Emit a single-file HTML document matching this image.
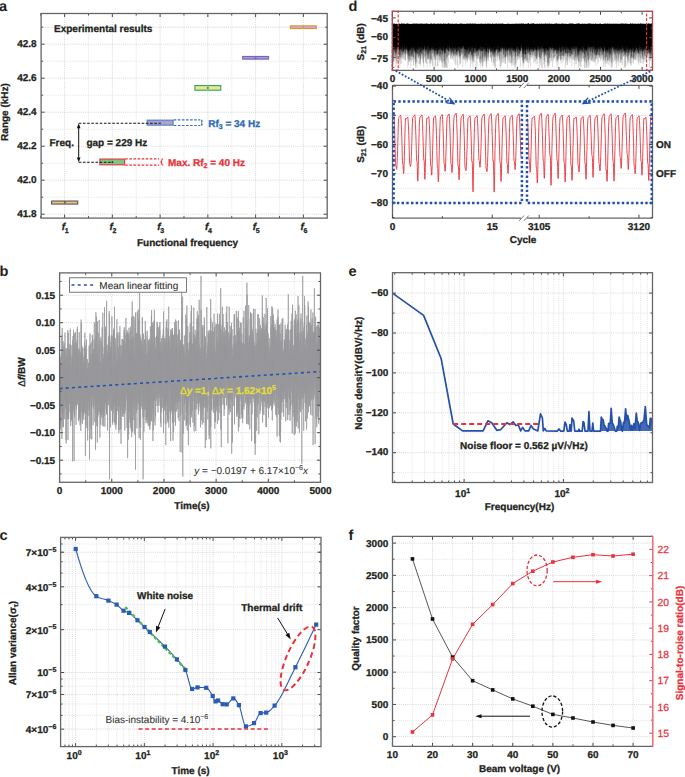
<!DOCTYPE html><html><head><meta charset="utf-8"><style>html,body{margin:0;padding:0;background:#fff}svg{display:block}</style></head><body>
<svg width="685" height="777" viewBox="0 0 685 777" font-family="Liberation Sans, sans-serif" text-rendering="geometricPrecision">
<rect width="685" height="777" fill="#fff"/>
<line x1="41.1" y1="214.2" x2="327.2" y2="214.2" stroke="#cdcdcd" stroke-width="0.8" stroke-dasharray="1 1.1"/>
<line x1="41.1" y1="197.2" x2="327.2" y2="197.2" stroke="#dddddd" stroke-width="0.8" stroke-dasharray="1 1.1"/>
<line x1="41.1" y1="180.2" x2="327.2" y2="180.2" stroke="#cdcdcd" stroke-width="0.8" stroke-dasharray="1 1.1"/>
<line x1="41.1" y1="163.2" x2="327.2" y2="163.2" stroke="#dddddd" stroke-width="0.8" stroke-dasharray="1 1.1"/>
<line x1="41.1" y1="146.2" x2="327.2" y2="146.2" stroke="#cdcdcd" stroke-width="0.8" stroke-dasharray="1 1.1"/>
<line x1="41.1" y1="129.2" x2="327.2" y2="129.2" stroke="#dddddd" stroke-width="0.8" stroke-dasharray="1 1.1"/>
<line x1="41.1" y1="112.2" x2="327.2" y2="112.2" stroke="#cdcdcd" stroke-width="0.8" stroke-dasharray="1 1.1"/>
<line x1="41.1" y1="95.2" x2="327.2" y2="95.2" stroke="#dddddd" stroke-width="0.8" stroke-dasharray="1 1.1"/>
<line x1="41.1" y1="78.2" x2="327.2" y2="78.2" stroke="#cdcdcd" stroke-width="0.8" stroke-dasharray="1 1.1"/>
<line x1="41.1" y1="61.2" x2="327.2" y2="61.2" stroke="#dddddd" stroke-width="0.8" stroke-dasharray="1 1.1"/>
<line x1="41.1" y1="44.2" x2="327.2" y2="44.2" stroke="#cdcdcd" stroke-width="0.8" stroke-dasharray="1 1.1"/>
<line x1="41.1" y1="27.2" x2="327.2" y2="27.2" stroke="#dddddd" stroke-width="0.8" stroke-dasharray="1 1.1"/>
<line x1="41.1" y1="27.2" x2="327.2" y2="27.2" stroke="#dddddd" stroke-width="0.8" stroke-dasharray="1 1.1"/>
<line x1="64.6" y1="13.5" x2="64.6" y2="218.1" stroke="#cdcdcd" stroke-width="0.8" stroke-dasharray="1 1.1"/>
<line x1="88.47" y1="13.5" x2="88.47" y2="218.1" stroke="#dddddd" stroke-width="0.8" stroke-dasharray="1 1.1"/>
<line x1="112.35" y1="13.5" x2="112.35" y2="218.1" stroke="#cdcdcd" stroke-width="0.8" stroke-dasharray="1 1.1"/>
<line x1="136.22" y1="13.5" x2="136.22" y2="218.1" stroke="#dddddd" stroke-width="0.8" stroke-dasharray="1 1.1"/>
<line x1="160.1" y1="13.5" x2="160.1" y2="218.1" stroke="#cdcdcd" stroke-width="0.8" stroke-dasharray="1 1.1"/>
<line x1="183.97" y1="13.5" x2="183.97" y2="218.1" stroke="#dddddd" stroke-width="0.8" stroke-dasharray="1 1.1"/>
<line x1="207.85" y1="13.5" x2="207.85" y2="218.1" stroke="#cdcdcd" stroke-width="0.8" stroke-dasharray="1 1.1"/>
<line x1="231.72" y1="13.5" x2="231.72" y2="218.1" stroke="#dddddd" stroke-width="0.8" stroke-dasharray="1 1.1"/>
<line x1="255.6" y1="13.5" x2="255.6" y2="218.1" stroke="#cdcdcd" stroke-width="0.8" stroke-dasharray="1 1.1"/>
<line x1="279.48" y1="13.5" x2="279.48" y2="218.1" stroke="#dddddd" stroke-width="0.8" stroke-dasharray="1 1.1"/>
<line x1="303.35" y1="13.5" x2="303.35" y2="218.1" stroke="#cdcdcd" stroke-width="0.8" stroke-dasharray="1 1.1"/>
<line x1="327.23" y1="13.5" x2="327.23" y2="218.1" stroke="#dddddd" stroke-width="0.8" stroke-dasharray="1 1.1"/>
<line x1="41.1" y1="214.2" x2="44.6" y2="214.2" stroke="#4a4a4a" stroke-width="1"/>
<line x1="327.2" y1="214.2" x2="323.7" y2="214.2" stroke="#4a4a4a" stroke-width="1"/>
<line x1="41.1" y1="180.2" x2="44.6" y2="180.2" stroke="#4a4a4a" stroke-width="1"/>
<line x1="327.2" y1="180.2" x2="323.7" y2="180.2" stroke="#4a4a4a" stroke-width="1"/>
<line x1="41.1" y1="146.2" x2="44.6" y2="146.2" stroke="#4a4a4a" stroke-width="1"/>
<line x1="327.2" y1="146.2" x2="323.7" y2="146.2" stroke="#4a4a4a" stroke-width="1"/>
<line x1="41.1" y1="112.2" x2="44.6" y2="112.2" stroke="#4a4a4a" stroke-width="1"/>
<line x1="327.2" y1="112.2" x2="323.7" y2="112.2" stroke="#4a4a4a" stroke-width="1"/>
<line x1="41.1" y1="78.2" x2="44.6" y2="78.2" stroke="#4a4a4a" stroke-width="1"/>
<line x1="327.2" y1="78.2" x2="323.7" y2="78.2" stroke="#4a4a4a" stroke-width="1"/>
<line x1="41.1" y1="44.2" x2="44.6" y2="44.2" stroke="#4a4a4a" stroke-width="1"/>
<line x1="327.2" y1="44.2" x2="323.7" y2="44.2" stroke="#4a4a4a" stroke-width="1"/>
<line x1="41.1" y1="197.2" x2="43.1" y2="197.2" stroke="#4a4a4a" stroke-width="1"/>
<line x1="327.2" y1="197.2" x2="325.2" y2="197.2" stroke="#4a4a4a" stroke-width="1"/>
<line x1="41.1" y1="163.2" x2="43.1" y2="163.2" stroke="#4a4a4a" stroke-width="1"/>
<line x1="327.2" y1="163.2" x2="325.2" y2="163.2" stroke="#4a4a4a" stroke-width="1"/>
<line x1="41.1" y1="129.2" x2="43.1" y2="129.2" stroke="#4a4a4a" stroke-width="1"/>
<line x1="327.2" y1="129.2" x2="325.2" y2="129.2" stroke="#4a4a4a" stroke-width="1"/>
<line x1="41.1" y1="95.2" x2="43.1" y2="95.2" stroke="#4a4a4a" stroke-width="1"/>
<line x1="327.2" y1="95.2" x2="325.2" y2="95.2" stroke="#4a4a4a" stroke-width="1"/>
<line x1="41.1" y1="61.2" x2="43.1" y2="61.2" stroke="#4a4a4a" stroke-width="1"/>
<line x1="327.2" y1="61.2" x2="325.2" y2="61.2" stroke="#4a4a4a" stroke-width="1"/>
<line x1="41.1" y1="27.2" x2="43.1" y2="27.2" stroke="#4a4a4a" stroke-width="1"/>
<line x1="327.2" y1="27.2" x2="325.2" y2="27.2" stroke="#4a4a4a" stroke-width="1"/>
<line x1="64.6" y1="218.1" x2="64.6" y2="214.6" stroke="#4a4a4a" stroke-width="1"/>
<line x1="64.6" y1="13.5" x2="64.6" y2="17" stroke="#4a4a4a" stroke-width="1"/>
<line x1="112.35" y1="218.1" x2="112.35" y2="214.6" stroke="#4a4a4a" stroke-width="1"/>
<line x1="112.35" y1="13.5" x2="112.35" y2="17" stroke="#4a4a4a" stroke-width="1"/>
<line x1="160.1" y1="218.1" x2="160.1" y2="214.6" stroke="#4a4a4a" stroke-width="1"/>
<line x1="160.1" y1="13.5" x2="160.1" y2="17" stroke="#4a4a4a" stroke-width="1"/>
<line x1="207.85" y1="218.1" x2="207.85" y2="214.6" stroke="#4a4a4a" stroke-width="1"/>
<line x1="207.85" y1="13.5" x2="207.85" y2="17" stroke="#4a4a4a" stroke-width="1"/>
<line x1="255.6" y1="218.1" x2="255.6" y2="214.6" stroke="#4a4a4a" stroke-width="1"/>
<line x1="255.6" y1="13.5" x2="255.6" y2="17" stroke="#4a4a4a" stroke-width="1"/>
<line x1="303.35" y1="218.1" x2="303.35" y2="214.6" stroke="#4a4a4a" stroke-width="1"/>
<line x1="303.35" y1="13.5" x2="303.35" y2="17" stroke="#4a4a4a" stroke-width="1"/>
<line x1="40.72" y1="218.1" x2="40.72" y2="216.1" stroke="#4a4a4a" stroke-width="1"/>
<line x1="40.72" y1="13.5" x2="40.72" y2="15.5" stroke="#4a4a4a" stroke-width="1"/>
<line x1="88.47" y1="218.1" x2="88.47" y2="216.1" stroke="#4a4a4a" stroke-width="1"/>
<line x1="88.47" y1="13.5" x2="88.47" y2="15.5" stroke="#4a4a4a" stroke-width="1"/>
<line x1="136.22" y1="218.1" x2="136.22" y2="216.1" stroke="#4a4a4a" stroke-width="1"/>
<line x1="136.22" y1="13.5" x2="136.22" y2="15.5" stroke="#4a4a4a" stroke-width="1"/>
<line x1="183.97" y1="218.1" x2="183.97" y2="216.1" stroke="#4a4a4a" stroke-width="1"/>
<line x1="183.97" y1="13.5" x2="183.97" y2="15.5" stroke="#4a4a4a" stroke-width="1"/>
<line x1="231.72" y1="218.1" x2="231.72" y2="216.1" stroke="#4a4a4a" stroke-width="1"/>
<line x1="231.72" y1="13.5" x2="231.72" y2="15.5" stroke="#4a4a4a" stroke-width="1"/>
<line x1="279.48" y1="218.1" x2="279.48" y2="216.1" stroke="#4a4a4a" stroke-width="1"/>
<line x1="279.48" y1="13.5" x2="279.48" y2="15.5" stroke="#4a4a4a" stroke-width="1"/>
<rect x="41.1" y="13.5" width="286.1" height="204.6" fill="none" stroke="#666" stroke-width="1.3"/>
<text x="36.6" y="217.3" font-size="10" text-anchor="end" font-weight="bold" fill="#231f20" stroke="#231f20" stroke-width="0.28">41.8</text>
<text x="36.6" y="183.3" font-size="10" text-anchor="end" font-weight="bold" fill="#231f20" stroke="#231f20" stroke-width="0.28">42.0</text>
<text x="36.6" y="149.3" font-size="10" text-anchor="end" font-weight="bold" fill="#231f20" stroke="#231f20" stroke-width="0.28">42.2</text>
<text x="36.6" y="115.3" font-size="10" text-anchor="end" font-weight="bold" fill="#231f20" stroke="#231f20" stroke-width="0.28">42.4</text>
<text x="36.6" y="81.3" font-size="10" text-anchor="end" font-weight="bold" fill="#231f20" stroke="#231f20" stroke-width="0.28">42.6</text>
<text x="36.6" y="47.3" font-size="10" text-anchor="end" font-weight="bold" fill="#231f20" stroke="#231f20" stroke-width="0.28">42.8</text>
<text x="61.8" y="230" font-size="10" font-weight="bold" fill="#231f20" stroke="#231f20" stroke-width="0.28"><tspan font-style="italic">f</tspan><tspan font-size="7" dx="-0.5" dy="2.7">1</tspan></text>
<text x="109.55" y="230" font-size="10" font-weight="bold" fill="#231f20" stroke="#231f20" stroke-width="0.28"><tspan font-style="italic">f</tspan><tspan font-size="7" dx="-0.5" dy="2.7">2</tspan></text>
<text x="157.3" y="230" font-size="10" font-weight="bold" fill="#231f20" stroke="#231f20" stroke-width="0.28"><tspan font-style="italic">f</tspan><tspan font-size="7" dx="-0.5" dy="2.7">3</tspan></text>
<text x="205.05" y="230" font-size="10" font-weight="bold" fill="#231f20" stroke="#231f20" stroke-width="0.28"><tspan font-style="italic">f</tspan><tspan font-size="7" dx="-0.5" dy="2.7">4</tspan></text>
<text x="252.8" y="230" font-size="10" font-weight="bold" fill="#231f20" stroke="#231f20" stroke-width="0.28"><tspan font-style="italic">f</tspan><tspan font-size="7" dx="-0.5" dy="2.7">5</tspan></text>
<text x="300.55" y="230" font-size="10" font-weight="bold" fill="#231f20" stroke="#231f20" stroke-width="0.28"><tspan font-style="italic">f</tspan><tspan font-size="7" dx="-0.5" dy="2.7">6</tspan></text>
<text x="187.5" y="246.2" font-size="10" text-anchor="middle" font-weight="bold" fill="#231f20" stroke="#231f20" stroke-width="0.28">Functional frequency</text>
<text x="0" y="0" font-size="10" text-anchor="middle" font-weight="bold" fill="#231f20" transform="translate(8.4,112) rotate(-90)" stroke="#231f20" stroke-width="0.28">Range (kHz)</text>
<text x="54" y="31.6" font-size="10" text-anchor="start" font-weight="bold" fill="#231f20" stroke="#231f20" stroke-width="0.28">Experimental results</text>
<rect x="290.4" y="25.85" width="25.9" height="2.7" fill="#dca3cf" stroke="#d29a2e" stroke-width="1.1"/>
<line x1="303.35" y1="25.85" x2="303.35" y2="28.55" stroke="#d29a2e" stroke-width="1"/>
<rect x="242.65" y="56.45" width="25.9" height="2.7" fill="#84a9d9" stroke="#8a5cb6" stroke-width="1.1"/>
<path d="M254.1,59 L255.6,56.5 L257.1,59Z" fill="#8a5cb6"/>
<rect x="194.9" y="85.59" width="25.9" height="4.6" fill="#ebe794" stroke="#2aa65c" stroke-width="1.1"/>
<circle cx="207.85" cy="87.89" r="1.1" fill="#2aa65c"/>
<rect x="147.15" y="120.15" width="26" height="5" fill="#b1a2c9" stroke="#4c7cc9" stroke-width="1.1"/>
<rect x="99.85" y="159.05" width="24.8" height="5.8" fill="#84c185" stroke="#e0353d" stroke-width="1.1"/>
<rect x="51.65" y="201.05" width="26.1" height="3" fill="#f8c185" stroke="#555" stroke-width="1.1"/>
<path d="M64.3,201 L66,202.5 L64.3,204Z" fill="#444"/>
<line x1="78.7" y1="123.3" x2="160" y2="123.3" stroke="#111" stroke-width="1.1" stroke-dasharray="2.6 1.6"/>
<line x1="78.7" y1="162.3" x2="112.4" y2="162.3" stroke="#111" stroke-width="1.1" stroke-dasharray="2.6 1.6"/>
<circle cx="160.2" cy="123.2" r="1" fill="#2a5cbb"/>
<circle cx="112.4" cy="162.2" r="0.9" fill="#222"/>
<line x1="78.7" y1="126" x2="78.7" y2="159.6" stroke="#111" stroke-width="1"/>
<path d="M78.7,123.3 L76.9,128.2 L80.5,128.2Z" fill="#111"/>
<path d="M78.7,162.3 L76.9,157.4 L80.5,157.4Z" fill="#111"/>
<line x1="173.7" y1="119.9" x2="200.3" y2="119.9" stroke="#3a6fc4" stroke-width="1.1" stroke-dasharray="2.6 1.5"/>
<line x1="173.7" y1="125.5" x2="200.3" y2="125.5" stroke="#3a6fc4" stroke-width="1.1" stroke-dasharray="2.6 1.5"/>
<line x1="201.8" y1="120" x2="201.8" y2="125.5" stroke="#3a6fc4" stroke-width="0.9"/>
<path d="M201.8,119.6 L200.8,121.6 L202.8,121.6Z M201.8,125.9 L200.8,123.9 L202.8,123.9Z" fill="#3a6fc4"/>
<line x1="125.2" y1="158.9" x2="159" y2="158.9" stroke="#e8323c" stroke-width="1.1" stroke-dasharray="2.6 1.5"/>
<line x1="125.2" y1="165.1" x2="159" y2="165.1" stroke="#e8323c" stroke-width="1.1" stroke-dasharray="2.6 1.5"/>
<path d="M163.2,158.7 C161.8,158.7 161.7,159.3 161.7,160.5 L161.7,161.1 C161.7,161.7 161.2,162 160.4,162 C161.2,162 161.7,162.3 161.7,162.9 L161.7,163.5 C161.7,164.7 161.8,165.3 163.2,165.3" fill="none" stroke="#e8323c" stroke-width="1.1"/>
<text x="49.5" y="145.9" font-size="10" text-anchor="start" font-weight="bold" fill="#231f20" stroke="#231f20" stroke-width="0.28">Freq.</text>
<text x="86.4" y="145.9" font-size="10" text-anchor="start" font-weight="bold" fill="#231f20" stroke="#231f20" stroke-width="0.28">gap = 229 Hz</text>
<text x="208.2" y="127" font-size="10" font-weight="bold" fill="#2f6ab6" stroke="#2f6ab6" stroke-width="0.28">Rf<tspan font-size="7" dy="2.3">3</tspan><tspan dy="-2.3"> = 34 Hz</tspan></text>
<text x="168" y="165.6" font-size="10" font-weight="bold" fill="#e8323c" stroke="#e8323c" stroke-width="0.28">Max. Rf<tspan font-size="7" dy="2.3">2</tspan><tspan dy="-2.3"> = 40 Hz</tspan></text>
<line x1="59.6" y1="473.95" x2="320.5" y2="473.95" stroke="#dddddd" stroke-width="0.8" stroke-dasharray="1 1.1"/>
<line x1="59.6" y1="460.2" x2="320.5" y2="460.2" stroke="#cdcdcd" stroke-width="0.8" stroke-dasharray="1 1.1"/>
<line x1="59.6" y1="446.45" x2="320.5" y2="446.45" stroke="#dddddd" stroke-width="0.8" stroke-dasharray="1 1.1"/>
<line x1="59.6" y1="432.7" x2="320.5" y2="432.7" stroke="#cdcdcd" stroke-width="0.8" stroke-dasharray="1 1.1"/>
<line x1="59.6" y1="418.95" x2="320.5" y2="418.95" stroke="#dddddd" stroke-width="0.8" stroke-dasharray="1 1.1"/>
<line x1="59.6" y1="405.2" x2="320.5" y2="405.2" stroke="#cdcdcd" stroke-width="0.8" stroke-dasharray="1 1.1"/>
<line x1="59.6" y1="391.45" x2="320.5" y2="391.45" stroke="#dddddd" stroke-width="0.8" stroke-dasharray="1 1.1"/>
<line x1="59.6" y1="377.7" x2="320.5" y2="377.7" stroke="#cdcdcd" stroke-width="0.8" stroke-dasharray="1 1.1"/>
<line x1="59.6" y1="363.95" x2="320.5" y2="363.95" stroke="#dddddd" stroke-width="0.8" stroke-dasharray="1 1.1"/>
<line x1="59.6" y1="350.2" x2="320.5" y2="350.2" stroke="#cdcdcd" stroke-width="0.8" stroke-dasharray="1 1.1"/>
<line x1="59.6" y1="336.45" x2="320.5" y2="336.45" stroke="#dddddd" stroke-width="0.8" stroke-dasharray="1 1.1"/>
<line x1="59.6" y1="322.7" x2="320.5" y2="322.7" stroke="#cdcdcd" stroke-width="0.8" stroke-dasharray="1 1.1"/>
<line x1="59.6" y1="308.95" x2="320.5" y2="308.95" stroke="#dddddd" stroke-width="0.8" stroke-dasharray="1 1.1"/>
<line x1="59.6" y1="295.2" x2="320.5" y2="295.2" stroke="#cdcdcd" stroke-width="0.8" stroke-dasharray="1 1.1"/>
<line x1="59.6" y1="281.45" x2="320.5" y2="281.45" stroke="#dddddd" stroke-width="0.8" stroke-dasharray="1 1.1"/>
<line x1="85.69" y1="272.9" x2="85.69" y2="482.3" stroke="#dddddd" stroke-width="0.8" stroke-dasharray="1 1.1"/>
<line x1="111.78" y1="272.9" x2="111.78" y2="482.3" stroke="#cdcdcd" stroke-width="0.8" stroke-dasharray="1 1.1"/>
<line x1="137.87" y1="272.9" x2="137.87" y2="482.3" stroke="#dddddd" stroke-width="0.8" stroke-dasharray="1 1.1"/>
<line x1="163.96" y1="272.9" x2="163.96" y2="482.3" stroke="#cdcdcd" stroke-width="0.8" stroke-dasharray="1 1.1"/>
<line x1="190.05" y1="272.9" x2="190.05" y2="482.3" stroke="#dddddd" stroke-width="0.8" stroke-dasharray="1 1.1"/>
<line x1="216.14" y1="272.9" x2="216.14" y2="482.3" stroke="#cdcdcd" stroke-width="0.8" stroke-dasharray="1 1.1"/>
<line x1="242.23" y1="272.9" x2="242.23" y2="482.3" stroke="#dddddd" stroke-width="0.8" stroke-dasharray="1 1.1"/>
<line x1="268.32" y1="272.9" x2="268.32" y2="482.3" stroke="#cdcdcd" stroke-width="0.8" stroke-dasharray="1 1.1"/>
<line x1="294.41" y1="272.9" x2="294.41" y2="482.3" stroke="#dddddd" stroke-width="0.8" stroke-dasharray="1 1.1"/>
<polygon points="60.1,363.8 61.1,375.4 62.1,355.6 63.1,358.3 64.1,353.8 65.1,362.4 66.1,357.2 67.1,363.1 68.1,369.1 69.1,358.8 70.1,349.1 71.1,377.2 72.1,368.0 73.1,353.9 74.1,357.9 75.1,346.5 76.1,374.9 77.1,342.5 78.1,362.0 79.1,355.3 80.1,356.9 81.1,351.9 82.1,377.2 83.1,362.2 84.1,369.0 85.1,352.4 86.1,352.6 87.1,369.5 88.1,374.9 89.1,363.2 90.1,358.1 91.1,366.2 92.1,351.0 93.1,354.0 94.1,349.1 95.1,360.7 96.1,334.3 97.1,357.7 98.1,341.7 99.1,361.6 100.1,362.2 101.1,365.7 102.1,357.8 103.1,363.7 104.1,354.6 105.1,348.4 106.1,374.9 107.1,351.3 108.1,357.1 109.1,353.8 110.1,347.5 111.1,356.9 112.1,363.6 113.1,365.0 114.1,349.4 115.1,357.5 116.1,366.8 117.1,358.4 118.1,362.0 119.1,352.7 120.1,365.9 121.1,364.2 122.1,349.0 123.1,357.5 124.1,343.7 125.1,360.2 126.1,352.8 127.1,337.8 128.1,346.1 129.1,339.6 130.1,352.1 131.1,357.7 132.1,338.6 133.1,353.2 134.1,357.2 135.1,333.7 136.1,352.3 137.1,361.6 138.1,335.6 139.1,341.8 140.1,340.0 141.1,353.0 142.1,354.9 143.1,358.4 144.1,360.2 145.1,361.3 146.1,353.3 147.1,357.6 148.1,366.0 149.1,349.5 150.1,352.4 151.1,339.7 152.1,343.2 153.1,364.4 154.1,339.2 155.1,365.3 156.1,352.1 157.1,348.5 158.1,341.7 159.1,342.3 160.1,347.1 161.1,356.8 162.1,360.0 163.1,343.9 164.1,360.8 165.1,342.6 166.1,344.0 167.1,360.9 168.1,342.0 169.1,341.9 170.1,351.2 171.1,343.7 172.1,344.5 173.1,350.7 174.1,355.2 175.1,356.6 176.1,347.2 177.1,347.5 178.1,355.6 179.1,351.0 180.1,349.2 181.1,345.0 182.1,341.0 183.1,347.9 184.1,358.0 185.1,364.5 186.1,352.6 187.1,349.8 188.1,348.9 189.1,357.2 190.1,349.2 191.1,341.7 192.1,364.0 193.1,339.7 194.1,342.3 195.1,346.7 196.1,352.2 197.1,331.5 198.1,337.2 199.1,344.7 200.1,359.8 201.1,355.6 202.1,356.4 203.1,363.2 204.1,340.0 205.1,344.1 206.1,359.7 207.1,358.5 208.1,348.9 209.1,336.8 210.1,350.3 211.1,336.1 212.1,347.2 213.1,350.7 214.1,347.8 215.1,351.8 216.1,356.5 217.1,349.1 218.1,356.5 219.1,344.3 220.1,339.8 221.1,339.5 222.1,341.7 223.1,349.1 224.1,339.6 225.1,348.8 226.1,347.3 227.1,325.3 228.1,351.3 229.1,349.2 230.1,340.9 231.1,332.4 232.1,361.3 233.1,357.0 234.1,348.6 235.1,349.4 236.1,348.1 237.1,348.9 238.1,331.6 239.1,333.2 240.1,349.1 241.1,341.9 242.1,351.4 243.1,353.7 244.1,352.4 245.1,346.6 246.1,355.1 247.1,326.8 248.1,361.5 249.1,336.0 250.1,342.5 251.1,330.3 252.1,341.9 253.1,337.3 254.1,350.0 255.1,349.5 256.1,343.2 257.1,350.0 258.1,338.3 259.1,342.2 260.1,341.3 261.1,343.0 262.1,341.1 263.1,337.3 264.1,338.3 265.1,339.5 266.1,338.6 267.1,346.4 268.1,343.3 269.1,358.8 270.1,348.6 271.1,340.5 272.1,342.1 273.1,338.7 274.1,336.8 275.1,331.4 276.1,349.1 277.1,344.5 278.1,332.1 279.1,346.5 280.1,352.5 281.1,350.8 282.1,354.8 283.1,354.0 284.1,354.8 285.1,341.3 286.1,340.1 287.1,353.5 288.1,338.9 289.1,356.2 290.1,348.4 291.1,340.1 292.1,337.9 293.1,355.5 294.1,352.9 295.1,330.0 296.1,343.5 297.1,343.3 298.1,332.0 299.1,346.1 300.1,342.8 301.1,353.4 302.1,350.9 303.1,339.8 304.1,328.5 305.1,353.9 306.1,350.1 307.1,341.9 308.1,334.2 309.1,330.3 310.1,329.2 311.1,340.3 312.1,346.6 313.1,332.8 314.1,334.4 315.1,341.9 316.1,353.7 317.1,343.8 318.1,345.8 319.1,338.7 320.1,349.0 320.1,381.6 319.1,380.9 318.1,403.6 317.1,402.0 316.1,379.3 315.1,381.6 314.1,380.2 313.1,390.6 312.1,385.3 311.1,391.8 310.1,380.5 309.1,384.9 308.1,385.0 307.1,390.3 306.1,396.9 305.1,396.5 304.1,382.3 303.1,387.2 302.1,393.3 301.1,397.0 300.1,376.8 299.1,399.7 298.1,386.4 297.1,390.2 296.1,382.7 295.1,380.5 294.1,403.2 293.1,392.2 292.1,393.3 291.1,376.2 290.1,399.5 289.1,390.1 288.1,383.0 287.1,392.4 286.1,402.0 285.1,387.2 284.1,386.7 283.1,388.5 282.1,392.0 281.1,412.7 280.1,390.8 279.1,395.3 278.1,396.6 277.1,388.9 276.1,390.0 275.1,379.9 274.1,387.9 273.1,390.1 272.1,398.7 271.1,378.8 270.1,382.0 269.1,397.7 268.1,401.4 267.1,387.4 266.1,395.4 265.1,393.0 264.1,393.5 263.1,400.0 262.1,388.4 261.1,391.1 260.1,388.2 259.1,381.2 258.1,391.1 257.1,383.7 256.1,398.8 255.1,387.8 254.1,397.9 253.1,383.6 252.1,392.5 251.1,396.4 250.1,387.1 249.1,385.2 248.1,405.0 247.1,391.8 246.1,386.0 245.1,381.2 244.1,393.0 243.1,392.2 242.1,392.2 241.1,403.0 240.1,379.7 239.1,401.6 238.1,393.1 237.1,413.1 236.1,376.1 235.1,378.8 234.1,391.8 233.1,380.9 232.1,401.9 231.1,389.6 230.1,387.9 229.1,393.5 228.1,400.7 227.1,366.4 226.1,382.5 225.1,392.7 224.1,384.6 223.1,388.9 222.1,393.4 221.1,394.2 220.1,384.7 219.1,386.4 218.1,391.5 217.1,406.7 216.1,404.1 215.1,414.6 214.1,381.7 213.1,383.7 212.1,394.1 211.1,389.8 210.1,388.7 209.1,393.0 208.1,384.5 207.1,401.4 206.1,389.7 205.1,400.0 204.1,388.9 203.1,400.6 202.1,410.2 201.1,393.5 200.1,398.7 199.1,399.6 198.1,385.6 197.1,395.4 196.1,393.6 195.1,399.1 194.1,379.9 193.1,382.4 192.1,389.8 191.1,388.9 190.1,402.6 189.1,380.8 188.1,388.9 187.1,392.2 186.1,399.8 185.1,399.5 184.1,384.9 183.1,386.6 182.1,407.4 181.1,386.3 180.1,396.3 179.1,396.7 178.1,402.6 177.1,388.9 176.1,399.6 175.1,399.9 174.1,407.5 173.1,399.6 172.1,390.1 171.1,398.3 170.1,386.7 169.1,384.2 168.1,400.9 167.1,396.0 166.1,405.7 165.1,395.0 164.1,403.9 163.1,393.1 162.1,397.5 161.1,398.1 160.1,401.7 159.1,384.3 158.1,392.3 157.1,396.7 156.1,377.7 155.1,399.6 154.1,383.4 153.1,408.6 152.1,388.8 151.1,405.6 150.1,404.4 149.1,402.8 148.1,416.6 147.1,399.7 146.1,396.0 145.1,398.5 144.1,396.2 143.1,403.2 142.1,387.4 141.1,393.7 140.1,418.8 139.1,393.5 138.1,380.0 137.1,399.6 136.1,406.3 135.1,394.3 134.1,399.9 133.1,408.2 132.1,404.3 131.1,408.9 130.1,406.9 129.1,405.8 128.1,393.8 127.1,413.7 126.1,387.1 125.1,406.7 124.1,389.3 123.1,400.6 122.1,392.1 121.1,412.7 120.1,403.8 119.1,407.0 118.1,398.9 117.1,399.3 116.1,415.0 115.1,402.6 114.1,402.2 113.1,407.2 112.1,394.4 111.1,402.4 110.1,394.3 109.1,393.9 108.1,401.0 107.1,392.3 106.1,401.1 105.1,403.7 104.1,406.6 103.1,408.8 102.1,413.8 101.1,402.7 100.1,414.4 99.1,398.3 98.1,402.8 97.1,421.6 96.1,390.0 95.1,405.9 94.1,394.4 93.1,406.5 92.1,393.3 91.1,408.9 90.1,395.4 89.1,399.5 88.1,401.3 87.1,405.5 86.1,402.7 85.1,406.8 84.1,412.8 83.1,396.0 82.1,409.3 81.1,411.2 80.1,404.7 79.1,412.3 78.1,398.1 77.1,399.4 76.1,407.6 75.1,389.1 74.1,395.6 73.1,404.7 72.1,416.0 71.1,418.3 70.1,399.4 69.1,403.3 68.1,414.2 67.1,409.4 66.1,408.5 65.1,401.7 64.1,387.3 63.1,413.6 62.1,407.9 61.1,406.1 60.1,409.2" fill="#9c9c9e"/>
<polyline points="59.6,372.9 59.7,376.8 59.7,386.9 59.8,404.6 59.8,412.0 59.9,406.4 59.9,385.6 60.0,363.8 60.0,374.0 60.1,394.7 60.1,356.5 60.2,356.7 60.2,373.9 60.3,396.5 60.3,364.8 60.4,363.1 60.4,409.2 60.5,405.1 60.5,425.3 60.6,421.8 60.6,429.3 60.7,398.8 60.7,402.8 60.8,379.2 60.9,375.4 60.9,367.7 61.0,422.3 61.0,392.3 61.1,384.6 61.1,380.2 61.2,406.1 61.2,388.5 61.3,400.6 61.3,399.1 61.4,353.0 61.4,409.6 61.5,389.9 61.5,354.8 61.6,391.4 61.6,395.5 61.7,407.9 61.7,371.8 61.8,414.4 61.8,369.7 61.9,334.9 61.9,438.9 62.0,377.5 62.1,368.7 62.1,395.8 62.2,328.0 62.2,363.8 62.3,412.9 62.3,385.2 62.4,374.0 62.4,399.4 62.5,355.6 62.5,376.5 62.6,352.6 62.6,355.0 62.7,394.1 62.7,366.2 62.8,396.0 62.8,383.5 62.9,426.5 62.9,392.4 63.0,379.2 63.0,361.6 63.1,341.1 63.1,419.2 63.2,396.5 63.3,358.3 63.3,427.3 63.4,381.7 63.4,374.7 63.5,354.6 63.5,364.3 63.6,413.6 63.6,387.2 63.7,357.1 63.7,346.6 63.8,390.5 63.8,353.8 63.9,382.1 63.9,384.7 64.0,393.7 64.0,409.6 64.1,384.0 64.1,367.3 64.2,343.1 64.2,363.5 64.3,374.9 64.3,364.0 64.4,387.3 64.5,350.2 64.5,368.1 64.6,367.5 64.6,419.1 64.7,362.4 64.7,401.9 64.8,401.7 64.8,385.2 64.9,397.3 64.9,355.4 65.0,332.5 65.0,399.4 65.1,399.4 65.1,380.8 65.2,396.9 65.2,396.7 65.3,376.5 65.3,367.4 65.4,361.3 65.4,402.4 65.5,377.6 65.5,387.3 65.6,407.1 65.7,357.2 65.7,408.5 65.8,349.4 65.8,386.3 65.9,348.0 65.9,396.9 66.0,379.8 66.0,440.0 66.1,398.8 66.1,371.8 66.2,443.4 66.2,374.8 66.3,403.8 66.3,369.8 66.4,404.8 66.4,375.1 66.5,381.7 66.5,409.1 66.6,355.3 66.6,363.1 66.7,374.0 66.8,391.4 66.8,388.6 66.9,408.7 66.9,348.6 67.0,384.0 67.0,419.3 67.1,395.6 67.1,378.9 67.2,419.0 67.2,355.4 67.3,410.6 67.3,362.4 67.4,375.2 67.4,409.4 67.5,382.9 67.5,396.2 67.6,388.0 67.6,377.6 67.7,397.5 67.7,414.2 67.8,399.4 67.8,330.1 67.9,386.0 68.0,439.9 68.0,392.7 68.1,344.1 68.1,414.5 68.2,385.6 68.2,369.1 68.3,418.1 68.3,332.7 68.4,378.5 68.4,379.3 68.5,409.7 68.5,372.5 68.6,401.1 68.6,369.4 68.7,418.9 68.7,407.3 68.8,345.2 68.8,384.7 68.9,396.0 68.9,366.7 69.0,400.8 69.0,403.3 69.1,358.8 69.2,395.8 69.2,390.7 69.3,382.8 69.3,350.6 69.4,355.0 69.4,379.9 69.5,404.2 69.5,386.3 69.6,360.8 69.6,349.1 69.7,383.4 69.7,382.1 69.8,354.1 69.8,368.1 69.9,361.2 69.9,393.4 70.0,343.9 70.0,411.8 70.1,354.6 70.1,371.7 70.2,373.7 70.2,328.7 70.3,340.0 70.4,399.4 70.4,413.4 70.5,360.4 70.5,406.8 70.6,376.9 70.6,354.5 70.7,418.3 70.7,426.0 70.8,381.2 70.8,378.5 70.9,389.0 70.9,389.9 71.0,387.5 71.0,421.6 71.1,377.2 71.1,394.0 71.2,415.0 71.2,363.3 71.3,394.2 71.3,375.1 71.4,418.2 71.4,407.5 71.5,419.7 71.6,402.6 71.6,377.7 71.7,392.3 71.7,370.7 71.8,378.8 71.8,345.0 71.9,416.4 71.9,356.7 72.0,376.0 72.0,378.0 72.1,416.0 72.1,387.1 72.2,368.0 72.2,378.6 72.3,371.5 72.3,378.1 72.4,357.3 72.4,375.6 72.5,425.9 72.5,399.2 72.6,428.1 72.6,461.4 72.7,392.9 72.8,340.2 72.8,387.8 72.9,405.2 72.9,394.2 73.0,336.2 73.0,370.7 73.1,384.7 73.1,381.6 73.2,381.7 73.2,378.4 73.3,353.9 73.3,370.4 73.4,404.7 73.4,356.0 73.5,401.1 73.5,329.7 73.6,411.4 73.6,382.4 73.7,391.3 73.7,398.2 73.8,344.2 73.8,359.6 73.9,391.6 74.0,352.7 74.0,372.9 74.1,461.1 74.1,381.0 74.2,389.4 74.2,395.6 74.3,414.7 74.3,385.6 74.4,376.9 74.4,357.9 74.5,376.4 74.5,383.2 74.6,333.2 74.6,417.5 74.7,371.5 74.7,415.8 74.8,346.5 74.8,346.4 74.9,368.7 74.9,353.9 75.0,376.2 75.0,386.6 75.1,389.1 75.2,372.6 75.2,387.3 75.3,343.1 75.3,360.9 75.4,375.6 75.4,382.7 75.5,403.2 75.5,331.9 75.6,358.7 75.6,377.5 75.7,382.9 75.7,405.4 75.8,381.8 75.8,359.1 75.9,381.6 75.9,394.2 76.0,393.5 76.0,424.9 76.1,423.9 76.1,381.7 76.2,403.0 76.2,352.3 76.3,407.6 76.4,374.9 76.4,348.5 76.5,392.5 76.5,409.7 76.6,381.3 76.6,368.1 76.7,402.2 76.7,378.5 76.8,342.5 76.8,386.5 76.9,376.8 76.9,378.5 77.0,370.8 77.0,399.4 77.1,404.1 77.1,340.2 77.2,405.0 77.2,363.2 77.3,329.0 77.3,372.6 77.4,369.5 77.4,326.7 77.5,387.0 77.6,384.4 77.6,400.3 77.7,370.8 77.7,347.3 77.8,362.0 77.8,401.2 77.9,398.1 77.9,390.7 78.0,373.7 78.0,392.5 78.1,383.4 78.1,380.6 78.2,371.4 78.2,386.8 78.3,359.9 78.3,388.6 78.4,375.6 78.4,366.7 78.5,354.9 78.5,371.9 78.6,421.1 78.6,353.0 78.7,420.4 78.8,408.2 78.8,348.6 78.9,364.5 78.9,399.1 79.0,418.4 79.0,386.5 79.1,396.3 79.1,355.3 79.2,332.2 79.2,377.7 79.3,403.5 79.3,408.5 79.4,385.4 79.4,386.8 79.5,418.1 79.5,374.3 79.6,412.3 79.6,351.0 79.7,354.6 79.7,349.5 79.8,398.7 79.8,365.6 79.9,381.8 80.0,389.1 80.0,396.0 80.1,407.0 80.1,425.5 80.2,356.9 80.2,381.3 80.3,378.9 80.3,371.0 80.4,418.3 80.4,404.7 80.5,380.0 80.5,378.4 80.6,384.8 80.6,367.6 80.7,373.5 80.7,412.7 80.8,431.0 80.8,396.1 80.9,386.0 80.9,422.9 81.0,351.9 81.1,378.2 81.1,319.6 81.2,387.1 81.2,385.1 81.3,405.2 81.3,323.2 81.4,397.1 81.4,340.2 81.5,397.8 81.5,374.7 81.6,411.2 81.6,396.1 81.7,361.7 81.7,412.6 81.8,345.1 81.8,380.7 81.9,409.3 81.9,399.0 82.0,388.9 82.0,397.0 82.1,397.8 82.1,377.2 82.2,388.4 82.3,401.7 82.3,417.3 82.4,385.2 82.4,353.8 82.5,424.1 82.5,378.1 82.6,394.2 82.6,380.6 82.7,348.0 82.7,375.1 82.8,347.4 82.8,393.8 82.9,383.3 82.9,389.1 83.0,392.5 83.0,394.1 83.1,370.8 83.1,357.7 83.2,376.4 83.2,396.0 83.3,393.5 83.3,372.4 83.4,362.2 83.5,409.1 83.5,399.7 83.6,415.0 83.6,381.3 83.7,389.5 83.7,419.7 83.8,387.3 83.8,366.7 83.9,413.4 83.9,412.8 84.0,408.6 84.0,388.8 84.1,374.0 84.1,401.4 84.2,399.4 84.2,355.2 84.3,396.0 84.3,369.0 84.4,413.0 84.4,395.2 84.5,405.1 84.5,342.5 84.6,397.6 84.7,363.8 84.7,370.4 84.8,368.4 84.8,376.2 84.9,332.8 84.9,409.4 85.0,398.8 85.0,396.6 85.1,406.8 85.1,356.2 85.2,352.4 85.2,404.7 85.3,404.5 85.3,386.2 85.4,348.4 85.4,455.8 85.5,365.0 85.5,406.9 85.6,351.2 85.6,413.5 85.7,364.4 85.7,401.5 85.8,425.2 85.9,345.2 85.9,352.6 86.0,398.7 86.0,374.3 86.1,428.0 86.1,394.4 86.2,368.3 86.2,393.4 86.3,378.1 86.3,402.7 86.4,383.5 86.4,376.0 86.5,339.6 86.5,340.1 86.6,390.2 86.6,395.7 86.7,383.7 86.7,414.5 86.8,389.3 86.8,371.9 86.9,405.5 86.9,369.5 87.0,381.9 87.1,392.6 87.1,392.7 87.2,397.0 87.2,399.4 87.3,384.0 87.3,384.1 87.4,359.1 87.4,365.6 87.5,413.1 87.5,368.8 87.6,440.5 87.6,384.3 87.7,374.9 87.7,430.2 87.8,397.5 87.8,369.6 87.9,375.9 87.9,379.6 88.0,392.2 88.0,411.5 88.1,390.4 88.1,395.0 88.2,376.4 88.3,402.4 88.3,375.3 88.4,363.2 88.4,393.5 88.5,387.2 88.5,367.9 88.6,401.3 88.6,367.6 88.7,399.5 88.7,375.6 88.8,385.3 88.8,384.1 88.9,382.8 88.9,362.5 89.0,375.5 89.0,383.7 89.1,416.0 89.1,363.6 89.2,345.3 89.2,363.8 89.3,382.6 89.3,415.5 89.4,347.0 89.5,363.2 89.5,459.6 89.6,364.5 89.6,409.3 89.7,408.8 89.7,395.4 89.8,353.2 89.8,381.7 89.9,383.2 89.9,348.6 90.0,333.6 90.0,358.1 90.1,386.2 90.1,393.3 90.2,388.4 90.2,364.6 90.3,368.1 90.3,383.8 90.4,368.0 90.4,396.9 90.5,376.3 90.5,370.0 90.6,366.2 90.7,343.5 90.7,380.2 90.8,389.6 90.8,380.3 90.9,408.9 90.9,438.8 91.0,363.1 91.0,383.4 91.1,382.0 91.1,425.8 91.2,395.7 91.2,388.8 91.3,408.2 91.3,429.2 91.4,394.6 91.4,353.7 91.5,366.2 91.5,393.0 91.6,375.1 91.6,367.7 91.7,439.5 91.7,379.0 91.8,365.3 91.9,374.7 91.9,341.7 92.0,351.0 92.0,381.0 92.1,377.0 92.1,357.2 92.2,393.3 92.2,373.9 92.3,360.0 92.3,334.8 92.4,394.2 92.4,388.0 92.5,378.5 92.5,337.8 92.6,394.2 92.6,348.0 92.7,387.3 92.7,385.0 92.8,379.9 92.8,361.8 92.9,365.3 92.9,406.5 93.0,385.9 93.1,380.8 93.1,407.5 93.2,425.2 93.2,353.2 93.3,383.7 93.3,365.1 93.4,398.1 93.4,349.7 93.5,379.0 93.5,354.0 93.6,407.2 93.6,409.1 93.7,377.4 93.7,395.6 93.8,361.7 93.8,365.8 93.9,391.2 93.9,394.4 94.0,379.4 94.0,339.4 94.1,379.1 94.2,397.1 94.2,362.4 94.3,322.3 94.3,337.2 94.4,373.8 94.4,374.5 94.5,349.1 94.5,381.5 94.6,389.1 94.6,371.3 94.7,357.4 94.7,402.8 94.8,422.1 94.8,411.4 94.9,376.3 94.9,405.4 95.0,392.8 95.0,377.7 95.1,360.7 95.1,395.2 95.2,360.2 95.2,379.7 95.3,384.9 95.4,405.9 95.4,342.6 95.5,380.0 95.5,449.8 95.6,388.7 95.6,375.8 95.7,351.9 95.7,412.4 95.8,408.5 95.8,382.3 95.9,312.2 95.9,342.7 96.0,378.3 96.0,379.8 96.1,323.7 96.1,390.0 96.2,395.5 96.2,335.9 96.3,354.1 96.3,363.6 96.4,388.0 96.4,334.3 96.5,316.8 96.6,366.5 96.6,357.8 96.7,426.1 96.7,379.5 96.8,391.2 96.8,357.8 96.9,376.4 96.9,400.8 97.0,421.6 97.0,356.7 97.1,380.0 97.1,403.0 97.2,399.9 97.2,388.6 97.3,442.5 97.3,352.3 97.4,378.9 97.4,357.7 97.5,321.1 97.5,362.7 97.6,426.7 97.6,393.4 97.7,413.2 97.8,379.7 97.8,381.7 97.9,416.7 97.9,358.8 98.0,414.8 98.0,382.8 98.1,379.1 98.1,392.1 98.2,399.2 98.2,380.7 98.3,389.2 98.3,402.8 98.4,335.9 98.4,332.9 98.5,338.8 98.5,341.7 98.6,367.0 98.6,396.2 98.7,365.1 98.7,398.3 98.8,373.8 98.8,386.5 98.9,379.5 99.0,379.2 99.0,389.6 99.1,411.9 99.1,385.7 99.2,319.9 99.2,378.8 99.3,400.1 99.3,360.7 99.4,361.6 99.4,412.0 99.5,382.1 99.5,355.1 99.6,375.3 99.6,363.4 99.7,341.5 99.7,384.5 99.8,385.5 99.8,390.8 99.9,338.5 99.9,437.7 100.0,416.3 100.0,400.6 100.1,362.2 100.2,365.5 100.2,363.4 100.3,414.4 100.3,361.8 100.4,381.8 100.4,402.5 100.5,373.5 100.5,402.4 100.6,424.6 100.6,395.6 100.7,413.2 100.7,394.6 100.8,365.7 100.8,380.8 100.9,337.2 100.9,384.1 101.0,411.5 101.0,391.3 101.1,399.2 101.1,402.7 101.2,380.1 101.2,401.0 101.3,417.9 101.4,362.9 101.4,372.7 101.5,364.4 101.5,374.6 101.6,370.6 101.6,382.2 101.7,340.8 101.7,357.8 101.8,365.1 101.8,373.6 101.9,414.5 101.9,374.8 102.0,381.6 102.0,344.7 102.1,415.0 102.1,327.4 102.2,378.6 102.2,413.8 102.3,425.5 102.3,377.7 102.4,379.0 102.4,396.7 102.5,377.2 102.6,397.8 102.6,363.7 102.7,401.5 102.7,395.5 102.8,354.9 102.8,312.7 102.9,400.2 102.9,379.3 103.0,409.8 103.0,361.9 103.1,410.8 103.1,397.6 103.2,379.0 103.2,391.6 103.3,398.8 103.3,408.8 103.4,417.8 103.4,406.1 103.5,384.9 103.5,376.9 103.6,381.0 103.6,426.5 103.7,385.2 103.8,358.1 103.8,373.1 103.9,384.1 103.9,412.0 104.0,353.8 104.0,390.8 104.1,407.7 104.1,406.6 104.2,347.1 104.2,377.3 104.3,354.6 104.3,401.0 104.4,358.1 104.4,388.7 104.5,386.7 104.5,307.3 104.6,357.8 104.6,415.9 104.7,371.8 104.7,370.3 104.8,340.2 104.8,389.3 104.9,426.7 105.0,405.2 105.0,356.6 105.1,373.9 105.1,348.4 105.2,379.0 105.2,369.3 105.3,403.7 105.3,364.5 105.4,328.9 105.4,353.2 105.5,361.0 105.5,376.3 105.6,326.5 105.6,393.2 105.7,379.8 105.7,375.6 105.8,367.2 105.8,387.7 105.9,375.6 105.9,388.4 106.0,375.2 106.0,377.9 106.1,408.9 106.2,376.0 106.2,349.2 106.3,401.1 106.3,389.0 106.4,374.9 106.4,413.5 106.5,377.8 106.5,413.2 106.6,360.2 106.6,300.8 106.7,342.1 106.7,362.9 106.8,365.0 106.8,369.2 106.9,381.0 106.9,344.5 107.0,415.0 107.0,354.3 107.1,392.3 107.1,351.3 107.2,379.3 107.2,402.1 107.3,366.9 107.4,360.7 107.4,370.5 107.5,359.6 107.5,362.2 107.6,430.5 107.6,357.1 107.7,355.9 107.7,401.0 107.8,375.5 107.8,364.4 107.9,405.0 107.9,394.6 108.0,382.6 108.0,345.2 108.1,401.1 108.1,377.1 108.2,382.8 108.2,405.0 108.3,360.5 108.3,394.4 108.4,395.0 108.5,385.1 108.5,365.0 108.6,336.6 108.6,392.5 108.7,357.3 108.7,372.6 108.8,383.7 108.8,363.3 108.9,394.3 108.9,379.8 109.0,382.6 109.0,378.1 109.1,381.2 109.1,393.9 109.2,394.0 109.2,311.0 109.3,365.9 109.3,363.2 109.4,333.2 109.4,357.7 109.5,314.4 109.5,479.4 109.6,353.8 109.7,383.2 109.7,343.3 109.8,337.8 109.8,409.3 109.9,394.3 109.9,367.2 110.0,350.0 110.0,370.7 110.1,380.4 110.1,373.2 110.2,368.5 110.2,366.1 110.3,347.1 110.3,427.4 110.4,355.7 110.4,395.8 110.5,347.5 110.5,381.4 110.6,383.2 110.6,367.9 110.7,408.1 110.7,402.4 110.8,403.5 110.9,377.2 110.9,356.9 111.0,341.9 111.0,379.1 111.1,348.1 111.1,371.0 111.2,377.7 111.2,378.4 111.3,335.3 111.3,390.5 111.4,391.2 111.4,361.4 111.5,393.4 111.5,410.6 111.6,370.5 111.6,387.0 111.7,351.1 111.7,391.2 111.8,365.4 111.8,372.5 111.9,410.7 111.9,316.3 112.0,364.1 112.1,335.6 112.1,363.6 112.2,394.4 112.2,373.2 112.3,366.8 112.3,379.7 112.4,371.7 112.4,384.5 112.5,422.1 112.5,384.2 112.6,424.6 112.6,369.6 112.7,394.7 112.7,393.4 112.8,384.8 112.8,375.2 112.9,413.6 112.9,411.1 113.0,399.3 113.0,409.0 113.1,402.9 113.1,337.1 113.2,398.9 113.3,356.2 113.3,407.2 113.4,374.4 113.4,384.5 113.5,380.0 113.5,365.0 113.6,330.2 113.6,364.5 113.7,373.7 113.7,403.6 113.8,364.8 113.8,367.1 113.9,328.3 113.9,377.3 114.0,333.6 114.0,422.2 114.1,399.5 114.1,358.5 114.2,379.8 114.2,395.6 114.3,387.5 114.3,402.2 114.4,371.0 114.5,306.6 114.5,349.4 114.6,404.4 114.6,395.7 114.7,381.0 114.7,358.2 114.8,389.7 114.8,392.9 114.9,358.3 114.9,346.1 115.0,392.8 115.0,423.3 115.1,413.1 115.1,394.0 115.2,425.4 115.2,357.5 115.3,372.0 115.3,357.7 115.4,338.1 115.4,339.0 115.5,402.6 115.5,372.7 115.6,344.5 115.7,388.2 115.7,397.7 115.8,379.1 115.8,420.7 115.9,350.4 115.9,429.7 116.0,409.8 116.0,366.8 116.1,389.9 116.1,392.7 116.2,371.9 116.2,380.4 116.3,366.9 116.3,424.8 116.4,388.7 116.4,415.0 116.5,364.0 116.5,382.9 116.6,397.3 116.6,405.4 116.7,360.2 116.7,381.4 116.8,380.5 116.9,330.0 116.9,319.2 117.0,406.4 117.0,367.0 117.1,334.1 117.1,360.4 117.2,369.1 117.2,378.4 117.3,399.3 117.3,373.1 117.4,385.7 117.4,358.4 117.5,384.2 117.5,395.9 117.6,411.0 117.6,371.5 117.7,394.6 117.7,360.9 117.8,332.3 117.8,373.5 117.9,371.5 117.9,374.0 118.0,362.0 118.1,383.5 118.1,384.1 118.2,376.9 118.2,392.2 118.3,346.9 118.3,366.3 118.4,414.9 118.4,400.7 118.5,398.9 118.5,376.6 118.6,400.2 118.6,365.7 118.7,420.4 118.7,429.9 118.8,390.2 118.8,433.3 118.9,378.4 118.9,363.5 119.0,357.6 119.0,405.4 119.1,407.0 119.1,332.4 119.2,353.2 119.3,384.1 119.3,347.1 119.4,336.3 119.4,352.7 119.5,377.8 119.5,356.3 119.6,355.6 119.6,390.5 119.7,403.4 119.7,373.3 119.8,403.7 119.8,377.1 119.9,374.0 119.9,326.1 120.0,398.3 120.0,430.2 120.1,365.9 120.1,369.9 120.2,354.6 120.2,386.8 120.3,390.9 120.3,412.3 120.4,403.8 120.5,344.9 120.5,373.8 120.6,406.0 120.6,419.5 120.7,374.9 120.7,378.5 120.8,391.4 120.8,384.2 120.9,428.5 120.9,412.7 121.0,359.1 121.0,443.8 121.1,388.6 121.1,376.6 121.2,383.5 121.2,386.4 121.3,364.2 121.3,372.6 121.4,358.9 121.4,361.6 121.5,401.1 121.6,400.4 121.6,392.0 121.7,381.7 121.7,354.8 121.8,345.8 121.8,356.0 121.9,362.7 121.9,350.8 122.0,339.1 122.0,349.0 122.1,379.1 122.1,386.6 122.2,359.1 122.2,410.0 122.3,361.3 122.3,392.1 122.4,391.8 122.4,407.4 122.5,416.4 122.5,373.1 122.6,338.9 122.6,357.0 122.7,381.6 122.8,378.9 122.8,387.4 122.9,357.5 122.9,383.9 123.0,360.0 123.0,346.6 123.1,384.5 123.1,411.2 123.2,400.6 123.2,417.0 123.3,396.0 123.3,340.3 123.4,365.4 123.4,414.0 123.5,363.6 123.5,362.0 123.6,373.6 123.6,407.8 123.7,387.0 123.7,358.0 123.8,360.2 123.8,340.2 123.9,344.9 124.0,356.2 124.0,346.0 124.1,330.4 124.1,407.3 124.2,369.7 124.2,364.5 124.3,394.4 124.3,327.3 124.4,386.3 124.4,386.0 124.5,343.7 124.5,356.9 124.6,389.3 124.6,353.8 124.7,348.3 124.7,377.9 124.8,430.6 124.8,378.8 124.9,388.9 124.9,413.5 125.0,369.3 125.0,368.1 125.1,383.9 125.2,410.4 125.2,342.6 125.3,368.3 125.3,406.7 125.4,375.2 125.4,360.2 125.5,390.7 125.5,365.0 125.6,376.0 125.6,394.0 125.7,370.8 125.7,359.2 125.8,400.1 125.8,369.8 125.9,366.2 125.9,318.0 126.0,392.0 126.0,334.9 126.1,375.2 126.1,386.5 126.2,360.0 126.2,346.5 126.3,386.3 126.4,371.2 126.4,376.1 126.5,387.1 126.5,358.6 126.6,352.8 126.6,337.8 126.7,368.0 126.7,345.8 126.8,332.4 126.8,371.8 126.9,413.7 126.9,422.9 127.0,427.8 127.0,330.1 127.1,396.7 127.1,345.7 127.2,375.2 127.2,332.6 127.3,355.2 127.3,390.5 127.4,380.9 127.4,396.4 127.5,383.9 127.6,458.1 127.6,375.7 127.7,333.7 127.7,416.8 127.8,373.0 127.8,380.7 127.9,373.4 127.9,349.7 128.0,362.9 128.0,344.1 128.1,426.2 128.1,335.9 128.2,373.2 128.2,360.1 128.3,369.2 128.3,439.6 128.4,393.8 128.4,372.6 128.5,346.1 128.5,371.9 128.6,369.3 128.6,434.5 128.7,337.8 128.8,333.0 128.8,378.7 128.9,385.8 128.9,418.7 129.0,373.3 129.0,327.7 129.1,361.5 129.1,353.0 129.2,363.4 129.2,411.5 129.3,339.6 129.3,405.8 129.4,389.7 129.4,368.4 129.5,357.6 129.5,353.5 129.6,380.4 129.6,352.1 129.7,401.3 129.7,373.5 129.8,385.8 129.8,411.5 129.9,382.1 130.0,380.3 130.0,422.6 130.1,406.9 130.1,395.1 130.2,374.9 130.2,351.2 130.3,331.0 130.3,428.2 130.4,406.2 130.4,357.9 130.5,393.0 130.5,375.5 130.6,326.7 130.6,379.0 130.7,374.0 130.7,421.7 130.8,383.1 130.8,370.0 130.9,397.0 130.9,408.9 131.0,347.5 131.0,343.3 131.1,398.2 131.2,360.4 131.2,360.0 131.3,431.1 131.3,400.8 131.4,353.7 131.4,385.7 131.5,421.2 131.5,393.6 131.6,357.7 131.6,341.3 131.7,437.2 131.7,316.9 131.8,404.3 131.8,352.3 131.9,344.8 131.9,337.5 132.0,379.4 132.0,394.2 132.1,344.2 132.1,379.9 132.2,432.3 132.2,301.5 132.3,348.0 132.4,340.7 132.4,407.0 132.5,347.1 132.5,345.0 132.6,338.6 132.6,383.1 132.7,408.2 132.7,377.6 132.8,431.3 132.8,408.6 132.9,367.1 132.9,415.7 133.0,382.8 133.0,373.1 133.1,315.9 133.1,335.1 133.2,370.6 133.2,353.2 133.3,399.1 133.3,383.7 133.4,349.4 133.4,392.3 133.5,381.5 133.6,404.8 133.6,357.2 133.7,337.2 133.7,359.0 133.8,363.2 133.8,420.0 133.9,396.3 133.9,399.9 134.0,316.8 134.0,319.7 134.1,360.4 134.1,388.8 134.2,361.8 134.2,381.1 134.3,357.9 134.3,366.3 134.4,371.7 134.4,358.3 134.5,387.9 134.5,403.9 134.6,434.5 134.6,391.2 134.7,393.6 134.8,387.4 134.8,394.2 134.9,378.9 134.9,370.7 135.0,381.2 135.0,373.7 135.1,394.3 135.1,373.9 135.2,319.2 135.2,350.6 135.3,368.3 135.3,333.7 135.4,404.2 135.4,328.0 135.5,396.1 135.5,469.7 135.6,312.4 135.6,338.9 135.7,395.8 135.7,368.8 135.8,383.5 135.9,369.7 135.9,409.2 136.0,401.7 136.0,361.5 136.1,388.8 136.1,355.3 136.2,380.9 136.2,333.0 136.3,366.3 136.3,373.8 136.4,413.0 136.4,406.3 136.5,333.7 136.5,407.0 136.6,352.3 136.6,375.5 136.7,397.9 136.7,388.1 136.8,386.2 136.8,387.2 136.9,369.4 136.9,428.4 137.0,401.7 137.1,391.8 137.1,361.6 137.2,366.8 137.2,358.8 137.3,311.6 137.3,355.2 137.4,366.5 137.4,376.9 137.5,388.4 137.5,399.6 137.6,402.0 137.6,400.6 137.7,380.0 137.7,364.6 137.8,370.9 137.8,375.5 137.9,410.0 137.9,331.3 138.0,359.5 138.0,335.6 138.1,364.6 138.1,335.8 138.2,375.0 138.3,362.7 138.3,309.6 138.4,403.8 138.4,346.7 138.5,318.6 138.5,351.2 138.6,349.5 138.6,333.2 138.7,387.8 138.7,365.3 138.8,391.2 138.8,393.5 138.9,404.4 138.9,385.9 139.0,353.6 139.0,375.4 139.1,438.0 139.1,320.5 139.2,341.8 139.2,340.8 139.3,391.3 139.3,359.5 139.4,345.9 139.5,373.4 139.5,427.7 139.6,354.5 139.6,293.1 139.7,423.4 139.7,340.0 139.8,368.6 139.8,379.0 139.9,348.9 139.9,406.9 140.0,364.9 140.0,334.5 140.1,373.0 140.1,393.7 140.2,372.6 140.2,370.4 140.3,337.7 140.3,418.8 140.4,362.5 140.4,439.8 140.5,349.1 140.5,374.0 140.6,427.7 140.7,372.1 140.7,406.7 140.8,390.7 140.8,337.6 140.9,393.7 140.9,395.5 141.0,345.6 141.0,376.0 141.1,353.0 141.1,368.5 141.2,398.4 141.2,379.4 141.3,354.5 141.3,356.4 141.4,374.3 141.4,372.2 141.5,376.3 141.5,385.3 141.6,340.5 141.6,372.5 141.7,406.2 141.7,386.1 141.8,348.2 141.9,360.9 141.9,355.8 142.0,385.0 142.0,382.5 142.1,409.1 142.1,394.4 142.2,366.4 142.2,387.4 142.3,363.1 142.3,317.2 142.4,354.9 142.4,381.1 142.5,318.4 142.5,356.1 142.6,377.8 142.6,345.2 142.7,373.2 142.7,398.1 142.8,367.8 142.8,384.8 142.9,417.5 142.9,358.4 143.0,385.6 143.1,376.3 143.1,479.4 143.2,380.9 143.2,369.7 143.3,367.9 143.3,396.8 143.4,344.0 143.4,403.2 143.5,381.3 143.5,333.7 143.6,403.8 143.6,390.8 143.7,353.8 143.7,379.8 143.8,372.8 143.8,371.4 143.9,362.9 143.9,432.1 144.0,383.4 144.0,417.1 144.1,383.2 144.1,391.6 144.2,396.2 144.3,366.6 144.3,403.9 144.4,360.2 144.4,364.6 144.5,388.6 144.5,340.9 144.6,339.3 144.6,384.1 144.7,376.2 144.7,377.1 144.8,410.2 144.8,361.3 144.9,340.4 144.9,392.8 145.0,395.7 145.0,354.2 145.1,391.7 145.1,370.9 145.2,407.3 145.2,364.0 145.3,392.2 145.3,320.9 145.4,385.9 145.5,409.3 145.5,389.6 145.6,398.5 145.6,351.5 145.7,372.8 145.7,331.7 145.8,392.3 145.8,344.4 145.9,365.5 145.9,353.3 146.0,423.3 146.0,370.6 146.1,383.4 146.1,374.7 146.2,420.1 146.2,358.5 146.3,382.3 146.3,396.0 146.4,372.6 146.4,357.0 146.5,361.0 146.5,409.8 146.6,419.3 146.7,354.1 146.7,357.6 146.8,380.7 146.8,396.0 146.9,397.5 146.9,388.6 147.0,367.3 147.0,393.6 147.1,337.6 147.1,359.1 147.2,381.1 147.2,330.7 147.3,413.7 147.3,423.1 147.4,399.7 147.4,368.7 147.5,381.2 147.5,393.4 147.6,385.9 147.6,416.6 147.7,362.4 147.7,416.8 147.8,394.0 147.9,375.9 147.9,405.1 148.0,410.6 148.0,378.2 148.1,371.5 148.1,353.1 148.2,370.0 148.2,405.3 148.3,410.0 148.3,426.1 148.4,366.0 148.4,423.6 148.5,339.9 148.5,376.7 148.6,398.5 148.6,345.2 148.7,358.4 148.7,376.2 148.8,350.8 148.8,380.3 148.9,344.2 149.0,341.5 149.0,376.6 149.1,349.5 149.1,376.3 149.2,350.9 149.2,405.9 149.3,378.0 149.3,412.9 149.4,402.8 149.4,359.2 149.5,368.0 149.5,365.3 149.6,427.4 149.6,374.3 149.7,338.4 149.7,404.4 149.8,374.6 149.8,429.8 149.9,355.0 149.9,399.5 150.0,346.1 150.0,425.0 150.1,353.4 150.2,380.7 150.2,352.4 150.3,385.3 150.3,384.9 150.4,326.5 150.4,409.3 150.5,384.2 150.5,395.3 150.6,391.7 150.6,348.9 150.7,343.0 150.7,405.6 150.8,420.9 150.8,339.6 150.9,339.7 150.9,355.8 151.0,349.6 151.0,400.5 151.1,380.6 151.1,406.9 151.2,420.2 151.2,358.7 151.3,387.5 151.4,316.3 151.4,364.6 151.5,382.1 151.5,361.6 151.6,310.1 151.6,367.4 151.7,421.3 151.7,354.4 151.8,343.2 151.8,400.2 151.9,397.3 151.9,337.0 152.0,384.8 152.0,386.0 152.1,372.7 152.1,388.8 152.2,368.8 152.2,384.5 152.3,327.5 152.3,322.7 152.4,388.6 152.4,363.9 152.5,352.6 152.6,362.4 152.6,325.9 152.7,377.5 152.7,408.6 152.8,349.8 152.8,405.8 152.9,441.1 152.9,352.6 153.0,396.2 153.0,399.6 153.1,376.1 153.1,369.4 153.2,414.5 153.2,383.5 153.3,364.4 153.3,430.4 153.4,371.9 153.4,399.7 153.5,381.3 153.5,367.8 153.6,379.9 153.6,414.5 153.7,321.4 153.8,398.5 153.8,355.6 153.9,421.7 153.9,346.5 154.0,383.3 154.0,342.3 154.1,383.4 154.1,339.2 154.2,366.9 154.2,371.6 154.3,320.1 154.3,379.4 154.4,380.0 154.4,309.7 154.5,369.1 154.5,381.5 154.6,355.8 154.6,401.0 154.7,350.3 154.7,342.7 154.8,399.6 154.8,391.2 154.9,385.1 155.0,374.9 155.0,393.9 155.1,349.6 155.1,425.5 155.2,388.6 155.2,372.8 155.3,382.1 155.3,365.3 155.4,385.2 155.4,384.2 155.5,369.9 155.5,382.7 155.6,416.5 155.6,411.5 155.7,364.8 155.7,400.7 155.8,374.7 155.8,347.3 155.9,355.7 155.9,337.4 156.0,366.2 156.0,400.4 156.1,356.8 156.2,368.5 156.2,336.8 156.3,363.5 156.3,352.5 156.4,368.8 156.4,367.5 156.5,356.5 156.5,352.1 156.6,377.7 156.6,377.3 156.7,350.3 156.7,396.7 156.8,335.5 156.8,385.5 156.9,351.7 156.9,383.4 157.0,370.1 157.0,321.7 157.1,387.9 157.1,405.9 157.2,397.0 157.2,380.4 157.3,327.5 157.4,379.9 157.4,365.4 157.5,398.1 157.5,376.3 157.6,348.5 157.6,323.6 157.7,385.1 157.7,354.3 157.8,394.5 157.8,392.3 157.9,364.9 157.9,383.6 158.0,412.4 158.0,365.3 158.1,359.2 158.1,386.2 158.2,405.0 158.2,341.7 158.3,365.6 158.3,367.4 158.4,327.4 158.4,380.3 158.5,336.6 158.6,385.6 158.6,373.2 158.7,375.7 158.7,365.8 158.8,347.3 158.8,378.4 158.9,370.4 158.9,380.4 159.0,342.2 159.0,389.3 159.1,397.9 159.1,357.9 159.2,384.3 159.2,374.1 159.3,387.0 159.3,342.3 159.4,332.6 159.4,365.8 159.5,371.5 159.5,326.0 159.6,352.1 159.6,390.6 159.7,362.3 159.8,366.4 159.8,329.9 159.9,387.5 159.9,322.0 160.0,393.7 160.0,362.3 160.1,406.1 160.1,342.1 160.2,401.7 160.2,393.4 160.3,357.2 160.3,347.1 160.4,403.2 160.4,381.9 160.5,423.2 160.5,367.6 160.6,386.9 160.6,388.0 160.7,398.1 160.7,385.1 160.8,388.7 160.8,343.9 160.9,341.5 161.0,427.0 161.0,386.3 161.1,383.8 161.1,356.8 161.2,407.7 161.2,381.5 161.3,393.6 161.3,357.0 161.4,386.0 161.4,351.3 161.5,373.2 161.5,380.4 161.6,412.4 161.6,360.0 161.7,374.5 161.7,371.5 161.8,366.9 161.8,338.0 161.9,407.6 161.9,381.9 162.0,338.7 162.0,383.2 162.1,387.4 162.2,385.6 162.2,384.6 162.3,406.8 162.3,407.7 162.4,376.2 162.4,392.8 162.5,397.5 162.5,348.6 162.6,394.0 162.6,370.0 162.7,358.0 162.7,343.9 162.8,369.9 162.8,348.8 162.9,396.8 162.9,334.6 163.0,360.7 163.0,395.8 163.1,377.5 163.1,367.0 163.2,353.0 163.3,328.6 163.3,340.9 163.4,393.1 163.4,379.6 163.5,433.1 163.5,374.6 163.6,376.7 163.6,311.4 163.7,388.2 163.7,423.7 163.8,376.1 163.8,375.6 163.9,403.9 163.9,394.8 164.0,378.8 164.0,402.5 164.1,367.7 164.1,390.8 164.2,360.8 164.2,384.5 164.3,393.2 164.3,405.2 164.4,380.4 164.5,348.0 164.5,409.9 164.6,360.1 164.6,338.4 164.7,388.3 164.7,362.1 164.8,388.3 164.8,346.2 164.9,354.4 164.9,373.8 165.0,410.9 165.0,395.0 165.1,358.7 165.1,337.7 165.2,379.5 165.2,348.7 165.3,387.7 165.3,401.5 165.4,363.8 165.4,365.5 165.5,404.1 165.5,342.6 165.6,341.6 165.7,400.6 165.7,418.6 165.8,445.1 165.8,390.1 165.9,424.1 165.9,355.9 166.0,359.6 166.0,398.6 166.1,327.4 166.1,364.3 166.2,391.2 166.2,364.9 166.3,405.7 166.3,387.8 166.4,321.6 166.4,387.9 166.5,392.0 166.5,321.9 166.6,344.0 166.6,374.9 166.7,365.0 166.7,361.0 166.8,344.4 166.9,370.5 166.9,319.3 167.0,396.0 167.0,372.8 167.1,414.7 167.1,360.9 167.2,368.3 167.2,346.3 167.3,386.5 167.3,369.8 167.4,374.3 167.4,389.9 167.5,404.9 167.5,366.2 167.6,420.3 167.6,383.3 167.7,362.7 167.7,392.7 167.8,389.5 167.8,404.5 167.9,328.2 167.9,422.4 168.0,342.0 168.1,352.8 168.1,384.5 168.2,395.5 168.2,346.8 168.3,333.2 168.3,422.5 168.4,391.6 168.4,353.6 168.5,365.8 168.5,330.1 168.6,400.9 168.6,367.7 168.7,391.4 168.7,306.6 168.8,357.3 168.8,427.6 168.9,368.5 168.9,375.2 169.0,339.5 169.0,378.1 169.1,377.8 169.1,376.0 169.2,335.8 169.3,377.0 169.3,346.6 169.4,341.9 169.4,386.4 169.5,381.5 169.5,384.2 169.6,376.0 169.6,351.1 169.7,411.4 169.7,354.0 169.8,349.6 169.8,376.0 169.9,383.4 169.9,372.0 170.0,354.7 170.0,366.8 170.1,359.8 170.1,354.9 170.2,386.7 170.2,351.2 170.3,418.4 170.3,367.3 170.4,390.1 170.5,379.1 170.5,348.6 170.6,359.2 170.6,441.2 170.7,378.0 170.7,413.2 170.8,343.7 170.8,329.5 170.9,372.7 170.9,366.3 171.0,386.2 171.0,368.1 171.1,353.2 171.1,331.4 171.2,411.0 171.2,335.8 171.3,398.0 171.3,362.3 171.4,350.1 171.4,354.9 171.5,398.3 171.5,396.2 171.6,390.1 171.7,366.6 171.7,344.5 171.8,410.0 171.8,363.6 171.9,360.1 171.9,388.0 172.0,382.2 172.0,328.8 172.1,363.0 172.1,348.2 172.2,367.4 172.2,330.7 172.3,414.2 172.3,328.1 172.4,376.9 172.4,378.8 172.5,388.5 172.5,422.8 172.6,363.5 172.6,392.9 172.7,350.7 172.7,422.8 172.8,334.7 172.9,373.4 172.9,386.8 173.0,440.7 173.0,390.8 173.1,384.5 173.1,389.2 173.2,370.3 173.2,378.2 173.3,409.0 173.3,372.8 173.4,399.6 173.4,337.6 173.5,334.9 173.5,364.5 173.6,395.6 173.6,431.9 173.7,376.5 173.7,412.6 173.8,381.8 173.8,392.1 173.9,372.4 173.9,385.3 174.0,366.9 174.1,335.6 174.1,394.9 174.2,393.2 174.2,400.8 174.3,342.7 174.3,385.2 174.4,407.5 174.4,411.4 174.5,405.6 174.5,355.2 174.6,322.1 174.6,392.8 174.7,332.5 174.7,398.7 174.8,399.9 174.8,382.6 174.9,380.5 174.9,405.3 175.0,335.1 175.0,422.1 175.1,368.6 175.1,370.0 175.2,384.8 175.3,356.6 175.3,381.0 175.4,381.8 175.4,377.5 175.5,366.5 175.5,425.7 175.6,319.5 175.6,323.7 175.7,347.2 175.7,352.5 175.8,399.6 175.8,363.9 175.9,395.3 175.9,361.9 176.0,346.1 176.0,393.8 176.1,381.3 176.1,402.0 176.2,384.4 176.2,369.2 176.3,385.1 176.4,387.3 176.4,327.6 176.5,411.6 176.5,410.3 176.6,396.5 176.6,364.1 176.7,321.1 176.7,357.0 176.8,385.8 176.8,388.9 176.9,360.9 176.9,396.8 177.0,346.4 177.0,356.0 177.1,376.3 177.1,356.9 177.2,359.3 177.2,343.0 177.3,403.5 177.3,347.5 177.4,384.0 177.4,396.0 177.5,354.7 177.6,364.4 177.6,396.1 177.7,409.3 177.7,380.8 177.8,355.6 177.8,334.5 177.9,356.3 177.9,336.8 178.0,402.6 178.0,389.9 178.1,367.7 178.1,403.0 178.2,418.0 178.2,370.8 178.3,379.3 178.3,399.5 178.4,374.0 178.4,380.2 178.5,320.3 178.5,398.1 178.6,379.4 178.6,369.6 178.7,390.3 178.8,400.1 178.8,387.3 178.9,355.1 178.9,351.0 179.0,393.6 179.0,420.9 179.1,396.7 179.1,388.3 179.2,330.8 179.2,394.2 179.3,385.5 179.3,369.2 179.4,382.0 179.4,398.3 179.5,337.5 179.5,329.5 179.6,390.4 179.6,344.8 179.7,369.1 179.7,349.4 179.8,373.3 179.8,374.5 179.9,402.3 180.0,390.6 180.0,370.8 180.1,348.0 180.1,396.3 180.2,386.9 180.2,452.0 180.3,376.2 180.3,416.1 180.4,361.5 180.4,349.2 180.5,339.9 180.5,368.8 180.6,395.1 180.6,373.6 180.7,381.4 180.7,394.0 180.8,386.3 180.8,345.0 180.9,367.0 180.9,347.8 181.0,367.3 181.0,370.9 181.1,378.3 181.2,363.2 181.2,342.1 181.3,354.3 181.3,389.5 181.4,386.3 181.4,333.0 181.5,385.7 181.5,361.8 181.6,281.0 181.6,341.0 181.7,355.7 181.7,391.5 181.8,316.9 181.8,350.7 181.9,348.2 181.9,377.3 182.0,392.1 182.0,452.7 182.1,364.9 182.1,364.1 182.2,376.0 182.2,407.4 182.3,414.5 182.4,369.7 182.4,413.2 182.5,359.2 182.5,314.0 182.6,296.7 182.6,368.0 182.7,384.4 182.7,384.5 182.8,476.6 182.8,385.7 182.9,377.1 182.9,347.9 183.0,354.2 183.0,360.9 183.1,368.9 183.1,344.1 183.2,355.5 183.2,386.6 183.3,385.9 183.3,433.7 183.4,346.0 183.4,347.4 183.5,353.5 183.6,393.3 183.6,377.6 183.7,379.0 183.7,359.5 183.8,370.6 183.8,377.1 183.9,384.9 183.9,359.9 184.0,348.6 184.0,378.3 184.1,365.5 184.1,374.3 184.2,358.0 184.2,371.6 184.3,363.5 184.3,380.7 184.4,404.2 184.4,335.5 184.5,394.0 184.5,354.2 184.6,420.4 184.6,410.2 184.7,399.5 184.8,356.2 184.8,401.6 184.9,403.5 184.9,352.4 185.0,388.0 185.0,367.9 185.1,374.5 185.1,364.5 185.2,395.2 185.2,365.3 185.3,370.6 185.3,373.2 185.4,386.6 185.4,398.0 185.5,359.2 185.5,373.2 185.6,373.4 185.6,396.0 185.7,352.6 185.7,314.5 185.8,379.6 185.8,377.8 185.9,382.8 186.0,426.1 186.0,363.0 186.1,399.8 186.1,332.9 186.2,363.3 186.2,412.4 186.3,377.8 186.3,352.6 186.4,380.1 186.4,386.0 186.5,425.0 186.5,385.9 186.6,346.4 186.6,318.9 186.7,361.5 186.7,357.4 186.8,356.8 186.8,349.8 186.9,305.5 186.9,363.3 187.0,374.8 187.0,366.6 187.1,371.9 187.2,346.9 187.2,374.2 187.3,392.2 187.3,430.5 187.4,379.0 187.4,423.4 187.5,363.0 187.5,383.1 187.6,419.6 187.6,342.6 187.7,371.4 187.7,355.0 187.8,334.9 187.8,326.2 187.9,407.1 187.9,348.9 188.0,365.0 188.0,351.2 188.1,370.9 188.1,380.2 188.2,380.7 188.2,393.3 188.3,388.9 188.4,387.2 188.4,445.1 188.5,386.0 188.5,352.6 188.6,379.7 188.6,357.2 188.7,401.0 188.7,397.5 188.8,391.3 188.8,361.3 188.9,375.1 188.9,357.6 189.0,361.1 189.0,379.2 189.1,374.4 189.1,370.8 189.2,380.8 189.2,342.9 189.3,365.5 189.3,366.6 189.4,380.5 189.4,361.4 189.5,348.3 189.6,341.5 189.6,362.1 189.7,365.6 189.7,399.0 189.8,349.2 189.8,368.0 189.9,424.6 189.9,332.2 190.0,372.0 190.0,402.6 190.1,377.6 190.1,393.8 190.2,323.4 190.2,357.2 190.3,414.7 190.3,363.2 190.4,381.0 190.4,334.8 190.5,377.8 190.5,427.0 190.6,397.1 190.7,385.1 190.7,375.5 190.8,415.7 190.8,366.7 190.9,337.0 190.9,409.4 191.0,345.0 191.0,387.6 191.1,310.9 191.1,351.4 191.2,382.6 191.2,347.7 191.3,341.7 191.3,388.9 191.4,360.0 191.4,385.8 191.5,414.9 191.5,305.5 191.6,360.9 191.6,385.7 191.7,366.0 191.7,407.3 191.8,417.6 191.9,385.6 191.9,373.0 192.0,378.8 192.0,345.1 192.1,386.8 192.1,378.7 192.2,351.7 192.2,389.8 192.3,364.9 192.3,384.7 192.4,343.6 192.4,364.0 192.5,379.6 192.5,411.0 192.6,377.6 192.6,394.5 192.7,358.0 192.7,366.0 192.8,396.1 192.8,343.9 192.9,376.4 192.9,422.8 193.0,326.3 193.1,379.6 193.1,373.7 193.2,355.2 193.2,380.2 193.3,376.8 193.3,382.4 193.4,332.3 193.4,336.5 193.5,374.7 193.5,339.7 193.6,373.4 193.6,348.4 193.7,341.2 193.7,370.1 193.8,307.6 193.8,368.6 193.9,401.3 193.9,342.3 194.0,377.0 194.0,378.4 194.1,431.5 194.1,357.6 194.2,365.2 194.3,351.6 194.3,346.2 194.4,339.3 194.4,368.8 194.5,426.3 194.5,379.9 194.6,369.9 194.6,335.0 194.7,357.4 194.7,406.7 194.8,346.7 194.8,378.2 194.9,395.7 194.9,365.4 195.0,380.4 195.0,410.2 195.1,399.1 195.1,329.9 195.2,408.4 195.2,354.1 195.3,339.8 195.3,372.0 195.4,397.3 195.5,350.5 195.5,361.4 195.6,346.9 195.6,368.7 195.7,397.2 195.7,351.2 195.8,336.9 195.8,431.0 195.9,384.4 195.9,392.1 196.0,352.5 196.0,358.4 196.1,396.9 196.1,379.2 196.2,369.5 196.2,393.6 196.3,381.9 196.3,380.3 196.4,389.5 196.4,349.4 196.5,392.3 196.5,382.1 196.6,352.2 196.7,359.3 196.7,331.5 196.8,409.2 196.8,406.8 196.9,360.0 196.9,356.5 197.0,318.6 197.0,372.2 197.1,395.4 197.1,360.6 197.2,386.4 197.2,404.1 197.3,311.2 197.3,372.0 197.4,361.1 197.4,365.7 197.5,318.0 197.5,367.3 197.6,340.5 197.6,387.9 197.7,402.9 197.7,337.2 197.8,330.7 197.9,358.6 197.9,366.6 198.0,375.2 198.0,385.6 198.1,331.9 198.1,366.2 198.2,361.2 198.2,379.4 198.3,358.3 198.3,361.3 198.4,353.2 198.4,414.4 198.5,359.7 198.5,315.0 198.6,380.9 198.6,383.0 198.7,337.6 198.7,341.3 198.8,354.3 198.8,411.2 198.9,350.9 198.9,398.2 199.0,401.1 199.1,344.7 199.1,377.5 199.2,353.3 199.2,299.7 199.3,358.6 199.3,357.4 199.4,390.4 199.4,392.3 199.5,403.3 199.5,399.6 199.6,395.8 199.6,381.7 199.7,377.1 199.7,374.6 199.8,398.7 199.8,398.2 199.9,354.4 199.9,376.7 200.0,367.4 200.0,351.6 200.1,376.1 200.1,376.7 200.2,406.9 200.3,376.6 200.3,347.8 200.4,378.1 200.4,400.1 200.5,359.8 200.5,427.4 200.6,385.9 200.6,365.5 200.7,355.6 200.7,375.8 200.8,356.4 200.8,393.5 200.9,387.7 200.9,372.5 201.0,399.9 201.0,275.9 201.1,410.7 201.1,309.9 201.2,384.7 201.2,360.0 201.3,391.1 201.3,354.1 201.4,384.9 201.5,420.3 201.5,370.3 201.6,365.8 201.6,412.5 201.7,339.9 201.7,393.5 201.8,384.3 201.8,360.1 201.9,365.6 201.9,414.1 202.0,327.8 202.0,359.7 202.1,394.8 202.1,387.9 202.2,410.2 202.2,424.7 202.3,356.4 202.3,369.3 202.4,393.3 202.4,382.3 202.5,333.9 202.5,381.6 202.6,387.2 202.7,325.0 202.7,363.2 202.8,374.7 202.8,390.6 202.9,403.5 202.9,404.4 203.0,378.6 203.0,375.1 203.1,346.6 203.1,363.2 203.2,362.8 203.2,370.8 203.3,392.6 203.3,422.9 203.4,374.5 203.4,398.4 203.5,400.6 203.5,389.7 203.6,399.5 203.6,408.2 203.7,377.5 203.7,373.8 203.8,369.0 203.9,351.4 203.9,383.7 204.0,398.8 204.0,361.3 204.1,327.3 204.1,351.5 204.2,343.3 204.2,340.0 204.3,317.5 204.3,407.3 204.4,324.6 204.4,377.6 204.5,387.3 204.5,388.9 204.6,369.8 204.6,374.6 204.7,380.4 204.7,345.3 204.8,391.3 204.8,400.0 204.9,359.0 205.0,353.4 205.0,337.0 205.1,400.1 205.1,347.0 205.2,353.4 205.2,336.5 205.3,448.2 205.3,372.4 205.4,344.1 205.4,425.5 205.5,389.3 205.5,337.0 205.6,372.7 205.6,385.2 205.7,382.0 205.7,343.1 205.8,361.7 205.8,389.8 205.9,359.7 205.9,362.1 206.0,396.3 206.0,386.1 206.1,353.0 206.2,354.1 206.2,389.7 206.3,440.2 206.3,385.1 206.4,378.6 206.4,385.2 206.5,361.4 206.5,379.7 206.6,372.2 206.6,372.2 206.7,408.0 206.7,372.5 206.8,380.7 206.8,307.1 206.9,351.8 206.9,401.4 207.0,385.0 207.0,374.4 207.1,407.1 207.1,392.9 207.2,395.1 207.2,358.5 207.3,367.7 207.4,382.9 207.4,400.6 207.5,412.2 207.5,356.0 207.6,373.8 207.6,354.5 207.7,384.1 207.7,346.5 207.8,358.1 207.8,402.5 207.9,419.4 207.9,391.0 208.0,360.5 208.0,331.1 208.1,357.3 208.1,342.2 208.2,384.5 208.2,370.2 208.3,359.1 208.3,348.9 208.4,362.9 208.4,360.4 208.5,359.2 208.6,357.3 208.6,368.7 208.7,379.2 208.7,332.0 208.8,363.8 208.8,370.6 208.9,336.8 208.9,352.8 209.0,364.4 209.0,358.7 209.1,404.7 209.1,393.0 209.2,439.2 209.2,330.0 209.3,435.4 209.3,358.5 209.4,391.3 209.4,388.4 209.5,360.7 209.5,371.8 209.6,334.1 209.6,339.1 209.7,364.3 209.8,351.9 209.8,377.7 209.9,350.1 209.9,350.3 210.0,387.7 210.0,361.6 210.1,388.7 210.1,368.6 210.2,366.2 210.2,367.6 210.3,392.9 210.3,365.5 210.4,412.9 210.4,382.4 210.5,321.9 210.5,428.1 210.6,385.1 210.6,357.0 210.7,426.2 210.7,299.1 210.8,448.4 210.8,336.1 210.9,318.4 211.0,358.1 211.0,353.4 211.1,370.1 211.1,389.8 211.2,350.3 211.2,407.1 211.3,371.2 211.3,351.8 211.4,386.2 211.4,384.9 211.5,384.5 211.5,389.5 211.6,330.8 211.6,363.8 211.7,410.4 211.7,363.0 211.8,399.1 211.8,410.2 211.9,371.3 211.9,383.9 212.0,347.2 212.0,389.8 212.1,339.2 212.2,378.0 212.2,358.0 212.3,394.1 212.3,363.0 212.4,390.2 212.4,355.8 212.5,343.9 212.5,322.6 212.6,350.9 212.6,373.0 212.7,380.7 212.7,355.4 212.8,365.3 212.8,341.9 212.9,355.4 212.9,398.5 213.0,383.7 213.0,331.4 213.1,353.1 213.1,371.3 213.2,331.7 213.2,376.0 213.3,374.1 213.4,379.4 213.4,412.6 213.5,350.7 213.5,408.5 213.6,375.3 213.6,387.3 213.7,349.9 213.7,374.9 213.8,376.3 213.8,406.5 213.9,371.2 213.9,380.3 214.0,355.7 214.0,347.8 214.1,365.6 214.1,313.6 214.2,353.5 214.2,358.8 214.3,361.4 214.3,381.7 214.4,360.1 214.4,327.3 214.5,392.9 214.6,346.2 214.6,375.0 214.7,350.6 214.7,355.4 214.8,401.8 214.8,428.8 214.9,326.8 214.9,340.4 215.0,405.8 215.0,351.8 215.1,384.2 215.1,420.6 215.2,410.0 215.2,414.6 215.3,358.1 215.3,365.7 215.4,369.1 215.4,359.2 215.5,360.8 215.5,422.3 215.6,385.5 215.6,384.1 215.7,404.1 215.8,378.6 215.8,382.4 215.9,386.5 215.9,400.3 216.0,372.9 216.0,323.6 216.1,411.8 216.1,406.8 216.2,356.5 216.2,353.8 216.3,367.8 216.3,362.0 216.4,324.3 216.4,381.8 216.5,405.4 216.5,395.4 216.6,372.9 216.6,362.0 216.7,361.5 216.7,370.4 216.8,337.9 216.8,379.1 216.9,342.3 217.0,409.6 217.0,406.7 217.1,349.1 217.1,407.1 217.2,376.6 217.2,380.8 217.3,391.7 217.3,388.7 217.4,354.8 217.4,423.9 217.5,356.4 217.5,313.5 217.6,361.6 217.6,360.4 217.7,358.3 217.7,338.2 217.8,402.1 217.8,365.1 217.9,375.8 217.9,356.5 218.0,354.7 218.1,368.5 218.1,368.6 218.2,369.6 218.2,378.5 218.3,391.5 218.3,365.6 218.4,390.4 218.4,401.1 218.5,324.3 218.5,375.9 218.6,420.3 218.6,344.3 218.7,386.4 218.7,345.8 218.8,374.3 218.8,358.7 218.9,373.3 218.9,374.1 219.0,378.8 219.0,341.5 219.1,413.1 219.1,382.8 219.2,365.1 219.3,399.0 219.3,388.6 219.4,313.9 219.4,362.3 219.5,325.9 219.5,357.7 219.6,371.0 219.6,322.9 219.7,359.8 219.7,333.4 219.8,359.8 219.8,360.9 219.9,345.0 219.9,362.3 220.0,351.4 220.0,405.6 220.1,384.7 220.1,369.4 220.2,393.6 220.2,377.7 220.3,395.2 220.3,365.0 220.4,348.8 220.5,339.8 220.5,367.2 220.6,328.7 220.6,368.5 220.7,288.2 220.7,352.7 220.8,346.1 220.8,386.6 220.9,429.8 220.9,374.5 221.0,359.8 221.0,325.4 221.1,416.8 221.1,330.2 221.2,368.2 221.2,345.9 221.3,447.2 221.3,356.7 221.4,376.2 221.4,359.6 221.5,379.0 221.5,394.2 221.6,339.5 221.7,375.1 221.7,357.8 221.8,340.2 221.8,341.7 221.9,367.8 221.9,404.9 222.0,402.7 222.0,335.5 222.1,368.9 222.1,374.7 222.2,382.1 222.2,353.8 222.3,369.2 222.3,397.6 222.4,377.8 222.4,306.7 222.5,360.8 222.5,385.8 222.6,393.4 222.6,395.4 222.7,341.1 222.7,323.6 222.8,380.9 222.9,375.3 222.9,377.5 223.0,381.9 223.0,353.1 223.1,354.6 223.1,313.9 223.2,388.9 223.2,380.1 223.3,362.2 223.3,375.4 223.4,398.9 223.4,404.3 223.5,365.2 223.5,359.9 223.6,349.1 223.6,341.5 223.7,332.3 223.7,377.3 223.8,364.2 223.8,370.7 223.9,355.1 223.9,348.8 224.0,384.6 224.1,349.0 224.1,415.9 224.2,402.1 224.2,393.3 224.3,339.6 224.3,363.6 224.4,336.5 224.4,374.8 224.5,348.4 224.5,327.4 224.6,343.3 224.6,409.3 224.7,391.7 224.7,364.5 224.8,392.7 224.8,349.4 224.9,337.6 224.9,389.2 225.0,332.4 225.0,364.7 225.1,363.4 225.1,372.1 225.2,394.0 225.3,371.3 225.3,348.8 225.4,344.1 225.4,356.5 225.5,355.4 225.5,371.9 225.6,397.8 225.6,356.9 225.7,385.3 225.7,347.3 225.8,376.9 225.8,330.2 225.9,356.8 225.9,357.7 226.0,359.1 226.0,355.7 226.1,368.1 226.1,355.2 226.2,382.5 226.2,365.3 226.3,312.7 226.3,360.4 226.4,379.8 226.5,405.2 226.5,386.0 226.6,347.2 226.6,359.8 226.7,340.6 226.7,313.0 226.8,306.2 226.8,385.0 226.9,352.7 226.9,356.7 227.0,358.8 227.0,352.2 227.1,379.5 227.1,325.3 227.2,352.6 227.2,339.7 227.3,359.8 227.3,322.1 227.4,374.2 227.4,351.8 227.5,330.3 227.5,366.4 227.6,358.4 227.7,398.1 227.7,380.6 227.8,392.5 227.8,368.0 227.9,359.4 227.9,443.4 228.0,364.3 228.0,351.3 228.1,370.5 228.1,400.7 228.2,341.7 228.2,397.6 228.3,404.8 228.3,399.3 228.4,368.9 228.4,332.4 228.5,347.8 228.5,375.8 228.6,409.9 228.6,389.2 228.7,393.5 228.7,375.8 228.8,386.9 228.9,371.5 228.9,355.7 229.0,376.6 229.0,364.1 229.1,357.7 229.1,414.7 229.2,379.6 229.2,306.7 229.3,345.8 229.3,394.7 229.4,349.2 229.4,367.4 229.5,338.7 229.5,358.3 229.6,400.4 229.6,371.3 229.7,376.5 229.7,381.8 229.8,408.1 229.8,369.2 229.9,373.2 229.9,361.6 230.0,372.9 230.1,335.0 230.1,394.3 230.2,387.9 230.2,335.6 230.3,337.2 230.3,365.1 230.4,412.1 230.4,382.2 230.5,374.8 230.5,360.7 230.6,340.9 230.6,398.1 230.7,332.4 230.7,385.2 230.8,332.5 230.8,367.5 230.9,326.5 230.9,376.3 231.0,399.4 231.0,383.4 231.1,383.5 231.1,381.1 231.2,325.7 231.3,333.1 231.3,362.0 231.4,393.1 231.4,389.6 231.5,380.5 231.5,322.9 231.6,353.2 231.6,356.7 231.7,374.3 231.7,453.7 231.8,383.7 231.8,387.6 231.9,361.3 231.9,364.8 232.0,386.3 232.0,401.9 232.1,329.1 232.1,376.7 232.2,396.1 232.2,379.9 232.3,390.7 232.4,381.2 232.4,361.9 232.5,442.4 232.5,421.8 232.6,356.4 232.6,360.9 232.7,368.0 232.7,369.3 232.8,363.4 232.8,348.5 232.9,367.6 232.9,380.9 233.0,357.0 233.0,359.4 233.1,380.3 233.1,354.3 233.2,374.7 233.2,344.4 233.3,378.2 233.3,386.8 233.4,389.4 233.4,389.7 233.5,366.8 233.6,375.2 233.6,391.8 233.7,369.0 233.7,384.0 233.8,405.9 233.8,335.9 233.9,364.3 233.9,365.0 234.0,349.6 234.0,362.3 234.1,387.0 234.1,314.7 234.2,391.7 234.2,348.6 234.3,351.2 234.3,398.8 234.4,374.2 234.4,359.0 234.5,314.0 234.5,424.4 234.6,363.5 234.6,358.3 234.7,378.8 234.8,395.6 234.8,354.5 234.9,364.2 234.9,349.4 235.0,343.4 235.0,348.1 235.1,364.8 235.1,375.3 235.2,390.7 235.2,373.0 235.3,364.6 235.3,360.6 235.4,364.0 235.4,388.8 235.5,335.2 235.5,354.5 235.6,376.5 235.6,393.3 235.7,357.1 235.7,352.5 235.8,368.4 235.8,367.4 235.9,372.2 236.0,348.1 236.0,397.6 236.1,342.4 236.1,361.8 236.2,348.9 236.2,376.1 236.3,310.9 236.3,361.8 236.4,344.3 236.4,399.4 236.5,355.7 236.5,369.8 236.6,367.3 236.6,357.6 236.7,348.9 236.7,415.4 236.8,367.7 236.8,406.5 236.9,340.8 236.9,417.0 237.0,407.6 237.0,413.3 237.1,317.3 237.2,405.6 237.2,382.3 237.3,383.5 237.3,413.1 237.4,372.5 237.4,367.8 237.5,373.4 237.5,345.6 237.6,369.3 237.6,331.6 237.7,376.0 237.7,364.0 237.8,330.2 237.8,371.1 237.9,344.9 237.9,381.2 238.0,385.5 238.0,318.9 238.1,406.6 238.1,393.1 238.2,376.6 238.2,375.6 238.3,311.0 238.4,431.4 238.4,365.9 238.5,344.2 238.5,410.6 238.6,371.3 238.6,349.7 238.7,333.2 238.7,381.6 238.8,401.6 238.8,320.7 238.9,342.6 238.9,364.6 239.0,427.1 239.0,342.1 239.1,376.6 239.1,346.4 239.2,369.9 239.2,381.8 239.3,349.5 239.3,332.4 239.4,342.2 239.4,405.0 239.5,418.6 239.6,327.7 239.6,370.3 239.7,399.2 239.7,371.7 239.8,371.8 239.8,371.6 239.9,379.7 239.9,401.1 240.0,370.7 240.0,345.0 240.1,379.0 240.1,365.5 240.2,384.7 240.2,349.1 240.3,372.8 240.3,372.6 240.4,351.5 240.4,364.3 240.5,340.8 240.5,360.0 240.6,322.6 240.6,336.2 240.7,334.2 240.8,381.8 240.8,341.9 240.9,357.4 240.9,363.1 241.0,413.5 241.0,418.6 241.1,403.0 241.1,363.0 241.2,322.8 241.2,398.4 241.3,353.8 241.3,378.6 241.4,345.1 241.4,362.3 241.5,392.2 241.5,395.7 241.6,414.7 241.6,393.4 241.7,413.3 241.7,351.4 241.8,353.9 241.8,333.5 241.9,374.6 242.0,377.8 242.0,344.3 242.1,373.4 242.1,352.1 242.2,362.5 242.2,392.2 242.3,370.4 242.3,370.8 242.4,393.8 242.4,360.5 242.5,358.2 242.5,343.1 242.6,380.0 242.6,423.1 242.7,368.4 242.7,384.3 242.8,418.0 242.8,374.4 242.9,351.1 242.9,373.2 243.0,371.5 243.0,391.4 243.1,353.7 243.2,392.2 243.2,371.9 243.3,317.4 243.3,369.8 243.4,364.0 243.4,369.6 243.5,397.0 243.5,370.1 243.6,342.9 243.6,390.5 243.7,363.9 243.7,345.1 243.8,352.4 243.8,406.4 243.9,394.8 243.9,409.5 244.0,310.8 244.0,361.6 244.1,355.9 244.1,393.0 244.2,380.7 244.2,369.9 244.3,354.1 244.4,371.8 244.4,359.8 244.5,344.0 244.5,360.8 244.6,392.5 244.6,394.6 244.7,348.9 244.7,346.6 244.8,376.2 244.8,379.8 244.9,377.3 244.9,359.1 245.0,387.5 245.0,368.8 245.1,361.3 245.1,381.2 245.2,358.4 245.2,403.6 245.3,327.8 245.3,347.4 245.4,336.6 245.5,372.1 245.5,305.7 245.6,362.4 245.6,378.7 245.7,402.3 245.7,386.0 245.8,344.1 245.8,359.2 245.9,356.0 245.9,354.7 246.0,384.3 246.0,370.7 246.1,384.1 246.1,365.7 246.2,360.5 246.2,356.3 246.3,355.3 246.3,377.5 246.4,390.0 246.4,385.7 246.5,338.5 246.5,423.6 246.6,355.1 246.7,320.1 246.7,394.8 246.8,399.4 246.8,376.0 246.9,282.7 246.9,357.4 247.0,357.5 247.0,371.8 247.1,376.6 247.1,294.4 247.2,382.8 247.2,391.0 247.3,391.8 247.3,326.8 247.4,340.5 247.4,342.9 247.5,369.7 247.5,397.7 247.6,343.6 247.6,386.6 247.7,371.0 247.7,405.0 247.8,336.9 247.9,424.0 247.9,362.8 248.0,390.7 248.0,388.2 248.1,369.6 248.1,399.4 248.2,385.1 248.2,391.4 248.3,361.5 248.3,424.7 248.4,370.3 248.4,414.5 248.5,346.8 248.5,348.7 248.6,377.8 248.6,385.2 248.7,392.0 248.7,305.1 248.8,335.4 248.8,336.0 248.9,398.8 248.9,370.9 249.0,342.3 249.1,375.7 249.1,379.1 249.2,373.1 249.2,405.5 249.3,335.5 249.3,376.7 249.4,358.7 249.4,373.4 249.5,358.7 249.5,378.5 249.6,374.8 249.6,352.9 249.7,341.3 249.7,362.7 249.8,346.9 249.8,429.4 249.9,346.8 249.9,384.8 250.0,342.5 250.0,372.5 250.1,373.2 250.1,387.1 250.2,345.0 250.3,318.6 250.3,389.5 250.4,393.4 250.4,363.8 250.5,355.5 250.5,311.9 250.6,362.6 250.6,403.4 250.7,357.8 250.7,317.8 250.8,399.6 250.8,313.1 250.9,384.7 250.9,344.2 251.0,391.5 251.0,397.1 251.1,354.9 251.1,339.0 251.2,326.3 251.2,330.3 251.3,359.3 251.3,381.5 251.4,396.4 251.5,359.4 251.5,390.0 251.6,383.4 251.6,441.1 251.7,356.9 251.7,370.6 251.8,313.5 251.8,358.2 251.9,367.1 251.9,341.9 252.0,392.5 252.0,364.8 252.1,414.4 252.1,331.0 252.2,340.4 252.2,378.2 252.3,362.1 252.3,348.0 252.4,356.7 252.4,367.9 252.5,394.3 252.5,382.1 252.6,382.8 252.7,351.1 252.7,388.2 252.8,398.4 252.8,329.2 252.9,396.3 252.9,351.2 253.0,353.7 253.0,339.3 253.1,334.7 253.1,362.1 253.2,347.6 253.2,382.3 253.3,383.6 253.3,337.3 253.4,343.5 253.4,352.7 253.5,308.7 253.5,367.2 253.6,339.7 253.6,340.7 253.7,382.1 253.7,371.4 253.8,391.0 253.9,359.5 253.9,394.7 254.0,350.0 254.0,402.7 254.1,342.1 254.1,397.8 254.2,355.6 254.2,399.0 254.3,378.3 254.3,345.4 254.4,397.9 254.4,371.5 254.5,393.3 254.5,443.3 254.6,382.1 254.6,360.8 254.7,383.8 254.7,356.9 254.8,378.2 254.8,387.8 254.9,377.4 254.9,383.1 255.0,309.0 255.1,416.3 255.1,345.3 255.2,350.2 255.2,454.7 255.3,413.1 255.3,352.7 255.4,382.0 255.4,349.5 255.5,347.0 255.5,367.2 255.6,387.7 255.6,443.2 255.7,359.0 255.7,406.5 255.8,353.7 255.8,380.5 255.9,384.1 255.9,328.7 256.0,338.7 256.0,342.3 256.1,379.6 256.1,362.8 256.2,378.7 256.3,370.3 256.3,399.3 256.4,352.7 256.4,351.4 256.5,354.6 256.5,398.8 256.6,343.2 256.6,350.0 256.7,430.8 256.7,377.5 256.8,370.4 256.8,333.2 256.9,381.9 256.9,369.6 257.0,374.0 257.0,352.7 257.1,383.7 257.1,371.2 257.2,371.0 257.2,349.6 257.3,380.6 257.3,417.4 257.4,345.9 257.5,391.7 257.5,350.7 257.6,353.3 257.6,338.3 257.7,346.6 257.7,379.2 257.8,379.4 257.8,404.2 257.9,332.6 257.9,355.8 258.0,314.3 258.0,373.6 258.1,403.4 258.1,314.0 258.2,366.5 258.2,369.4 258.3,360.4 258.3,341.9 258.4,362.6 258.4,403.3 258.5,342.7 258.5,391.1 258.6,381.2 258.7,329.4 258.7,353.8 258.8,364.4 258.8,434.3 258.9,346.8 258.9,350.8 259.0,371.6 259.0,388.6 259.1,397.7 259.1,370.1 259.2,368.7 259.2,340.9 259.3,342.2 259.3,380.6 259.4,352.4 259.4,343.4 259.5,374.7 259.5,370.3 259.6,318.3 259.6,357.5 259.7,341.3 259.8,389.7 259.8,367.3 259.9,413.9 259.9,369.6 260.0,369.5 260.0,332.1 260.1,329.8 260.1,357.4 260.2,361.9 260.2,385.6 260.3,366.3 260.3,365.2 260.4,375.2 260.4,324.9 260.5,397.3 260.5,388.2 260.6,383.2 260.6,410.5 260.7,394.4 260.7,353.7 260.8,372.5 260.8,363.6 260.9,339.4 261.0,341.1 261.0,380.9 261.1,333.2 261.1,368.9 261.2,391.1 261.2,343.0 261.3,401.9 261.3,388.2 261.4,346.5 261.4,344.3 261.5,359.5 261.5,374.8 261.6,343.2 261.6,328.1 261.7,346.9 261.7,341.1 261.8,380.6 261.8,371.8 261.9,349.1 261.9,380.4 262.0,388.4 262.0,357.1 262.1,379.2 262.2,404.7 262.2,350.4 262.3,295.5 262.3,345.6 262.4,331.5 262.4,364.4 262.5,392.1 262.5,368.2 262.6,422.5 262.6,313.5 262.7,396.8 262.7,332.2 262.8,400.5 262.8,359.0 262.9,337.6 262.9,347.9 263.0,352.3 263.0,414.4 263.1,354.1 263.1,400.4 263.2,317.4 263.2,372.0 263.3,363.3 263.4,400.0 263.4,363.2 263.5,395.8 263.5,337.3 263.6,347.4 263.6,357.1 263.7,356.8 263.7,380.1 263.8,323.2 263.8,399.9 263.9,414.8 263.9,359.4 264.0,393.5 264.0,372.4 264.1,338.3 264.1,387.4 264.2,347.8 264.2,370.9 264.3,329.2 264.3,338.3 264.4,378.0 264.4,376.2 264.5,401.3 264.6,360.9 264.6,335.5 264.7,393.0 264.7,339.8 264.8,402.4 264.8,382.2 264.9,394.2 264.9,313.9 265.0,363.6 265.0,358.6 265.1,349.6 265.1,339.5 265.2,407.0 265.2,372.3 265.3,326.0 265.3,376.7 265.4,363.2 265.4,343.7 265.5,365.3 265.5,382.2 265.6,346.1 265.6,352.3 265.7,344.3 265.8,374.6 265.8,368.9 265.9,362.1 265.9,338.6 266.0,364.9 266.0,367.4 266.1,427.2 266.1,341.6 266.2,297.9 266.2,391.9 266.3,426.7 266.3,395.4 266.4,325.0 266.4,397.6 266.5,394.3 266.5,355.7 266.6,323.1 266.6,352.1 266.7,385.2 266.7,378.3 266.8,326.8 266.8,353.0 266.9,383.1 267.0,388.6 267.0,393.4 267.1,346.4 267.1,375.3 267.2,378.3 267.2,378.7 267.3,373.3 267.3,348.6 267.4,342.9 267.4,404.1 267.5,379.3 267.5,308.4 267.6,387.4 267.6,381.9 267.7,338.7 267.7,402.7 267.8,388.4 267.8,408.4 267.9,332.8 267.9,345.6 268.0,334.2 268.0,368.0 268.1,344.7 268.2,382.3 268.2,401.4 268.3,389.6 268.3,362.2 268.4,351.0 268.4,343.3 268.5,417.8 268.5,347.9 268.6,377.4 268.6,391.5 268.7,357.9 268.7,397.4 268.8,366.1 268.8,354.7 268.9,379.6 268.9,354.0 269.0,364.2 269.0,373.7 269.1,406.4 269.1,367.5 269.2,397.7 269.2,374.6 269.3,358.8 269.4,360.2 269.4,408.2 269.5,407.4 269.5,370.3 269.6,362.0 269.6,353.1 269.7,348.1 269.7,338.1 269.8,355.5 269.8,365.7 269.9,390.6 269.9,391.1 270.0,382.0 270.0,348.6 270.1,363.2 270.1,354.1 270.2,373.2 270.2,346.1 270.3,369.3 270.3,369.5 270.4,357.5 270.4,381.7 270.5,405.7 270.6,364.0 270.6,356.0 270.7,378.8 270.7,378.2 270.8,316.0 270.8,395.3 270.9,398.6 270.9,366.6 271.0,404.6 271.0,361.3 271.1,327.7 271.1,340.5 271.2,362.5 271.2,356.1 271.3,351.1 271.3,345.3 271.4,367.1 271.4,360.2 271.5,354.0 271.5,324.6 271.6,363.5 271.6,360.7 271.7,410.5 271.8,336.7 271.8,306.3 271.9,345.5 271.9,380.9 272.0,408.9 272.0,376.9 272.1,392.3 272.1,344.0 272.2,390.4 272.2,342.1 272.3,343.0 272.3,420.5 272.4,356.5 272.4,385.2 272.5,398.7 272.5,382.2 272.6,307.7 272.6,349.8 272.7,407.4 272.7,341.9 272.8,316.8 272.9,357.8 272.9,358.2 273.0,338.7 273.0,390.1 273.1,350.7 273.1,353.6 273.2,347.3 273.2,314.4 273.3,342.7 273.3,364.3 273.4,330.8 273.4,403.7 273.5,399.5 273.5,369.6 273.6,378.5 273.6,348.3 273.7,380.3 273.7,320.1 273.8,328.2 273.8,339.7 273.9,387.9 273.9,328.5 274.0,370.8 274.1,396.8 274.1,366.1 274.2,353.7 274.2,360.4 274.3,336.8 274.3,348.8 274.4,391.3 274.4,358.1 274.5,401.1 274.5,354.5 274.6,374.2 274.6,329.7 274.7,359.9 274.7,331.4 274.8,376.4 274.8,405.3 274.9,327.2 274.9,381.5 275.0,334.4 275.0,340.7 275.1,355.7 275.1,324.0 275.2,379.9 275.3,346.4 275.3,393.7 275.4,347.3 275.4,377.0 275.5,377.2 275.5,347.7 275.6,358.2 275.6,337.4 275.7,414.8 275.7,381.8 275.8,377.6 275.8,331.5 275.9,369.4 275.9,373.6 276.0,362.1 276.0,358.4 276.1,330.1 276.1,354.9 276.2,370.4 276.2,390.0 276.3,371.7 276.3,383.2 276.4,378.8 276.5,349.1 276.5,414.2 276.6,397.9 276.6,417.0 276.7,373.5 276.7,365.9 276.8,380.9 276.8,369.3 276.9,338.9 276.9,381.0 277.0,388.9 277.0,399.4 277.1,319.2 277.1,436.6 277.2,371.7 277.2,337.4 277.3,383.9 277.3,379.4 277.4,357.6 277.4,344.8 277.5,346.5 277.5,386.2 277.6,344.5 277.7,368.4 277.7,347.8 277.8,356.1 277.8,372.1 277.9,407.8 277.9,396.7 278.0,309.5 278.0,354.2 278.1,358.3 278.1,316.9 278.2,395.4 278.2,323.9 278.3,369.8 278.3,385.3 278.4,364.6 278.4,332.1 278.5,396.6 278.5,383.6 278.6,414.4 278.6,354.5 278.7,371.8 278.7,373.3 278.8,384.3 278.9,380.6 278.9,324.9 279.0,369.0 279.0,368.9 279.1,355.7 279.1,364.8 279.2,396.8 279.2,346.5 279.3,336.3 279.3,355.2 279.4,435.8 279.4,395.3 279.5,416.2 279.5,391.5 279.6,324.7 279.6,352.5 279.7,363.8 279.7,357.4 279.8,344.0 279.8,364.9 279.9,363.7 279.9,369.4 280.0,441.6 280.1,363.0 280.1,333.6 280.2,390.8 280.2,377.2 280.3,378.9 280.3,375.2 280.4,350.0 280.4,355.9 280.5,391.2 280.5,442.4 280.6,387.0 280.6,432.2 280.7,413.3 280.7,340.6 280.8,350.8 280.8,419.2 280.9,323.6 280.9,353.8 281.0,399.5 281.0,358.4 281.1,403.7 281.1,407.8 281.2,412.7 281.3,397.6 281.3,342.2 281.4,398.2 281.4,396.8 281.5,370.4 281.5,367.0 281.6,363.5 281.6,352.7 281.7,382.8 281.7,402.7 281.8,381.8 281.8,371.4 281.9,392.0 281.9,356.2 282.0,330.2 282.0,376.6 282.1,374.0 282.1,319.0 282.2,385.8 282.2,398.6 282.3,402.0 282.3,367.5 282.4,354.8 282.5,379.7 282.5,359.5 282.6,360.0 282.6,354.0 282.7,395.3 282.7,372.0 282.8,317.9 282.8,360.0 282.9,367.6 282.9,374.5 283.0,372.5 283.0,412.6 283.1,362.6 283.1,387.0 283.2,360.2 283.2,388.5 283.3,367.7 283.3,399.0 283.4,386.4 283.4,349.6 283.5,383.8 283.5,353.7 283.6,392.3 283.7,386.7 283.7,416.8 283.8,373.2 283.8,379.0 283.9,355.8 283.9,352.7 284.0,362.9 284.0,367.6 284.1,371.6 284.1,354.8 284.2,340.1 284.2,356.6 284.3,371.5 284.3,360.2 284.4,390.7 284.4,371.9 284.5,341.8 284.5,361.3 284.6,374.4 284.6,399.2 284.7,359.6 284.7,365.3 284.8,339.0 284.9,387.2 284.9,367.7 285.0,341.3 285.0,387.0 285.1,371.4 285.1,324.7 285.2,328.6 285.2,342.4 285.3,365.4 285.3,396.4 285.4,350.1 285.4,368.5 285.5,368.3 285.5,390.9 285.6,375.6 285.6,373.5 285.7,371.2 285.7,333.1 285.8,360.6 285.8,421.1 285.9,384.1 285.9,402.0 286.0,397.2 286.1,348.5 286.1,329.8 286.2,379.4 286.2,346.1 286.3,407.9 286.3,391.9 286.4,392.9 286.4,397.8 286.5,340.1 286.5,402.7 286.6,328.9 286.6,342.1 286.7,382.1 286.7,364.9 286.8,401.8 286.8,368.2 286.9,355.2 286.9,370.5 287.0,356.4 287.0,334.4 287.1,353.5 287.2,360.9 287.2,378.4 287.3,361.4 287.3,400.3 287.4,360.1 287.4,371.2 287.5,392.4 287.5,324.3 287.6,397.5 287.6,375.5 287.7,350.2 287.7,419.9 287.8,372.3 287.8,414.6 287.9,382.2 287.9,349.6 288.0,338.9 288.0,355.3 288.1,349.2 288.1,333.9 288.2,344.6 288.2,384.0 288.3,294.2 288.4,383.0 288.4,374.7 288.5,329.4 288.5,347.0 288.6,350.1 288.6,342.2 288.7,352.4 288.7,386.5 288.8,356.2 288.8,381.2 288.9,357.4 288.9,397.8 289.0,330.0 289.0,367.4 289.1,390.1 289.1,373.8 289.2,415.0 289.2,359.2 289.3,360.8 289.3,356.7 289.4,395.8 289.4,375.2 289.5,362.5 289.6,363.6 289.6,349.0 289.7,399.5 289.7,365.4 289.8,380.1 289.8,374.1 289.9,383.4 289.9,339.9 290.0,380.1 290.0,370.5 290.1,371.4 290.1,420.8 290.2,348.4 290.2,370.6 290.3,410.3 290.3,367.7 290.4,370.3 290.4,341.4 290.5,352.8 290.5,343.7 290.6,405.0 290.6,379.5 290.7,349.8 290.8,363.6 290.8,329.2 290.9,376.2 290.9,330.1 291.0,344.2 291.0,368.5 291.1,392.5 291.1,320.8 291.2,370.9 291.2,340.1 291.3,347.4 291.3,377.4 291.4,355.3 291.4,372.7 291.5,368.5 291.5,358.5 291.6,348.1 291.6,344.0 291.7,365.9 291.7,337.9 291.8,379.8 291.8,378.1 291.9,313.6 292.0,404.5 292.0,376.7 292.1,376.5 292.1,393.3 292.2,433.5 292.2,326.8 292.3,380.0 292.3,377.8 292.4,377.8 292.4,376.9 292.5,403.2 292.5,357.8 292.6,304.8 292.6,356.7 292.7,344.1 292.7,389.9 292.8,373.5 292.8,389.1 292.9,345.3 292.9,375.1 293.0,369.7 293.0,364.7 293.1,407.9 293.2,416.9 293.2,355.5 293.3,391.6 293.3,412.5 293.4,373.8 293.4,392.2 293.5,356.4 293.5,347.5 293.6,365.0 293.6,362.5 293.7,356.4 293.7,373.0 293.8,403.2 293.8,358.8 293.9,381.7 293.9,393.3 294.0,368.5 294.0,353.2 294.1,352.9 294.1,345.0 294.2,435.2 294.2,371.9 294.3,324.8 294.4,360.5 294.4,319.8 294.5,365.7 294.5,403.9 294.6,426.0 294.6,353.5 294.7,330.0 294.7,378.6 294.8,373.5 294.8,350.5 294.9,411.9 294.9,371.2 295.0,334.0 295.0,318.6 295.1,359.5 295.1,329.5 295.2,360.7 295.2,390.0 295.3,433.7 295.3,334.9 295.4,380.5 295.4,310.7 295.5,361.9 295.6,354.4 295.6,378.8 295.7,323.3 295.7,368.6 295.8,366.4 295.8,421.3 295.9,345.0 295.9,336.4 296.0,383.5 296.0,367.1 296.1,355.5 296.1,359.7 296.2,362.9 296.2,314.3 296.3,367.4 296.3,368.4 296.4,368.6 296.4,426.5 296.5,382.7 296.5,343.5 296.6,357.5 296.6,390.2 296.7,380.7 296.8,406.5 296.8,365.4 296.9,351.8 296.9,336.5 297.0,376.6 297.0,343.4 297.1,323.6 297.1,375.6 297.2,351.3 297.2,416.4 297.3,421.7 297.3,342.8 297.4,379.9 297.4,365.3 297.5,373.8 297.5,359.8 297.6,343.3 297.6,319.7 297.7,368.0 297.7,413.5 297.8,332.0 297.8,355.5 297.9,355.6 298.0,371.0 298.0,296.1 298.1,372.0 298.1,352.4 298.2,428.5 298.2,386.4 298.3,372.1 298.3,341.5 298.4,360.9 298.4,381.8 298.5,317.4 298.5,389.5 298.6,381.1 298.6,387.8 298.7,387.8 298.7,350.0 298.8,323.8 298.8,371.8 298.9,305.2 298.9,357.6 299.0,357.0 299.0,390.0 299.1,399.7 299.2,360.5 299.2,375.0 299.3,376.7 299.3,346.1 299.4,433.1 299.4,401.6 299.5,409.1 299.5,345.8 299.6,363.7 299.6,376.8 299.7,395.7 299.7,342.8 299.8,373.4 299.8,341.8 299.9,409.9 299.9,332.9 300.0,348.6 300.0,363.7 300.1,340.0 300.1,372.7 300.2,370.1 300.3,357.8 300.3,359.4 300.4,367.3 300.4,358.6 300.5,378.1 300.5,364.3 300.6,360.5 300.6,366.3 300.7,333.5 300.7,412.1 300.8,371.5 300.8,318.6 300.9,380.2 300.9,405.4 301.0,313.4 301.0,360.4 301.1,400.4 301.1,353.4 301.2,389.3 301.2,397.0 301.3,380.6 301.3,382.5 301.4,381.4 301.5,386.4 301.5,382.8 301.6,367.5 301.6,365.5 301.7,350.9 301.7,391.1 301.8,408.2 301.8,463.7 301.9,366.6 301.9,331.2 302.0,357.7 302.0,383.4 302.1,346.0 302.1,393.3 302.2,344.7 302.2,382.4 302.3,370.6 302.3,353.2 302.4,368.8 302.4,359.7 302.5,394.1 302.5,370.4 302.6,391.5 302.7,275.9 302.7,350.0 302.8,368.2 302.8,398.1 302.9,331.1 302.9,409.2 303.0,387.2 303.0,358.2 303.1,377.2 303.1,339.8 303.2,335.8 303.2,383.2 303.3,379.0 303.3,377.9 303.4,398.7 303.4,356.6 303.5,349.9 303.5,345.1 303.6,360.7 303.6,381.1 303.7,353.6 303.7,430.8 303.8,356.0 303.9,328.5 303.9,327.4 304.0,385.4 304.0,354.3 304.1,336.2 304.1,323.4 304.2,393.6 304.2,382.3 304.3,362.3 304.3,361.3 304.4,366.4 304.4,348.8 304.5,380.7 304.5,296.3 304.6,343.0 304.6,383.4 304.7,365.1 304.7,305.0 304.8,341.1 304.8,390.1 304.9,357.9 304.9,395.5 305.0,403.0 305.1,392.2 305.1,386.5 305.2,382.6 305.2,396.5 305.3,360.4 305.3,346.0 305.4,375.5 305.4,394.1 305.5,353.9 305.5,421.2 305.6,402.8 305.6,360.8 305.7,359.0 305.7,338.4 305.8,384.1 305.8,403.2 305.9,373.8 305.9,350.1 306.0,380.1 306.0,382.1 306.1,396.9 306.1,404.8 306.2,346.5 306.3,350.7 306.3,400.0 306.4,387.2 306.4,382.1 306.5,324.7 306.5,386.9 306.6,383.4 306.6,429.5 306.7,387.9 306.7,353.0 306.8,341.9 306.8,405.2 306.9,370.8 306.9,315.6 307.0,377.5 307.0,373.3 307.1,343.7 307.1,377.0 307.2,334.7 307.2,358.4 307.3,373.1 307.3,358.7 307.4,362.8 307.5,418.3 307.5,390.3 307.6,338.1 307.6,392.8 307.7,380.2 307.7,378.8 307.8,370.6 307.8,351.9 307.9,349.1 307.9,332.0 308.0,375.1 308.0,374.4 308.1,385.0 308.1,301.4 308.2,334.2 308.2,391.3 308.3,364.4 308.3,373.5 308.4,367.7 308.4,351.8 308.5,306.5 308.5,412.3 308.6,319.5 308.7,356.1 308.7,398.4 308.8,364.6 308.8,371.9 308.9,360.1 308.9,346.3 309.0,406.8 309.0,322.9 309.1,384.0 309.1,336.0 309.2,359.1 309.2,334.3 309.3,327.5 309.3,342.4 309.4,376.4 309.4,384.9 309.5,361.7 309.5,386.4 309.6,330.3 309.6,405.4 309.7,363.8 309.7,323.5 309.8,402.1 309.9,367.8 309.9,322.3 310.0,332.5 310.0,380.5 310.1,333.0 310.1,329.2 310.2,330.9 310.2,358.0 310.3,347.8 310.3,384.3 310.4,373.6 310.4,343.9 310.5,366.2 310.5,323.9 310.6,363.8 310.6,414.7 310.7,377.4 310.7,328.0 310.8,340.3 310.8,359.4 310.9,379.3 310.9,309.5 311.0,381.3 311.1,345.9 311.1,391.8 311.2,383.1 311.2,335.1 311.3,400.4 311.3,395.0 311.4,363.1 311.4,377.5 311.5,345.9 311.5,383.7 311.6,370.3 311.6,325.3 311.7,370.6 311.7,358.5 311.8,398.5 311.8,367.2 311.9,351.5 311.9,353.4 312.0,356.1 312.0,382.3 312.1,318.5 312.1,415.6 312.2,366.2 312.3,362.4 312.3,346.6 312.4,354.9 312.4,388.9 312.5,385.3 312.5,359.9 312.6,342.4 312.6,331.3 312.7,369.7 312.7,339.7 312.8,365.3 312.8,332.8 312.9,312.5 312.9,390.6 313.0,357.3 313.0,368.5 313.1,445.2 313.1,395.4 313.2,362.1 313.2,355.7 313.3,399.8 313.3,332.4 313.4,347.4 313.5,371.7 313.5,333.3 313.6,336.7 313.6,350.4 313.7,397.1 313.7,334.4 313.8,398.6 313.8,380.2 313.9,358.1 313.9,387.3 314.0,356.8 314.0,346.6 314.1,337.7 314.1,331.8 314.2,360.0 314.2,365.5 314.3,331.8 314.3,369.1 314.4,288.2 314.4,374.4 314.5,370.0 314.6,345.2 314.6,355.4 314.7,371.8 314.7,371.8 314.8,368.5 314.8,341.9 314.9,357.3 314.9,395.0 315.0,350.4 315.0,342.0 315.1,336.5 315.1,444.1 315.2,392.0 315.2,370.3 315.3,381.6 315.3,351.7 315.4,327.8 315.4,351.9 315.5,358.5 315.5,352.5 315.6,316.7 315.6,388.3 315.7,360.8 315.8,329.7 315.8,368.0 315.9,418.2 315.9,354.0 316.0,379.3 316.0,377.3 316.1,345.0 316.1,358.9 316.2,364.9 316.2,345.3 316.3,353.7 316.3,377.1 316.4,357.0 316.4,364.5 316.5,400.6 316.5,359.6 316.6,363.7 316.6,386.5 316.7,427.2 316.7,326.3 316.8,371.4 316.8,354.8 316.9,372.2 317.0,372.5 317.0,368.1 317.1,365.2 317.1,385.9 317.2,343.8 317.2,384.7 317.3,341.0 317.3,405.8 317.4,402.2 317.4,324.6 317.5,348.8 317.5,402.0 317.6,358.2 317.6,381.8 317.7,372.8 317.7,416.5 317.8,366.4 317.8,382.4 317.9,345.8 317.9,353.3 318.0,368.4 318.0,326.7 318.1,370.8 318.2,406.8 318.2,419.1 318.3,332.6 318.3,367.0 318.4,390.9 318.4,385.1 318.5,403.6 318.5,333.8 318.6,345.9 318.6,325.4 318.7,364.5 318.7,423.7 318.8,338.7 318.8,381.4 318.9,366.8 318.9,321.7 319.0,375.3 319.0,341.5 319.1,352.9 319.1,380.9 319.2,348.2 319.2,389.5 319.3,355.0 319.4,350.2 319.4,347.2 319.5,355.0 319.5,327.6 319.6,373.5 319.6,348.7 319.7,368.1 319.7,387.9 319.8,406.7 319.8,365.6 319.9,349.0 319.9,381.6 320.0,371.1 320.0,371.6 320.1,353.1 320.1,374.2 320.2,358.2 320.2,348.8 320.3,359.1 320.3,411.8 320.4,361.4 320.4,329.9 320.5,373.6" fill="none" stroke="#9a9a9c" stroke-width="0.7"/>
<line x1="59.6" y1="388.53" x2="320.5" y2="371.57" stroke="#2352b0" stroke-width="1.6" stroke-dasharray="3 3.2"/>
<line x1="59.6" y1="460.2" x2="63.1" y2="460.2" stroke="#4a4a4a" stroke-width="1"/>
<line x1="320.5" y1="460.2" x2="317" y2="460.2" stroke="#4a4a4a" stroke-width="1"/>
<line x1="59.6" y1="432.7" x2="63.1" y2="432.7" stroke="#4a4a4a" stroke-width="1"/>
<line x1="320.5" y1="432.7" x2="317" y2="432.7" stroke="#4a4a4a" stroke-width="1"/>
<line x1="59.6" y1="405.2" x2="63.1" y2="405.2" stroke="#4a4a4a" stroke-width="1"/>
<line x1="320.5" y1="405.2" x2="317" y2="405.2" stroke="#4a4a4a" stroke-width="1"/>
<line x1="59.6" y1="377.7" x2="63.1" y2="377.7" stroke="#4a4a4a" stroke-width="1"/>
<line x1="320.5" y1="377.7" x2="317" y2="377.7" stroke="#4a4a4a" stroke-width="1"/>
<line x1="59.6" y1="350.2" x2="63.1" y2="350.2" stroke="#4a4a4a" stroke-width="1"/>
<line x1="320.5" y1="350.2" x2="317" y2="350.2" stroke="#4a4a4a" stroke-width="1"/>
<line x1="59.6" y1="322.7" x2="63.1" y2="322.7" stroke="#4a4a4a" stroke-width="1"/>
<line x1="320.5" y1="322.7" x2="317" y2="322.7" stroke="#4a4a4a" stroke-width="1"/>
<line x1="59.6" y1="295.2" x2="63.1" y2="295.2" stroke="#4a4a4a" stroke-width="1"/>
<line x1="320.5" y1="295.2" x2="317" y2="295.2" stroke="#4a4a4a" stroke-width="1"/>
<line x1="59.6" y1="473.95" x2="61.6" y2="473.95" stroke="#4a4a4a" stroke-width="1"/>
<line x1="320.5" y1="473.95" x2="318.5" y2="473.95" stroke="#4a4a4a" stroke-width="1"/>
<line x1="59.6" y1="446.45" x2="61.6" y2="446.45" stroke="#4a4a4a" stroke-width="1"/>
<line x1="320.5" y1="446.45" x2="318.5" y2="446.45" stroke="#4a4a4a" stroke-width="1"/>
<line x1="59.6" y1="418.95" x2="61.6" y2="418.95" stroke="#4a4a4a" stroke-width="1"/>
<line x1="320.5" y1="418.95" x2="318.5" y2="418.95" stroke="#4a4a4a" stroke-width="1"/>
<line x1="59.6" y1="391.45" x2="61.6" y2="391.45" stroke="#4a4a4a" stroke-width="1"/>
<line x1="320.5" y1="391.45" x2="318.5" y2="391.45" stroke="#4a4a4a" stroke-width="1"/>
<line x1="59.6" y1="363.95" x2="61.6" y2="363.95" stroke="#4a4a4a" stroke-width="1"/>
<line x1="320.5" y1="363.95" x2="318.5" y2="363.95" stroke="#4a4a4a" stroke-width="1"/>
<line x1="59.6" y1="336.45" x2="61.6" y2="336.45" stroke="#4a4a4a" stroke-width="1"/>
<line x1="320.5" y1="336.45" x2="318.5" y2="336.45" stroke="#4a4a4a" stroke-width="1"/>
<line x1="59.6" y1="308.95" x2="61.6" y2="308.95" stroke="#4a4a4a" stroke-width="1"/>
<line x1="320.5" y1="308.95" x2="318.5" y2="308.95" stroke="#4a4a4a" stroke-width="1"/>
<line x1="59.6" y1="281.45" x2="61.6" y2="281.45" stroke="#4a4a4a" stroke-width="1"/>
<line x1="320.5" y1="281.45" x2="318.5" y2="281.45" stroke="#4a4a4a" stroke-width="1"/>
<line x1="59.6" y1="482.3" x2="59.6" y2="478.8" stroke="#4a4a4a" stroke-width="1"/>
<line x1="59.6" y1="272.9" x2="59.6" y2="276.4" stroke="#4a4a4a" stroke-width="1"/>
<line x1="111.78" y1="482.3" x2="111.78" y2="478.8" stroke="#4a4a4a" stroke-width="1"/>
<line x1="111.78" y1="272.9" x2="111.78" y2="276.4" stroke="#4a4a4a" stroke-width="1"/>
<line x1="163.96" y1="482.3" x2="163.96" y2="478.8" stroke="#4a4a4a" stroke-width="1"/>
<line x1="163.96" y1="272.9" x2="163.96" y2="276.4" stroke="#4a4a4a" stroke-width="1"/>
<line x1="216.14" y1="482.3" x2="216.14" y2="478.8" stroke="#4a4a4a" stroke-width="1"/>
<line x1="216.14" y1="272.9" x2="216.14" y2="276.4" stroke="#4a4a4a" stroke-width="1"/>
<line x1="268.32" y1="482.3" x2="268.32" y2="478.8" stroke="#4a4a4a" stroke-width="1"/>
<line x1="268.32" y1="272.9" x2="268.32" y2="276.4" stroke="#4a4a4a" stroke-width="1"/>
<line x1="320.5" y1="482.3" x2="320.5" y2="478.8" stroke="#4a4a4a" stroke-width="1"/>
<line x1="320.5" y1="272.9" x2="320.5" y2="276.4" stroke="#4a4a4a" stroke-width="1"/>
<line x1="85.69" y1="482.3" x2="85.69" y2="480.3" stroke="#4a4a4a" stroke-width="1"/>
<line x1="85.69" y1="272.9" x2="85.69" y2="274.9" stroke="#4a4a4a" stroke-width="1"/>
<line x1="137.87" y1="482.3" x2="137.87" y2="480.3" stroke="#4a4a4a" stroke-width="1"/>
<line x1="137.87" y1="272.9" x2="137.87" y2="274.9" stroke="#4a4a4a" stroke-width="1"/>
<line x1="190.05" y1="482.3" x2="190.05" y2="480.3" stroke="#4a4a4a" stroke-width="1"/>
<line x1="190.05" y1="272.9" x2="190.05" y2="274.9" stroke="#4a4a4a" stroke-width="1"/>
<line x1="242.23" y1="482.3" x2="242.23" y2="480.3" stroke="#4a4a4a" stroke-width="1"/>
<line x1="242.23" y1="272.9" x2="242.23" y2="274.9" stroke="#4a4a4a" stroke-width="1"/>
<line x1="294.41" y1="482.3" x2="294.41" y2="480.3" stroke="#4a4a4a" stroke-width="1"/>
<line x1="294.41" y1="272.9" x2="294.41" y2="274.9" stroke="#4a4a4a" stroke-width="1"/>
<rect x="59.6" y="272.9" width="260.9" height="209.4" fill="none" stroke="#666" stroke-width="1.3"/>
<rect x="69.5" y="277.8" width="116.9" height="14.4" fill="#fff" stroke="#555" stroke-width="0.8"/>
<line x1="71.5" y1="285" x2="96" y2="285" stroke="#2352b0" stroke-width="1.6" stroke-dasharray="3 3.2"/>
<text x="99.3" y="288.6" font-size="10" text-anchor="start" font-weight="normal" fill="#2a2a2a" stroke="#2a2a2a" stroke-width="0.08">Mean linear fitting</text>
<text x="55.2" y="463.5" font-size="10" text-anchor="end" font-weight="bold" fill="#231f20" stroke="#231f20" stroke-width="0.28">−0.15</text>
<text x="55.2" y="436" font-size="10" text-anchor="end" font-weight="bold" fill="#231f20" stroke="#231f20" stroke-width="0.28">−0.10</text>
<text x="55.2" y="408.5" font-size="10" text-anchor="end" font-weight="bold" fill="#231f20" stroke="#231f20" stroke-width="0.28">−0.05</text>
<text x="55.2" y="381" font-size="10" text-anchor="end" font-weight="bold" fill="#231f20" stroke="#231f20" stroke-width="0.28">0.00</text>
<text x="55.2" y="353.5" font-size="10" text-anchor="end" font-weight="bold" fill="#231f20" stroke="#231f20" stroke-width="0.28">0.05</text>
<text x="55.2" y="326" font-size="10" text-anchor="end" font-weight="bold" fill="#231f20" stroke="#231f20" stroke-width="0.28">0.10</text>
<text x="55.2" y="298.5" font-size="10" text-anchor="end" font-weight="bold" fill="#231f20" stroke="#231f20" stroke-width="0.28">0.15</text>
<text x="59.6" y="494.3" font-size="10" text-anchor="middle" font-weight="bold" fill="#231f20" stroke="#231f20" stroke-width="0.28">0</text>
<text x="111.78" y="494.3" font-size="10" text-anchor="middle" font-weight="bold" fill="#231f20" stroke="#231f20" stroke-width="0.28">1000</text>
<text x="163.96" y="494.3" font-size="10" text-anchor="middle" font-weight="bold" fill="#231f20" stroke="#231f20" stroke-width="0.28">2000</text>
<text x="216.14" y="494.3" font-size="10" text-anchor="middle" font-weight="bold" fill="#231f20" stroke="#231f20" stroke-width="0.28">3000</text>
<text x="268.32" y="494.3" font-size="10" text-anchor="middle" font-weight="bold" fill="#231f20" stroke="#231f20" stroke-width="0.28">4000</text>
<text x="320.5" y="494.3" font-size="10" text-anchor="middle" font-weight="bold" fill="#231f20" stroke="#231f20" stroke-width="0.28">5000</text>
<text x="192" y="508.7" font-size="10" text-anchor="middle" font-weight="bold" fill="#231f20" stroke="#231f20" stroke-width="0.28">Time(s)</text>
<text transform="translate(25.2,372) rotate(-90)" font-size="10" font-weight="bold" fill="#231f20" text-anchor="middle" stroke="#231f20" stroke-width="0.28"><tspan font-weight="normal">Δ</tspan><tspan font-style="italic">f</tspan>/BW</text>
<text x="180" y="393.6" font-size="10" font-weight="bold" fill="#e4de38" stroke="#e4de38" stroke-width="0.28"><tspan font-weight="normal">Δ</tspan><tspan font-style="italic">y</tspan> =1, <tspan font-weight="normal">Δ</tspan><tspan font-style="italic">x</tspan> = 1.62×10<tspan font-size="7" dy="-4">5</tspan></text>
<text x="194.3" y="473.5" font-size="10" fill="#333" stroke="#333" stroke-width="0.08"><tspan font-style="italic">y</tspan> = −0.0197 + 6.17×10<tspan font-size="7" dy="-4">−6</tspan><tspan dy="4" font-style="italic">x</tspan></text>
<line x1="60.6" y1="729.13" x2="321" y2="729.13" stroke="#cdcdcd" stroke-width="0.8" stroke-dasharray="1 1.1"/>
<line x1="60.6" y1="715.34" x2="321" y2="715.34" stroke="#dddddd" stroke-width="0.8" stroke-dasharray="1 1.1"/>
<line x1="60.6" y1="704.07" x2="321" y2="704.07" stroke="#dddddd" stroke-width="0.8" stroke-dasharray="1 1.1"/>
<line x1="60.6" y1="694.54" x2="321" y2="694.54" stroke="#cdcdcd" stroke-width="0.8" stroke-dasharray="1 1.1"/>
<line x1="60.6" y1="686.29" x2="321" y2="686.29" stroke="#dddddd" stroke-width="0.8" stroke-dasharray="1 1.1"/>
<line x1="60.6" y1="679.01" x2="321" y2="679.01" stroke="#dddddd" stroke-width="0.8" stroke-dasharray="1 1.1"/>
<line x1="60.6" y1="672.5" x2="321" y2="672.5" stroke="#cdcdcd" stroke-width="0.8" stroke-dasharray="1 1.1"/>
<line x1="60.6" y1="629.66" x2="321" y2="629.66" stroke="#cdcdcd" stroke-width="0.8" stroke-dasharray="1 1.1"/>
<line x1="60.6" y1="604.61" x2="321" y2="604.61" stroke="#dddddd" stroke-width="0.8" stroke-dasharray="1 1.1"/>
<line x1="60.6" y1="586.83" x2="321" y2="586.83" stroke="#cdcdcd" stroke-width="0.8" stroke-dasharray="1 1.1"/>
<line x1="60.6" y1="573.04" x2="321" y2="573.04" stroke="#dddddd" stroke-width="0.8" stroke-dasharray="1 1.1"/>
<line x1="60.6" y1="561.77" x2="321" y2="561.77" stroke="#dddddd" stroke-width="0.8" stroke-dasharray="1 1.1"/>
<line x1="60.6" y1="552.24" x2="321" y2="552.24" stroke="#cdcdcd" stroke-width="0.8" stroke-dasharray="1 1.1"/>
<line x1="60.6" y1="543.99" x2="321" y2="543.99" stroke="#dddddd" stroke-width="0.8" stroke-dasharray="1 1.1"/>
<line x1="64.95" y1="537.4" x2="64.95" y2="746.6" stroke="#dddddd" stroke-width="0.8" stroke-dasharray="1 1.1"/>
<line x1="68.94" y1="537.4" x2="68.94" y2="746.6" stroke="#dddddd" stroke-width="0.8" stroke-dasharray="1 1.1"/>
<line x1="72.45" y1="537.4" x2="72.45" y2="746.6" stroke="#dddddd" stroke-width="0.8" stroke-dasharray="1 1.1"/>
<line x1="75.6" y1="537.4" x2="75.6" y2="746.6" stroke="#cdcdcd" stroke-width="0.8" stroke-dasharray="1 1.1"/>
<line x1="96.3" y1="537.4" x2="96.3" y2="746.6" stroke="#dddddd" stroke-width="0.8" stroke-dasharray="1 1.1"/>
<line x1="108.4" y1="537.4" x2="108.4" y2="746.6" stroke="#dddddd" stroke-width="0.8" stroke-dasharray="1 1.1"/>
<line x1="116.99" y1="537.4" x2="116.99" y2="746.6" stroke="#dddddd" stroke-width="0.8" stroke-dasharray="1 1.1"/>
<line x1="123.65" y1="537.4" x2="123.65" y2="746.6" stroke="#dddddd" stroke-width="0.8" stroke-dasharray="1 1.1"/>
<line x1="129.1" y1="537.4" x2="129.1" y2="746.6" stroke="#dddddd" stroke-width="0.8" stroke-dasharray="1 1.1"/>
<line x1="133.7" y1="537.4" x2="133.7" y2="746.6" stroke="#dddddd" stroke-width="0.8" stroke-dasharray="1 1.1"/>
<line x1="137.69" y1="537.4" x2="137.69" y2="746.6" stroke="#dddddd" stroke-width="0.8" stroke-dasharray="1 1.1"/>
<line x1="141.2" y1="537.4" x2="141.2" y2="746.6" stroke="#dddddd" stroke-width="0.8" stroke-dasharray="1 1.1"/>
<line x1="144.35" y1="537.4" x2="144.35" y2="746.6" stroke="#cdcdcd" stroke-width="0.8" stroke-dasharray="1 1.1"/>
<line x1="165.05" y1="537.4" x2="165.05" y2="746.6" stroke="#dddddd" stroke-width="0.8" stroke-dasharray="1 1.1"/>
<line x1="177.15" y1="537.4" x2="177.15" y2="746.6" stroke="#dddddd" stroke-width="0.8" stroke-dasharray="1 1.1"/>
<line x1="185.74" y1="537.4" x2="185.74" y2="746.6" stroke="#dddddd" stroke-width="0.8" stroke-dasharray="1 1.1"/>
<line x1="192.4" y1="537.4" x2="192.4" y2="746.6" stroke="#dddddd" stroke-width="0.8" stroke-dasharray="1 1.1"/>
<line x1="197.85" y1="537.4" x2="197.85" y2="746.6" stroke="#dddddd" stroke-width="0.8" stroke-dasharray="1 1.1"/>
<line x1="202.45" y1="537.4" x2="202.45" y2="746.6" stroke="#dddddd" stroke-width="0.8" stroke-dasharray="1 1.1"/>
<line x1="206.44" y1="537.4" x2="206.44" y2="746.6" stroke="#dddddd" stroke-width="0.8" stroke-dasharray="1 1.1"/>
<line x1="209.95" y1="537.4" x2="209.95" y2="746.6" stroke="#dddddd" stroke-width="0.8" stroke-dasharray="1 1.1"/>
<line x1="213.1" y1="537.4" x2="213.1" y2="746.6" stroke="#cdcdcd" stroke-width="0.8" stroke-dasharray="1 1.1"/>
<line x1="233.8" y1="537.4" x2="233.8" y2="746.6" stroke="#dddddd" stroke-width="0.8" stroke-dasharray="1 1.1"/>
<line x1="245.9" y1="537.4" x2="245.9" y2="746.6" stroke="#dddddd" stroke-width="0.8" stroke-dasharray="1 1.1"/>
<line x1="254.49" y1="537.4" x2="254.49" y2="746.6" stroke="#dddddd" stroke-width="0.8" stroke-dasharray="1 1.1"/>
<line x1="261.15" y1="537.4" x2="261.15" y2="746.6" stroke="#dddddd" stroke-width="0.8" stroke-dasharray="1 1.1"/>
<line x1="266.6" y1="537.4" x2="266.6" y2="746.6" stroke="#dddddd" stroke-width="0.8" stroke-dasharray="1 1.1"/>
<line x1="271.2" y1="537.4" x2="271.2" y2="746.6" stroke="#dddddd" stroke-width="0.8" stroke-dasharray="1 1.1"/>
<line x1="275.19" y1="537.4" x2="275.19" y2="746.6" stroke="#dddddd" stroke-width="0.8" stroke-dasharray="1 1.1"/>
<line x1="278.7" y1="537.4" x2="278.7" y2="746.6" stroke="#dddddd" stroke-width="0.8" stroke-dasharray="1 1.1"/>
<line x1="281.85" y1="537.4" x2="281.85" y2="746.6" stroke="#cdcdcd" stroke-width="0.8" stroke-dasharray="1 1.1"/>
<line x1="302.55" y1="537.4" x2="302.55" y2="746.6" stroke="#dddddd" stroke-width="0.8" stroke-dasharray="1 1.1"/>
<line x1="314.65" y1="537.4" x2="314.65" y2="746.6" stroke="#dddddd" stroke-width="0.8" stroke-dasharray="1 1.1"/>
<line x1="60.6" y1="729.13" x2="64.1" y2="729.13" stroke="#4a4a4a" stroke-width="1"/>
<line x1="321" y1="729.13" x2="317.5" y2="729.13" stroke="#4a4a4a" stroke-width="1"/>
<line x1="60.6" y1="694.54" x2="64.1" y2="694.54" stroke="#4a4a4a" stroke-width="1"/>
<line x1="321" y1="694.54" x2="317.5" y2="694.54" stroke="#4a4a4a" stroke-width="1"/>
<line x1="60.6" y1="672.5" x2="64.1" y2="672.5" stroke="#4a4a4a" stroke-width="1"/>
<line x1="321" y1="672.5" x2="317.5" y2="672.5" stroke="#4a4a4a" stroke-width="1"/>
<line x1="60.6" y1="629.66" x2="64.1" y2="629.66" stroke="#4a4a4a" stroke-width="1"/>
<line x1="321" y1="629.66" x2="317.5" y2="629.66" stroke="#4a4a4a" stroke-width="1"/>
<line x1="60.6" y1="586.83" x2="64.1" y2="586.83" stroke="#4a4a4a" stroke-width="1"/>
<line x1="321" y1="586.83" x2="317.5" y2="586.83" stroke="#4a4a4a" stroke-width="1"/>
<line x1="60.6" y1="552.24" x2="64.1" y2="552.24" stroke="#4a4a4a" stroke-width="1"/>
<line x1="321" y1="552.24" x2="317.5" y2="552.24" stroke="#4a4a4a" stroke-width="1"/>
<line x1="60.6" y1="715.34" x2="62.6" y2="715.34" stroke="#4a4a4a" stroke-width="1"/>
<line x1="321" y1="715.34" x2="319" y2="715.34" stroke="#4a4a4a" stroke-width="1"/>
<line x1="60.6" y1="704.07" x2="62.6" y2="704.07" stroke="#4a4a4a" stroke-width="1"/>
<line x1="321" y1="704.07" x2="319" y2="704.07" stroke="#4a4a4a" stroke-width="1"/>
<line x1="60.6" y1="686.29" x2="62.6" y2="686.29" stroke="#4a4a4a" stroke-width="1"/>
<line x1="321" y1="686.29" x2="319" y2="686.29" stroke="#4a4a4a" stroke-width="1"/>
<line x1="60.6" y1="679.01" x2="62.6" y2="679.01" stroke="#4a4a4a" stroke-width="1"/>
<line x1="321" y1="679.01" x2="319" y2="679.01" stroke="#4a4a4a" stroke-width="1"/>
<line x1="60.6" y1="604.61" x2="62.6" y2="604.61" stroke="#4a4a4a" stroke-width="1"/>
<line x1="321" y1="604.61" x2="319" y2="604.61" stroke="#4a4a4a" stroke-width="1"/>
<line x1="60.6" y1="573.04" x2="62.6" y2="573.04" stroke="#4a4a4a" stroke-width="1"/>
<line x1="321" y1="573.04" x2="319" y2="573.04" stroke="#4a4a4a" stroke-width="1"/>
<line x1="60.6" y1="561.77" x2="62.6" y2="561.77" stroke="#4a4a4a" stroke-width="1"/>
<line x1="321" y1="561.77" x2="319" y2="561.77" stroke="#4a4a4a" stroke-width="1"/>
<line x1="60.6" y1="552.24" x2="62.6" y2="552.24" stroke="#4a4a4a" stroke-width="1"/>
<line x1="321" y1="552.24" x2="319" y2="552.24" stroke="#4a4a4a" stroke-width="1"/>
<line x1="60.6" y1="543.99" x2="62.6" y2="543.99" stroke="#4a4a4a" stroke-width="1"/>
<line x1="321" y1="543.99" x2="319" y2="543.99" stroke="#4a4a4a" stroke-width="1"/>
<line x1="75.6" y1="746.6" x2="75.6" y2="743.1" stroke="#4a4a4a" stroke-width="1"/>
<line x1="75.6" y1="537.4" x2="75.6" y2="540.9" stroke="#4a4a4a" stroke-width="1"/>
<line x1="144.35" y1="746.6" x2="144.35" y2="743.1" stroke="#4a4a4a" stroke-width="1"/>
<line x1="144.35" y1="537.4" x2="144.35" y2="540.9" stroke="#4a4a4a" stroke-width="1"/>
<line x1="213.1" y1="746.6" x2="213.1" y2="743.1" stroke="#4a4a4a" stroke-width="1"/>
<line x1="213.1" y1="537.4" x2="213.1" y2="540.9" stroke="#4a4a4a" stroke-width="1"/>
<line x1="281.85" y1="746.6" x2="281.85" y2="743.1" stroke="#4a4a4a" stroke-width="1"/>
<line x1="281.85" y1="537.4" x2="281.85" y2="540.9" stroke="#4a4a4a" stroke-width="1"/>
<line x1="64.95" y1="746.6" x2="64.95" y2="744.6" stroke="#4a4a4a" stroke-width="1"/>
<line x1="64.95" y1="537.4" x2="64.95" y2="539.4" stroke="#4a4a4a" stroke-width="1"/>
<line x1="68.94" y1="746.6" x2="68.94" y2="744.6" stroke="#4a4a4a" stroke-width="1"/>
<line x1="68.94" y1="537.4" x2="68.94" y2="539.4" stroke="#4a4a4a" stroke-width="1"/>
<line x1="72.45" y1="746.6" x2="72.45" y2="744.6" stroke="#4a4a4a" stroke-width="1"/>
<line x1="72.45" y1="537.4" x2="72.45" y2="539.4" stroke="#4a4a4a" stroke-width="1"/>
<line x1="96.3" y1="746.6" x2="96.3" y2="744.6" stroke="#4a4a4a" stroke-width="1"/>
<line x1="96.3" y1="537.4" x2="96.3" y2="539.4" stroke="#4a4a4a" stroke-width="1"/>
<line x1="108.4" y1="746.6" x2="108.4" y2="744.6" stroke="#4a4a4a" stroke-width="1"/>
<line x1="108.4" y1="537.4" x2="108.4" y2="539.4" stroke="#4a4a4a" stroke-width="1"/>
<line x1="116.99" y1="746.6" x2="116.99" y2="744.6" stroke="#4a4a4a" stroke-width="1"/>
<line x1="116.99" y1="537.4" x2="116.99" y2="539.4" stroke="#4a4a4a" stroke-width="1"/>
<line x1="123.65" y1="746.6" x2="123.65" y2="744.6" stroke="#4a4a4a" stroke-width="1"/>
<line x1="123.65" y1="537.4" x2="123.65" y2="539.4" stroke="#4a4a4a" stroke-width="1"/>
<line x1="129.1" y1="746.6" x2="129.1" y2="744.6" stroke="#4a4a4a" stroke-width="1"/>
<line x1="129.1" y1="537.4" x2="129.1" y2="539.4" stroke="#4a4a4a" stroke-width="1"/>
<line x1="133.7" y1="746.6" x2="133.7" y2="744.6" stroke="#4a4a4a" stroke-width="1"/>
<line x1="133.7" y1="537.4" x2="133.7" y2="539.4" stroke="#4a4a4a" stroke-width="1"/>
<line x1="137.69" y1="746.6" x2="137.69" y2="744.6" stroke="#4a4a4a" stroke-width="1"/>
<line x1="137.69" y1="537.4" x2="137.69" y2="539.4" stroke="#4a4a4a" stroke-width="1"/>
<line x1="141.2" y1="746.6" x2="141.2" y2="744.6" stroke="#4a4a4a" stroke-width="1"/>
<line x1="141.2" y1="537.4" x2="141.2" y2="539.4" stroke="#4a4a4a" stroke-width="1"/>
<line x1="165.05" y1="746.6" x2="165.05" y2="744.6" stroke="#4a4a4a" stroke-width="1"/>
<line x1="165.05" y1="537.4" x2="165.05" y2="539.4" stroke="#4a4a4a" stroke-width="1"/>
<line x1="177.15" y1="746.6" x2="177.15" y2="744.6" stroke="#4a4a4a" stroke-width="1"/>
<line x1="177.15" y1="537.4" x2="177.15" y2="539.4" stroke="#4a4a4a" stroke-width="1"/>
<line x1="185.74" y1="746.6" x2="185.74" y2="744.6" stroke="#4a4a4a" stroke-width="1"/>
<line x1="185.74" y1="537.4" x2="185.74" y2="539.4" stroke="#4a4a4a" stroke-width="1"/>
<line x1="192.4" y1="746.6" x2="192.4" y2="744.6" stroke="#4a4a4a" stroke-width="1"/>
<line x1="192.4" y1="537.4" x2="192.4" y2="539.4" stroke="#4a4a4a" stroke-width="1"/>
<line x1="197.85" y1="746.6" x2="197.85" y2="744.6" stroke="#4a4a4a" stroke-width="1"/>
<line x1="197.85" y1="537.4" x2="197.85" y2="539.4" stroke="#4a4a4a" stroke-width="1"/>
<line x1="202.45" y1="746.6" x2="202.45" y2="744.6" stroke="#4a4a4a" stroke-width="1"/>
<line x1="202.45" y1="537.4" x2="202.45" y2="539.4" stroke="#4a4a4a" stroke-width="1"/>
<line x1="206.44" y1="746.6" x2="206.44" y2="744.6" stroke="#4a4a4a" stroke-width="1"/>
<line x1="206.44" y1="537.4" x2="206.44" y2="539.4" stroke="#4a4a4a" stroke-width="1"/>
<line x1="209.95" y1="746.6" x2="209.95" y2="744.6" stroke="#4a4a4a" stroke-width="1"/>
<line x1="209.95" y1="537.4" x2="209.95" y2="539.4" stroke="#4a4a4a" stroke-width="1"/>
<line x1="233.8" y1="746.6" x2="233.8" y2="744.6" stroke="#4a4a4a" stroke-width="1"/>
<line x1="233.8" y1="537.4" x2="233.8" y2="539.4" stroke="#4a4a4a" stroke-width="1"/>
<line x1="245.9" y1="746.6" x2="245.9" y2="744.6" stroke="#4a4a4a" stroke-width="1"/>
<line x1="245.9" y1="537.4" x2="245.9" y2="539.4" stroke="#4a4a4a" stroke-width="1"/>
<line x1="254.49" y1="746.6" x2="254.49" y2="744.6" stroke="#4a4a4a" stroke-width="1"/>
<line x1="254.49" y1="537.4" x2="254.49" y2="539.4" stroke="#4a4a4a" stroke-width="1"/>
<line x1="261.15" y1="746.6" x2="261.15" y2="744.6" stroke="#4a4a4a" stroke-width="1"/>
<line x1="261.15" y1="537.4" x2="261.15" y2="539.4" stroke="#4a4a4a" stroke-width="1"/>
<line x1="266.6" y1="746.6" x2="266.6" y2="744.6" stroke="#4a4a4a" stroke-width="1"/>
<line x1="266.6" y1="537.4" x2="266.6" y2="539.4" stroke="#4a4a4a" stroke-width="1"/>
<line x1="271.2" y1="746.6" x2="271.2" y2="744.6" stroke="#4a4a4a" stroke-width="1"/>
<line x1="271.2" y1="537.4" x2="271.2" y2="539.4" stroke="#4a4a4a" stroke-width="1"/>
<line x1="275.19" y1="746.6" x2="275.19" y2="744.6" stroke="#4a4a4a" stroke-width="1"/>
<line x1="275.19" y1="537.4" x2="275.19" y2="539.4" stroke="#4a4a4a" stroke-width="1"/>
<line x1="278.7" y1="746.6" x2="278.7" y2="744.6" stroke="#4a4a4a" stroke-width="1"/>
<line x1="278.7" y1="537.4" x2="278.7" y2="539.4" stroke="#4a4a4a" stroke-width="1"/>
<line x1="302.55" y1="746.6" x2="302.55" y2="744.6" stroke="#4a4a4a" stroke-width="1"/>
<line x1="302.55" y1="537.4" x2="302.55" y2="539.4" stroke="#4a4a4a" stroke-width="1"/>
<line x1="314.65" y1="746.6" x2="314.65" y2="744.6" stroke="#4a4a4a" stroke-width="1"/>
<line x1="314.65" y1="537.4" x2="314.65" y2="539.4" stroke="#4a4a4a" stroke-width="1"/>
<rect x="60.6" y="537.4" width="260.4" height="209.2" fill="none" stroke="#666" stroke-width="1.3"/>
<text x="56.3" y="556.14" font-size="10" font-weight="bold" fill="#231f20" text-anchor="end" stroke="#231f20" stroke-width="0.28">7×10<tspan font-size="7" dy="-4.2">−5</tspan></text>
<text x="56.3" y="590.73" font-size="10" font-weight="bold" fill="#231f20" text-anchor="end" stroke="#231f20" stroke-width="0.28">4×10<tspan font-size="7" dy="-4.2">−5</tspan></text>
<text x="56.3" y="633.56" font-size="10" font-weight="bold" fill="#231f20" text-anchor="end" stroke="#231f20" stroke-width="0.28">2×10<tspan font-size="7" dy="-4.2">−5</tspan></text>
<text x="56.3" y="676.4" font-size="10" font-weight="bold" fill="#231f20" text-anchor="end" stroke="#231f20" stroke-width="0.28">10<tspan font-size="7" dy="-4.2">−5</tspan></text>
<text x="56.3" y="698.44" font-size="10" font-weight="bold" fill="#231f20" text-anchor="end" stroke="#231f20" stroke-width="0.28">7×10<tspan font-size="7" dy="-4.2">−6</tspan></text>
<text x="56.3" y="733.03" font-size="10" font-weight="bold" fill="#231f20" text-anchor="end" stroke="#231f20" stroke-width="0.28">4×10<tspan font-size="7" dy="-4.2">−6</tspan></text>
<text x="74.1" y="759.4" font-size="10" font-weight="bold" fill="#231f20" text-anchor="middle" stroke="#231f20" stroke-width="0.28">10<tspan font-size="7" dy="-4.2">0</tspan></text>
<text x="142.85" y="759.4" font-size="10" font-weight="bold" fill="#231f20" text-anchor="middle" stroke="#231f20" stroke-width="0.28">10<tspan font-size="7" dy="-4.2">1</tspan></text>
<text x="211.6" y="759.4" font-size="10" font-weight="bold" fill="#231f20" text-anchor="middle" stroke="#231f20" stroke-width="0.28">10<tspan font-size="7" dy="-4.2">2</tspan></text>
<text x="280.35" y="759.4" font-size="10" font-weight="bold" fill="#231f20" text-anchor="middle" stroke="#231f20" stroke-width="0.28">10<tspan font-size="7" dy="-4.2">3</tspan></text>
<text x="190.6" y="774.2" font-size="10" text-anchor="middle" font-weight="bold" fill="#231f20" stroke="#231f20" stroke-width="0.28">Time (s)</text>
<text transform="translate(16.2,643) rotate(-90)" font-size="10" font-weight="bold" fill="#231f20" text-anchor="middle" stroke="#231f20" stroke-width="0.28">Allan variance(σ<tspan font-size="7" dy="1.8">τ</tspan><tspan dy="-1.8">)</tspan></text>
<polyline points="75.7,549 78.28,557.77 80.85,565.96 83.42,573.44 86,580.11 88.58,585.83 91.15,590.5 93.72,594 96.3,596.2 97.81,597 99.33,597.65 100.84,598.19 102.35,598.66 103.86,599.09 105.38,599.53 106.89,600.02 108.4,600.6 109.43,601.03 110.45,601.47 111.47,601.91 112.5,602.38 113.53,602.88 114.55,603.41 115.57,603.98 116.6,604.6 117.46,605.23 118.32,605.99 119.19,606.85 120.05,607.73 120.91,608.61 121.78,609.43 122.64,610.14 123.5,610.7 124.2,611.04 124.9,611.33 125.6,611.58 126.3,611.8 127,612.03 127.7,612.28 128.4,612.56 129.1,612.9 130.15,613.54 131.2,614.32 132.25,615.22 133.3,616.19 134.35,617.22 135.4,618.27 136.45,619.3 137.5,620.3 138.38,621.11 139.25,621.94 140.12,622.78 141,623.62 141.88,624.47 142.75,625.32 143.62,626.16 144.5,627 145.16,627.63 145.82,628.25 146.49,628.88 147.15,629.5 147.81,630.12 148.48,630.75 149.14,631.37 149.8,632 151.7,633.8 153.6,635.59 155.5,637.38 157.4,639.17 159.3,640.99 161.2,642.82 163.1,644.69 165,646.6 166.49,648.12 167.97,649.66 169.46,651.21 170.95,652.79 172.44,654.39 173.93,656.03 175.41,657.69 176.9,659.4 177.96,660.59 179.03,661.74 180.09,662.88 181.15,664.06 182.21,665.32 183.28,666.7 184.34,668.25 185.4,670 186.24,671.94 187.07,674.63 187.91,677.74 188.75,680.97 189.59,684.02 190.43,686.58 191.26,688.34 192.1,689 192.78,688.93 193.45,688.75 194.12,688.49 194.8,688.2 195.47,687.91 196.15,687.65 196.82,687.47 197.5,687.4 198.59,687.41 199.68,687.42 200.76,687.46 201.85,687.5 202.94,687.56 204.02,687.62 205.11,687.71 206.2,687.8 207.01,688.07 207.82,688.69 208.64,689.59 209.45,690.7 210.26,691.96 211.07,693.31 211.89,694.68 212.7,696 213.05,696.65 213.4,697.46 213.75,698.35 214.1,699.25 214.45,700.08 214.8,700.76 215.15,701.23 215.5,701.4 215.82,701.36 216.15,701.26 216.47,701.12 216.8,700.95 217.12,700.78 217.45,700.64 217.78,700.54 218.1,700.5 218.67,700.65 219.25,701.06 219.82,701.63 220.4,702.3 220.97,702.97 221.55,703.56 222.12,704 222.7,704.2 223.2,704.24 223.7,704.28 224.2,704.32 224.7,704.35 225.2,704.37 225.7,704.39 226.2,704.4 226.7,704.4 227.52,704.14 228.35,703.46 229.18,702.5 230,701.4 230.82,700.3 231.65,699.34 232.48,698.66 233.3,698.4 234,698.56 234.7,699 235.4,699.69 236.1,700.57 236.8,701.59 237.5,702.72 238.2,703.91 238.9,705.1 239.78,707.15 240.65,710.09 241.53,713.57 242.4,717.23 243.28,720.7 244.15,723.63 245.03,725.65 245.9,726.4 246.91,726.33 247.93,726.13 248.94,725.82 249.95,725.41 250.96,724.92 251.97,724.36 252.99,723.75 254,723.1 254.82,722.27 255.65,720.98 256.48,719.4 257.3,717.7 258.12,716.04 258.95,714.61 259.78,713.57 260.6,713.1 261.3,713 262,712.93 262.7,712.88 263.4,712.84 264.1,712.8 264.8,712.76 265.5,712.69 266.2,712.6 267.25,712.3 268.3,711.75 269.35,711 270.4,710.08 271.45,709.04 272.5,707.92 273.55,706.76 274.6,705.6 277.2,702.33 279.8,698.31 282.4,693.68 285,688.61 287.6,683.27 290.2,677.82 292.8,672.41 295.4,667.2 298,662.09 300.6,656.86 303.2,651.55 305.8,646.18 308.4,640.77 311,635.35 313.6,629.96 316.2,624.6" fill="none" stroke="#2a5cb4" stroke-width="1.1" stroke-linejoin="round"/>
<line x1="125.3" y1="607" x2="186.6" y2="670.3" stroke="#52bb4f" stroke-width="2.3" stroke-dasharray="3.2 2"/>
<rect x="73.6" y="546.9" width="4.2" height="4.2" fill="#2a5cb4"/>
<rect x="94.2" y="594.1" width="4.2" height="4.2" fill="#2a5cb4"/>
<rect x="106.3" y="598.5" width="4.2" height="4.2" fill="#2a5cb4"/>
<rect x="114.5" y="602.5" width="4.2" height="4.2" fill="#2a5cb4"/>
<rect x="121.4" y="608.6" width="4.2" height="4.2" fill="#2a5cb4"/>
<rect x="127" y="610.8" width="4.2" height="4.2" fill="#2a5cb4"/>
<rect x="135.4" y="618.2" width="4.2" height="4.2" fill="#2a5cb4"/>
<rect x="142.4" y="624.9" width="4.2" height="4.2" fill="#2a5cb4"/>
<rect x="147.7" y="629.9" width="4.2" height="4.2" fill="#2a5cb4"/>
<rect x="162.9" y="644.5" width="4.2" height="4.2" fill="#2a5cb4"/>
<rect x="174.8" y="657.3" width="4.2" height="4.2" fill="#2a5cb4"/>
<rect x="183.3" y="667.9" width="4.2" height="4.2" fill="#2a5cb4"/>
<rect x="190" y="686.9" width="4.2" height="4.2" fill="#2a5cb4"/>
<rect x="195.4" y="685.3" width="4.2" height="4.2" fill="#2a5cb4"/>
<rect x="204.1" y="685.7" width="4.2" height="4.2" fill="#2a5cb4"/>
<rect x="210.6" y="693.9" width="4.2" height="4.2" fill="#2a5cb4"/>
<rect x="213.4" y="699.3" width="4.2" height="4.2" fill="#2a5cb4"/>
<rect x="216" y="698.4" width="4.2" height="4.2" fill="#2a5cb4"/>
<rect x="220.6" y="702.1" width="4.2" height="4.2" fill="#2a5cb4"/>
<rect x="224.6" y="702.3" width="4.2" height="4.2" fill="#2a5cb4"/>
<rect x="231.2" y="696.3" width="4.2" height="4.2" fill="#2a5cb4"/>
<rect x="236.8" y="703" width="4.2" height="4.2" fill="#2a5cb4"/>
<rect x="243.8" y="724.3" width="4.2" height="4.2" fill="#2a5cb4"/>
<rect x="251.9" y="721" width="4.2" height="4.2" fill="#2a5cb4"/>
<rect x="258.5" y="711" width="4.2" height="4.2" fill="#2a5cb4"/>
<rect x="264.1" y="710.5" width="4.2" height="4.2" fill="#2a5cb4"/>
<rect x="272.5" y="703.5" width="4.2" height="4.2" fill="#2a5cb4"/>
<rect x="293.3" y="665.1" width="4.2" height="4.2" fill="#2a5cb4"/>
<rect x="314.1" y="622.5" width="4.2" height="4.2" fill="#2a5cb4"/>
<line x1="138.5" y1="729" x2="269.9" y2="729" stroke="#e8323c" stroke-width="1.6" stroke-dasharray="4 2.6"/>
<text x="105.5" y="722.6" font-size="10" fill="#333" stroke="#333" stroke-width="0.08">Bias-instability = 4.10<tspan font-size="7" dy="-4">−6</tspan></text>
<text x="137" y="599.4" font-size="10" text-anchor="start" font-weight="bold" fill="#231f20" stroke="#231f20" stroke-width="0.28">White noise</text>
<text x="241.2" y="611.2" font-size="10" text-anchor="start" font-weight="bold" fill="#231f20" stroke="#231f20" stroke-width="0.28">Thermal drift</text>
<line x1="165.2" y1="608.9" x2="158.09" y2="627.01" stroke="#111" stroke-width="1"/>
<path d="M155.9,632.6 L156.13,625.71 L160.42,627.39Z" fill="#111"/>
<line x1="277.7" y1="618" x2="287.58" y2="634.27" stroke="#111" stroke-width="1"/>
<path d="M290.7,639.4 L285.36,635.04 L289.29,632.65Z" fill="#111"/>
<ellipse cx="298" cy="658.4" rx="34.6" ry="11.3" transform="rotate(-66 298 658.4)" fill="none" stroke="#e8323c" stroke-width="2" stroke-dasharray="5.5 3.5"/>
<polyline points="392.56,23.5 392.60,43.7 392.61,25.1 392.65,48.8 392.67,24.1 392.71,43.3 392.78,24.4 392.82,42.8 392.90,24.4 392.94,48.1 393.00,24.3 393.04,44.4 393.06,24.9 393.10,47.8 393.10,24.3 393.14,47.4 393.22,24.5 393.26,48.6 393.25,23.1 393.29,47.2 393.36,24.1 393.40,47.9 393.49,24.3 393.53,42.4 393.52,24.3 393.56,46.6 393.63,24.4 393.67,49.3 393.69,24.6 393.73,41.8 393.78,24.3 393.82,44.3 393.83,24.1 393.87,42.9 393.99,24.3 394.03,46.1 394.01,23.9 394.05,43.8 394.09,24.3 394.13,46.2 394.17,24.2 394.21,48.7 394.27,23.7 394.31,45.6 394.39,24.0 394.43,45.4 394.48,24.4 394.52,45.5 394.53,24.3 394.57,43.4 394.65,24.0 394.69,51.0 394.72,23.6 394.76,45.0 394.80,24.3 394.84,48.2 394.83,24.3 394.87,46.7 394.95,23.9 394.99,44.5 395.01,24.5 395.05,45.7 395.13,24.3 395.17,47.8 395.20,23.9 395.24,43.6 395.32,24.0 395.36,46.0 395.34,24.2 395.38,43.1 395.44,24.0 395.48,42.2 395.53,25.2 395.57,46.9 395.61,23.9 395.65,49.1 395.71,24.5 395.75,45.6 395.79,24.8 395.83,43.4 395.89,24.1 395.93,44.9 395.96,24.0 396.00,49.3 396.03,24.4 396.07,50.8 396.13,24.6 396.17,48.6 396.23,24.2 396.27,48.6 396.29,24.2 396.33,43.9 396.40,23.8 396.44,45.6 396.43,24.0 396.47,43.2 396.51,24.2 396.55,46.0 396.60,23.9 396.64,40.8 396.66,24.3 396.70,45.7 396.77,24.5 396.81,44.1 396.89,24.0 396.93,47.0 396.91,24.0 396.95,44.4 397.04,24.3 397.08,42.5 397.08,24.5 397.12,43.5 397.19,24.1 397.23,42.0 397.25,25.0 397.29,47.5 397.35,24.0 397.39,44.4 397.46,24.1 397.50,40.7 397.56,24.8 397.60,45.0 397.63,24.2 397.67,46.2 397.68,24.5 397.72,46.4 397.82,24.0 397.86,47.3 397.88,24.9 397.92,45.3 397.92,24.5 397.96,41.6 398.01,24.0 398.05,44.4 398.10,23.8 398.14,45.8 398.18,24.9 398.22,48.1 398.31,24.4 398.35,49.1 398.39,24.1 398.43,38.7 398.48,24.4 398.52,47.1 398.57,23.7 398.61,45.5 398.61,24.6 398.65,47.2 398.69,24.1 398.73,45.3 398.75,24.6 398.79,47.0 398.87,23.8 398.91,45.4 398.97,24.2 399.01,41.5 399.03,24.3 399.07,47.9 399.08,24.8 399.12,44.2 399.17,23.7 399.21,46.0 399.29,24.0 399.33,43.7 399.37,24.0 399.41,47.8 399.46,23.8 399.50,44.6 399.53,24.1 399.57,48.7 399.59,24.4 399.63,51.2 399.67,24.5 399.71,49.7 399.79,24.5 399.83,48.6 399.85,23.8 399.89,49.2 399.96,24.7 400.00,46.8 400.00,24.4 400.04,42.6 400.08,24.3 400.12,49.2 400.16,24.1 400.20,44.6 400.26,24.0 400.30,45.5 400.38,24.6 400.42,48.0 400.41,24.8 400.45,48.7 400.50,24.2 400.54,44.7 400.60,23.8 400.64,44.5 400.73,24.0 400.77,46.9 400.77,24.1 400.81,46.4 400.87,24.3 400.91,46.0 400.94,24.1 400.98,49.8 401.01,24.3 401.05,45.6 401.12,24.0 401.16,45.0 401.20,24.5 401.24,40.8 401.25,24.2 401.29,49.7 401.33,24.3 401.37,48.5 401.48,24.0 401.52,45.7 401.51,24.1 401.55,47.7 401.62,23.4 401.66,47.1 401.67,23.7 401.71,45.9 401.80,23.7 401.84,46.8 401.89,24.9 401.93,46.0 401.93,24.3 401.97,44.7 402.05,24.4 402.09,50.7 402.10,24.0 402.14,44.3 402.21,25.0 402.25,52.5 402.29,23.8 402.33,41.0 402.34,23.9 402.38,43.2 402.40,24.6 402.44,47.7 402.56,24.5 402.60,43.0 402.57,24.5 402.61,46.4 402.69,24.2 402.73,44.7 402.75,24.0 402.79,43.7 402.86,23.5 402.90,44.9 402.93,24.3 402.97,45.9 403.01,24.0 403.05,44.1 403.12,24.2 403.16,46.5 403.16,23.6 403.20,47.0 403.27,24.0 403.31,48.7 403.40,23.8 403.44,51.2 403.42,24.6 403.46,41.3 403.51,24.3 403.55,43.6 403.59,24.5 403.63,50.0 403.73,23.7 403.77,44.7 403.74,24.0 403.78,45.3 403.82,24.3 403.86,52.3 403.98,24.4 404.02,48.3 404.00,24.1 404.04,46.2 404.13,24.5 404.17,40.9 404.22,24.5 404.26,42.7 404.29,24.1 404.33,42.2 404.39,23.4 404.43,45.0 404.46,24.3 404.50,43.0 404.52,24.4 404.56,49.3 404.64,24.6 404.68,44.1 404.70,24.7 404.74,43.8 404.76,24.0 404.80,49.6 404.86,23.9 404.90,45.1 404.90,24.2 404.94,41.4 405.01,24.1 405.05,40.3 405.10,24.2 405.14,41.7 405.19,24.2 405.23,47.9 405.27,24.7 405.31,46.1 405.38,24.4 405.42,47.3 405.41,24.2 405.45,42.3 405.48,24.5 405.52,48.3 405.60,24.4 405.64,48.9 405.70,24.5 405.74,50.5 405.80,24.3 405.84,45.3 405.87,23.9 405.91,44.6 405.95,24.4 405.99,47.6 406.01,24.3 406.05,48.0 406.08,24.0 406.12,46.4 406.19,24.0 406.23,41.9 406.28,23.7 406.32,49.7 406.33,24.9 406.37,45.9 406.41,23.9 406.45,45.2 406.49,24.4 406.53,44.7 406.64,24.2 406.68,42.2 406.66,23.9 406.70,43.4 406.77,23.9 406.81,45.0 406.88,23.9 406.92,41.6 406.91,24.2 406.95,42.5 407.06,23.7 407.10,45.0 407.12,24.3 407.16,45.1 407.16,24.3 407.20,49.2 407.25,24.0 407.29,45.4 407.34,24.4 407.38,48.1 407.45,23.5 407.49,49.1 407.55,23.9 407.59,46.6 407.62,23.5 407.66,50.8 407.68,24.2 407.72,48.4 407.77,24.3 407.81,47.3 407.84,24.2 407.88,44.9 407.93,24.0 407.97,46.8 408.04,24.4 408.08,44.7 408.13,24.1 408.17,41.2 408.20,24.2 408.24,43.5 408.27,23.7 408.31,49.2 408.32,24.4 408.36,51.0 408.40,23.9 408.44,48.5 408.52,24.4 408.56,48.5 408.57,24.5 408.61,51.6 408.67,24.5 408.71,50.9 408.78,24.6 408.82,50.9 408.85,24.2 408.89,47.7 408.96,23.9 409.00,41.8 409.05,24.2 409.09,41.0 409.13,24.0 409.17,49.0 409.18,23.7 409.22,47.3 409.27,24.1 409.31,50.0 409.38,24.2 409.42,50.8 409.46,24.3 409.50,46.3 409.49,24.7 409.53,46.0 409.59,24.0 409.63,47.9 409.67,24.8 409.71,44.3 409.77,24.0 409.81,47.1 409.86,24.2 409.90,43.0 409.95,23.8 409.99,47.6 410.02,24.2 410.06,43.7 410.07,24.5 410.11,46.8 410.15,24.1 410.19,45.8 410.24,24.4 410.28,44.4 410.34,24.3 410.38,50.1 410.41,24.2 410.45,48.3 410.50,24.3 410.54,46.4 410.60,24.3 410.64,47.0 410.67,24.5 410.71,45.5 410.75,24.3 410.79,48.6 410.81,24.9 410.85,50.1 410.92,24.3 410.96,46.5 410.99,24.6 411.03,45.4 411.12,23.9 411.16,48.6 411.14,23.8 411.18,42.7 411.29,24.9 411.33,44.2 411.31,24.2 411.35,43.7 411.44,24.3 411.48,43.9 411.53,24.6 411.57,48.7 411.56,24.0 411.60,40.0 411.70,24.4 411.74,48.2 411.74,24.8 411.78,45.0 411.85,24.3 411.89,44.0 411.93,24.3 411.97,45.1 411.97,24.2 412.01,45.5 412.08,24.6 412.12,48.4 412.20,24.0 412.24,47.1 412.24,24.0 412.28,45.9 412.37,24.6 412.41,42.2 412.45,24.4 412.49,47.9 412.53,24.2 412.57,43.9 412.61,24.4 412.65,44.6 412.65,23.6 412.69,45.6 412.76,24.2 412.80,47.5 412.88,24.6 412.92,46.3 412.89,24.5 412.93,50.8 412.99,24.2 413.03,45.5 413.11,23.5 413.15,44.8 413.20,24.3 413.24,47.3 413.24,24.2 413.28,44.2 413.32,24.1 413.36,44.8 413.43,24.2 413.47,47.8 413.52,23.5 413.56,43.3 413.60,24.4 413.64,47.2 413.65,24.0 413.69,38.7 413.79,24.2 413.83,48.7 413.88,24.0 413.92,48.0 413.95,24.6 413.99,47.5 414.02,23.6 414.06,45.0 414.07,24.3 414.11,42.3 414.18,24.2 414.22,45.4 414.23,24.5 414.27,46.8 414.31,24.5 414.35,40.2 414.43,24.0 414.47,42.7 414.54,23.9 414.58,46.5 414.61,24.0 414.65,46.0 414.68,23.8 414.72,50.1 414.74,24.0 414.78,45.6 414.86,24.2 414.90,40.7 414.94,23.9 414.98,49.1 415.04,24.0 415.08,49.8 415.09,24.3 415.13,45.3 415.21,24.0 415.25,52.7 415.22,23.8 415.26,41.7 415.31,24.1 415.35,50.1 415.43,24.3 415.47,47.9 415.52,24.0 415.56,46.2 415.57,23.6 415.61,42.3 415.67,24.3 415.71,44.7 415.77,24.3 415.81,51.3 415.87,24.3 415.91,50.7 415.89,23.8 415.93,45.3 415.98,24.8 416.02,51.9 416.12,24.1 416.16,46.7 416.17,23.8 416.21,48.3 416.24,24.5 416.28,43.6 416.33,23.7 416.37,42.4 416.45,24.0 416.49,53.2 416.47,24.4 416.51,44.7 416.58,24.2 416.62,44.1 416.68,24.7 416.72,48.2 416.72,24.4 416.76,47.7 416.81,23.6 416.85,49.5 416.95,24.5 416.99,47.0 417.00,23.6 417.04,44.8 417.12,24.2 417.16,42.1 417.14,23.9 417.18,41.9 417.24,24.2 417.28,46.9 417.33,25.0 417.37,48.4 417.45,24.4 417.49,43.1 417.53,24.2 417.57,54.0 417.56,24.6 417.60,50.1 417.67,24.7 417.71,44.2 417.75,24.1 417.79,39.6 417.81,24.4 417.85,48.3 417.89,24.8 417.93,45.8 418.01,24.4 418.05,49.3 418.10,23.9 418.14,46.3 418.20,24.4 418.24,46.3 418.27,23.9 418.31,48.2 418.37,23.7 418.41,44.9 418.38,24.2 418.42,46.5 418.47,24.6 418.51,44.6 418.60,24.6 418.64,46.6 418.68,24.2 418.72,49.5 418.74,23.9 418.78,45.6 418.82,24.1 418.86,43.5 418.92,24.0 418.96,48.3 418.98,24.4 419.02,42.1 419.08,24.1 419.12,44.7 419.19,24.4 419.23,47.0 419.25,24.3 419.29,45.9 419.34,24.6 419.38,47.2 419.40,24.7 419.44,48.6 419.48,24.4 419.52,43.3 419.62,24.6 419.66,43.4 419.68,24.5 419.72,47.3 419.72,24.0 419.76,46.5 419.82,24.3 419.86,46.6 419.88,23.3 419.92,44.0 419.97,23.9 420.01,41.7 420.04,24.4 420.08,47.9 420.18,24.0 420.22,45.1 420.22,24.1 420.26,46.0 420.31,24.4 420.35,44.3 420.38,23.9 420.42,41.8 420.48,24.5 420.52,48.5 420.55,25.2 420.59,51.9 420.69,24.0 420.73,46.4 420.73,24.4 420.77,50.6 420.80,23.7 420.84,41.1 420.91,24.4 420.95,48.0 421.01,24.6 421.05,46.7 421.06,23.7 421.10,45.2 421.20,24.6 421.24,45.3 421.26,24.2 421.30,47.1 421.32,23.7 421.36,45.9 421.38,24.2 421.42,43.2 421.47,24.2 421.51,46.8 421.55,24.2 421.59,40.5 421.65,23.9 421.69,44.9 421.77,24.5 421.81,52.7 421.84,24.0 421.88,43.3 421.88,24.0 421.92,51.0 421.97,23.5 422.01,44.9 422.07,24.3 422.11,39.3 422.18,24.5 422.22,42.8 422.26,24.0 422.30,49.2 422.33,24.4 422.37,48.2 422.39,24.1 422.43,45.8 422.52,24.2 422.56,41.7 422.55,23.8 422.59,48.0 422.66,24.4 422.70,42.7 422.71,24.3 422.75,45.0 422.80,25.1 422.84,46.2 422.90,24.5 422.94,46.3 423.03,23.7 423.07,41.0 423.10,24.4 423.14,50.2 423.13,24.5 423.17,49.2 423.28,24.6 423.32,43.3 423.30,24.0 423.34,43.0 423.43,24.2 423.47,49.6 423.46,24.6 423.50,48.5 423.61,24.0 423.65,49.2 423.62,24.1 423.66,44.3 423.76,24.0 423.80,47.8 423.84,24.4 423.88,41.7 423.91,23.6 423.95,43.6 424.02,24.1 424.06,45.1 424.09,24.3 424.13,45.3 424.19,24.4 424.23,44.3 424.22,24.3 424.26,43.4 424.32,23.9 424.36,45.8 424.44,24.3 424.48,45.1 424.49,23.9 424.53,43.6 424.61,24.0 424.65,46.1 424.68,23.8 424.72,43.0 424.71,24.0 424.75,46.3 424.83,24.2 424.87,48.1 424.93,24.8 424.97,45.3 424.95,24.1 424.99,41.1 425.09,24.0 425.13,41.5 425.18,24.2 425.22,50.5 425.25,24.0 425.29,45.0 425.34,24.4 425.38,47.3 425.38,24.3 425.42,46.8 425.47,24.5 425.51,46.9 425.59,23.8 425.63,46.6 425.69,24.2 425.73,47.4 425.76,24.4 425.80,46.7 425.83,24.7 425.87,45.3 425.90,24.3 425.94,49.4 426.01,23.7 426.05,49.5 426.08,24.1 426.12,49.2 426.12,24.5 426.16,49.2 426.27,23.7 426.31,44.2 426.29,23.7 426.33,49.2 426.43,23.9 426.47,46.2 426.52,24.0 426.56,45.8 426.55,23.8 426.59,43.9 426.67,24.0 426.71,45.9 426.71,24.0 426.75,42.9 426.82,24.5 426.86,46.1 426.87,23.7 426.91,45.2 426.96,24.1 427.00,43.7 427.11,23.6 427.15,50.2 427.12,24.9 427.16,44.8 427.21,24.0 427.25,41.6 427.36,23.9 427.40,45.6 427.38,24.3 427.42,46.7 427.52,24.1 427.56,40.4 427.54,24.0 427.58,45.6 427.65,24.0 427.69,42.4 427.77,24.4 427.81,52.8 427.78,24.3 427.82,45.6 427.92,23.9 427.96,47.4 427.95,23.8 427.99,44.8 428.08,24.2 428.12,42.5 428.14,24.2 428.18,46.4 428.25,24.2 428.29,46.6 428.31,23.9 428.35,54.1 428.43,24.6 428.47,43.7 428.52,24.7 428.56,42.1 428.53,24.2 428.57,45.5 428.61,24.6 428.65,47.3 428.71,24.4 428.75,44.9 428.81,24.2 428.85,42.9 428.86,24.1 428.90,44.1 428.99,24.6 429.03,39.9 429.05,24.0 429.09,47.6 429.12,24.8 429.16,49.9 429.24,24.0 429.28,44.5 429.30,24.7 429.34,42.3 429.43,24.6 429.47,47.3 429.46,24.0 429.50,45.9 429.53,24.4 429.57,47.8 429.64,24.5 429.68,49.6 429.73,24.4 429.77,48.1 429.82,24.1 429.86,51.9 429.88,24.2 429.92,45.2 429.96,24.2 430.00,44.6 430.10,23.9 430.14,43.4 430.12,24.5 430.16,48.3 430.23,24.4 430.27,47.8 430.33,24.4 430.37,50.8 430.37,23.8 430.41,50.2 430.51,23.9 430.55,43.4 430.59,23.8 430.63,37.8 430.63,24.2 430.67,49.0 430.74,24.3 430.78,47.1 430.82,23.9 430.86,43.3 430.89,24.3 430.93,48.0 431.00,23.9 431.04,44.3 431.09,24.0 431.13,46.8 431.12,24.5 431.16,46.8 431.22,24.2 431.26,43.3 431.31,24.3 431.35,46.7 431.36,23.6 431.40,49.6 431.46,23.4 431.50,43.6 431.55,24.3 431.59,45.9 431.68,24.2 431.72,47.6 431.70,25.0 431.74,48.3 431.78,24.2 431.82,44.3 431.91,24.2 431.95,48.0 431.95,24.6 431.99,45.6 432.08,24.0 432.12,43.1 432.13,24.7 432.17,46.3 432.25,24.3 432.29,42.8 432.34,24.2 432.38,50.0 432.41,24.6 432.45,44.2 432.49,23.9 432.53,44.4 432.60,23.9 432.64,40.5 432.62,24.7 432.66,45.9 432.74,24.7 432.78,43.4 432.82,24.0 432.86,46.4 432.85,24.2 432.89,49.0 432.97,24.6 433.01,48.5 433.07,24.3 433.11,48.0 433.18,24.3 433.22,43.7 433.22,24.3 433.26,48.2 433.31,23.9 433.35,45.8 433.42,24.1 433.46,43.3 433.44,23.6 433.48,42.4 433.52,23.8 433.56,43.2 433.63,24.0 433.67,41.6 433.69,23.9 433.73,49.2 433.77,23.8 433.81,47.4 433.91,24.0 433.95,45.0 433.99,24.6 434.03,42.7 434.04,23.9 434.08,44.5 434.16,24.2 434.20,48.2 434.26,23.7 434.30,46.5 434.30,24.2 434.34,50.7 434.42,24.0 434.46,43.6 434.46,24.1 434.50,51.1 434.54,23.7 434.58,45.3 434.62,24.2 434.66,42.8 434.70,24.3 434.74,43.3 434.78,24.1 434.82,50.6 434.92,24.4 434.96,45.3 434.99,24.2 435.03,47.0 435.06,24.2 435.10,46.8 435.15,24.1 435.19,41.2 435.21,23.6 435.25,45.1 435.34,24.4 435.38,50.1 435.36,24.2 435.40,49.1 435.43,24.3 435.47,43.9 435.55,24.0 435.59,45.3 435.62,24.6 435.66,49.2 435.73,24.4 435.77,50.8 435.77,24.2 435.81,47.6 435.89,24.0 435.93,47.2 435.99,24.2 436.03,43.6 436.06,24.4 436.10,47.7 436.14,24.5 436.18,44.0 436.22,24.1 436.26,42.5 436.27,23.7 436.31,50.6 436.37,24.1 436.41,47.7 436.48,24.2 436.52,41.5 436.59,24.1 436.63,47.3 436.66,24.5 436.70,46.0 436.72,24.3 436.76,43.2 436.84,24.3 436.88,48.2 436.90,24.1 436.94,47.2 436.96,24.2 437.00,50.8 437.09,24.6 437.13,44.4 437.13,23.8 437.17,47.4 437.22,23.7 437.26,47.1 437.30,24.3 437.34,53.5 437.36,24.1 437.40,43.2 437.48,24.1 437.52,44.0 437.55,24.0 437.59,48.4 437.62,24.7 437.66,42.5 437.71,23.7 437.75,53.2 437.83,24.4 437.87,46.3 437.91,23.8 437.95,51.0 437.99,24.2 438.03,38.2 438.04,24.3 438.08,53.7 438.15,24.3 438.19,49.6 438.24,23.9 438.28,48.3 438.28,24.5 438.32,43.8 438.40,24.3 438.44,43.7 438.50,24.4 438.54,45.0 438.52,24.8 438.56,46.9 438.60,23.8 438.64,39.9 438.68,24.0 438.72,48.2 438.84,24.2 438.88,45.2 438.92,23.8 438.96,41.1 438.99,24.5 439.03,49.7 439.03,24.2 439.07,48.5 439.10,23.7 439.14,42.9 439.19,23.9 439.23,44.8 439.31,25.0 439.35,50.0 439.35,25.3 439.39,46.1 439.46,24.6 439.50,40.6 439.56,23.9 439.60,46.9 439.64,24.4 439.68,43.8 439.70,24.3 439.74,45.8 439.80,24.0 439.84,48.2 439.91,24.5 439.95,41.5 439.96,24.2 440.00,43.3 440.01,24.0 440.05,42.7 440.09,24.1 440.13,46.6 440.24,24.1 440.28,45.9 440.31,24.4 440.35,45.5 440.36,24.1 440.40,44.9 440.49,24.4 440.53,47.2 440.59,23.8 440.63,47.6 440.65,23.4 440.69,42.4 440.70,24.5 440.74,49.4 440.80,24.9 440.84,47.5 440.89,24.4 440.93,47.3 440.93,24.1 440.97,47.7 441.06,23.9 441.10,49.7 441.15,23.9 441.19,48.4 441.21,24.5 441.25,43.9 441.32,24.5 441.36,47.2 441.41,23.8 441.45,48.4 441.48,24.6 441.52,41.3 441.57,23.9 441.61,50.1 441.61,24.3 441.65,43.2 441.70,24.0 441.74,45.2 441.76,24.0 441.80,50.1 441.90,24.0 441.94,47.4 441.93,24.0 441.97,47.3 442.06,24.5 442.10,42.4 442.17,24.1 442.21,43.5 442.22,24.2 442.26,47.0 442.30,24.1 442.34,49.6 442.34,23.8 442.38,51.1 442.49,24.3 442.53,46.7 442.54,24.5 442.58,50.3 442.63,24.5 442.67,46.7 442.73,24.3 442.77,46.8 442.83,24.0 442.87,45.1 442.87,24.5 442.91,43.3 442.95,23.8 442.99,45.9 443.06,24.1 443.10,44.8 443.10,24.3 443.14,46.7 443.23,24.7 443.27,43.2 443.29,24.1 443.33,43.8 443.37,24.0 443.41,41.6 443.44,24.8 443.48,42.2 443.56,23.8 443.60,48.3 443.66,23.7 443.70,50.5 443.69,24.1 443.73,44.3 443.76,24.1 443.80,42.9 443.85,23.4 443.89,48.2 443.92,23.8 443.96,41.8 444.03,24.5 444.07,45.9 444.16,24.2 444.20,46.5 444.17,24.3 444.21,45.2 444.29,24.3 444.33,50.3 444.40,25.0 444.44,51.0 444.47,24.0 444.51,47.2 444.55,24.4 444.59,49.7 444.64,24.2 444.68,46.3 444.67,24.3 444.71,46.3 444.81,23.9 444.85,53.7 444.91,24.3 444.95,48.6 444.93,24.5 444.97,44.8 445.00,24.0 445.04,53.0 445.12,23.8 445.16,47.3 445.22,24.3 445.26,50.2 445.25,23.8 445.29,52.0 445.39,24.1 445.43,43.1 445.43,24.4 445.47,43.2 445.53,23.7 445.57,47.5 445.64,24.5 445.68,47.8 445.69,23.9 445.73,42.3 445.78,24.4 445.82,42.8 445.87,24.1 445.91,46.4 445.93,24.6 445.97,43.8 446.05,24.5 446.09,46.0 446.11,23.9 446.15,47.2 446.17,24.2 446.21,44.5 446.28,24.2 446.32,47.6 446.34,24.4 446.38,44.6 446.49,24.1 446.53,47.1 446.54,24.7 446.58,47.7 446.60,24.6 446.64,48.0 446.70,24.3 446.74,45.0 446.79,24.5 446.83,43.6 446.87,24.5 446.91,45.1 446.92,24.2 446.96,48.9 447.01,24.3 447.05,44.6 447.09,24.3 447.13,49.0 447.24,23.7 447.28,49.6 447.25,23.9 447.29,46.9 447.34,23.8 447.38,44.0 447.45,24.2 447.49,44.3 447.57,24.4 447.61,44.7 447.59,24.7 447.63,42.3 447.71,24.3 447.75,43.8 447.76,24.9 447.80,47.4 447.86,24.4 447.90,44.0 447.96,24.0 448.00,47.1 448.02,23.7 448.06,45.1 448.12,23.9 448.16,44.6 448.24,24.5 448.28,46.5 448.26,24.1 448.30,50.6 448.33,24.5 448.37,46.7 448.47,23.9 448.51,47.1 448.51,24.3 448.55,46.6 448.60,23.9 448.64,47.4 448.69,23.4 448.73,49.5 448.80,23.9 448.84,50.9 448.86,23.5 448.90,44.3 448.94,24.2 448.98,43.9 449.00,24.3 449.04,45.1 449.10,23.8 449.14,46.3 449.20,23.7 449.24,40.5 449.32,24.4 449.36,44.3 449.38,24.2 449.42,46.1 449.46,24.7 449.50,43.8 449.57,24.3 449.61,46.4 449.59,23.9 449.63,44.1 449.68,24.2 449.72,45.3 449.79,24.4 449.83,44.6 449.89,24.7 449.93,46.0 449.91,24.1 449.95,47.4 450.03,24.0 450.07,44.7 450.12,24.0 450.16,42.9 450.20,24.1 450.24,48.7 450.28,24.6 450.32,47.6 450.35,23.6 450.39,49.2 450.49,24.2 450.53,43.6 450.53,24.3 450.57,46.7 450.63,24.0 450.67,43.5 450.71,24.9 450.75,48.4 450.75,24.2 450.79,43.7 450.87,24.3 450.91,47.7 450.97,24.1 451.01,47.4 450.99,23.8 451.03,44.5 451.11,24.1 451.15,47.2 451.21,24.8 451.25,47.8 451.25,24.3 451.29,43.5 451.36,24.2 451.40,46.3 451.47,24.2 451.51,42.5 451.56,24.6 451.60,38.8 451.63,24.8 451.67,47.7 451.68,24.0 451.72,47.0 451.77,24.1 451.81,50.4 451.89,24.2 451.93,49.5 451.94,24.8 451.98,44.3 452.03,23.6 452.07,45.2 452.09,25.2 452.13,45.3 452.17,24.3 452.21,44.7 452.28,23.5 452.32,48.5 452.37,24.3 452.41,50.9 452.43,24.1 452.47,42.9 452.56,24.6 452.60,45.3 452.59,23.8 452.63,42.8 452.66,24.6 452.70,46.1 452.80,24.1 452.84,43.9 452.89,24.2 452.93,47.6 452.97,24.6 453.01,46.1 453.05,23.9 453.09,46.5 453.11,24.7 453.15,45.0 453.23,24.4 453.27,42.0 453.30,24.2 453.34,44.2 453.35,24.4 453.39,54.3 453.42,24.1 453.46,46.3 453.52,23.9 453.56,46.0 453.60,24.3 453.64,43.7 453.72,24.4 453.76,45.6 453.76,24.4 453.80,48.0 453.86,24.3 453.90,48.3 453.96,24.0 454.00,47.0 454.03,24.3 454.07,48.1 454.12,24.1 454.16,42.0 454.22,24.3 454.26,44.3 454.27,24.5 454.31,45.9 454.34,23.9 454.38,43.2 454.42,24.6 454.46,39.9 454.51,24.2 454.55,46.6 454.63,23.7 454.67,46.1 454.72,24.6 454.76,46.9 454.77,24.2 454.81,49.5 454.84,24.7 454.88,47.8 454.90,24.4 454.94,48.7 455.06,24.7 455.10,44.6 455.11,24.3 455.15,44.7 455.20,24.4 455.24,43.5 455.26,24.2 455.30,48.2 455.35,23.7 455.39,43.2 455.41,24.1 455.45,48.8 455.49,24.0 455.53,46.5 455.58,24.2 455.62,42.3 455.65,24.3 455.69,42.5 455.77,24.5 455.81,42.9 455.86,24.8 455.90,40.0 455.94,24.2 455.98,43.0 456.03,23.7 456.07,46.7 456.07,24.1 456.11,46.6 456.20,24.4 456.24,48.2 456.30,23.7 456.34,45.3 456.38,24.4 456.42,48.1 456.47,24.4 456.51,47.7 456.49,24.6 456.53,48.8 456.57,24.5 456.61,50.8 456.72,24.3 456.76,38.9 456.75,23.6 456.79,43.4 456.86,24.3 456.90,51.9 456.93,24.6 456.97,44.7 457.02,24.4 457.06,47.6 457.08,24.3 457.12,52.1 457.15,24.8 457.19,46.6 457.23,24.2 457.27,45.3 457.35,24.0 457.39,44.3 457.46,24.1 457.50,42.8 457.55,24.0 457.59,48.4 457.56,24.6 457.60,46.1 457.68,24.8 457.72,44.0 457.74,23.8 457.78,44.4 457.86,23.9 457.90,44.8 457.95,24.7 457.99,45.7 457.98,24.2 458.02,42.4 458.13,24.2 458.17,49.6 458.21,24.0 458.25,50.2 458.26,24.2 458.30,41.0 458.31,24.4 458.35,44.7 458.45,24.2 458.49,42.7 458.49,24.2 458.53,45.3 458.57,24.2 458.61,47.0 458.72,24.8 458.76,47.2 458.78,25.2 458.82,45.5 458.88,24.5 458.92,47.3 458.97,24.8 459.01,46.1 459.03,24.1 459.07,46.1 459.07,24.0 459.11,43.5 459.18,24.1 459.22,43.6 459.28,24.3 459.32,41.3 459.32,24.2 459.36,47.9 459.42,23.8 459.46,46.0 459.48,24.5 459.52,43.1 459.59,23.9 459.63,44.8 459.71,24.0 459.75,52.8 459.74,24.1 459.78,44.8 459.87,23.7 459.91,45.8 459.95,24.5 459.99,47.2 460.04,23.9 460.08,47.0 460.09,24.5 460.13,47.9 460.16,24.5 460.20,42.5 460.25,24.6 460.29,43.8 460.33,24.1 460.37,45.2 460.40,24.5 460.44,42.6 460.50,24.2 460.54,43.1 460.62,24.6 460.66,48.1 460.71,23.9 460.75,48.7 460.80,23.6 460.84,48.6 460.88,24.1 460.92,43.6 460.92,23.7 460.96,45.8 461.03,24.0 461.07,42.2 461.12,23.5 461.16,44.2 461.20,24.2 461.24,46.3 461.26,24.7 461.30,49.3 461.38,23.7 461.42,46.4 461.43,24.3 461.47,39.3 461.52,24.6 461.56,47.6 461.56,24.4 461.60,48.0 461.65,24.8 461.69,46.3 461.79,24.3 461.83,41.8 461.84,24.6 461.88,45.8 461.90,23.7 461.94,48.8 462.01,24.0 462.05,47.4 462.07,24.8 462.11,46.0 462.15,24.7 462.19,45.4 462.26,24.4 462.30,42.8 462.37,24.9 462.41,38.5 462.40,24.3 462.44,41.8 462.51,24.2 462.55,43.8 462.63,24.5 462.67,45.7 462.72,24.4 462.76,47.9 462.77,24.1 462.81,44.0 462.88,23.8 462.92,42.0 462.96,23.7 463.00,43.3 462.98,24.2 463.02,46.0 463.10,23.9 463.14,43.7 463.21,24.5 463.25,46.3 463.23,24.1 463.27,46.1 463.32,24.5 463.36,46.3 463.40,24.0 463.44,45.4 463.47,24.6 463.51,45.9 463.60,24.5 463.64,42.8 463.66,24.2 463.70,45.7 463.76,24.0 463.80,46.0 463.84,24.7 463.88,42.7 463.96,24.4 464.00,43.7 463.99,24.2 464.03,42.5 464.12,24.1 464.16,47.9 464.17,24.5 464.21,42.0 464.30,24.2 464.34,45.7 464.30,24.3 464.34,48.7 464.39,23.8 464.43,46.2 464.47,24.0 464.51,49.2 464.56,24.7 464.60,48.6 464.67,24.9 464.71,46.9 464.75,24.2 464.79,43.1 464.87,23.8 464.91,49.6 464.92,24.2 464.96,45.0 464.99,23.9 465.03,46.5 465.11,24.4 465.15,41.4 465.19,24.7 465.23,45.2 465.22,24.0 465.26,44.1 465.31,24.2 465.35,41.8 465.46,24.0 465.50,48.9 465.49,24.7 465.53,46.8 465.63,24.2 465.67,50.0 465.66,24.4 465.70,48.2 465.75,24.0 465.79,44.9 465.80,24.4 465.84,46.3 465.92,24.4 465.96,44.7 466.00,24.4 466.04,47.0 466.05,23.8 466.09,47.8 466.15,24.2 466.19,46.2 466.26,24.5 466.30,48.3 466.37,24.6 466.41,49.0 466.39,24.6 466.43,50.4 466.50,23.7 466.54,46.3 466.57,24.8 466.61,44.7 466.66,24.5 466.70,49.4 466.72,24.0 466.76,47.3 466.80,23.8 466.84,52.5 466.93,24.3 466.97,49.4 466.98,24.0 467.02,45.9 467.12,24.0 467.16,49.7 467.16,23.9 467.20,44.8 467.29,24.2 467.33,47.2 467.31,23.7 467.35,45.1 467.45,24.1 467.49,47.6 467.54,23.7 467.58,50.1 467.56,24.6 467.60,46.2 467.65,23.9 467.69,44.1 467.74,24.6 467.78,47.6 467.83,24.7 467.87,45.0 467.90,24.0 467.94,48.1 467.96,24.5 468.00,47.1 468.09,24.1 468.13,42.6 468.13,24.6 468.17,46.2 468.28,23.7 468.32,48.8 468.31,24.2 468.35,44.6 468.41,24.6 468.45,46.0 468.51,24.1 468.55,47.6 468.57,23.9 468.61,44.2 468.70,24.5 468.74,54.3 468.79,24.0 468.83,44.5 468.82,23.5 468.86,40.8 468.91,23.9 468.95,45.3 468.99,24.2 469.03,51.4 469.09,24.4 469.13,42.3 469.21,24.0 469.25,39.0 469.29,24.7 469.33,44.5 469.31,25.2 469.35,49.1 469.43,24.4 469.47,48.0 469.52,24.6 469.56,46.4 469.61,23.6 469.65,45.5 469.67,24.2 469.71,42.8 469.73,24.5 469.77,44.5 469.86,24.6 469.90,52.4 469.93,24.0 469.97,46.9 470.00,24.5 470.04,46.5 470.11,24.4 470.15,40.8 470.14,24.2 470.18,47.7 470.24,24.2 470.28,50.0 470.30,24.2 470.34,46.9 470.40,24.2 470.44,45.3 470.47,23.8 470.51,51.2 470.57,23.6 470.61,43.0 470.69,24.7 470.73,46.4 470.77,23.3 470.81,43.7 470.82,24.2 470.86,44.1 470.89,23.8 470.93,44.6 470.97,24.4 471.01,42.1 471.11,24.1 471.15,41.4 471.16,24.1 471.20,47.2 471.26,24.2 471.30,46.2 471.36,23.9 471.40,43.1 471.39,24.0 471.43,45.6 471.50,24.5 471.54,47.7 471.60,24.2 471.64,45.8 471.65,24.0 471.69,48.4 471.75,24.0 471.79,47.4 471.84,24.3 471.88,54.8 471.90,24.3 471.94,45.6 472.00,24.2 472.04,40.8 472.10,24.6 472.14,44.0 472.16,24.6 472.20,44.1 472.22,23.7 472.26,45.5 472.35,24.3 472.39,48.1 472.41,24.2 472.45,44.6 472.52,24.4 472.56,45.8 472.61,23.8 472.65,46.4 472.63,23.6 472.67,45.3 472.77,24.3 472.81,47.6 472.86,24.0 472.90,45.6 472.88,24.4 472.92,44.1 473.00,23.6 473.04,43.2 473.07,23.9 473.11,45.6 473.14,24.5 473.18,43.7 473.26,23.8 473.30,45.5 473.35,24.1 473.39,52.4 473.44,24.1 473.48,51.4 473.45,24.1 473.49,46.5 473.55,24.4 473.59,49.1 473.63,24.4 473.67,44.4 473.75,24.0 473.79,49.7 473.81,24.2 473.85,47.1 473.94,24.5 473.98,47.5 474.00,23.5 474.04,48.1 474.11,24.3 474.15,47.6 474.15,24.4 474.19,46.0 474.23,24.4 474.27,45.7 474.33,24.0 474.37,47.5 474.43,23.9 474.47,45.5 474.52,24.1 474.56,44.5 474.57,23.9 474.61,46.5 474.69,24.7 474.73,47.9 474.73,24.3 474.77,47.9 474.82,24.4 474.86,47.3 474.89,24.2 474.93,47.5 474.95,24.0 474.99,45.7 475.09,24.9 475.13,38.4 475.14,23.2 475.18,42.8 475.21,24.5 475.25,45.8 475.35,24.1 475.39,44.3 475.39,23.9 475.43,44.3 475.52,23.9 475.56,42.4 475.55,24.1 475.59,41.9 475.67,25.2 475.71,48.6 475.73,24.6 475.77,39.6 475.85,24.0 475.89,48.3 475.94,24.5 475.98,45.6 475.98,24.6 476.02,48.2 476.04,25.0 476.08,50.7 476.15,23.8 476.19,50.9 476.28,24.0 476.32,40.3 476.28,24.5 476.32,41.7 476.41,24.3 476.45,48.6 476.46,24.2 476.50,49.0 476.54,24.6 476.58,41.6 476.67,24.3 476.71,48.6 476.71,24.1 476.75,44.6 476.79,24.0 476.83,40.1 476.93,23.8 476.97,43.7 477.02,24.2 477.06,41.6 477.08,24.4 477.12,45.2 477.14,24.1 477.18,50.6 477.26,24.4 477.30,48.2 477.29,24.6 477.33,50.9 477.40,23.8 477.44,44.9 477.47,24.3 477.51,49.6 477.59,24.2 477.63,45.5 477.66,24.0 477.70,47.3 477.73,24.6 477.77,47.8 477.86,24.0 477.90,44.4 477.89,24.1 477.93,47.2 477.96,24.2 478.00,48.2 478.07,24.1 478.11,43.1 478.12,24.5 478.16,46.0 478.27,24.9 478.31,50.1 478.33,24.3 478.37,42.5 478.38,24.5 478.42,49.9 478.45,23.9 478.49,45.3 478.60,24.1 478.64,44.4 478.64,24.4 478.68,46.7 478.71,24.2 478.75,48.3 478.85,23.8 478.89,46.9 478.91,23.8 478.95,46.9 478.95,24.1 478.99,49.1 479.05,24.1 479.09,43.5 479.17,24.3 479.21,47.7 479.25,24.3 479.29,48.0 479.33,24.0 479.37,42.0 479.44,24.3 479.48,48.0 479.47,24.1 479.51,50.3 479.58,24.6 479.62,46.1 479.66,24.8 479.70,45.9 479.75,24.8 479.79,45.9 479.80,24.4 479.84,40.0 479.92,23.8 479.96,47.5 480.01,23.8 480.05,42.1 480.07,24.5 480.11,43.4 480.16,24.7 480.20,41.8 480.25,24.0 480.29,46.2 480.36,24.1 480.40,46.8 480.41,24.7 480.45,46.5 480.48,23.9 480.52,45.0 480.57,24.2 480.61,43.2 480.64,23.8 480.68,41.2 480.77,24.1 480.81,50.9 480.84,23.9 480.88,42.8 480.87,24.1 480.91,44.8 481.00,24.5 481.04,45.7 481.10,24.3 481.14,48.8 481.15,24.4 481.19,44.9 481.21,23.9 481.25,51.0 481.29,24.5 481.33,42.3 481.40,24.7 481.44,48.5 481.45,24.0 481.49,46.2 481.54,23.8 481.58,46.3 481.67,23.7 481.71,44.2 481.70,23.9 481.74,49.7 481.78,24.7 481.82,43.5 481.92,24.4 481.96,44.7 482.02,24.4 482.06,41.4 482.03,24.2 482.07,45.0 482.12,24.9 482.16,46.2 482.19,24.2 482.23,51.3 482.31,24.1 482.35,46.9 482.36,24.5 482.40,41.1 482.51,24.2 482.55,47.2 482.54,23.8 482.58,47.3 482.65,24.2 482.69,46.3 482.70,23.9 482.74,43.4 482.81,23.9 482.85,50.9 482.91,24.1 482.95,40.7 482.98,24.1 483.02,44.2 483.07,24.3 483.11,43.8 483.12,23.8 483.16,45.9 483.20,24.4 483.24,40.2 483.32,24.4 483.36,47.1 483.41,24.0 483.45,43.5 483.50,24.5 483.54,45.6 483.59,24.1 483.63,49.5 483.67,23.9 483.71,46.2 483.72,24.2 483.76,43.8 483.82,24.2 483.86,46.7 483.85,23.9 483.89,47.0 483.99,24.0 484.03,45.9 484.08,24.7 484.12,48.3 484.17,24.6 484.21,49.0 484.23,23.8 484.27,45.7 484.31,24.1 484.35,48.5 484.40,24.9 484.44,44.2 484.48,24.7 484.52,43.8 484.57,24.2 484.61,42.2 484.67,24.5 484.71,43.1 484.71,24.1 484.75,46.6 484.83,24.2 484.87,44.7 484.87,24.1 484.91,49.1 484.94,24.6 484.98,44.6 485.07,24.0 485.11,47.3 485.15,23.6 485.19,42.0 485.19,24.5 485.23,47.8 485.34,23.8 485.38,45.4 485.37,23.9 485.41,48.0 485.45,24.0 485.49,44.1 485.55,24.2 485.59,44.0 485.63,24.6 485.67,48.7 485.71,24.5 485.75,40.3 485.83,24.0 485.87,44.4 485.86,23.9 485.90,49.9 486.01,23.8 486.05,48.4 486.08,23.9 486.12,51.1 486.12,23.9 486.16,51.6 486.20,24.4 486.24,46.3 486.30,24.6 486.34,51.8 486.40,24.1 486.44,44.8 486.45,24.0 486.49,50.5 486.56,24.2 486.60,47.0 486.63,24.7 486.67,41.0 486.74,24.4 486.78,46.9 486.82,24.7 486.86,46.0 486.85,24.2 486.89,42.3 486.94,24.6 486.98,46.8 487.02,24.3 487.06,44.4 487.14,24.1 487.18,48.2 487.20,24.2 487.24,47.0 487.30,23.8 487.34,45.5 487.37,24.6 487.41,45.9 487.45,24.9 487.49,48.1 487.58,23.9 487.62,45.3 487.62,23.7 487.66,44.2 487.71,23.7 487.75,44.1 487.83,24.1 487.87,45.8 487.89,24.0 487.93,48.6 487.97,24.2 488.01,43.9 488.06,24.6 488.10,43.5 488.11,24.4 488.15,48.7 488.25,24.0 488.29,52.5 488.33,24.4 488.37,46.5 488.41,23.6 488.45,43.0 488.48,24.7 488.52,43.4 488.56,24.4 488.60,49.3 488.63,23.8 488.67,42.1 488.75,24.4 488.79,48.5 488.80,24.6 488.84,43.3 488.89,24.7 488.93,47.2 488.94,24.4 488.98,43.2 489.08,23.7 489.12,44.5 489.10,24.1 489.14,46.6 489.24,24.0 489.28,43.9 489.30,24.4 489.34,47.9 489.36,23.9 489.40,47.1 489.51,24.2 489.55,46.9 489.51,24.5 489.55,48.4 489.61,24.4 489.65,43.3 489.71,24.1 489.75,43.3 489.82,23.8 489.86,46.0 489.84,24.2 489.88,48.8 489.99,24.0 490.03,44.7 490.05,23.5 490.09,45.2 490.12,24.5 490.16,44.2 490.21,24.6 490.25,46.0 490.27,23.9 490.31,46.7 490.36,24.1 490.40,42.0 490.49,24.2 490.53,47.8 490.53,24.1 490.57,46.6 490.61,24.3 490.65,51.1 490.71,24.0 490.75,47.1 490.76,24.3 490.80,47.4 490.88,23.9 490.92,47.0 490.93,24.6 490.97,44.4 491.08,24.5 491.12,47.8 491.11,24.2 491.15,44.9 491.18,24.4 491.22,47.1 491.30,24.0 491.34,47.3 491.37,24.2 491.41,51.4 491.50,24.4 491.54,44.9 491.56,24.1 491.60,44.3 491.60,24.4 491.64,48.9 491.72,24.7 491.76,47.8 491.79,24.6 491.83,51.3 491.90,24.5 491.94,47.2 491.96,24.4 492.00,49.3 492.03,24.2 492.07,45.1 492.12,23.9 492.16,46.5 492.25,24.0 492.29,44.5 492.30,23.6 492.34,48.6 492.42,23.8 492.46,51.1 492.45,24.3 492.49,46.5 492.58,23.7 492.62,47.9 492.62,23.8 492.66,41.0 492.69,24.4 492.73,45.6 492.82,24.1 492.86,42.2 492.89,23.8 492.93,44.8 492.95,24.1 492.99,47.2 493.06,23.9 493.10,50.6 493.13,24.1 493.17,46.9 493.20,24.0 493.24,44.5 493.31,24.3 493.35,46.0 493.41,24.1 493.45,45.3 493.46,24.3 493.50,45.4 493.53,24.0 493.57,50.0 493.60,24.8 493.64,45.4 493.73,24.1 493.77,48.5 493.80,23.8 493.84,46.4 493.86,24.0 493.90,42.4 493.95,24.2 493.99,51.9 494.06,24.0 494.10,47.0 494.16,24.5 494.20,45.3 494.21,24.5 494.25,43.2 494.26,24.3 494.30,46.0 494.35,24.3 494.39,48.6 494.45,23.9 494.49,44.0 494.58,24.5 494.62,44.6 494.62,23.9 494.66,51.3 494.68,24.7 494.72,46.0 494.82,24.5 494.86,51.1 494.85,24.2 494.89,53.7 494.97,23.8 495.01,49.1 495.00,24.4 495.04,48.9 495.11,24.9 495.15,52.3 495.21,24.1 495.25,40.8 495.28,24.2 495.32,49.9 495.35,24.6 495.39,45.1 495.46,24.5 495.50,44.1 495.56,24.4 495.60,39.9 495.59,24.2 495.63,47.1 495.69,24.0 495.73,41.5 495.81,24.7 495.85,49.3 495.85,23.5 495.89,46.2 495.98,24.2 496.02,47.2 496.08,24.3 496.12,48.9 496.16,24.0 496.20,45.1 496.23,24.2 496.27,40.5 496.28,23.4 496.32,39.9 496.34,23.8 496.38,44.1 496.45,24.3 496.49,49.3 496.57,24.3 496.61,48.3 496.63,24.4 496.67,44.3 496.72,24.3 496.76,44.3 496.75,24.0 496.79,44.4 496.89,24.4 496.93,46.8 496.94,23.7 496.98,48.6 497.07,24.2 497.11,44.7 497.15,24.3 497.19,46.1 497.17,23.9 497.21,41.9 497.26,24.9 497.30,48.0 497.37,24.5 497.41,43.5 497.48,24.0 497.52,42.1 497.57,24.2 497.61,40.3 497.65,24.2 497.69,40.3 497.72,24.1 497.76,48.9 497.76,24.4 497.80,49.4 497.88,24.3 497.92,45.5 497.93,24.7 497.97,48.5 498.07,24.8 498.11,52.8 498.09,23.8 498.13,41.7 498.21,24.5 498.25,44.5 498.31,24.4 498.35,43.0 498.34,23.7 498.38,45.4 498.48,23.9 498.52,42.6 498.51,24.4 498.55,45.2 498.60,24.4 498.64,45.5 498.71,24.2 498.75,40.4 498.76,24.5 498.80,49.3 498.83,24.0 498.87,44.4 498.98,24.2 499.02,50.5 499.01,24.2 499.05,41.6 499.11,24.0 499.15,46.6 499.20,24.0 499.24,49.4 499.32,23.6 499.36,51.2 499.34,23.7 499.38,46.6 499.46,24.8 499.50,40.2 499.55,23.9 499.59,44.5 499.61,24.6 499.65,50.5 499.72,24.7 499.76,51.9 499.78,24.0 499.82,37.8 499.90,24.4 499.94,47.6 499.94,24.3 499.98,50.2 500.06,23.9 500.10,45.6 500.15,24.4 500.19,44.3 500.20,24.5 500.24,41.4 500.25,24.1 500.29,46.6 500.36,23.8 500.40,48.1 500.47,24.0 500.51,44.0 500.53,24.7 500.57,48.3 500.59,24.4 500.63,44.9 500.74,24.3 500.78,45.5 500.77,23.6 500.81,43.1 500.83,23.9 500.87,48.0 500.98,23.9 501.02,48.0 501.00,23.8 501.04,45.2 501.09,24.3 501.13,44.6 501.17,24.0 501.21,50.3 501.31,24.0 501.35,48.4 501.34,24.5 501.38,45.5 501.42,24.2 501.46,47.1 501.54,24.0 501.58,39.4 501.64,24.6 501.68,43.9 501.74,23.9 501.78,42.4 501.76,24.0 501.80,46.2 501.86,23.9 501.90,45.8 501.93,24.5 501.97,45.7 502.00,24.2 502.04,42.9 502.13,23.7 502.17,47.0 502.17,23.9 502.21,41.4 502.30,24.5 502.34,48.2 502.36,24.1 502.40,43.1 502.44,23.7 502.48,45.2 502.56,24.2 502.60,47.1 502.64,24.1 502.68,41.4 502.73,23.4 502.77,43.1 502.75,24.2 502.79,46.5 502.83,24.2 502.87,48.2 502.93,24.5 502.97,43.6 503.06,24.4 503.10,48.3 503.11,23.7 503.15,44.4 503.22,24.3 503.26,48.6 503.25,24.6 503.29,45.7 503.38,24.5 503.42,48.5 503.43,24.2 503.47,46.6 503.54,24.0 503.58,41.2 503.61,24.5 503.65,40.9 503.73,24.0 503.77,47.4 503.75,24.4 503.79,46.8 503.85,24.1 503.89,50.9 503.91,24.0 503.95,45.1 504.00,24.0 504.04,42.7 504.10,24.4 504.14,48.5 504.19,24.3 504.23,48.7 504.27,24.0 504.31,45.0 504.36,24.6 504.40,47.7 504.42,24.2 504.46,45.4 504.55,24.0 504.59,41.5 504.63,23.9 504.67,44.6 504.67,24.2 504.71,44.0 504.74,24.3 504.78,40.5 504.87,24.2 504.91,45.3 504.93,24.5 504.97,44.0 504.99,24.3 505.03,45.8 505.10,24.1 505.14,48.2 505.17,24.1 505.21,41.3 505.24,24.6 505.28,50.0 505.36,24.3 505.40,45.7 505.43,24.9 505.47,49.3 505.53,24.0 505.57,48.4 505.65,24.4 505.69,49.7 505.69,24.1 505.73,46.7 505.78,24.6 505.82,44.6 505.85,24.2 505.89,42.2 505.97,24.1 506.01,51.4 506.01,23.9 506.05,45.3 506.09,24.7 506.13,47.1 506.18,23.9 506.22,47.8 506.24,24.3 506.28,46.3 506.33,24.5 506.37,45.4 506.46,24.1 506.50,46.3 506.55,24.3 506.59,46.0 506.63,24.3 506.67,39.6 506.68,24.5 506.72,45.6 506.77,24.2 506.81,45.0 506.89,24.2 506.93,49.3 506.97,24.3 507.01,42.8 507.05,24.5 507.09,47.5 507.08,24.4 507.12,46.2 507.17,24.1 507.21,48.2 507.27,23.8 507.31,46.2 507.37,24.2 507.41,48.6 507.43,23.8 507.47,49.7 507.53,24.2 507.57,50.0 507.60,24.6 507.64,47.1 507.70,24.0 507.74,45.9 507.80,24.5 507.84,43.9 507.84,24.1 507.88,41.1 507.92,23.9 507.96,40.6 508.03,24.3 508.07,47.8 508.12,24.3 508.16,48.0 508.19,23.4 508.23,43.7 508.29,24.1 508.33,48.5 508.37,24.1 508.41,42.7 508.46,24.0 508.50,42.9 508.48,24.3 508.52,48.7 508.63,24.3 508.67,43.7 508.73,24.1 508.77,41.7 508.77,25.0 508.81,44.6 508.84,23.8 508.88,46.7 508.95,24.6 508.99,46.3 509.03,24.6 509.07,44.5 509.13,24.0 509.17,48.0 509.23,24.2 509.27,44.9 509.27,24.6 509.31,46.5 509.32,24.2 509.36,48.0 509.45,24.6 509.49,48.6 509.53,24.5 509.57,44.2 509.60,24.7 509.64,48.4 509.71,24.5 509.75,45.2 509.75,24.1 509.79,51.2 509.86,24.2 509.90,46.4 509.94,24.1 509.98,45.5 510.02,23.9 510.06,44.8 510.11,24.2 510.15,43.1 510.19,24.4 510.23,44.3 510.25,24.3 510.29,44.2 510.38,23.7 510.42,46.6 510.44,24.2 510.48,48.8 510.51,24.1 510.55,49.2 510.58,24.3 510.62,48.0 510.66,24.1 510.70,45.1 510.74,24.1 510.78,42.9 510.87,24.2 510.91,44.8 510.95,24.3 510.99,45.2 511.06,24.5 511.10,43.6 511.10,24.5 511.14,46.8 511.19,24.1 511.23,45.3 511.23,24.0 511.27,46.1 511.35,23.9 511.39,45.2 511.45,24.2 511.49,46.4 511.50,24.5 511.54,49.5 511.64,24.0 511.68,46.9 511.71,24.0 511.75,48.1 511.74,24.7 511.78,40.8 511.84,24.0 511.88,41.7 511.89,24.0 511.93,47.6 511.99,23.7 512.03,48.3 512.07,24.6 512.11,45.8 512.18,24.6 512.22,50.1 512.26,24.0 512.30,42.3 512.31,24.8 512.35,46.0 512.44,24.5 512.48,47.2 512.53,24.6 512.57,42.8 512.57,24.6 512.61,42.2 512.65,24.9 512.69,45.4 512.80,24.3 512.84,43.0 512.87,23.9 512.91,50.7 512.90,24.1 512.94,48.1 512.98,24.1 513.02,48.3 513.13,24.3 513.17,50.5 513.17,23.7 513.21,43.4 513.30,24.1 513.34,39.0 513.37,23.9 513.41,49.7 513.45,24.7 513.49,47.5 513.50,24.1 513.54,42.9 513.62,24.6 513.66,46.8 513.68,24.1 513.72,45.9 513.73,24.2 513.77,48.2 513.86,24.6 513.90,45.0 513.90,24.2 513.94,48.7 514.04,23.8 514.08,43.8 514.11,24.1 514.15,44.4 514.18,24.0 514.22,44.9 514.30,24.5 514.34,48.1 514.35,24.4 514.39,46.6 514.40,24.6 514.44,44.6 514.52,24.2 514.56,48.5 514.60,23.8 514.64,48.8 514.71,24.1 514.75,52.5 514.76,24.2 514.80,47.5 514.88,24.6 514.92,46.4 514.96,24.1 515.00,43.2 515.00,24.3 515.04,49.4 515.10,24.8 515.14,50.1 515.21,24.8 515.25,42.5 515.29,24.3 515.33,42.8 515.31,24.5 515.35,49.2 515.46,23.7 515.50,47.4 515.52,24.2 515.56,51.2 515.60,24.6 515.64,46.2 515.64,24.4 515.68,42.3 515.78,23.7 515.82,43.7 515.86,24.5 515.90,49.0 515.90,24.0 515.94,45.2 516.04,24.1 516.08,48.0 516.10,23.7 516.14,45.1 516.17,24.0 516.21,47.5 516.24,24.4 516.28,44.2 516.34,24.0 516.38,42.3 516.43,24.2 516.47,45.0 516.54,23.9 516.58,44.9 516.59,24.2 516.63,44.8 516.70,23.6 516.74,43.4 516.74,24.3 516.78,47.1 516.84,24.1 516.88,46.4 516.92,24.4 516.96,46.4 517.03,24.2 517.07,42.2 517.06,24.2 517.10,45.5 517.16,24.2 517.20,44.3 517.27,23.9 517.31,47.0 517.35,24.4 517.39,49.8 517.39,24.5 517.43,46.8 517.52,23.9 517.56,44.6 517.59,24.3 517.63,46.8 517.68,24.4 517.72,47.6 517.75,23.8 517.79,47.0 517.80,24.0 517.84,44.4 517.91,25.1 517.95,44.7 518.00,24.3 518.04,45.9 518.07,24.0 518.11,48.6 518.15,23.9 518.19,47.9 518.29,24.4 518.33,36.3 518.32,23.7 518.36,46.4 518.44,24.5 518.48,44.2 518.49,24.3 518.53,45.0 518.58,24.2 518.62,49.9 518.68,24.2 518.72,42.1 518.78,23.9 518.82,45.7 518.85,23.9 518.89,48.5 518.92,24.2 518.96,43.8 518.99,23.8 519.03,47.5 519.05,24.4 519.09,45.0 519.17,24.3 519.21,49.7 519.29,23.6 519.33,46.4 519.34,24.2 519.38,44.0 519.43,23.9 519.47,47.3 519.52,24.4 519.56,50.0 519.58,24.3 519.62,48.3 519.70,24.2 519.74,44.0 519.79,24.2 519.83,50.5 519.86,24.3 519.90,49.9 519.91,24.2 519.95,43.8 519.97,24.0 520.01,45.6 520.10,23.8 520.14,46.1 520.20,24.2 520.24,47.2 520.28,24.0 520.32,44.8 520.32,23.9 520.36,43.6 520.40,24.6 520.44,44.7 520.49,24.7 520.53,51.0 520.57,23.7 520.61,44.2 520.70,23.8 520.74,50.7 520.77,24.2 520.81,41.1 520.81,24.1 520.85,47.2 520.88,24.5 520.92,44.2 521.03,24.7 521.07,45.0 521.07,24.1 521.11,47.8 521.16,24.7 521.20,42.5 521.24,23.9 521.28,45.3 521.33,24.4 521.37,39.9 521.42,24.1 521.46,44.0 521.52,23.6 521.56,45.0 521.56,23.6 521.60,38.7 521.63,24.3 521.67,41.9 521.73,23.9 521.77,45.8 521.83,24.5 521.87,48.1 521.95,24.4 521.99,40.3 522.01,24.1 522.05,42.3 522.07,23.8 522.11,42.3 522.16,24.4 522.20,46.7 522.28,24.0 522.32,47.6 522.30,24.2 522.34,48.4 522.41,24.6 522.45,42.5 522.52,24.3 522.56,46.3 522.55,23.7 522.59,43.9 522.69,24.2 522.73,52.0 522.73,24.0 522.77,42.9 522.84,23.9 522.88,47.9 522.88,24.5 522.92,53.6 523.00,23.8 523.04,49.5 523.10,23.7 523.14,44.7 523.18,23.7 523.22,41.5 523.28,23.8 523.32,53.8 523.35,24.4 523.39,49.8 523.44,24.4 523.48,45.5 523.50,24.5 523.54,50.4 523.60,24.5 523.64,47.2 523.70,24.5 523.74,48.9 523.75,23.9 523.79,45.7 523.84,23.7 523.88,50.3 523.94,24.4 523.98,47.0 524.01,23.9 524.05,48.5 524.05,24.6 524.09,45.6 524.13,24.3 524.17,46.2 524.22,24.5 524.26,43.1 524.31,24.7 524.35,45.4 524.42,24.2 524.46,40.9 524.48,24.2 524.52,50.6 524.57,24.3 524.61,46.8 524.67,24.4 524.71,43.8 524.78,24.5 524.82,45.7 524.85,24.3 524.89,53.6 524.89,24.4 524.93,45.1 524.99,24.1 525.03,47.4 525.06,24.6 525.10,38.9 525.20,24.1 525.24,46.3 525.23,24.0 525.27,44.0 525.32,23.8 525.36,48.7 525.42,23.9 525.46,44.0 525.52,24.2 525.56,54.0 525.57,24.4 525.61,48.9 525.67,24.8 525.71,47.1 525.76,24.2 525.80,50.6 525.83,23.8 525.87,43.1 525.91,23.7 525.95,45.9 526.02,25.1 526.06,41.2 526.09,24.5 526.13,50.1 526.17,24.3 526.21,48.4 526.23,24.6 526.27,44.1 526.29,24.2 526.33,47.4 526.42,24.2 526.46,43.5 526.45,24.4 526.49,44.1 526.57,24.2 526.61,48.1 526.64,24.7 526.68,45.6 526.73,24.5 526.77,44.4 526.82,24.5 526.86,45.2 526.94,23.9 526.98,46.5 526.99,24.8 527.03,47.3 527.09,24.3 527.13,46.6 527.18,24.0 527.22,43.1 527.25,24.2 527.29,39.9 527.32,24.0 527.36,50.0 527.40,24.4 527.44,48.9 527.48,24.1 527.52,46.4 527.55,23.9 527.59,41.7 527.62,23.5 527.66,48.4 527.74,24.0 527.78,39.1 527.85,23.7 527.89,39.3 527.92,24.2 527.96,52.8 527.96,24.2 528.00,43.9 528.07,23.7 528.11,44.1 528.16,24.0 528.20,47.1 528.22,23.7 528.26,51.3 528.32,24.0 528.36,45.1 528.44,23.5 528.48,47.0 528.52,23.4 528.56,42.4 528.60,24.5 528.64,44.2 528.62,23.6 528.66,48.6 528.78,24.1 528.82,40.1 528.84,24.1 528.88,40.5 528.87,24.3 528.91,41.4 529.03,24.0 529.07,45.6 529.05,24.6 529.09,43.1 529.12,24.5 529.16,45.5 529.27,24.5 529.31,47.4 529.28,24.1 529.32,51.2 529.40,23.9 529.44,44.9 529.46,24.0 529.50,51.5 529.60,24.1 529.64,43.7 529.64,24.4 529.68,49.7 529.77,24.8 529.81,45.1 529.78,24.1 529.82,46.6 529.90,24.2 529.94,49.1 530.02,24.1 530.06,48.8 530.07,23.7 530.11,47.4 530.15,24.3 530.19,41.4 530.21,24.3 530.25,44.6 530.28,25.0 530.32,46.6 530.38,24.0 530.42,43.4 530.50,24.2 530.54,49.2 530.58,24.5 530.62,50.2 530.62,24.1 530.66,48.4 530.74,24.6 530.78,42.8 530.81,24.4 530.85,46.7 530.93,23.6 530.97,45.5 531.02,24.0 531.06,45.5 531.03,23.9 531.07,47.1 531.13,24.0 531.17,42.2 531.25,24.0 531.29,43.8 531.34,24.1 531.38,48.4 531.41,23.5 531.45,48.9 531.46,24.2 531.50,46.0 531.58,24.0 531.62,48.6 531.69,24.3 531.73,45.9 531.70,24.3 531.74,43.8 531.82,25.0 531.86,45.8 531.89,24.8 531.93,45.4 531.97,23.7 532.01,47.4 532.09,23.7 532.13,48.3 532.12,24.4 532.16,49.0 532.22,24.2 532.26,42.1 532.35,24.0 532.39,48.2 532.40,24.5 532.44,45.7 532.45,23.6 532.49,45.6 532.53,24.6 532.57,44.6 532.64,24.5 532.68,46.9 532.72,25.1 532.76,50.7 532.79,23.7 532.83,39.8 532.91,24.2 532.95,49.1 532.99,23.7 533.03,44.2 533.08,24.5 533.12,49.1 533.15,24.1 533.19,44.0 533.27,24.2 533.31,49.1 533.35,24.1 533.39,41.0 533.37,23.5 533.41,44.6 533.46,23.5 533.50,50.6 533.55,23.8 533.59,41.0 533.62,24.3 533.66,51.5 533.76,23.9 533.80,47.0 533.80,23.8 533.84,42.7 533.93,24.0 533.97,47.1 534.00,24.0 534.04,42.2 534.03,24.1 534.07,45.8 534.13,24.5 534.17,47.7 534.22,24.1 534.26,42.3 534.28,23.7 534.32,45.8 534.41,24.5 534.45,47.4 534.49,24.2 534.53,43.2 534.59,23.9 534.63,46.7 534.63,24.7 534.67,50.1 534.73,24.3 534.77,48.1 534.82,24.8 534.86,38.7 534.89,24.4 534.93,39.2 534.97,24.7 535.01,50.6 535.06,24.5 535.10,43.6 535.18,24.4 535.22,42.3 535.19,24.3 535.23,46.8 535.30,24.3 535.34,44.0 535.40,25.0 535.44,49.0 535.45,23.7 535.49,47.0 535.58,24.3 535.62,42.9 535.61,24.6 535.65,46.2 535.76,24.4 535.80,46.5 535.78,24.1 535.82,46.8 535.86,24.5 535.90,50.0 535.99,24.4 536.03,49.1 536.03,24.4 536.07,47.6 536.16,24.0 536.20,46.4 536.19,24.5 536.23,48.6 536.30,24.1 536.34,40.4 536.42,24.1 536.46,51.3 536.46,24.3 536.50,49.3 536.52,23.8 536.56,48.0 536.65,24.2 536.69,44.5 536.72,24.6 536.76,50.4 536.77,24.1 536.81,45.3 536.91,24.2 536.95,48.6 536.97,24.2 537.01,48.4 537.02,24.1 537.06,44.8 537.11,23.4 537.15,43.6 537.25,24.1 537.29,43.0 537.30,24.1 537.34,49.6 537.38,24.3 537.42,43.0 537.51,23.8 537.55,42.9 537.55,24.2 537.59,45.1 537.67,24.5 537.71,44.7 537.71,24.6 537.75,45.9 537.82,24.0 537.86,46.5 537.91,24.0 537.95,43.4 537.99,24.7 538.03,41.0 538.02,24.5 538.06,46.7 538.18,24.0 538.22,44.9 538.21,23.9 538.25,43.2 538.32,24.7 538.36,50.1 538.38,24.4 538.42,41.1 538.44,23.9 538.48,44.8 538.57,24.4 538.61,41.6 538.62,24.4 538.66,46.8 538.71,24.4 538.75,48.5 538.77,24.7 538.81,46.3 538.89,24.2 538.93,45.0 538.95,24.1 538.99,48.7 539.06,24.7 539.10,43.2 539.13,24.2 539.17,45.1 539.22,23.9 539.26,49.1 539.28,24.2 539.32,44.5 539.36,23.9 539.40,46.3 539.45,24.4 539.49,45.8 539.59,23.8 539.63,47.0 539.67,24.5 539.71,48.0 539.71,23.6 539.75,49.5 539.83,24.4 539.87,45.5 539.88,24.5 539.92,45.7 539.95,24.5 539.99,44.4 540.03,24.4 540.07,47.9 540.15,24.4 540.19,44.5 540.22,24.4 540.26,43.3 540.26,24.3 540.30,49.3 540.41,24.0 540.45,45.2 540.46,23.9 540.50,39.2 540.54,24.3 540.58,47.3 540.63,23.8 540.67,46.8 540.73,24.5 540.77,46.0 540.79,24.6 540.83,47.4 540.90,24.6 540.94,43.3 540.98,24.0 541.02,46.1 541.06,24.7 541.10,46.2 541.10,24.7 541.14,48.2 541.23,23.8 541.27,44.3 541.28,23.7 541.32,46.2 541.39,23.8 541.43,47.1 541.51,24.7 541.55,46.9 541.59,24.2 541.63,41.2 541.65,23.9 541.69,45.9 541.68,24.2 541.72,45.1 541.79,24.8 541.83,41.9 541.89,24.3 541.93,46.2 541.95,24.8 541.99,43.1 542.01,24.6 542.05,48.9 542.13,23.5 542.17,44.0 542.19,24.0 542.23,52.2 542.26,24.7 542.30,45.5 542.36,24.7 542.40,47.2 542.43,24.1 542.47,48.1 542.57,24.4 542.61,42.7 542.62,24.0 542.66,43.7 542.72,24.4 542.76,43.4 542.80,24.3 542.84,41.5 542.91,24.1 542.95,44.4 543.00,24.6 543.04,44.2 543.02,24.9 543.06,46.1 543.11,24.6 543.15,40.4 543.20,24.5 543.24,43.3 543.30,24.3 543.34,48.2 543.39,24.2 543.43,48.5 543.49,24.2 543.53,48.1 543.55,24.1 543.59,48.1 543.64,24.5 543.68,42.1 543.70,23.8 543.74,45.1 543.81,23.6 543.85,42.8 543.89,24.1 543.93,48.2 543.98,24.2 544.02,48.2 544.06,23.8 544.10,42.4 544.09,24.0 544.13,51.9 544.22,24.2 544.26,49.5 544.26,24.3 544.30,52.2 544.38,24.5 544.42,48.0 544.49,24.6 544.53,38.4 544.55,24.0 544.59,48.3 544.65,23.8 544.69,42.9 544.71,24.6 544.75,41.1 544.79,24.2 544.83,47.9 544.86,24.2 544.90,48.1 544.92,24.4 544.96,45.0 545.05,24.5 545.09,44.0 545.13,24.4 545.17,50.6 545.18,24.9 545.22,48.4 545.33,24.2 545.37,41.1 545.36,24.3 545.40,48.4 545.49,23.5 545.53,44.9 545.52,23.9 545.56,42.9 545.60,24.3 545.64,47.0 545.70,24.2 545.74,46.5 545.76,23.7 545.80,47.6 545.89,23.7 545.93,47.9 545.99,24.2 546.03,47.8 546.08,24.3 546.12,50.8 546.13,24.7 546.17,47.5 546.23,24.3 546.27,46.6 546.31,24.3 546.35,43.9 546.37,24.5 546.41,47.2 546.49,23.7 546.53,47.9 546.53,24.8 546.57,40.4 546.59,24.3 546.63,46.0 546.71,24.1 546.75,46.7 546.77,24.1 546.81,47.5 546.85,23.7 546.89,46.0 546.99,24.7 547.03,48.5 547.02,24.5 547.06,47.5 547.12,24.2 547.16,48.5 547.20,24.2 547.24,49.6 547.28,24.4 547.32,47.3 547.39,24.5 547.43,50.0 547.47,23.9 547.51,40.9 547.54,24.6 547.58,49.4 547.58,24.4 547.62,40.8 547.72,23.8 547.76,45.0 547.75,23.7 547.79,43.4 547.90,23.9 547.94,41.7 547.97,24.5 548.01,50.8 548.03,24.5 548.07,41.2 548.16,24.5 548.20,44.5 548.21,24.6 548.25,47.4 548.32,24.4 548.36,48.2 548.38,23.8 548.42,44.9 548.49,24.2 548.53,50.6 548.55,24.5 548.59,40.7 548.61,24.5 548.65,46.4 548.67,24.6 548.71,43.6 548.82,23.8 548.86,45.5 548.89,24.9 548.93,47.1 548.96,24.1 549.00,47.0 549.01,24.7 549.05,48.4 549.16,24.6 549.20,42.1 549.24,24.7 549.28,45.8 549.25,23.9 549.29,44.3 549.35,24.3 549.39,44.4 549.42,23.3 549.46,43.8 549.57,24.6 549.61,44.5 549.59,24.6 549.63,42.1 549.70,24.0 549.74,47.6 549.75,24.0 549.79,48.7 549.91,24.3 549.95,46.1 549.99,24.9 550.03,46.7 550.05,23.8 550.09,45.6 550.12,24.0 550.16,42.3 550.20,24.1 550.24,42.9 550.25,24.4 550.29,44.1 550.40,24.0 550.44,48.0 550.43,24.4 550.47,44.2 550.56,24.2 550.60,45.2 550.59,24.3 550.63,43.5 550.71,23.8 550.75,45.7 550.78,24.4 550.82,46.9 550.84,24.3 550.88,45.3 550.95,23.9 550.99,47.8 551.08,24.2 551.12,48.3 551.16,24.2 551.20,45.0 551.23,24.3 551.27,45.7 551.27,23.9 551.31,42.8 551.36,24.5 551.40,45.3 551.44,24.1 551.48,49.1 551.53,23.6 551.57,41.7 551.60,24.1 551.64,41.0 551.70,24.5 551.74,48.9 551.75,24.6 551.79,47.5 551.87,24.2 551.91,42.9 551.96,24.6 552.00,45.2 552.06,24.8 552.10,50.0 552.15,24.5 552.19,42.5 552.18,24.6 552.22,45.5 552.32,24.0 552.36,44.8 552.41,24.7 552.45,42.4 552.48,23.7 552.52,47.7 552.56,24.5 552.60,47.9 552.63,24.2 552.67,43.9 552.74,24.0 552.78,43.1 552.78,24.2 552.82,45.5 552.84,24.0 552.88,42.4 552.93,24.6 552.97,44.6 553.04,25.0 553.08,42.6 553.09,24.3 553.13,48.2 553.22,24.8 553.26,46.4 553.30,24.4 553.34,42.7 553.35,23.9 553.39,48.3 553.46,24.3 553.50,48.1 553.51,24.4 553.55,45.4 553.64,24.6 553.68,46.6 553.68,24.3 553.72,48.6 553.80,24.3 553.84,50.6 553.88,24.8 553.92,41.9 553.96,24.1 554.00,45.7 554.01,24.6 554.05,41.8 554.15,24.2 554.19,48.4 554.17,24.4 554.21,45.7 554.29,23.9 554.33,46.3 554.38,24.0 554.42,45.6 554.42,24.2 554.46,50.4 554.57,24.3 554.61,42.4 554.63,24.1 554.67,46.7 554.67,23.8 554.71,45.3 554.79,23.9 554.83,48.7 554.87,24.2 554.91,41.5 554.95,24.1 554.99,50.3 555.06,23.7 555.10,40.5 555.12,24.8 555.16,47.1 555.21,24.1 555.25,46.9 555.28,24.5 555.32,47.9 555.34,23.8 555.38,41.9 555.42,24.4 555.46,48.4 555.56,24.3 555.60,48.5 555.64,24.6 555.68,48.7 555.71,24.2 555.75,44.6 555.78,24.0 555.82,44.4 555.86,23.7 555.90,48.0 555.92,24.6 555.96,44.5 556.03,24.4 556.07,41.5 556.10,22.9 556.14,44.0 556.21,23.9 556.25,44.9 556.25,24.2 556.29,48.9 556.40,24.1 556.44,41.5 556.44,25.1 556.48,44.0 556.55,23.7 556.59,50.1 556.59,24.2 556.63,48.1 556.73,24.7 556.77,53.9 556.75,23.8 556.79,44.5 556.89,24.4 556.93,49.6 556.94,24.6 556.98,46.8 556.99,24.0 557.03,42.0 557.09,24.1 557.13,50.1 557.18,24.4 557.22,43.6 557.31,24.2 557.35,46.9 557.35,24.7 557.39,49.2 557.43,24.7 557.47,42.4 557.53,23.9 557.57,44.9 557.64,23.8 557.68,48.1 557.69,24.1 557.73,44.6 557.74,24.1 557.78,47.8 557.84,24.4 557.88,48.6 557.96,24.3 558.00,47.2 558.06,24.5 558.10,43.2 558.08,23.6 558.12,50.7 558.16,24.4 558.20,49.9 558.31,24.1 558.35,43.6 558.38,24.2 558.42,50.1 558.46,24.7 558.50,46.7 558.54,23.6 558.58,47.0 558.57,24.3 558.61,49.8 558.71,24.5 558.75,48.3 558.74,24.2 558.78,46.5 558.89,24.5 558.93,46.4 558.91,24.2 558.95,44.3 559.05,24.5 559.09,45.5 559.13,24.0 559.17,43.5 559.22,24.2 559.26,45.5 559.24,24.7 559.28,47.4 559.37,23.9 559.41,44.3 559.43,24.2 559.47,44.9 559.54,24.6 559.58,43.6 559.64,24.1 559.68,46.6 559.72,24.1 559.76,46.5 559.78,23.6 559.82,46.5 559.88,24.5 559.92,50.4 559.98,23.9 560.02,44.8 560.02,24.2 560.06,48.0 560.08,24.0 560.12,48.3 560.17,24.3 560.21,47.2 560.23,24.2 560.27,40.1 560.39,24.1 560.43,48.4 560.46,24.6 560.50,41.8 560.54,24.9 560.58,52.1 560.58,24.2 560.62,46.9 560.65,24.4 560.69,40.6 560.73,24.2 560.77,45.6 560.87,24.0 560.91,45.0 560.92,24.3 560.96,47.7 560.98,23.8 561.02,51.7 561.12,24.2 561.16,44.6 561.18,24.2 561.22,43.4 561.25,23.9 561.29,43.0 561.35,24.0 561.39,40.5 561.40,24.2 561.44,46.2 561.51,24.2 561.55,44.5 561.59,24.5 561.63,52.2 561.67,24.4 561.71,47.0 561.80,24.2 561.84,45.6 561.82,23.9 561.86,42.3 561.95,24.4 561.99,40.7 562.02,23.9 562.06,41.3 562.12,23.6 562.16,44.7 562.16,23.5 562.20,46.4 562.29,24.2 562.33,46.2 562.36,23.9 562.40,46.1 562.46,24.0 562.50,45.6 562.55,23.9 562.59,42.6 562.61,23.9 562.65,46.5 562.69,24.0 562.73,50.8 562.75,23.9 562.79,49.4 562.85,24.1 562.89,37.5 562.91,24.3 562.95,42.1 563.01,24.1 563.05,47.4 563.07,24.0 563.11,46.7 563.17,23.8 563.21,43.9 563.26,24.1 563.30,45.1 563.37,24.0 563.41,45.0 563.45,23.7 563.49,51.6 563.50,24.5 563.54,49.9 563.59,24.3 563.63,45.5 563.72,24.0 563.76,43.9 563.76,24.2 563.80,45.0 563.87,24.5 563.91,41.4 563.95,23.9 563.99,45.8 564.02,24.2 564.06,45.2 564.12,24.5 564.16,45.8 564.19,23.6 564.23,43.1 564.28,24.6 564.32,47.7 564.31,24.2 564.35,40.0 564.45,24.4 564.49,49.0 564.50,24.2 564.54,43.7 564.62,24.0 564.66,43.8 564.67,24.5 564.71,41.3 564.79,24.2 564.83,49.2 564.87,24.2 564.91,48.5 564.95,24.5 564.99,46.7 565.02,23.8 565.06,43.8 565.07,24.1 565.11,43.5 565.18,24.3 565.22,53.4 565.30,24.4 565.34,46.8 565.33,24.3 565.37,45.2 565.43,24.2 565.47,44.9 565.49,24.4 565.53,44.9 565.63,23.8 565.67,46.4 565.69,25.0 565.73,45.6 565.76,24.9 565.80,51.4 565.81,24.3 565.85,43.4 565.92,24.8 565.96,53.0 566.00,24.2 566.04,46.5 566.06,24.4 566.10,48.7 566.20,24.0 566.24,45.1 566.24,24.1 566.28,48.9 566.31,23.8 566.35,43.5 566.46,23.9 566.50,45.0 566.54,23.8 566.58,44.3 566.60,24.0 566.64,42.9 566.65,23.9 566.69,42.7 566.78,24.0 566.82,46.6 566.81,24.4 566.85,43.7 566.93,24.6 566.97,44.7 566.99,24.6 567.03,43.9 567.11,24.0 567.15,45.6 567.18,25.0 567.22,53.4 567.26,24.1 567.30,46.8 567.33,24.5 567.37,46.1 567.42,24.0 567.46,47.5 567.50,24.1 567.54,48.1 567.63,24.5 567.67,45.7 567.65,24.2 567.69,48.1 567.79,25.0 567.83,44.2 567.81,24.1 567.85,42.5 567.95,24.1 567.99,46.1 567.99,24.8 568.03,43.7 568.12,23.9 568.16,49.5 568.14,24.2 568.18,49.0 568.23,24.1 568.27,47.0 568.35,24.7 568.39,48.9 568.46,24.0 568.50,46.0 568.50,24.0 568.54,45.9 568.57,24.2 568.61,41.5 568.67,24.5 568.71,47.6 568.77,24.0 568.81,42.5 568.83,23.8 568.87,49.0 568.93,24.1 568.97,46.7 569.04,23.9 569.08,43.7 569.09,24.4 569.13,45.1 569.19,24.2 569.23,53.0 569.23,24.1 569.27,46.2 569.31,24.2 569.35,44.7 569.40,23.3 569.44,50.4 569.48,24.1 569.52,47.4 569.59,24.4 569.63,46.9 569.64,23.9 569.68,44.9 569.75,24.6 569.79,42.4 569.86,24.1 569.90,49.9 569.92,23.9 569.96,48.6 570.03,24.4 570.07,41.6 570.12,24.3 570.16,42.6 570.15,24.5 570.19,41.1 570.26,24.1 570.30,46.1 570.34,24.4 570.38,43.1 570.42,23.6 570.46,52.9 570.47,24.0 570.51,44.7 570.58,24.3 570.62,48.8 570.69,24.7 570.73,50.0 570.72,23.5 570.76,49.1 570.82,23.8 570.86,43.2 570.94,24.0 570.98,41.8 571.04,24.1 571.08,47.4 571.07,24.1 571.11,47.0 571.19,24.3 571.23,42.6 571.27,23.6 571.31,47.9 571.34,24.1 571.38,45.3 571.39,24.7 571.43,44.2 571.52,24.4 571.56,42.6 571.57,25.0 571.61,46.8 571.68,24.0 571.72,54.0 571.78,23.9 571.82,46.6 571.86,23.6 571.90,44.0 571.89,23.5 571.93,47.3 571.98,24.4 572.02,47.6 572.06,24.0 572.10,48.7 572.20,23.9 572.24,44.8 572.26,23.9 572.30,45.5 572.32,24.4 572.36,45.2 572.45,23.9 572.49,46.0 572.49,24.0 572.53,42.3 572.55,23.7 572.59,45.0 572.70,24.2 572.74,46.2 572.77,24.3 572.81,49.2 572.82,24.4 572.86,47.2 572.88,24.3 572.92,46.0 572.96,24.4 573.00,41.8 573.12,24.3 573.16,44.6 573.17,24.0 573.21,46.9 573.26,24.0 573.30,43.8 573.32,23.8 573.36,44.2 573.41,23.8 573.45,47.3 573.53,24.0 573.57,44.6 573.57,24.6 573.61,49.1 573.67,24.0 573.71,45.7 573.75,23.8 573.79,40.2 573.83,24.6 573.87,43.2 573.89,24.6 573.93,44.2 574.01,24.5 574.05,43.5 574.07,24.5 574.11,43.9 574.17,24.3 574.21,49.3 574.25,24.5 574.29,47.2 574.32,24.1 574.36,47.9 574.43,24.6 574.47,44.6 574.53,24.2 574.57,43.3 574.62,24.4 574.66,40.1 574.69,24.5 574.73,46.3 574.76,23.9 574.80,49.1 574.83,24.2 574.87,45.1 574.93,24.0 574.97,46.0 575.04,24.3 575.08,45.2 575.06,24.0 575.10,45.9 575.13,24.0 575.17,44.5 575.26,24.3 575.30,47.6 575.33,24.8 575.37,45.1 575.41,23.9 575.45,43.1 575.48,24.0 575.52,45.4 575.62,24.1 575.66,44.3 575.68,24.1 575.72,47.7 575.74,24.2 575.78,43.4 575.85,24.1 575.89,46.2 575.95,24.5 575.99,47.8 575.99,24.2 576.03,46.5 576.07,24.1 576.11,47.0 576.17,24.4 576.21,46.4 576.25,24.5 576.29,47.5 576.36,23.6 576.40,41.1 576.42,24.0 576.46,43.3 576.49,24.3 576.53,44.6 576.58,24.4 576.62,44.6 576.68,25.1 576.72,46.2 576.76,24.7 576.80,43.6 576.81,24.3 576.85,46.6 576.94,23.8 576.98,46.1 577.03,24.9 577.07,48.1 577.11,24.4 577.15,42.5 577.16,23.6 577.20,42.6 577.27,24.0 577.31,42.8 577.30,24.1 577.34,42.8 577.43,23.8 577.47,52.6 577.53,24.2 577.57,45.7 577.58,24.3 577.62,43.1 577.68,24.0 577.72,44.5 577.73,23.9 577.77,50.4 577.82,24.6 577.86,45.1 577.91,23.7 577.95,44.0 577.98,24.8 578.02,47.5 578.05,24.4 578.09,49.2 578.18,23.2 578.22,47.7 578.23,24.4 578.27,54.4 578.29,24.0 578.33,45.3 578.38,24.5 578.42,48.4 578.47,24.3 578.51,47.0 578.55,24.4 578.59,46.5 578.69,24.3 578.73,46.3 578.77,24.0 578.81,41.6 578.78,23.6 578.82,48.5 578.92,23.9 578.96,46.8 578.98,23.7 579.02,52.1 579.11,24.4 579.15,48.0 579.12,23.7 579.16,51.6 579.20,24.0 579.24,44.0 579.33,23.7 579.37,46.2 579.42,24.3 579.46,47.9 579.50,24.3 579.54,43.7 579.59,23.7 579.63,49.1 579.66,24.0 579.70,46.7 579.76,24.2 579.80,48.5 579.86,24.4 579.90,48.8 579.93,24.2 579.97,46.8 579.97,24.0 580.01,47.9 580.07,24.0 580.11,46.6 580.18,24.4 580.22,49.3 580.24,24.3 580.28,50.6 580.35,24.1 580.39,42.3 580.44,24.6 580.48,45.1 580.50,23.9 580.54,47.2 580.56,24.2 580.60,45.5 580.68,24.3 580.72,49.0 580.75,25.0 580.79,45.1 580.86,24.7 580.90,50.3 580.92,24.6 580.96,44.8 580.96,24.4 581.00,45.1 581.11,24.6 581.15,46.3 581.14,24.1 581.18,44.1 581.24,24.2 581.28,46.3 581.28,24.3 581.32,41.3 581.37,24.9 581.41,44.3 581.46,23.8 581.50,50.4 581.55,24.3 581.59,48.9 581.61,24.0 581.65,41.4 581.73,24.4 581.77,47.6 581.79,24.2 581.83,45.0 581.92,24.0 581.96,47.6 581.97,24.1 582.01,41.7 582.11,23.9 582.15,42.9 582.15,24.3 582.19,43.7 582.23,23.6 582.27,47.2 582.32,24.8 582.36,46.9 582.36,24.4 582.40,42.1 582.47,23.9 582.51,47.5 582.60,24.3 582.64,52.1 582.62,24.4 582.66,41.5 582.72,24.8 582.76,43.2 582.79,23.8 582.83,49.7 582.88,24.8 582.92,45.1 582.97,24.1 583.01,44.2 583.08,24.2 583.12,45.3 583.19,23.9 583.23,41.2 583.22,23.7 583.26,42.4 583.33,24.5 583.37,48.1 583.43,24.5 583.47,46.3 583.47,24.3 583.51,43.3 583.53,24.8 583.57,43.2 583.61,24.0 583.65,46.9 583.71,24.4 583.75,42.7 583.80,24.2 583.84,48.2 583.89,24.6 583.93,43.5 583.98,24.2 584.02,50.9 584.04,24.4 584.08,44.5 584.15,24.3 584.19,40.0 584.21,24.6 584.25,41.6 584.32,23.9 584.36,48.2 584.39,24.4 584.43,54.3 584.44,25.1 584.48,45.1 584.55,24.0 584.59,42.8 584.68,24.3 584.72,45.6 584.74,24.5 584.78,45.2 584.85,23.4 584.89,49.9 584.87,24.3 584.91,47.5 584.95,24.7 584.99,49.6 585.06,24.4 585.10,49.7 585.14,24.1 585.18,47.6 585.21,24.3 585.25,41.9 585.33,23.8 585.37,44.9 585.37,23.9 585.41,48.2 585.47,24.5 585.51,46.5 585.59,24.2 585.63,48.7 585.61,24.0 585.65,47.7 585.72,24.4 585.76,45.5 585.83,24.4 585.87,50.4 585.87,23.9 585.91,45.2 585.97,24.1 586.01,47.9 586.04,24.7 586.08,43.0 586.17,24.4 586.21,48.8 586.19,24.4 586.23,45.5 586.28,24.3 586.32,48.6 586.38,24.5 586.42,44.6 586.45,23.8 586.49,51.1 586.53,24.6 586.57,47.6 586.64,24.6 586.68,48.6 586.76,24.2 586.80,50.7 586.78,25.0 586.82,47.2 586.92,24.6 586.96,46.7 586.96,24.0 587.00,47.8 587.09,24.7 587.13,49.0 587.11,24.5 587.15,48.1 587.24,23.9 587.28,48.2 587.34,24.1 587.38,43.1 587.40,24.2 587.44,44.6 587.46,24.2 587.50,42.3 587.56,24.5 587.60,43.4 587.66,24.1 587.70,40.9 587.76,24.3 587.80,45.9 587.77,23.4 587.81,45.1 587.91,24.1 587.95,45.7 588.01,24.3 588.05,47.0 588.08,24.2 588.12,44.0 588.14,24.2 588.18,44.7 588.20,24.7 588.24,44.4 588.29,24.5 588.33,45.1 588.38,23.7 588.42,42.8 588.50,24.7 588.54,49.8 588.57,24.4 588.61,44.1 588.62,23.9 588.66,45.9 588.72,23.7 588.76,47.5 588.78,24.6 588.82,46.7 588.92,23.7 588.96,44.3 588.99,24.3 589.03,43.4 589.09,23.7 589.13,46.4 589.14,24.1 589.18,43.7 589.20,24.3 589.24,44.7 589.32,24.0 589.36,42.8 589.42,24.0 589.46,42.8 589.51,24.5 589.55,43.5 589.53,23.5 589.57,46.7 589.66,24.3 589.70,48.9 589.71,23.8 589.75,41.8 589.82,24.4 589.86,48.0 589.90,24.8 589.94,43.4 590.01,24.6 590.05,45.5 590.06,24.3 590.10,41.0 590.16,24.0 590.20,46.0 590.20,23.6 590.24,46.6 590.27,24.2 590.31,51.5 590.41,24.3 590.45,43.9 590.43,24.6 590.47,45.7 590.56,24.2 590.60,47.4 590.62,24.1 590.66,46.8 590.71,25.0 590.75,42.1 590.78,23.8 590.82,44.6 590.87,23.9 590.91,43.3 591.00,23.5 591.04,46.3 591.02,24.5 591.06,44.8 591.15,24.2 591.19,43.0 591.19,24.2 591.23,46.4 591.34,24.7 591.38,42.0 591.42,24.5 591.46,46.3 591.50,24.6 591.54,40.2 591.59,24.1 591.63,47.2 591.62,24.1 591.66,46.8 591.72,23.8 591.76,45.2 591.83,24.4 591.87,46.5 591.88,24.7 591.92,45.8 591.95,24.1 591.99,45.6 592.03,24.1 592.07,42.1 592.11,24.0 592.15,46.9 592.20,23.8 592.24,42.2 592.27,24.4 592.31,43.1 592.39,24.0 592.43,45.1 592.44,24.6 592.48,46.1 592.57,24.2 592.61,40.2 592.60,24.0 592.64,52.7 592.73,24.3 592.77,46.8 592.77,24.2 592.81,45.9 592.91,24.7 592.95,44.0 593.00,24.4 593.04,45.4 593.08,24.2 593.12,42.9 593.15,24.6 593.19,44.0 593.19,24.5 593.23,42.4 593.27,23.4 593.31,47.2 593.38,24.1 593.42,44.2 593.49,24.5 593.53,40.8 593.53,24.6 593.57,47.3 593.65,23.8 593.69,44.9 593.76,25.2 593.80,49.5 593.81,24.4 593.85,44.4 593.87,24.0 593.91,47.7 593.99,24.4 594.03,43.8 594.09,24.1 594.13,48.8 594.15,24.6 594.19,45.4 594.22,24.3 594.26,48.5 594.30,24.2 594.34,45.7 594.42,24.3 594.46,44.4 594.49,24.2 594.53,39.1 594.54,24.2 594.58,44.4 594.67,23.9 594.71,44.2 594.74,24.3 594.78,40.4 594.81,24.5 594.85,42.6 594.88,24.4 594.92,48.6 594.99,24.4 595.03,44.1 595.02,24.8 595.06,45.3 595.14,24.9 595.18,43.3 595.19,24.7 595.23,44.1 595.28,24.2 595.32,50.7 595.39,24.5 595.43,47.3 595.50,24.4 595.54,40.6 595.56,23.3 595.60,43.3 595.62,23.9 595.66,48.2 595.72,24.3 595.76,47.1 595.76,24.5 595.80,46.6 595.87,23.8 595.91,49.7 596.00,24.5 596.04,54.8 596.04,23.9 596.08,44.4 596.15,24.1 596.19,49.0 596.20,23.8 596.24,48.0 596.28,24.5 596.32,48.2 596.38,24.0 596.42,47.2 596.43,24.9 596.47,47.3 596.56,24.3 596.60,41.6 596.61,23.9 596.65,47.0 596.73,24.0 596.77,44.4 596.83,24.9 596.87,46.2 596.89,24.0 596.93,42.4 597.00,24.1 597.04,45.7 597.01,24.3 597.05,51.9 597.16,24.5 597.20,40.8 597.18,24.4 597.22,41.3 597.33,24.5 597.37,44.1 597.34,24.0 597.38,50.7 597.45,24.1 597.49,42.3 597.54,23.9 597.58,45.1 597.61,24.0 597.65,48.5 597.73,24.7 597.77,47.7 597.79,24.2 597.83,42.7 597.90,23.6 597.94,48.0 597.97,24.6 598.01,46.6 598.01,24.2 598.05,48.3 598.10,24.5 598.14,44.6 598.23,24.6 598.27,48.7 598.31,24.2 598.35,44.4 598.38,24.0 598.42,47.0 598.46,24.0 598.50,40.2 598.53,24.1 598.57,47.4 598.62,24.0 598.66,45.8 598.72,24.8 598.76,43.3 598.79,24.0 598.83,43.5 598.89,24.1 598.93,50.5 598.96,24.3 599.00,45.5 599.08,24.3 599.12,44.9 599.12,24.5 599.16,44.0 599.21,23.9 599.25,46.5 599.28,24.5 599.32,41.7 599.37,24.8 599.41,42.0 599.43,24.3 599.47,47.0 599.57,24.5 599.61,49.1 599.60,24.3 599.64,46.1 599.69,23.8 599.73,44.2 599.77,24.3 599.81,42.7 599.91,24.2 599.95,49.2 599.94,23.5 599.98,47.7 600.03,24.7 600.07,51.5 600.15,24.1 600.19,48.6 600.22,23.9 600.26,42.5 600.27,23.8 600.31,39.6 600.37,23.5 600.41,43.5 600.46,24.5 600.50,46.1 600.55,24.1 600.59,46.4 600.61,24.3 600.65,39.9 600.67,24.4 600.71,42.1 600.78,24.5 600.82,45.0 600.89,24.7 600.93,47.1 600.99,24.2 601.03,47.8 601.07,24.0 601.11,45.6 601.10,24.6 601.14,40.3 601.22,24.0 601.26,46.2 601.28,24.4 601.32,46.6 601.33,24.6 601.37,44.8 601.47,25.1 601.51,46.3 601.55,23.9 601.59,42.8 601.64,24.0 601.68,48.5 601.73,24.4 601.77,45.3 601.80,24.4 601.84,47.6 601.88,24.7 601.92,43.2 601.94,24.1 601.98,45.2 602.07,24.3 602.11,47.9 602.12,24.1 602.16,47.3 602.18,24.2 602.22,45.9 602.26,24.7 602.30,41.6 602.37,24.8 602.41,44.2 602.47,24.1 602.51,45.0 602.58,24.8 602.62,48.8 602.65,24.2 602.69,50.3 602.69,24.0 602.73,50.4 602.80,24.7 602.84,47.7 602.87,24.0 602.91,44.8 602.95,24.2 602.99,45.9 603.01,24.1 603.05,42.7 603.09,24.5 603.13,49.2 603.20,24.3 603.24,46.6 603.25,24.1 603.29,46.8 603.40,23.6 603.44,48.9 603.45,24.0 603.49,52.3 603.51,24.1 603.55,48.4 603.60,24.7 603.64,43.4 603.67,24.1 603.71,51.1 603.77,24.5 603.81,43.6 603.90,24.3 603.94,43.5 603.98,24.2 604.02,46.5 604.00,23.9 604.04,45.2 604.15,24.0 604.19,46.4 604.18,24.2 604.22,46.0 604.31,24.3 604.35,41.9 604.40,23.8 604.44,42.7 604.48,24.5 604.52,43.1 604.54,24.2 604.58,45.3 604.64,23.8 604.68,46.4 604.74,24.3 604.78,45.3 604.81,24.0 604.85,49.7 604.84,23.9 604.88,48.6 604.98,23.6 605.02,45.8 605.05,23.9 605.09,51.2 605.13,24.8 605.17,46.0 605.21,24.2 605.25,46.4 605.28,24.1 605.32,46.6 605.34,24.0 605.38,46.5 605.46,24.1 605.50,48.0 605.52,23.6 605.56,40.1 605.63,23.9 605.67,51.7 605.67,24.6 605.71,48.3 605.75,24.5 605.79,51.3 605.90,24.9 605.94,45.2 605.95,23.7 605.99,43.6 606.07,24.3 606.11,41.0 606.09,24.3 606.13,48.3 606.20,24.8 606.24,44.3 606.27,24.4 606.31,48.8 606.35,24.1 606.39,46.4 606.49,24.4 606.53,44.3 606.52,24.4 606.56,50.5 606.63,24.5 606.67,46.7 606.68,23.6 606.72,48.1 606.78,24.4 606.82,45.2 606.87,24.8 606.91,43.9 606.95,24.4 606.99,50.5 607.03,24.4 607.07,46.6 607.13,24.3 607.17,50.3 607.17,24.4 607.21,52.9 607.27,24.7 607.31,49.5 607.33,24.3 607.37,48.2 607.42,24.2 607.46,49.8 607.50,24.7 607.54,49.5 607.63,23.6 607.67,42.5 607.67,23.7 607.71,45.9 607.75,24.9 607.79,43.1 607.90,24.4 607.94,42.1 607.95,23.9 607.99,45.7 608.02,23.8 608.06,38.7 608.12,23.7 608.16,44.8 608.21,24.9 608.25,45.7 608.31,24.7 608.35,48.5 608.38,24.5 608.42,47.1 608.45,24.1 608.49,45.0 608.56,24.6 608.60,45.8 608.63,24.1 608.67,45.4 608.73,24.1 608.77,45.1 608.75,24.0 608.79,50.0 608.84,24.7 608.88,48.4 608.96,24.2 609.00,47.3 608.99,24.3 609.03,47.7 609.13,24.4 609.17,50.0 609.18,23.8 609.22,46.4 609.27,24.4 609.31,48.7 609.33,23.8 609.37,43.3 609.43,24.5 609.47,48.5 609.49,23.7 609.53,45.5 609.62,23.7 609.66,52.0 609.66,24.5 609.70,46.7 609.78,24.2 609.82,43.3 609.90,24.2 609.94,46.1 609.95,24.6 609.99,44.3 609.99,24.0 610.03,45.6 610.08,24.1 610.12,47.1 610.19,24.5 610.23,44.8 610.27,24.2 610.31,45.0 610.38,24.0 610.42,45.1 610.40,24.3 610.44,47.9 610.50,24.5 610.54,47.6 610.61,23.7 610.65,54.2 610.70,24.6 610.74,45.9 610.80,24.1 610.84,49.3 610.85,23.9 610.89,48.4 610.96,24.0 611.00,43.9 611.04,24.9 611.08,45.7 611.10,24.4 611.14,45.1 611.21,24.3 611.25,48.3 611.28,24.3 611.32,44.9 611.39,24.0 611.43,46.2 611.45,24.1 611.49,45.7 611.53,24.2 611.57,46.6 611.59,24.1 611.63,41.5 611.66,23.9 611.70,49.5 611.78,23.8 611.82,45.5 611.84,24.9 611.88,45.4 611.97,23.5 612.01,43.5 612.03,24.4 612.07,44.7 612.08,24.0 612.12,47.6 612.22,24.8 612.26,45.7 612.29,24.4 612.33,41.7 612.36,24.6 612.40,43.0 612.48,23.9 612.52,47.3 612.49,23.9 612.53,45.6 612.61,24.2 612.65,46.5 612.65,24.3 612.69,42.3 612.75,24.1 612.79,47.3 612.85,24.5 612.89,42.3 612.96,24.4 613.00,41.3 613.03,24.5 613.07,46.4 613.13,24.0 613.17,39.5 613.16,24.2 613.20,46.7 613.25,24.7 613.29,46.6 613.33,24.1 613.37,43.9 613.45,24.0 613.49,47.5 613.52,23.8 613.56,45.7 613.60,24.4 613.64,49.4 613.67,24.1 613.71,47.2 613.75,23.5 613.79,45.8 613.84,24.3 613.88,49.9 613.94,24.3 613.98,43.9 614.02,24.1 614.06,43.8 614.07,24.4 614.11,46.3 614.20,24.2 614.24,44.1 614.23,24.4 614.27,44.1 614.33,24.5 614.37,48.3 614.45,23.9 614.49,44.4 614.53,24.4 614.57,45.4 614.58,24.6 614.62,47.9 614.68,24.3 614.72,44.9 614.78,24.3 614.82,49.1 614.88,24.1 614.92,54.2 614.94,23.9 614.98,44.7 615.04,23.6 615.08,45.3 615.11,24.6 615.15,40.8 615.19,24.3 615.23,46.9 615.24,24.8 615.28,43.4 615.38,24.2 615.42,48.5 615.45,24.1 615.49,49.2 615.53,24.4 615.57,46.8 615.60,24.5 615.64,45.3 615.66,24.6 615.70,46.0 615.78,24.7 615.82,42.7 615.82,24.0 615.86,42.4 615.94,23.6 615.98,49.5 616.02,24.6 616.06,47.3 616.06,23.7 616.10,40.5 616.22,24.3 616.26,41.8 616.27,24.7 616.31,49.0 616.33,24.1 616.37,47.8 616.45,24.0 616.49,39.9 616.49,24.1 616.53,48.4 616.56,24.3 616.60,42.0 616.65,23.7 616.69,51.3 616.78,24.3 616.82,46.1 616.82,24.0 616.86,48.5 616.90,24.0 616.94,44.5 617.00,24.5 617.04,41.8 617.12,24.9 617.16,44.1 617.18,24.8 617.22,42.5 617.28,24.4 617.32,42.1 617.33,24.1 617.37,40.6 617.46,24.8 617.50,44.5 617.50,24.5 617.54,51.1 617.58,23.7 617.62,50.1 617.64,24.8 617.68,42.9 617.77,24.1 617.81,43.7 617.84,24.1 617.88,42.4 617.94,24.0 617.98,46.5 617.98,24.7 618.02,47.0 618.06,24.1 618.10,51.1 618.20,24.7 618.24,49.0 618.29,23.8 618.33,46.2 618.31,24.5 618.35,47.8 618.40,24.1 618.44,50.6 618.47,24.5 618.51,41.7 618.60,24.2 618.64,45.9 618.68,24.8 618.72,45.2 618.79,24.2 618.83,45.6 618.83,24.1 618.87,46.0 618.94,24.3 618.98,49.0 619.04,23.7 619.08,43.5 619.11,24.1 619.15,47.6 619.15,24.0 619.19,48.9 619.30,24.1 619.34,42.4 619.30,23.6 619.34,45.7 619.41,24.5 619.45,44.2 619.48,24.3 619.52,51.5 619.60,24.3 619.64,40.9 619.71,24.0 619.75,48.4 619.78,24.2 619.82,49.3 619.87,24.0 619.91,47.2 619.92,24.2 619.96,48.8 619.99,24.4 620.03,48.6 620.07,24.3 620.11,44.6 620.18,24.1 620.22,41.7 620.27,25.0 620.31,46.7 620.30,23.8 620.34,45.9 620.43,24.4 620.47,45.8 620.48,24.4 620.52,45.4 620.61,24.2 620.65,49.6 620.68,24.3 620.72,41.0 620.77,24.7 620.81,50.1 620.83,24.3 620.87,47.8 620.91,23.8 620.95,40.0 621.04,23.9 621.08,46.3 621.11,23.8 621.15,48.9 621.20,24.4 621.24,45.6 621.28,24.3 621.32,39.1 621.35,23.9 621.39,45.7 621.40,23.7 621.44,49.2 621.54,24.2 621.58,45.2 621.55,24.6 621.59,45.0 621.69,24.9 621.73,48.3 621.76,23.8 621.80,45.2 621.87,24.7 621.91,52.4 621.91,24.1 621.95,44.5 622.04,23.9 622.08,45.2 622.05,23.1 622.09,45.6 622.20,24.2 622.24,47.7 622.29,24.3 622.33,41.8 622.32,24.1 622.36,43.8 622.41,24.1 622.45,41.9 622.52,23.8 622.56,47.6 622.58,24.0 622.62,43.6 622.65,24.5 622.69,40.7 622.72,24.9 622.76,41.6 622.86,24.1 622.90,48.5 622.92,24.5 622.96,45.9 622.98,23.7 623.02,47.7 623.13,24.7 623.17,46.7 623.13,24.2 623.17,45.8 623.29,24.5 623.33,40.7 623.30,24.5 623.34,41.4 623.40,23.7 623.44,46.2 623.52,24.2 623.56,43.2 623.57,24.3 623.61,47.6 623.63,24.0 623.67,49.5 623.78,24.5 623.82,51.4 623.84,24.3 623.88,48.4 623.89,24.4 623.93,40.0 623.98,23.5 624.02,45.3 624.07,24.1 624.11,44.3 624.17,24.0 624.21,42.8 624.26,23.8 624.30,51.6 624.33,24.3 624.37,46.6 624.41,24.3 624.45,45.8 624.53,24.8 624.57,42.2 624.58,24.1 624.62,44.7 624.70,24.1 624.74,50.8 624.73,24.4 624.77,50.9 624.81,23.8 624.85,45.0 624.95,24.8 624.99,45.3 624.97,24.1 625.01,50.0 625.12,24.7 625.16,50.0 625.14,24.6 625.18,45.7 625.22,24.3 625.26,49.8 625.33,23.8 625.37,44.9 625.44,24.6 625.48,46.7 625.50,24.6 625.54,46.8 625.61,24.6 625.65,40.2 625.65,23.5 625.69,48.4 625.77,24.0 625.81,49.3 625.84,24.1 625.88,47.5 625.88,23.5 625.92,53.0 626.00,24.1 626.04,43.7 626.11,24.9 626.15,44.1 626.15,24.4 626.19,45.7 626.24,24.6 626.28,46.1 626.34,23.5 626.38,46.2 626.38,24.7 626.42,50.6 626.46,24.1 626.50,46.5 626.59,24.4 626.63,46.2 626.70,24.4 626.74,43.6 626.72,24.2 626.76,45.2 626.84,24.3 626.88,43.1 626.88,24.5 626.92,44.1 627.01,24.6 627.05,51.9 627.08,24.4 627.12,48.3 627.17,24.6 627.21,44.2 627.25,24.5 627.29,47.3 627.32,24.2 627.36,46.1 627.42,24.3 627.46,43.6 627.53,24.1 627.57,48.9 627.56,24.3 627.60,45.5 627.67,23.6 627.71,41.3 627.76,24.5 627.80,45.9 627.80,24.6 627.84,48.1 627.94,23.9 627.98,46.0 627.97,24.5 628.01,47.1 628.08,24.2 628.12,49.6 628.16,23.9 628.20,44.1 628.25,24.3 628.29,45.9 628.29,24.3 628.33,51.5 628.45,23.9 628.49,42.5 628.50,24.1 628.54,48.7 628.61,24.4 628.65,45.8 628.67,24.6 628.71,44.7 628.75,24.4 628.79,46.4 628.83,24.8 628.87,49.7 628.95,24.5 628.99,52.8 628.97,24.6 629.01,47.6 629.11,24.1 629.15,45.3 629.19,24.0 629.23,49.6 629.23,24.4 629.27,47.2 629.30,24.4 629.34,42.2 629.40,24.6 629.44,48.9 629.46,24.7 629.50,36.3 629.56,24.4 629.60,44.9 629.66,24.0 629.70,49.5 629.74,24.1 629.78,44.7 629.84,24.0 629.88,46.7 629.94,24.3 629.98,42.1 630.00,25.2 630.04,49.7 630.05,23.9 630.09,44.0 630.16,23.8 630.20,49.2 630.22,23.9 630.26,45.0 630.31,23.9 630.35,41.5 630.44,23.9 630.48,45.5 630.53,23.3 630.57,42.0 630.57,24.1 630.61,46.8 630.65,23.7 630.69,43.2 630.73,23.9 630.77,47.9 630.85,24.0 630.89,46.7 630.92,24.3 630.96,45.9 630.98,24.3 631.02,50.3 631.10,24.6 631.14,48.7 631.14,24.0 631.18,47.7 631.21,24.3 631.25,40.9 631.32,24.6 631.36,45.5 631.43,24.5 631.47,49.4 631.50,24.6 631.54,49.6 631.58,23.7 631.62,46.3 631.65,24.3 631.69,49.4 631.70,24.2 631.74,45.4 631.83,24.6 631.87,49.2 631.93,24.6 631.97,49.1 632.01,23.9 632.05,43.6 632.08,24.3 632.12,51.5 632.13,24.1 632.17,39.3 632.20,23.6 632.24,48.2 632.29,23.5 632.33,50.4 632.40,24.0 632.44,44.2 632.48,24.1 632.52,42.8 632.59,24.1 632.63,42.1 632.66,24.3 632.70,44.4 632.75,23.5 632.79,48.0 632.86,24.6 632.90,46.5 632.94,24.3 632.98,45.6 632.96,24.9 633.00,43.4 633.05,24.7 633.09,43.1 633.19,24.1 633.23,43.9 633.24,24.1 633.28,43.4 633.30,24.1 633.34,52.5 633.39,24.3 633.43,47.6 633.46,24.5 633.50,42.5 633.54,24.4 633.58,47.3 633.64,24.4 633.68,46.2 633.75,23.8 633.79,48.1 633.82,23.7 633.86,46.3 633.87,24.1 633.91,47.9 634.02,24.4 634.06,52.0 634.07,24.5 634.11,44.8 634.17,24.1 634.21,44.7 634.20,24.3 634.24,48.6 634.34,24.8 634.38,52.1 634.38,23.8 634.42,47.0 634.47,24.2 634.51,49.7 634.60,24.3 634.64,43.1 634.63,24.5 634.67,46.8 634.73,24.5 634.77,50.8 634.83,23.9 634.87,48.2 634.92,24.5 634.96,40.7 634.98,24.2 635.02,46.7 635.10,24.0 635.14,48.6 635.18,23.6 635.22,47.0 635.26,24.0 635.30,49.7 635.28,24.2 635.32,43.7 635.38,24.4 635.42,50.4 635.46,23.9 635.50,44.5 635.61,23.9 635.65,43.1 635.68,24.4 635.72,43.4 635.75,24.0 635.79,46.5 635.80,24.3 635.84,47.4 635.88,24.8 635.92,46.0 635.98,24.6 636.02,45.4 636.04,23.9 636.08,44.4 636.15,23.7 636.19,46.1 636.26,24.0 636.30,45.3 636.34,24.3 636.38,47.4 636.43,24.5 636.47,48.4 636.49,24.0 636.53,42.7 636.54,24.1 636.58,44.8 636.65,24.8 636.69,43.9 636.74,24.0 636.78,41.1 636.81,24.5 636.85,48.1 636.88,24.0 636.92,47.8 636.96,24.0 637.00,47.1 637.09,24.0 637.13,43.4 637.18,23.9 637.22,50.2 637.25,24.0 637.29,48.0 637.31,24.6 637.35,43.6 637.43,24.6 637.47,50.6 637.50,23.9 637.54,43.9 637.58,24.1 637.62,41.3 637.67,24.8 637.71,44.7 637.76,24.9 637.80,48.5 637.83,23.9 637.87,47.3 637.90,23.5 637.94,48.9 637.95,23.9 637.99,46.2 638.09,24.3 638.13,43.2 638.14,24.1 638.18,43.0 638.23,25.2 638.27,52.6 638.35,24.6 638.39,48.2 638.38,23.9 638.42,45.0 638.46,23.9 638.50,47.0 638.58,24.9 638.62,53.2 638.67,23.8 638.71,45.3 638.73,24.0 638.77,44.4 638.81,23.9 638.85,46.0 638.93,24.3 638.97,46.2 638.99,24.2 639.03,43.2 639.07,24.6 639.11,50.2 639.14,24.1 639.18,46.8 639.27,23.9 639.31,44.8 639.31,24.5 639.35,36.3 639.39,24.1 639.43,48.1 639.49,24.4 639.53,43.6 639.57,23.9 639.61,40.8 639.66,23.9 639.70,43.7 639.72,25.0 639.76,43.4 639.79,24.1 639.83,42.2 639.92,23.9 639.96,51.2 640.00,24.4 640.04,44.4 640.04,24.3 640.08,47.3 640.13,24.3 640.17,41.4 640.24,24.6 640.28,44.6 640.32,24.3 640.36,45.1 640.38,23.7 640.42,45.4 640.47,24.1 640.51,49.6 640.56,23.7 640.60,43.2 640.67,23.9 640.71,50.7 640.75,23.8 640.79,46.5 640.77,24.2 640.81,47.0 640.88,24.0 640.92,43.0 640.98,23.5 641.02,45.9 641.04,23.7 641.08,48.4 641.17,24.1 641.21,43.9 641.23,24.5 641.27,40.8 641.31,24.5 641.35,48.9 641.42,24.1 641.46,41.8 641.47,24.1 641.51,47.9 641.56,24.8 641.60,46.6 641.61,24.1 641.65,46.5 641.69,24.1 641.73,49.0 641.79,24.1 641.83,41.1 641.93,24.4 641.97,43.5 641.96,23.4 642.00,44.1 642.09,23.9 642.13,49.9 642.12,24.7 642.16,43.9 642.21,24.5 642.25,48.5 642.28,23.9 642.32,41.8 642.38,24.0 642.42,51.2 642.51,24.2 642.55,43.7 642.53,24.2 642.57,50.5 642.66,24.3 642.70,50.3 642.72,24.4 642.76,45.2 642.79,24.6 642.83,43.3 642.93,24.0 642.97,42.5 642.95,25.2 642.99,47.1 643.02,24.5 643.06,47.5 643.16,23.8 643.20,43.1 643.23,24.5 643.27,49.3 643.28,24.6 643.32,49.2 643.40,23.6 643.44,44.3 643.50,23.9 643.54,44.5 643.52,24.3 643.56,45.6 643.67,24.4 643.71,42.2 643.72,24.3 643.76,50.8 643.78,24.4 643.82,44.5 643.86,24.3 643.90,39.3 644.00,24.5 644.04,47.1 644.02,24.0 644.06,49.6 644.15,24.4 644.19,42.1 644.21,24.9 644.25,44.2 644.33,24.7 644.37,42.2 644.41,24.2 644.45,43.7 644.45,24.6 644.49,47.2 644.57,25.1 644.61,46.5 644.67,23.7 644.71,49.3 644.71,24.1 644.75,38.0 644.79,24.4 644.83,48.6 644.86,24.4 644.90,46.8 644.98,24.1 645.02,47.8 645.06,23.8 645.10,44.5 645.13,24.5 645.17,41.5 645.20,24.1 645.24,47.3 645.27,24.5 645.31,44.5 645.36,24.1 645.40,43.6 645.50,24.6 645.54,39.2 645.57,24.9 645.61,46.5 645.63,24.2 645.67,45.0 645.72,24.3 645.76,40.9 645.79,24.0 645.83,50.1 645.91,24.5 645.95,45.8 645.95,23.8 645.99,45.5 646.07,24.2 646.11,49.1 646.16,23.7 646.20,46.4 646.26,24.4 646.30,45.2 646.32,23.7 646.36,42.4 646.35,24.3 646.39,43.1 646.50,24.2 646.54,47.4 646.54,23.9 646.58,48.6 646.66,24.8 646.70,43.0 646.74,24.6 646.78,50.3 646.78,23.6 646.82,47.4 646.86,24.8 646.90,49.2 647.00,24.4 647.04,50.5 647.05,24.1 647.09,45.1 647.15,23.7 647.19,50.1 647.24,24.4 647.28,47.7 647.26,24.2 647.30,42.1 647.42,24.6 647.46,41.2 647.47,24.4 647.51,49.9 647.57,23.9 647.61,48.6 647.64,24.1 647.68,48.5 647.73,24.3 647.77,49.9 647.83,24.1 647.87,42.0 647.85,24.2 647.89,43.3 647.96,24.2 648.00,44.4 648.09,24.4 648.13,48.8 648.12,24.6 648.16,43.7 648.24,24.0 648.28,45.3 648.29,24.6 648.33,46.0 648.37,23.9 648.41,44.2 648.46,23.5 648.50,41.9 648.52,23.7 648.56,46.1 648.65,23.4 648.69,47.1 648.68,24.6 648.72,48.9 648.81,24.2 648.85,41.7 648.91,24.5 648.95,44.5 648.93,24.5 648.97,53.0 649.05,24.8 649.09,45.5 649.10,24.6 649.14,43.5 649.22,23.9 649.26,50.6 649.26,24.0 649.30,50.3 649.40,23.8 649.44,42.8 649.49,23.8 649.53,46.8 649.54,24.0 649.58,50.3 649.64,24.5 649.68,45.8 649.74,24.3 649.78,44.9 649.81,24.0 649.85,48.8 649.87,23.8 649.91,48.3 649.96,24.4 650.00,45.8 650.07,24.4 650.11,46.1 650.17,24.4 650.21,40.7 650.24,23.7 650.28,42.0 650.28,24.0 650.32,44.4 650.41,24.3 650.45,47.9 650.45,24.5 650.49,47.8 650.51,24.1 650.55,52.6 650.62,24.8 650.66,46.2 650.70,24.3 650.74,47.2 650.81,24.4 650.85,47.9 650.85,24.4 650.89,43.8 650.95,24.2 650.99,42.3 651.08,24.1 651.12,51.4 651.15,23.2 651.19,44.8 651.20,24.2 651.24,44.7 651.30,24.0 651.34,47.8 651.38,24.5 651.42,48.1 651.48,24.8 651.52,40.9 651.53,23.8 651.57,43.8 651.62,23.6 651.66,39.7 651.70,24.6 651.74,48.2 651.78,24.2 651.82,49.1 651.85,23.8 651.89,46.8 651.92,24.2 651.96,43.4 652.04,25.0 652.08,42.1 652.16,23.9 652.20,40.2 652.20,24.3 652.24,47.9" fill="none" stroke="#000" stroke-width="0.3"/>
<path d="M392.60 43.7V56.3M392.65 48.8V57.4M392.71 43.3V51.1M392.82 42.8V47.8M392.94 48.1V60.7M393.04 44.4V51.5M393.10 47.8V62.0M393.14 47.4V65.3M393.26 48.6V51.3M393.29 47.2V49.8M393.40 47.9V54.9M393.53 42.4V61.8M393.56 46.6V48.2M393.67 49.3V64.5M393.73 41.8V42.7M393.82 44.3V61.1M393.87 42.9V44.7M394.03 46.1V56.7M394.05 43.8V43.9M394.13 46.2V51.5M394.21 48.7V50.8M394.31 45.6V49.1M394.43 45.4V46.5M394.52 45.5V51.7M394.57 43.4V44.3M394.69 51.0V55.6M394.76 45.0V48.7M394.84 48.2V61.0M394.87 46.7V47.4M394.99 44.5V53.2M395.05 45.7V53.3M395.17 47.8V48.1M395.24 43.6V58.0M395.36 46.0V55.0M395.38 43.1V53.1M395.48 42.2V43.8M395.57 46.9V52.8M395.65 49.1V53.7M395.75 45.6V55.7M395.83 43.4V47.5M395.93 44.9V56.8M396.00 49.3V67.0M396.07 50.8V58.4M396.17 48.6V59.9M396.27 48.6V64.0M396.33 43.9V48.6M396.44 45.6V53.4M396.47 43.2V48.8M396.55 46.0V53.0M396.64 40.8V52.6M396.70 45.7V51.5M396.81 44.1V49.3M396.93 47.0V62.3M396.95 44.4V52.0M397.08 42.5V43.2M397.12 43.5V44.7M397.23 42.0V44.5M397.29 47.5V61.4M397.39 44.4V50.2M397.50 40.7V47.5M397.60 45.0V46.4M397.67 46.2V50.0M397.72 46.4V50.8M397.86 47.3V48.5M397.92 45.3V59.9M397.96 41.6V46.9M398.05 44.4V44.5M398.14 45.8V50.3M398.22 48.1V48.8M398.35 49.1V65.5M398.43 38.7V43.9M398.52 47.1V47.4M398.61 45.5V55.2M398.65 47.2V47.9M398.73 45.3V47.6M398.79 47.0V52.4M398.91 45.4V45.5M399.01 41.5V46.3M399.07 47.9V53.9M399.12 44.2V49.3M399.21 46.0V51.4M399.33 43.7V49.7M399.41 47.8V61.2M399.50 44.6V57.7M399.57 48.7V56.2M399.63 51.2V56.7M399.71 49.7V54.4M399.83 48.6V67.9M399.89 49.2V59.8M400.00 46.8V47.7M400.04 42.6V55.0M400.12 49.2V55.2M400.20 44.6V48.6M400.30 45.5V48.7M400.42 48.0V63.9M400.45 48.7V57.4M400.54 44.7V51.3M400.64 44.5V57.3M400.77 46.9V47.4M400.81 46.4V53.7M400.91 46.0V47.8M400.98 49.8V57.4M401.05 45.6V49.0M401.16 45.0V51.3M401.24 40.8V41.0M401.29 49.7V51.3M401.37 48.5V55.5M401.52 45.7V46.2M401.55 47.7V48.2M401.66 47.1V51.2M401.71 45.9V63.5M401.84 46.8V59.2M401.93 46.0V46.7M401.97 44.7V48.0M402.09 50.7V54.9M402.14 44.3V56.6M402.25 52.5V58.5M402.33 41.0V43.2M402.38 43.2V47.8M402.44 47.7V54.5M402.60 43.0V45.5M402.61 46.4V55.4M402.73 44.7V52.0M402.79 43.7V50.2M402.90 44.9V47.5M402.97 45.9V47.3M403.05 44.1V57.7M403.16 46.5V51.6M403.20 47.0V48.8M403.31 48.7V50.3M403.44 51.2V52.9M403.46 41.3V45.3M403.55 43.6V52.1M403.63 50.0V54.3M403.77 44.7V47.1M403.78 45.3V48.2M403.86 52.3V58.6M404.02 48.3V60.2M404.04 46.2V46.9M404.17 40.9V55.5M404.26 42.7V48.1M404.33 42.2V50.2M404.43 45.0V50.8M404.50 43.0V45.3M404.56 49.3V53.6M404.68 44.1V47.1M404.74 43.8V44.2M404.80 49.6V60.1M404.90 45.1V53.9M404.94 41.4V44.3M405.05 40.3V43.7M405.14 41.7V42.5M405.23 47.9V48.0M405.31 46.1V53.1M405.42 47.3V48.7M405.45 42.3V60.2M405.52 48.3V61.0M405.64 48.9V56.8M405.74 50.5V52.7M405.84 45.3V52.4M405.91 44.6V47.8M405.99 47.6V54.0M406.05 48.0V49.0M406.12 46.4V54.8M406.23 41.9V49.9M406.32 49.7V50.0M406.37 45.9V53.6M406.45 45.2V45.5M406.53 44.7V49.6M406.68 42.2V43.4M406.70 43.4V49.4M406.81 45.0V48.8M406.92 41.6V45.7M406.95 42.5V43.7M407.10 45.0V50.9M407.16 45.1V55.2M407.20 49.2V52.3M407.29 45.4V45.6M407.38 48.1V51.6M407.49 49.1V53.7M407.59 46.6V54.1M407.66 50.8V56.9M407.72 48.4V67.9M407.81 47.3V50.9M407.88 44.9V58.7M407.97 46.8V53.5M408.08 44.7V60.0M408.17 41.2V51.8M408.24 43.5V46.0M408.31 49.2V53.9M408.36 51.0V56.5M408.44 48.5V65.1M408.56 48.5V53.7M408.61 51.6V56.0M408.71 50.9V62.0M408.82 50.9V55.6M408.89 47.7V59.3M409.00 41.8V46.3M409.09 41.0V43.7M409.17 49.0V52.4M409.22 47.3V56.4M409.31 50.0V60.2M409.42 50.8V61.9M409.50 46.3V55.5M409.53 46.0V56.6M409.63 47.9V60.8M409.71 44.3V46.4M409.81 47.1V48.0M409.90 43.0V54.7M409.99 47.6V50.0M410.06 43.7V45.9M410.11 46.8V48.4M410.19 45.8V49.8M410.28 44.4V52.8M410.38 50.1V59.2M410.45 48.3V60.9M410.54 46.4V49.5M410.64 47.0V55.4M410.71 45.5V51.0M410.79 48.6V67.9M410.85 50.1V54.7M410.96 46.5V57.1M411.03 45.4V52.8M411.16 48.6V56.1M411.18 42.7V55.7M411.33 44.2V46.5M411.35 43.7V53.5M411.48 43.9V61.3M411.57 48.7V57.0M411.60 40.0V41.4M411.74 48.2V53.8M411.78 45.0V55.6M411.89 44.0V48.1M411.97 45.1V56.6M412.01 45.5V56.1M412.12 48.4V55.1M412.24 47.1V59.9M412.28 45.9V51.6M412.41 42.2V42.4M412.49 47.9V52.0M412.57 43.9V55.2M412.65 44.6V52.8M412.69 45.6V53.7M412.80 47.5V50.5M412.92 46.3V57.1M412.93 50.8V58.6M413.03 45.5V46.7M413.15 44.8V59.4M413.24 47.3V63.3M413.28 44.2V52.5M413.36 44.8V57.1M413.47 47.8V65.6M413.56 43.3V43.3M413.64 47.2V50.9M413.69 38.7V52.6M413.83 48.7V56.6M413.92 48.0V57.2M413.99 47.5V50.8M414.06 45.0V49.4M414.11 42.3V47.7M414.22 45.4V50.3M414.27 46.8V52.6M414.35 40.2V42.6M414.47 42.7V51.8M414.58 46.5V54.4M414.65 46.0V47.6M414.72 50.1V61.6M414.78 45.6V49.5M414.90 40.7V46.6M414.98 49.1V52.0M415.08 49.8V59.5M415.13 45.3V52.3M415.25 52.7V66.2M415.26 41.7V58.3M415.35 50.1V58.5M415.47 47.9V53.5M415.56 46.2V67.7M415.61 42.3V44.9M415.71 44.7V48.0M415.81 51.3V64.0M415.91 50.7V63.1M415.93 45.3V61.0M416.02 51.9V52.3M416.16 46.7V46.8M416.21 48.3V55.2M416.28 43.6V52.0M416.37 42.4V46.4M416.49 53.2V56.8M416.51 44.7V62.4M416.62 44.1V46.2M416.72 48.2V49.6M416.76 47.7V55.2M416.85 49.5V67.9M416.99 47.0V48.3M417.04 44.8V45.3M417.16 42.1V42.8M417.18 41.9V43.6M417.28 46.9V53.9M417.37 48.4V50.9M417.49 43.1V44.8M417.57 54.0V55.7M417.60 50.1V53.1M417.71 44.2V45.1M417.79 39.6V45.6M417.85 48.3V58.2M417.93 45.8V48.1M418.05 49.3V49.3M418.14 46.3V63.9M418.24 46.3V53.3M418.31 48.2V58.2M418.41 44.9V52.3M418.42 46.5V47.2M418.51 44.6V48.8M418.64 46.6V58.0M418.72 49.5V56.1M418.78 45.6V53.4M418.86 43.5V52.9M418.96 48.3V56.3M419.02 42.1V57.6M419.12 44.7V56.6M419.23 47.0V55.7M419.29 45.9V50.4M419.38 47.2V49.2M419.44 48.6V64.6M419.52 43.3V54.5M419.66 43.4V55.1M419.72 47.3V52.9M419.76 46.5V47.0M419.86 46.6V55.2M419.92 44.0V53.4M420.01 41.7V47.5M420.08 47.9V63.6M420.22 45.1V63.6M420.26 46.0V61.2M420.35 44.3V44.8M420.42 41.8V52.2M420.52 48.5V65.8M420.59 51.9V59.3M420.73 46.4V51.0M420.77 50.6V56.0M420.84 41.1V43.2M420.95 48.0V59.1M421.05 46.7V54.2M421.10 45.2V47.7M421.24 45.3V58.1M421.30 47.1V53.4M421.36 45.9V53.1M421.42 43.2V54.1M421.51 46.8V46.9M421.59 40.5V41.9M421.69 44.9V47.3M421.81 52.7V54.5M421.88 43.3V43.9M421.92 51.0V56.8M422.01 44.9V45.8M422.11 39.3V45.4M422.22 42.8V54.1M422.30 49.2V49.8M422.37 48.2V55.6M422.43 45.8V53.2M422.56 41.7V46.2M422.59 48.0V50.6M422.70 42.7V58.6M422.75 45.0V59.4M422.84 46.2V49.7M422.94 46.3V49.1M423.07 41.0V47.1M423.14 50.2V62.5M423.17 49.2V62.3M423.32 43.3V48.8M423.34 43.0V48.2M423.47 49.6V64.8M423.50 48.5V54.2M423.65 49.2V55.6M423.66 44.3V48.5M423.80 47.8V67.9M423.88 41.7V47.1M423.95 43.6V50.4M424.06 45.1V58.3M424.13 45.3V49.8M424.23 44.3V49.1M424.26 43.4V51.9M424.36 45.8V46.5M424.48 45.1V49.1M424.53 43.6V43.6M424.65 46.1V51.4M424.72 43.0V55.7M424.75 46.3V49.1M424.87 48.1V58.0M424.97 45.3V46.3M424.99 41.1V44.0M425.13 41.5V52.4M425.22 50.5V56.3M425.29 45.0V47.9M425.38 47.3V51.7M425.42 46.8V56.6M425.51 46.9V47.6M425.63 46.6V60.3M425.73 47.4V62.5M425.80 46.7V62.5M425.87 45.3V55.6M425.94 49.4V50.9M426.05 49.5V52.6M426.12 49.2V53.9M426.16 49.2V50.6M426.31 44.2V51.1M426.33 49.2V50.1M426.47 46.2V46.6M426.56 45.8V64.0M426.59 43.9V46.6M426.71 45.9V48.4M426.75 42.9V45.9M426.86 46.1V53.7M426.91 45.2V51.9M427.00 43.7V55.5M427.15 50.2V67.5M427.16 44.8V59.1M427.25 41.6V42.5M427.40 45.6V54.0M427.42 46.7V51.0M427.56 40.4V46.7M427.58 45.6V59.2M427.69 42.4V49.8M427.81 52.8V57.6M427.82 45.6V59.2M427.96 47.4V47.7M427.99 44.8V45.5M428.12 42.5V56.7M428.18 46.4V51.1M428.29 46.6V56.0M428.35 54.1V57.4M428.47 43.7V59.2M428.56 42.1V50.0M428.57 45.5V47.6M428.65 47.3V52.0M428.75 44.9V50.1M428.85 42.9V59.7M428.90 44.1V47.8M429.03 39.9V42.7M429.09 47.6V58.7M429.16 49.9V63.5M429.28 44.5V45.9M429.34 42.3V50.3M429.47 47.3V48.2M429.50 45.9V53.9M429.57 47.8V52.0M429.68 49.6V57.1M429.77 48.1V54.0M429.86 51.9V67.0M429.92 45.2V49.7M430.00 44.6V47.5M430.14 43.4V48.7M430.16 48.3V49.7M430.27 47.8V58.9M430.37 50.8V62.8M430.41 50.2V51.0M430.55 43.4V43.4M430.63 37.8V38.7M430.67 49.0V59.4M430.78 47.1V59.2M430.86 43.3V64.1M430.93 48.0V59.5M431.04 44.3V46.1M431.13 46.8V51.6M431.16 46.8V61.5M431.26 43.3V44.5M431.35 46.7V47.0M431.40 49.6V54.4M431.50 43.6V48.1M431.59 45.9V50.6M431.72 47.6V60.5M431.74 48.3V58.4M431.82 44.3V44.3M431.95 48.0V53.6M431.99 45.6V49.3M432.12 43.1V49.7M432.17 46.3V50.2M432.29 42.8V47.9M432.38 50.0V52.7M432.45 44.2V45.3M432.53 44.4V50.9M432.64 40.5V42.8M432.66 45.9V65.4M432.78 43.4V44.4M432.86 46.4V66.8M432.89 49.0V52.7M433.01 48.5V53.7M433.11 48.0V49.4M433.22 43.7V53.8M433.26 48.2V50.4M433.35 45.8V47.6M433.46 43.3V49.0M433.48 42.4V43.0M433.56 43.2V49.6M433.67 41.6V49.6M433.73 49.2V58.4M433.81 47.4V50.6M433.95 45.0V53.8M434.03 42.7V56.5M434.08 44.5V50.8M434.20 48.2V55.4M434.30 46.5V59.9M434.34 50.7V55.4M434.46 43.6V49.9M434.50 51.1V57.0M434.58 45.3V53.6M434.66 42.8V47.5M434.74 43.3V48.3M434.82 50.6V58.3M434.96 45.3V52.2M435.03 47.0V66.6M435.10 46.8V53.1M435.19 41.2V52.0M435.25 45.1V48.9M435.38 50.1V66.6M435.40 49.1V56.8M435.47 43.9V48.5M435.59 45.3V45.9M435.66 49.2V60.0M435.77 50.8V54.1M435.81 47.6V50.5M435.93 47.2V47.2M436.03 43.6V54.3M436.10 47.7V60.0M436.18 44.0V45.5M436.26 42.5V46.2M436.31 50.6V55.6M436.41 47.7V55.2M436.52 41.5V50.4M436.63 47.3V55.1M436.70 46.0V51.4M436.76 43.2V50.0M436.88 48.2V54.7M436.94 47.2V51.9M437.00 50.8V57.7M437.13 44.4V47.3M437.17 47.4V54.5M437.26 47.1V67.2M437.34 53.5V55.6M437.40 43.2V47.4M437.52 44.0V55.5M437.59 48.4V51.3M437.66 42.5V45.5M437.75 53.2V53.4M437.87 46.3V48.1M437.95 51.0V66.1M438.03 38.2V41.6M438.08 53.7V56.2M438.19 49.6V54.4M438.28 48.3V50.7M438.32 43.8V47.0M438.44 43.7V45.4M438.54 45.0V46.2M438.56 46.9V60.2M438.64 39.9V49.4M438.72 48.2V52.7M438.88 45.2V50.0M438.96 41.1V45.2M439.03 49.7V51.3M439.07 48.5V56.9M439.14 42.9V48.2M439.23 44.8V50.0M439.35 50.0V55.5M439.39 46.1V62.5M439.50 40.6V45.9M439.60 46.9V55.7M439.68 43.8V47.0M439.74 45.8V54.7M439.84 48.2V59.6M439.95 41.5V53.7M440.00 43.3V53.3M440.05 42.7V58.1M440.13 46.6V60.2M440.28 45.9V56.1M440.35 45.5V46.8M440.40 44.9V57.6M440.53 47.2V54.9M440.63 47.6V49.7M440.69 42.4V49.5M440.74 49.4V50.1M440.84 47.5V53.2M440.93 47.3V54.8M440.97 47.7V48.0M441.10 49.7V61.7M441.19 48.4V60.9M441.25 43.9V46.6M441.36 47.2V60.1M441.45 48.4V48.5M441.52 41.3V45.7M441.61 50.1V54.8M441.65 43.2V51.4M441.74 45.2V48.3M441.80 50.1V52.2M441.94 47.4V66.5M441.97 47.3V56.8M442.10 42.4V62.8M442.21 43.5V51.3M442.26 47.0V54.0M442.34 49.6V52.7M442.38 51.1V62.7M442.53 46.7V52.6M442.58 50.3V55.3M442.67 46.7V54.0M442.77 46.8V67.9M442.87 45.1V46.7M442.91 43.3V43.5M442.99 45.9V51.1M443.10 44.8V57.2M443.14 46.7V48.2M443.27 43.2V49.7M443.33 43.8V45.9M443.41 41.6V44.0M443.48 42.2V45.5M443.60 48.3V53.2M443.70 50.5V61.3M443.73 44.3V53.5M443.80 42.9V49.2M443.89 48.2V61.1M443.96 41.8V50.1M444.07 45.9V51.5M444.20 46.5V67.9M444.21 45.2V67.9M444.33 50.3V53.4M444.44 51.0V53.4M444.51 47.2V51.7M444.59 49.7V60.9M444.68 46.3V46.6M444.71 46.3V48.4M444.85 53.7V64.0M444.95 48.6V64.8M444.97 44.8V50.5M445.04 53.0V58.3M445.16 47.3V55.9M445.26 50.2V67.0M445.29 52.0V66.8M445.43 43.1V49.2M445.47 43.2V45.1M445.57 47.5V49.1M445.68 47.8V48.1M445.73 42.3V48.5M445.82 42.8V44.4M445.91 46.4V47.2M445.97 43.8V48.7M446.09 46.0V47.5M446.15 47.2V67.9M446.21 44.5V58.9M446.32 47.6V52.7M446.38 44.6V49.6M446.53 47.1V48.6M446.58 47.7V55.6M446.64 48.0V48.4M446.74 45.0V67.9M446.83 43.6V46.9M446.91 45.1V57.8M446.96 48.9V49.3M447.05 44.6V50.7M447.13 49.0V67.9M447.28 49.6V56.6M447.29 46.9V59.7M447.38 44.0V50.0M447.49 44.3V46.2M447.61 44.7V57.0M447.63 42.3V44.5M447.75 43.8V45.8M447.80 47.4V49.9M447.90 44.0V51.1M448.00 47.1V53.9M448.06 45.1V48.0M448.16 44.6V49.2M448.28 46.5V50.5M448.30 50.6V55.2M448.37 46.7V55.8M448.51 47.1V63.1M448.55 46.6V50.6M448.64 47.4V54.8M448.73 49.5V51.2M448.84 50.9V51.9M448.90 44.3V45.3M448.98 43.9V51.7M449.04 45.1V47.2M449.14 46.3V54.6M449.24 40.5V41.9M449.36 44.3V44.3M449.42 46.1V52.4M449.50 43.8V50.5M449.61 46.4V47.6M449.63 44.1V55.5M449.72 45.3V51.6M449.83 44.6V48.2M449.93 46.0V48.7M449.95 47.4V47.5M450.07 44.7V45.1M450.16 42.9V53.9M450.24 48.7V51.2M450.32 47.6V49.0M450.39 49.2V58.9M450.53 43.6V46.7M450.57 46.7V50.5M450.67 43.5V52.6M450.75 48.4V57.4M450.79 43.7V46.4M450.91 47.7V54.7M451.01 47.4V50.4M451.03 44.5V59.2M451.15 47.2V56.1M451.25 47.8V52.7M451.29 43.5V51.8M451.40 46.3V55.6M451.51 42.5V52.3M451.60 38.8V45.5M451.67 47.7V50.1M451.72 47.0V53.3M451.81 50.4V54.8M451.93 49.5V53.0M451.98 44.3V45.8M452.07 45.2V45.7M452.13 45.3V59.0M452.21 44.7V50.5M452.32 48.5V58.6M452.41 50.9V53.3M452.47 42.9V47.9M452.60 45.3V53.0M452.63 42.8V44.0M452.70 46.1V52.1M452.84 43.9V47.5M452.93 47.6V50.7M453.01 46.1V50.5M453.09 46.5V52.8M453.15 45.0V56.5M453.27 42.0V43.3M453.34 44.2V51.9M453.39 54.3V60.8M453.46 46.3V48.8M453.56 46.0V56.2M453.64 43.7V48.3M453.76 45.6V53.2M453.80 48.0V57.4M453.90 48.3V51.2M454.00 47.0V48.8M454.07 48.1V50.0M454.16 42.0V42.7M454.26 44.3V47.3M454.31 45.9V51.1M454.38 43.2V49.5M454.46 39.9V55.9M454.55 46.6V55.2M454.67 46.1V54.0M454.76 46.9V50.3M454.81 49.5V52.6M454.88 47.8V57.8M454.94 48.7V63.2M455.10 44.6V53.8M455.15 44.7V50.9M455.24 43.5V49.6M455.30 48.2V54.1M455.39 43.2V45.6M455.45 48.8V65.0M455.53 46.5V50.2M455.62 42.3V42.6M455.69 42.5V54.9M455.81 42.9V55.7M455.90 40.0V45.3M455.98 43.0V46.3M456.07 46.7V52.6M456.11 46.6V53.9M456.24 48.2V55.5M456.34 45.3V56.8M456.42 48.1V55.1M456.51 47.7V50.0M456.53 48.8V52.1M456.61 50.8V54.9M456.76 38.9V39.5M456.79 43.4V48.5M456.90 51.9V52.7M456.97 44.7V65.2M457.06 47.6V55.2M457.12 52.1V54.5M457.19 46.6V51.4M457.27 45.3V48.5M457.39 44.3V46.2M457.50 42.8V47.7M457.59 48.4V57.2M457.60 46.1V49.9M457.72 44.0V67.9M457.78 44.4V55.3M457.90 44.8V45.3M457.99 45.7V51.2M458.02 42.4V49.2M458.17 49.6V51.1M458.25 50.2V52.3M458.30 41.0V45.5M458.35 44.7V50.6M458.49 42.7V45.6M458.53 45.3V47.3M458.61 47.0V54.1M458.76 47.2V56.4M458.82 45.5V51.0M458.92 47.3V50.3M459.01 46.1V52.9M459.07 46.1V51.4M459.11 43.5V45.4M459.22 43.6V55.6M459.32 41.3V53.8M459.36 47.9V57.8M459.46 46.0V65.1M459.52 43.1V58.5M459.63 44.8V45.6M459.75 52.8V56.1M459.78 44.8V46.4M459.91 45.8V47.6M459.99 47.2V55.2M460.08 47.0V48.2M460.13 47.9V56.6M460.20 42.5V47.0M460.29 43.8V56.2M460.37 45.2V63.4M460.44 42.6V50.9M460.54 43.1V47.2M460.66 48.1V56.4M460.75 48.7V63.8M460.84 48.6V59.5M460.92 43.6V45.8M460.96 45.8V53.0M461.07 42.2V51.5M461.16 44.2V52.7M461.24 46.3V50.8M461.30 49.3V52.0M461.42 46.4V47.5M461.47 39.3V47.0M461.56 47.6V55.0M461.60 48.0V55.1M461.69 46.3V48.1M461.83 41.8V43.4M461.88 45.8V47.3M461.94 48.8V53.2M462.05 47.4V48.7M462.11 46.0V49.3M462.19 45.4V46.1M462.30 42.8V53.7M462.41 38.5V47.1M462.44 41.8V45.5M462.55 43.8V44.1M462.67 45.7V46.9M462.76 47.9V67.0M462.81 44.0V52.5M462.92 42.0V53.9M463.00 43.3V57.7M463.02 46.0V57.8M463.14 43.7V54.2M463.25 46.3V59.3M463.27 46.1V46.5M463.36 46.3V47.6M463.44 45.4V49.4M463.51 45.9V48.4M463.64 42.8V52.3M463.70 45.7V59.7M463.80 46.0V51.5M463.88 42.7V44.9M464.00 43.7V44.9M464.03 42.5V48.7M464.16 47.9V59.7M464.21 42.0V45.7M464.34 45.7V46.8M464.34 48.7V52.0M464.43 46.2V56.8M464.51 49.2V55.9M464.60 48.6V55.6M464.71 46.9V60.6M464.79 43.1V48.8M464.91 49.6V59.0M464.96 45.0V57.6M465.03 46.5V55.6M465.15 41.4V53.0M465.23 45.2V55.0M465.26 44.1V45.5M465.35 41.8V46.5M465.50 48.9V65.0M465.53 46.8V55.2M465.67 50.0V51.6M465.70 48.2V57.8M465.79 44.9V57.7M465.84 46.3V53.4M465.96 44.7V50.2M466.04 47.0V58.3M466.09 47.8V57.4M466.19 46.2V56.6M466.30 48.3V59.9M466.41 49.0V49.0M466.43 50.4V51.7M466.54 46.3V50.3M466.61 44.7V57.9M466.70 49.4V55.1M466.76 47.3V47.8M466.84 52.5V60.4M466.97 49.4V55.9M467.02 45.9V48.5M467.16 49.7V60.9M467.20 44.8V47.5M467.33 47.2V62.7M467.35 45.1V54.8M467.49 47.6V58.6M467.58 50.1V53.1M467.60 46.2V48.6M467.69 44.1V49.1M467.78 47.6V58.9M467.87 45.0V47.4M467.94 48.1V57.0M468.00 47.1V53.4M468.13 42.6V45.7M468.17 46.2V57.1M468.32 48.8V51.3M468.35 44.6V53.8M468.45 46.0V47.1M468.55 47.6V49.0M468.61 44.2V57.1M468.74 54.3V58.8M468.83 44.5V48.5M468.86 40.8V41.1M468.95 45.3V50.8M469.03 51.4V52.8M469.13 42.3V54.5M469.25 39.0V43.3M469.33 44.5V52.8M469.35 49.1V51.6M469.47 48.0V55.3M469.56 46.4V53.2M469.65 45.5V54.4M469.71 42.8V50.4M469.77 44.5V59.3M469.90 52.4V61.1M469.97 46.9V47.8M470.04 46.5V52.2M470.15 40.8V51.5M470.18 47.7V49.0M470.28 50.0V59.5M470.34 46.9V50.2M470.44 45.3V48.0M470.51 51.2V67.9M470.61 43.0V48.3M470.73 46.4V52.6M470.81 43.7V56.5M470.86 44.1V51.7M470.93 44.6V46.5M471.01 42.1V50.8M471.15 41.4V42.1M471.20 47.2V51.7M471.30 46.2V51.2M471.40 43.1V55.5M471.43 45.6V57.6M471.54 47.7V55.2M471.64 45.8V50.8M471.69 48.4V53.4M471.79 47.4V53.1M471.88 54.8V63.7M471.94 45.6V55.2M472.04 40.8V58.6M472.14 44.0V60.2M472.20 44.1V45.2M472.26 45.5V60.5M472.39 48.1V52.7M472.45 44.6V57.4M472.56 45.8V56.6M472.65 46.4V62.2M472.67 45.3V48.2M472.81 47.6V55.9M472.90 45.6V54.0M472.92 44.1V67.9M473.04 43.2V51.5M473.11 45.6V53.8M473.18 43.7V43.7M473.30 45.5V46.3M473.39 52.4V60.3M473.48 51.4V56.6M473.49 46.5V61.6M473.59 49.1V55.8M473.67 44.4V48.9M473.79 49.7V50.2M473.85 47.1V52.1M473.98 47.5V58.5M474.04 48.1V58.1M474.15 47.6V52.6M474.19 46.0V53.5M474.27 45.7V50.6M474.37 47.5V62.8M474.47 45.5V48.1M474.56 44.5V55.6M474.61 46.5V48.0M474.73 47.9V49.3M474.77 47.9V51.9M474.86 47.3V52.3M474.93 47.5V51.5M474.99 45.7V53.2M475.13 38.4V52.9M475.18 42.8V46.3M475.25 45.8V50.5M475.39 44.3V54.2M475.43 44.3V50.7M475.56 42.4V44.0M475.59 41.9V44.1M475.71 48.6V56.4M475.77 39.6V53.3M475.89 48.3V56.4M475.98 45.6V66.1M476.02 48.2V52.7M476.08 50.7V52.8M476.19 50.9V55.6M476.32 40.3V42.6M476.32 41.7V47.3M476.45 48.6V53.4M476.50 49.0V58.3M476.58 41.6V49.9M476.71 48.6V51.8M476.75 44.6V52.7M476.83 40.1V51.5M476.97 43.7V67.9M477.06 41.6V48.2M477.12 45.2V58.9M477.18 50.6V51.5M477.30 48.2V55.9M477.33 50.9V56.0M477.44 44.9V51.8M477.51 49.6V58.7M477.63 45.5V49.2M477.70 47.3V52.6M477.77 47.8V49.5M477.90 44.4V49.2M477.93 47.2V48.9M478.00 48.2V50.5M478.11 43.1V54.7M478.16 46.0V50.1M478.31 50.1V56.0M478.37 42.5V55.1M478.42 49.9V57.3M478.49 45.3V54.0M478.64 44.4V47.6M478.68 46.7V49.0M478.75 48.3V51.7M478.89 46.9V49.6M478.95 46.9V59.0M478.99 49.1V59.3M479.09 43.5V44.2M479.21 47.7V48.5M479.29 48.0V48.1M479.37 42.0V46.3M479.48 48.0V52.2M479.51 50.3V62.4M479.62 46.1V51.4M479.70 45.9V49.7M479.79 45.9V49.3M479.84 40.0V47.0M479.96 47.5V62.3M480.05 42.1V44.4M480.11 43.4V49.6M480.20 41.8V45.9M480.29 46.2V67.5M480.40 46.8V59.7M480.45 46.5V63.6M480.52 45.0V50.7M480.61 43.2V58.9M480.68 41.2V46.6M480.81 50.9V51.6M480.88 42.8V51.8M480.91 44.8V53.8M481.04 45.7V46.5M481.14 48.8V49.1M481.19 44.9V51.9M481.25 51.0V60.9M481.33 42.3V45.4M481.44 48.5V63.4M481.49 46.2V48.0M481.58 46.3V49.9M481.71 44.2V47.1M481.74 49.7V58.4M481.82 43.5V48.8M481.96 44.7V50.2M482.06 41.4V57.3M482.07 45.0V61.8M482.16 46.2V50.6M482.23 51.3V66.3M482.35 46.9V51.4M482.40 41.1V49.5M482.55 47.2V57.9M482.58 47.3V67.9M482.69 46.3V60.3M482.74 43.4V50.7M482.85 50.9V65.6M482.95 40.7V41.8M483.02 44.2V45.4M483.11 43.8V45.9M483.16 45.9V55.9M483.24 40.2V42.7M483.36 47.1V52.2M483.45 43.5V56.0M483.54 45.6V47.8M483.63 49.5V62.9M483.71 46.2V51.1M483.76 43.8V46.6M483.86 46.7V53.5M483.89 47.0V50.1M484.03 45.9V60.6M484.12 48.3V58.2M484.21 49.0V49.2M484.27 45.7V49.8M484.35 48.5V58.0M484.44 44.2V55.1M484.52 43.8V45.8M484.61 42.2V61.7M484.71 43.1V43.2M484.75 46.6V55.3M484.87 44.7V60.5M484.91 49.1V52.1M484.98 44.6V51.7M485.11 47.3V54.5M485.19 42.0V48.5M485.23 47.8V56.7M485.38 45.4V57.0M485.41 48.0V53.3M485.49 44.1V46.8M485.59 44.0V50.8M485.67 48.7V56.1M485.75 40.3V52.3M485.87 44.4V57.0M485.90 49.9V54.9M486.05 48.4V51.3M486.12 51.1V67.1M486.16 51.6V59.4M486.24 46.3V59.7M486.34 51.8V61.5M486.44 44.8V48.3M486.49 50.5V67.9M486.60 47.0V56.5M486.67 41.0V48.6M486.78 46.9V64.0M486.86 46.0V46.1M486.89 42.3V44.7M486.98 46.8V53.4M487.06 44.4V57.2M487.18 48.2V48.4M487.24 47.0V52.9M487.34 45.5V52.1M487.41 45.9V58.6M487.49 48.1V51.1M487.62 45.3V50.8M487.66 44.2V48.4M487.75 44.1V45.2M487.87 45.8V61.3M487.93 48.6V54.3M488.01 43.9V57.6M488.10 43.5V45.5M488.15 48.7V53.4M488.29 52.5V56.2M488.37 46.5V61.2M488.45 43.0V47.0M488.52 43.4V44.3M488.60 49.3V57.7M488.67 42.1V53.1M488.79 48.5V53.5M488.84 43.3V49.7M488.93 47.2V50.3M488.98 43.2V49.9M489.12 44.5V48.4M489.14 46.6V56.8M489.28 43.9V46.9M489.34 47.9V48.3M489.40 47.1V48.3M489.55 46.9V49.2M489.55 48.4V50.1M489.65 43.3V50.7M489.75 43.3V51.3M489.86 46.0V52.9M489.88 48.8V49.2M490.03 44.7V49.8M490.09 45.2V51.2M490.16 44.2V47.1M490.25 46.0V47.5M490.31 46.7V52.4M490.40 42.0V53.1M490.53 47.8V57.5M490.57 46.6V52.2M490.65 51.1V57.9M490.75 47.1V48.4M490.80 47.4V52.0M490.92 47.0V48.6M490.97 44.4V47.5M491.12 47.8V56.4M491.15 44.9V45.6M491.22 47.1V57.7M491.34 47.3V48.3M491.41 51.4V61.7M491.54 44.9V49.2M491.60 44.3V50.9M491.64 48.9V61.7M491.76 47.8V51.4M491.83 51.3V53.0M491.94 47.2V54.8M492.00 49.3V50.3M492.07 45.1V52.0M492.16 46.5V46.7M492.29 44.5V53.4M492.34 48.6V49.6M492.46 51.1V58.4M492.49 46.5V47.0M492.62 47.9V48.7M492.66 41.0V54.9M492.73 45.6V53.2M492.86 42.2V56.1M492.93 44.8V54.4M492.99 47.2V53.5M493.10 50.6V65.9M493.17 46.9V55.8M493.24 44.5V51.9M493.35 46.0V50.6M493.45 45.3V62.8M493.50 45.4V48.5M493.57 50.0V54.2M493.64 45.4V48.4M493.77 48.5V54.5M493.84 46.4V62.2M493.90 42.4V57.0M493.99 51.9V57.1M494.10 47.0V55.2M494.20 45.3V48.9M494.25 43.2V51.6M494.30 46.0V51.8M494.39 48.6V55.6M494.49 44.0V49.2M494.62 44.6V45.2M494.66 51.3V55.5M494.72 46.0V57.6M494.86 51.1V65.7M494.89 53.7V67.9M495.01 49.1V49.3M495.04 48.9V52.8M495.15 52.3V67.9M495.25 40.8V41.2M495.32 49.9V50.1M495.39 45.1V50.6M495.50 44.1V45.5M495.60 39.9V44.1M495.63 47.1V55.8M495.73 41.5V45.2M495.85 49.3V60.7M495.89 46.2V57.3M496.02 47.2V51.4M496.12 48.9V51.1M496.20 45.1V50.4M496.27 40.5V41.1M496.32 39.9V44.5M496.38 44.1V50.1M496.49 49.3V49.3M496.61 48.3V55.4M496.67 44.3V47.4M496.76 44.3V50.0M496.79 44.4V49.8M496.93 46.8V56.6M496.98 48.6V51.9M497.11 44.7V54.8M497.19 46.1V61.7M497.21 41.9V49.6M497.30 48.0V49.3M497.41 43.5V47.8M497.52 42.1V43.1M497.61 40.3V56.5M497.69 40.3V42.1M497.76 48.9V58.2M497.80 49.4V51.1M497.92 45.5V52.6M497.97 48.5V51.4M498.11 52.8V54.9M498.13 41.7V52.0M498.25 44.5V52.7M498.35 43.0V55.5M498.38 45.4V49.6M498.52 42.6V45.4M498.55 45.2V46.9M498.64 45.5V46.4M498.75 40.4V56.0M498.80 49.3V53.4M498.87 44.4V48.6M499.02 50.5V60.3M499.05 41.6V43.9M499.15 46.6V51.3M499.24 49.4V50.9M499.36 51.2V59.1M499.38 46.6V52.2M499.50 40.2V40.3M499.59 44.5V53.8M499.65 50.5V56.5M499.76 51.9V60.8M499.82 37.8V44.5M499.94 47.6V52.5M499.98 50.2V58.5M500.10 45.6V67.9M500.19 44.3V51.3M500.24 41.4V47.5M500.29 46.6V48.4M500.40 48.1V66.9M500.51 44.0V48.2M500.57 48.3V49.8M500.63 44.9V50.0M500.78 45.5V47.9M500.81 43.1V50.5M500.87 48.0V51.0M501.02 48.0V48.3M501.04 45.2V55.5M501.13 44.6V52.5M501.21 50.3V51.9M501.35 48.4V65.8M501.38 45.5V51.7M501.46 47.1V48.0M501.58 39.4V40.0M501.68 43.9V63.0M501.78 42.4V58.6M501.80 46.2V47.3M501.90 45.8V48.5M501.97 45.7V48.7M502.04 42.9V44.7M502.17 47.0V53.1M502.21 41.4V43.4M502.34 48.2V50.1M502.40 43.1V61.5M502.48 45.2V47.8M502.60 47.1V51.4M502.68 41.4V49.6M502.77 43.1V47.2M502.79 46.5V47.6M502.87 48.2V48.4M502.97 43.6V44.8M503.10 48.3V55.2M503.15 44.4V45.5M503.26 48.6V62.8M503.29 45.7V58.5M503.42 48.5V55.3M503.47 46.6V54.2M503.58 41.2V41.5M503.65 40.9V41.7M503.77 47.4V49.1M503.79 46.8V54.5M503.89 50.9V58.0M503.95 45.1V52.1M504.04 42.7V53.5M504.14 48.5V62.8M504.23 48.7V52.6M504.31 45.0V49.1M504.40 47.7V47.7M504.46 45.4V47.5M504.59 41.5V57.7M504.67 44.6V56.3M504.71 44.0V47.5M504.78 40.5V49.6M504.91 45.3V45.4M504.97 44.0V46.1M505.03 45.8V56.7M505.14 48.2V60.5M505.21 41.3V50.5M505.28 50.0V63.7M505.40 45.7V64.0M505.47 49.3V58.3M505.57 48.4V57.0M505.69 49.7V56.9M505.73 46.7V51.0M505.82 44.6V56.0M505.89 42.2V43.1M506.01 51.4V51.7M506.05 45.3V51.7M506.13 47.1V47.5M506.22 47.8V50.1M506.28 46.3V57.0M506.37 45.4V49.6M506.50 46.3V53.8M506.59 46.0V55.6M506.67 39.6V41.8M506.72 45.6V49.1M506.81 45.0V54.6M506.93 49.3V51.0M507.01 42.8V44.0M507.09 47.5V50.2M507.12 46.2V56.8M507.21 48.2V49.8M507.31 46.2V60.2M507.41 48.6V53.3M507.47 49.7V51.4M507.57 50.0V67.9M507.64 47.1V55.6M507.74 45.9V57.3M507.84 43.9V51.0M507.88 41.1V50.6M507.96 40.6V45.4M508.07 47.8V50.3M508.16 48.0V54.8M508.23 43.7V59.9M508.33 48.5V52.0M508.41 42.7V48.2M508.50 42.9V50.3M508.52 48.7V50.3M508.67 43.7V50.5M508.77 41.7V48.4M508.81 44.6V48.3M508.88 46.7V62.6M508.99 46.3V46.6M509.07 44.5V48.5M509.17 48.0V56.1M509.27 44.9V55.0M509.31 46.5V48.3M509.36 48.0V51.0M509.49 48.6V57.6M509.57 44.2V44.7M509.64 48.4V53.9M509.75 45.2V52.8M509.79 51.2V61.9M509.90 46.4V50.7M509.98 45.5V63.5M510.06 44.8V48.0M510.15 43.1V52.3M510.23 44.3V46.0M510.29 44.2V55.8M510.42 46.6V52.7M510.48 48.8V55.4M510.55 49.2V50.2M510.62 48.0V49.2M510.70 45.1V51.7M510.78 42.9V54.0M510.91 44.8V55.6M510.99 45.2V48.3M511.10 43.6V62.3M511.14 46.8V55.1M511.23 45.3V63.3M511.27 46.1V46.8M511.39 45.2V57.0M511.49 46.4V46.9M511.54 49.5V66.1M511.68 46.9V54.0M511.75 48.1V49.1M511.78 40.8V47.0M511.88 41.7V42.5M511.93 47.6V58.9M512.03 48.3V57.6M512.11 45.8V56.7M512.22 50.1V63.4M512.30 42.3V46.3M512.35 46.0V47.6M512.48 47.2V52.4M512.57 42.8V47.2M512.61 42.2V42.8M512.69 45.4V46.8M512.84 43.0V51.1M512.91 50.7V66.0M512.94 48.1V61.2M513.02 48.3V49.3M513.17 50.5V51.9M513.21 43.4V47.4M513.34 39.0V48.6M513.41 49.7V56.1M513.49 47.5V49.1M513.54 42.9V52.0M513.66 46.8V50.9M513.72 45.9V53.7M513.77 48.2V54.7M513.90 45.0V47.2M513.94 48.7V65.0M514.08 43.8V48.3M514.15 44.4V50.0M514.22 44.9V45.7M514.34 48.1V50.7M514.39 46.6V52.1M514.44 44.6V46.5M514.56 48.5V49.6M514.64 48.8V50.3M514.75 52.5V67.9M514.80 47.5V59.9M514.92 46.4V50.3M515.00 43.2V51.8M515.04 49.4V56.1M515.14 50.1V56.6M515.25 42.5V48.9M515.33 42.8V64.2M515.35 49.2V67.3M515.50 47.4V57.7M515.56 51.2V57.0M515.64 46.2V51.5M515.68 42.3V42.4M515.82 43.7V48.0M515.90 49.0V53.6M515.94 45.2V55.7M516.08 48.0V64.9M516.14 45.1V62.9M516.21 47.5V51.4M516.28 44.2V51.9M516.38 42.3V49.7M516.47 45.0V52.7M516.58 44.9V49.3M516.63 44.8V45.2M516.74 43.4V44.2M516.78 47.1V51.4M516.88 46.4V52.6M516.96 46.4V46.7M517.07 42.2V49.1M517.10 45.5V56.4M517.20 44.3V56.1M517.31 47.0V51.5M517.39 49.8V60.2M517.43 46.8V51.3M517.56 44.6V51.2M517.63 46.8V56.1M517.72 47.6V59.8M517.79 47.0V48.0M517.84 44.4V57.2M517.95 44.7V54.4M518.04 45.9V46.5M518.11 48.6V55.7M518.19 47.9V57.6M518.33 36.3V38.6M518.36 46.4V56.0M518.48 44.2V49.2M518.53 45.0V48.0M518.62 49.9V53.5M518.72 42.1V45.5M518.82 45.7V54.1M518.89 48.5V58.6M518.96 43.8V55.2M519.03 47.5V53.0M519.09 45.0V50.0M519.21 49.7V52.6M519.33 46.4V60.0M519.38 44.0V44.6M519.47 47.3V56.9M519.56 50.0V54.6M519.62 48.3V52.7M519.74 44.0V57.3M519.83 50.5V54.0M519.90 49.9V52.7M519.95 43.8V45.5M520.01 45.6V50.6M520.14 46.1V50.2M520.24 47.2V50.4M520.32 44.8V53.2M520.36 43.6V45.0M520.44 44.7V46.7M520.53 51.0V66.8M520.61 44.2V48.6M520.74 50.7V51.6M520.81 41.1V51.0M520.85 47.2V56.6M520.92 44.2V46.9M521.07 45.0V47.7M521.11 47.8V49.5M521.20 42.5V43.6M521.28 45.3V46.9M521.37 39.9V40.8M521.46 44.0V48.7M521.56 45.0V49.1M521.60 38.7V42.4M521.67 41.9V57.2M521.77 45.8V50.6M521.87 48.1V57.9M521.99 40.3V43.7M522.05 42.3V47.8M522.11 42.3V44.6M522.20 46.7V53.2M522.32 47.6V60.0M522.34 48.4V59.7M522.45 42.5V42.8M522.56 46.3V48.5M522.59 43.9V45.4M522.73 52.0V56.9M522.77 42.9V62.3M522.88 47.9V54.6M522.92 53.6V65.7M523.04 49.5V52.4M523.14 44.7V56.4M523.22 41.5V58.4M523.32 53.8V67.9M523.39 49.8V63.2M523.48 45.5V50.9M523.54 50.4V62.8M523.64 47.2V61.0M523.74 48.9V51.6M523.79 45.7V54.2M523.88 50.3V61.4M523.98 47.0V57.7M524.05 48.5V49.4M524.09 45.6V54.4M524.17 46.2V48.8M524.26 43.1V63.6M524.35 45.4V49.9M524.46 40.9V44.2M524.52 50.6V54.4M524.61 46.8V49.5M524.71 43.8V54.3M524.82 45.7V59.1M524.89 53.6V59.8M524.93 45.1V59.0M525.03 47.4V49.6M525.10 38.9V46.4M525.24 46.3V54.8M525.27 44.0V54.6M525.36 48.7V49.3M525.46 44.0V58.7M525.56 54.0V54.2M525.61 48.9V61.3M525.71 47.1V56.5M525.80 50.6V57.4M525.87 43.1V49.6M525.95 45.9V55.1M526.06 41.2V61.4M526.13 50.1V54.8M526.21 48.4V59.6M526.27 44.1V49.8M526.33 47.4V53.3M526.46 43.5V46.6M526.49 44.1V61.5M526.61 48.1V54.1M526.68 45.6V47.3M526.77 44.4V49.1M526.86 45.2V46.0M526.98 46.5V48.8M527.03 47.3V59.6M527.13 46.6V50.0M527.22 43.1V43.7M527.29 39.9V54.2M527.36 50.0V62.6M527.44 48.9V50.6M527.52 46.4V59.9M527.59 41.7V51.5M527.66 48.4V52.1M527.78 39.1V40.9M527.89 39.3V45.9M527.96 52.8V62.8M528.00 43.9V44.9M528.11 44.1V46.6M528.20 47.1V55.2M528.26 51.3V67.9M528.36 45.1V48.6M528.48 47.0V53.1M528.56 42.4V48.7M528.64 44.2V46.7M528.66 48.6V54.5M528.82 40.1V45.2M528.88 40.5V53.8M528.91 41.4V47.1M529.07 45.6V45.7M529.09 43.1V46.9M529.16 45.5V49.3M529.31 47.4V49.5M529.32 51.2V63.3M529.44 44.9V57.0M529.50 51.5V52.4M529.64 43.7V51.5M529.68 49.7V54.4M529.81 45.1V60.4M529.82 46.6V59.6M529.94 49.1V55.4M530.06 48.8V53.8M530.11 47.4V49.6M530.19 41.4V48.2M530.25 44.6V47.6M530.32 46.6V55.0M530.42 43.4V43.4M530.54 49.2V55.4M530.62 50.2V66.5M530.66 48.4V49.2M530.78 42.8V47.0M530.85 46.7V55.2M530.97 45.5V57.3M531.06 45.5V50.8M531.07 47.1V52.0M531.17 42.2V50.0M531.29 43.8V50.2M531.38 48.4V51.7M531.45 48.9V57.7M531.50 46.0V52.4M531.62 48.6V50.6M531.73 45.9V50.6M531.74 43.8V52.2M531.86 45.8V50.4M531.93 45.4V46.0M532.01 47.4V48.5M532.13 48.3V54.7M532.16 49.0V54.9M532.26 42.1V46.6M532.39 48.2V55.5M532.44 45.7V58.8M532.49 45.6V48.5M532.57 44.6V50.5M532.68 46.9V53.6M532.76 50.7V52.7M532.83 39.8V40.8M532.95 49.1V49.3M533.03 44.2V51.4M533.12 49.1V56.4M533.19 44.0V51.3M533.31 49.1V52.0M533.39 41.0V48.3M533.41 44.6V46.0M533.50 50.6V55.0M533.59 41.0V43.8M533.66 51.5V63.3M533.80 47.0V51.3M533.84 42.7V51.8M533.97 47.1V49.0M534.04 42.2V43.6M534.07 45.8V47.1M534.17 47.7V48.7M534.26 42.3V48.2M534.32 45.8V61.9M534.45 47.4V48.3M534.53 43.2V45.8M534.63 46.7V57.0M534.67 50.1V56.0M534.77 48.1V54.4M534.86 38.7V46.0M534.93 39.2V41.7M535.01 50.6V52.9M535.10 43.6V49.9M535.22 42.3V46.8M535.23 46.8V48.2M535.34 44.0V48.0M535.44 49.0V61.4M535.49 47.0V50.2M535.62 42.9V58.4M535.65 46.2V47.9M535.80 46.5V48.1M535.82 46.8V55.8M535.90 50.0V56.5M536.03 49.1V64.2M536.07 47.6V49.0M536.20 46.4V54.4M536.23 48.6V48.7M536.34 40.4V47.5M536.46 51.3V55.9M536.50 49.3V59.0M536.56 48.0V58.3M536.69 44.5V50.3M536.76 50.4V59.4M536.81 45.3V48.7M536.95 48.6V58.2M537.01 48.4V52.7M537.06 44.8V59.5M537.15 43.6V48.4M537.29 43.0V43.7M537.34 49.6V64.4M537.42 43.0V50.5M537.55 42.9V46.7M537.59 45.1V56.7M537.71 44.7V48.0M537.75 45.9V54.8M537.86 46.5V54.5M537.95 43.4V46.9M538.03 41.0V41.5M538.06 46.7V50.6M538.22 44.9V52.8M538.25 43.2V44.6M538.36 50.1V51.5M538.42 41.1V42.2M538.48 44.8V47.3M538.61 41.6V56.7M538.66 46.8V49.2M538.75 48.5V51.8M538.81 46.3V47.3M538.93 45.0V51.0M538.99 48.7V57.1M539.10 43.2V49.3M539.17 45.1V45.5M539.26 49.1V67.9M539.32 44.5V51.1M539.40 46.3V57.2M539.49 45.8V48.6M539.63 47.0V52.1M539.71 48.0V56.9M539.75 49.5V55.4M539.87 45.5V58.0M539.92 45.7V62.9M539.99 44.4V58.5M540.07 47.9V59.4M540.19 44.5V46.7M540.26 43.3V48.7M540.30 49.3V50.2M540.45 45.2V58.6M540.50 39.2V46.1M540.58 47.3V65.2M540.67 46.8V52.0M540.77 46.0V47.7M540.83 47.4V48.9M540.94 43.3V60.5M541.02 46.1V51.6M541.10 46.2V55.3M541.14 48.2V48.5M541.27 44.3V49.2M541.32 46.2V57.8M541.43 47.1V55.4M541.55 46.9V67.8M541.63 41.2V48.1M541.69 45.9V54.3M541.72 45.1V45.6M541.83 41.9V51.2M541.93 46.2V58.7M541.99 43.1V46.0M542.05 48.9V49.9M542.17 44.0V50.1M542.23 52.2V54.3M542.30 45.5V49.4M542.40 47.2V67.9M542.47 48.1V49.0M542.61 42.7V49.0M542.66 43.7V52.4M542.76 43.4V47.8M542.84 41.5V48.5M542.95 44.4V45.7M543.04 44.2V52.7M543.06 46.1V47.3M543.15 40.4V42.1M543.24 43.3V47.2M543.34 48.2V48.9M543.43 48.5V50.9M543.53 48.1V50.8M543.59 48.1V56.8M543.68 42.1V51.0M543.74 45.1V55.2M543.85 42.8V47.4M543.93 48.2V64.1M544.02 48.2V59.7M544.10 42.4V42.8M544.13 51.9V54.3M544.26 49.5V60.6M544.30 52.2V67.3M544.42 48.0V55.3M544.53 38.4V48.5M544.59 48.3V56.0M544.69 42.9V45.5M544.75 41.1V44.3M544.83 47.9V52.9M544.90 48.1V67.9M544.96 45.0V51.0M545.09 44.0V62.0M545.17 50.6V54.0M545.22 48.4V54.0M545.37 41.1V50.0M545.40 48.4V54.3M545.53 44.9V54.9M545.56 42.9V51.4M545.64 47.0V50.2M545.74 46.5V54.0M545.80 47.6V55.3M545.93 47.9V49.5M546.03 47.8V56.7M546.12 50.8V56.4M546.17 47.5V48.6M546.27 46.6V58.4M546.35 43.9V45.7M546.41 47.2V52.6M546.53 47.9V48.4M546.57 40.4V51.8M546.63 46.0V52.0M546.75 46.7V51.1M546.81 47.5V55.9M546.89 46.0V48.7M547.03 48.5V49.5M547.06 47.5V62.1M547.16 48.5V48.6M547.24 49.6V55.0M547.32 47.3V65.9M547.43 50.0V63.1M547.51 40.9V48.5M547.58 49.4V67.9M547.62 40.8V49.2M547.76 45.0V55.3M547.79 43.4V53.7M547.94 41.7V49.7M548.01 50.8V66.2M548.07 41.2V46.7M548.20 44.5V52.7M548.25 47.4V49.9M548.36 48.2V57.6M548.42 44.9V60.5M548.53 50.6V65.3M548.59 40.7V49.9M548.65 46.4V67.9M548.71 43.6V50.1M548.86 45.5V63.0M548.93 47.1V63.6M549.00 47.0V47.9M549.05 48.4V54.9M549.20 42.1V50.2M549.28 45.8V49.8M549.29 44.3V58.0M549.39 44.4V48.7M549.46 43.8V65.3M549.61 44.5V58.1M549.63 42.1V56.4M549.74 47.6V51.7M549.79 48.7V58.4M549.95 46.1V47.2M550.03 46.7V52.7M550.09 45.6V57.1M550.16 42.3V43.8M550.24 42.9V46.9M550.29 44.1V48.6M550.44 48.0V48.1M550.47 44.2V47.4M550.60 45.2V53.1M550.63 43.5V46.0M550.75 45.7V62.7M550.82 46.9V50.9M550.88 45.3V50.9M550.99 47.8V58.1M551.12 48.3V51.0M551.20 45.0V60.4M551.27 45.7V47.1M551.31 42.8V45.8M551.40 45.3V49.2M551.48 49.1V56.6M551.57 41.7V48.4M551.64 41.0V45.3M551.74 48.9V60.8M551.79 47.5V50.4M551.91 42.9V47.7M552.00 45.2V47.0M552.10 50.0V53.6M552.19 42.5V46.9M552.22 45.5V48.0M552.36 44.8V46.8M552.45 42.4V42.8M552.52 47.7V67.0M552.60 47.9V51.0M552.67 43.9V52.2M552.78 43.1V44.8M552.82 45.5V48.8M552.88 42.4V44.4M552.97 44.6V54.2M553.08 42.6V47.1M553.13 48.2V56.9M553.26 46.4V58.9M553.34 42.7V48.1M553.39 48.3V61.4M553.50 48.1V52.9M553.55 45.4V58.0M553.68 46.6V48.9M553.72 48.6V52.7M553.84 50.6V51.3M553.92 41.9V46.5M554.00 45.7V49.9M554.05 41.8V45.5M554.19 48.4V50.8M554.21 45.7V45.9M554.33 46.3V48.7M554.42 45.6V57.4M554.46 50.4V58.0M554.61 42.4V48.2M554.67 46.7V53.1M554.71 45.3V52.6M554.83 48.7V57.7M554.91 41.5V42.7M554.99 50.3V56.3M555.10 40.5V41.2M555.16 47.1V50.0M555.25 46.9V60.3M555.32 47.9V51.4M555.38 41.9V51.2M555.46 48.4V50.8M555.60 48.5V50.2M555.68 48.7V56.0M555.75 44.6V50.4M555.82 44.4V45.5M555.90 48.0V49.4M555.96 44.5V48.7M556.07 41.5V43.1M556.14 44.0V48.1M556.25 44.9V50.3M556.29 48.9V53.3M556.44 41.5V51.8M556.48 44.0V48.2M556.59 50.1V53.3M556.63 48.1V60.2M556.77 53.9V62.2M556.79 44.5V48.0M556.93 49.6V67.9M556.98 46.8V48.3M557.03 42.0V53.1M557.13 50.1V58.0M557.22 43.6V52.9M557.35 46.9V58.9M557.39 49.2V51.9M557.47 42.4V50.6M557.57 44.9V61.7M557.68 48.1V50.8M557.73 44.6V51.6M557.78 47.8V48.0M557.88 48.6V59.9M558.00 47.2V60.9M558.10 43.2V50.5M558.12 50.7V65.0M558.20 49.9V51.8M558.35 43.6V53.8M558.42 50.1V55.8M558.50 46.7V47.8M558.58 47.0V59.7M558.61 49.8V58.3M558.75 48.3V48.4M558.78 46.5V50.3M558.93 46.4V56.2M558.95 44.3V53.7M559.09 45.5V53.1M559.17 43.5V51.9M559.26 45.5V51.4M559.28 47.4V57.8M559.41 44.3V47.2M559.47 44.9V46.8M559.58 43.6V46.5M559.68 46.6V56.0M559.76 46.5V50.3M559.82 46.5V48.2M559.92 50.4V55.8M560.02 44.8V59.3M560.06 48.0V53.6M560.12 48.3V52.0M560.21 47.2V55.5M560.27 40.1V44.5M560.43 48.4V59.6M560.50 41.8V43.6M560.58 52.1V60.7M560.62 46.9V58.1M560.69 40.6V46.6M560.77 45.6V50.6M560.91 45.0V60.9M560.96 47.7V51.3M561.02 51.7V56.2M561.16 44.6V63.9M561.22 43.4V51.9M561.29 43.0V54.3M561.39 40.5V44.9M561.44 46.2V51.2M561.55 44.5V59.0M561.63 52.2V55.3M561.71 47.0V55.8M561.84 45.6V49.1M561.86 42.3V51.0M561.99 40.7V50.2M562.06 41.3V46.1M562.16 44.7V54.0M562.20 46.4V58.9M562.33 46.2V47.2M562.40 46.1V56.0M562.50 45.6V55.9M562.59 42.6V44.7M562.65 46.5V47.9M562.73 50.8V62.9M562.79 49.4V49.7M562.89 37.5V47.7M562.95 42.1V47.7M563.05 47.4V56.0M563.11 46.7V54.8M563.21 43.9V44.1M563.30 45.1V46.8M563.41 45.0V53.8M563.49 51.6V59.8M563.54 49.9V56.9M563.63 45.5V55.9M563.76 43.9V60.4M563.80 45.0V56.1M563.91 41.4V55.1M563.99 45.8V50.9M564.06 45.2V45.6M564.16 45.8V49.1M564.23 43.1V46.3M564.32 47.7V55.5M564.35 40.0V50.5M564.49 49.0V57.6M564.54 43.7V47.7M564.66 43.8V51.5M564.71 41.3V41.4M564.83 49.2V50.0M564.91 48.5V50.8M564.99 46.7V53.2M565.06 43.8V46.9M565.11 43.5V55.4M565.22 53.4V67.9M565.34 46.8V52.3M565.37 45.2V52.7M565.47 44.9V55.5M565.53 44.9V46.0M565.67 46.4V48.3M565.73 45.6V46.0M565.80 51.4V54.1M565.85 43.4V43.8M565.96 53.0V64.6M566.04 46.5V46.7M566.10 48.7V59.4M566.24 45.1V47.0M566.28 48.9V51.8M566.35 43.5V44.5M566.50 45.0V49.5M566.58 44.3V45.3M566.64 42.9V61.5M566.69 42.7V43.4M566.82 46.6V54.9M566.85 43.7V53.3M566.97 44.7V50.8M567.03 43.9V53.0M567.15 45.6V56.0M567.22 53.4V65.2M567.30 46.8V47.6M567.37 46.1V48.9M567.46 47.5V49.8M567.54 48.1V55.8M567.67 45.7V57.1M567.69 48.1V64.9M567.83 44.2V47.5M567.85 42.5V60.3M567.99 46.1V52.4M568.03 43.7V57.2M568.16 49.5V52.5M568.18 49.0V54.2M568.27 47.0V48.8M568.39 48.9V53.1M568.50 46.0V46.2M568.54 45.9V51.2M568.61 41.5V50.3M568.71 47.6V49.5M568.81 42.5V43.5M568.87 49.0V56.3M568.97 46.7V55.4M569.08 43.7V48.9M569.13 45.1V57.6M569.23 53.0V53.6M569.27 46.2V59.7M569.35 44.7V51.9M569.44 50.4V51.6M569.52 47.4V47.4M569.63 46.9V55.5M569.68 44.9V45.5M569.79 42.4V42.6M569.90 49.9V62.8M569.96 48.6V57.8M570.07 41.6V45.9M570.16 42.6V51.1M570.19 41.1V43.7M570.30 46.1V55.8M570.38 43.1V49.3M570.46 52.9V58.0M570.51 44.7V55.9M570.62 48.8V55.8M570.73 50.0V51.0M570.76 49.1V50.3M570.86 43.2V49.0M570.98 41.8V47.3M571.08 47.4V55.8M571.11 47.0V58.9M571.23 42.6V44.0M571.31 47.9V56.9M571.38 45.3V52.5M571.43 44.2V45.3M571.56 42.6V43.9M571.61 46.8V51.1M571.72 54.0V55.6M571.82 46.6V66.3M571.90 44.0V60.0M571.93 47.3V53.2M572.02 47.6V50.1M572.10 48.7V54.3M572.24 44.8V49.0M572.30 45.5V45.6M572.36 45.2V49.2M572.49 46.0V48.3M572.53 42.3V46.2M572.59 45.0V59.1M572.74 46.2V55.2M572.81 49.2V54.1M572.86 47.2V50.8M572.92 46.0V50.8M573.00 41.8V54.4M573.16 44.6V47.5M573.21 46.9V54.9M573.30 43.8V48.8M573.36 44.2V52.3M573.45 47.3V51.5M573.57 44.6V49.4M573.61 49.1V59.9M573.71 45.7V58.1M573.79 40.2V40.4M573.87 43.2V47.8M573.93 44.2V44.7M574.05 43.5V45.7M574.11 43.9V47.9M574.21 49.3V52.4M574.29 47.2V60.9M574.36 47.9V67.9M574.47 44.6V60.2M574.57 43.3V44.4M574.66 40.1V40.2M574.73 46.3V50.8M574.80 49.1V50.3M574.87 45.1V51.8M574.97 46.0V55.7M575.08 45.2V51.0M575.10 45.9V56.6M575.17 44.5V46.6M575.30 47.6V54.0M575.37 45.1V56.9M575.45 43.1V58.2M575.52 45.4V54.1M575.66 44.3V49.0M575.72 47.7V60.4M575.78 43.4V49.1M575.89 46.2V56.4M575.99 47.8V64.5M576.03 46.5V51.8M576.11 47.0V50.8M576.21 46.4V64.0M576.29 47.5V59.4M576.40 41.1V49.2M576.46 43.3V45.9M576.53 44.6V50.3M576.62 44.6V45.4M576.72 46.2V54.2M576.80 43.6V44.7M576.85 46.6V56.3M576.98 46.1V52.1M577.07 48.1V56.6M577.15 42.5V44.5M577.20 42.6V58.0M577.31 42.8V57.5M577.34 42.8V50.2M577.47 52.6V55.5M577.57 45.7V60.0M577.62 43.1V47.4M577.72 44.5V50.0M577.77 50.4V56.1M577.86 45.1V46.6M577.95 44.0V58.3M578.02 47.5V51.8M578.09 49.2V50.9M578.22 47.7V53.4M578.27 54.4V67.9M578.33 45.3V61.0M578.42 48.4V62.2M578.51 47.0V61.4M578.59 46.5V54.6M578.73 46.3V55.2M578.81 41.6V44.9M578.82 48.5V48.6M578.96 46.8V50.8M579.02 52.1V56.0M579.15 48.0V53.3M579.16 51.6V65.6M579.24 44.0V44.8M579.37 46.2V46.9M579.46 47.9V52.2M579.54 43.7V61.4M579.63 49.1V50.9M579.70 46.7V48.5M579.80 48.5V50.8M579.90 48.8V54.8M579.97 46.8V58.9M580.01 47.9V57.1M580.11 46.6V63.1M580.22 49.3V67.9M580.28 50.6V55.3M580.39 42.3V48.4M580.48 45.1V49.3M580.54 47.2V51.0M580.60 45.5V45.8M580.72 49.0V58.6M580.79 45.1V47.4M580.90 50.3V51.2M580.96 44.8V67.0M581.00 45.1V46.8M581.15 46.3V55.4M581.18 44.1V46.2M581.28 46.3V53.9M581.32 41.3V42.4M581.41 44.3V53.4M581.50 50.4V61.5M581.59 48.9V49.2M581.65 41.4V44.9M581.77 47.6V52.0M581.83 45.0V51.9M581.96 47.6V61.4M582.01 41.7V58.3M582.15 42.9V57.8M582.19 43.7V49.8M582.27 47.2V49.2M582.36 46.9V55.4M582.40 42.1V51.5M582.51 47.5V51.5M582.64 52.1V54.0M582.66 41.5V49.8M582.76 43.2V50.1M582.83 49.7V59.2M582.92 45.1V51.9M583.01 44.2V52.9M583.12 45.3V50.1M583.23 41.2V43.5M583.26 42.4V49.7M583.37 48.1V52.3M583.47 46.3V53.4M583.51 43.3V43.9M583.57 43.2V44.9M583.65 46.9V58.1M583.75 42.7V59.5M583.84 48.2V52.6M583.93 43.5V47.8M584.02 50.9V56.9M584.08 44.5V61.1M584.19 40.0V42.6M584.25 41.6V45.7M584.36 48.2V60.6M584.43 54.3V67.9M584.48 45.1V47.5M584.59 42.8V54.1M584.72 45.6V49.1M584.78 45.2V45.6M584.89 49.9V62.2M584.91 47.5V57.5M584.99 49.6V67.9M585.10 49.7V52.0M585.18 47.6V47.7M585.25 41.9V57.0M585.37 44.9V48.6M585.41 48.2V57.5M585.51 46.5V51.7M585.63 48.7V53.9M585.65 47.7V59.2M585.76 45.5V51.0M585.87 50.4V63.2M585.91 45.2V55.9M586.01 47.9V49.4M586.08 43.0V60.9M586.21 48.8V67.9M586.23 45.5V46.1M586.32 48.6V50.9M586.42 44.6V48.6M586.49 51.1V52.8M586.57 47.6V52.2M586.68 48.6V67.9M586.80 50.7V65.2M586.82 47.2V50.6M586.96 46.7V49.9M587.00 47.8V48.1M587.13 49.0V53.8M587.15 48.1V56.6M587.28 48.2V51.0M587.38 43.1V56.0M587.44 44.6V49.8M587.50 42.3V47.7M587.60 43.4V54.1M587.70 40.9V42.7M587.80 45.9V57.8M587.81 45.1V60.6M587.95 45.7V63.0M588.05 47.0V67.9M588.12 44.0V59.5M588.18 44.7V59.8M588.24 44.4V60.6M588.33 45.1V56.3M588.42 42.8V42.9M588.54 49.8V55.3M588.61 44.1V45.9M588.66 45.9V66.9M588.76 47.5V51.7M588.82 46.7V46.9M588.96 44.3V46.7M589.03 43.4V47.2M589.13 46.4V59.0M589.18 43.7V44.7M589.24 44.7V48.2M589.36 42.8V46.3M589.46 42.8V43.4M589.55 43.5V51.1M589.57 46.7V58.2M589.70 48.9V59.3M589.75 41.8V43.5M589.86 48.0V65.2M589.94 43.4V53.6M590.05 45.5V55.4M590.10 41.0V43.5M590.20 46.0V46.8M590.24 46.6V49.1M590.31 51.5V51.6M590.45 43.9V45.1M590.47 45.7V58.0M590.60 47.4V51.3M590.66 46.8V55.7M590.75 42.1V47.3M590.82 44.6V47.7M590.91 43.3V60.5M591.04 46.3V55.4M591.06 44.8V48.8M591.19 43.0V52.3M591.23 46.4V50.7M591.38 42.0V44.9M591.46 46.3V60.9M591.54 40.2V48.6M591.63 47.2V50.1M591.66 46.8V51.6M591.76 45.2V49.8M591.87 46.5V60.4M591.92 45.8V60.5M591.99 45.6V46.4M592.07 42.1V48.0M592.15 46.9V59.3M592.24 42.2V49.6M592.31 43.1V43.8M592.43 45.1V57.9M592.48 46.1V61.5M592.61 40.2V52.0M592.64 52.7V57.7M592.77 46.8V46.9M592.81 45.9V52.5M592.95 44.0V54.7M593.04 45.4V50.4M593.12 42.9V46.4M593.19 44.0V46.2M593.23 42.4V42.5M593.31 47.2V55.5M593.42 44.2V46.8M593.53 40.8V48.7M593.57 47.3V48.7M593.69 44.9V59.8M593.80 49.5V62.2M593.85 44.4V52.5M593.91 47.7V62.7M594.03 43.8V44.0M594.13 48.8V53.1M594.19 45.4V51.3M594.26 48.5V53.1M594.34 45.7V50.9M594.46 44.4V53.8M594.53 39.1V61.4M594.58 44.4V52.6M594.71 44.2V56.8M594.78 40.4V55.4M594.85 42.6V44.9M594.92 48.6V50.5M595.03 44.1V54.1M595.06 45.3V45.4M595.18 43.3V43.9M595.23 44.1V45.8M595.32 50.7V61.1M595.43 47.3V59.1M595.54 40.6V42.2M595.60 43.3V55.0M595.66 48.2V48.3M595.76 47.1V48.3M595.80 46.6V65.2M595.91 49.7V58.6M596.04 54.8V55.9M596.08 44.4V46.5M596.19 49.0V49.0M596.24 48.0V54.8M596.32 48.2V59.4M596.42 47.2V53.8M596.47 47.3V55.0M596.60 41.6V49.3M596.65 47.0V49.3M596.77 44.4V56.3M596.87 46.2V54.6M596.93 42.4V58.8M597.04 45.7V51.5M597.05 51.9V55.8M597.20 40.8V58.4M597.22 41.3V51.7M597.37 44.1V50.8M597.38 50.7V54.1M597.49 42.3V48.3M597.58 45.1V52.9M597.65 48.5V54.2M597.77 47.7V63.9M597.83 42.7V48.3M597.94 48.0V54.9M598.01 46.6V48.4M598.05 48.3V52.0M598.14 44.6V53.4M598.27 48.7V55.2M598.35 44.4V45.0M598.42 47.0V54.7M598.50 40.2V42.9M598.57 47.4V49.0M598.66 45.8V62.2M598.76 43.3V43.4M598.83 43.5V49.2M598.93 50.5V57.4M599.00 45.5V56.1M599.12 44.9V48.4M599.16 44.0V46.6M599.25 46.5V55.9M599.32 41.7V42.1M599.41 42.0V55.2M599.47 47.0V54.1M599.61 49.1V57.6M599.64 46.1V58.1M599.73 44.2V46.8M599.81 42.7V47.3M599.95 49.2V51.5M599.98 47.7V57.6M600.07 51.5V54.8M600.19 48.6V52.2M600.26 42.5V50.9M600.31 39.6V40.7M600.41 43.5V46.3M600.50 46.1V61.2M600.59 46.4V48.8M600.65 39.9V42.4M600.71 42.1V50.3M600.82 45.0V59.0M600.93 47.1V51.5M601.03 47.8V55.6M601.11 45.6V48.7M601.14 40.3V40.6M601.26 46.2V54.3M601.32 46.6V47.5M601.37 44.8V58.4M601.51 46.3V50.9M601.59 42.8V43.1M601.68 48.5V55.7M601.77 45.3V48.2M601.84 47.6V48.6M601.92 43.2V52.7M601.98 45.2V51.4M602.11 47.9V61.6M602.16 47.3V55.4M602.22 45.9V53.9M602.30 41.6V43.9M602.41 44.2V53.5M602.51 45.0V57.4M602.62 48.8V49.5M602.69 50.3V52.8M602.73 50.4V54.8M602.84 47.7V51.0M602.91 44.8V53.9M602.99 45.9V54.3M603.05 42.7V46.4M603.13 49.2V60.3M603.24 46.6V46.7M603.29 46.8V59.8M603.44 48.9V50.6M603.49 52.3V58.3M603.55 48.4V66.8M603.64 43.4V48.3M603.71 51.1V54.9M603.81 43.6V60.3M603.94 43.5V46.9M604.02 46.5V50.9M604.04 45.2V47.8M604.19 46.4V46.4M604.22 46.0V50.5M604.35 41.9V42.1M604.44 42.7V46.7M604.52 43.1V45.3M604.58 45.3V57.0M604.68 46.4V47.7M604.78 45.3V45.6M604.85 49.7V63.3M604.88 48.6V58.3M605.02 45.8V51.7M605.09 51.2V62.4M605.17 46.0V50.1M605.25 46.4V59.2M605.32 46.6V66.8M605.38 46.5V48.6M605.50 48.0V60.1M605.56 40.1V45.0M605.67 51.7V54.5M605.71 48.3V57.1M605.79 51.3V53.6M605.94 45.2V46.5M605.99 43.6V57.0M606.11 41.0V49.7M606.13 48.3V48.6M606.24 44.3V47.3M606.31 48.8V63.9M606.39 46.4V53.0M606.53 44.3V49.9M606.56 50.5V56.4M606.67 46.7V56.7M606.72 48.1V57.9M606.82 45.2V48.4M606.91 43.9V44.2M606.99 50.5V55.2M607.07 46.6V61.1M607.17 50.3V52.2M607.21 52.9V62.9M607.31 49.5V59.9M607.37 48.2V51.4M607.46 49.8V60.7M607.54 49.5V50.7M607.67 42.5V52.6M607.71 45.9V46.7M607.79 43.1V43.4M607.94 42.1V50.9M607.99 45.7V64.3M608.06 38.7V49.0M608.16 44.8V52.2M608.25 45.7V51.0M608.35 48.5V60.2M608.42 47.1V60.3M608.49 45.0V53.7M608.60 45.8V48.3M608.67 45.4V53.9M608.77 45.1V55.1M608.79 50.0V55.6M608.88 48.4V52.9M609.00 47.3V58.7M609.03 47.7V50.3M609.17 50.0V65.2M609.22 46.4V53.0M609.31 48.7V58.1M609.37 43.3V43.3M609.47 48.5V56.7M609.53 45.5V50.3M609.66 52.0V61.0M609.70 46.7V61.5M609.82 43.3V56.8M609.94 46.1V56.5M609.99 44.3V44.4M610.03 45.6V53.8M610.12 47.1V58.6M610.23 44.8V52.5M610.31 45.0V47.3M610.42 45.1V48.3M610.44 47.9V48.0M610.54 47.6V53.5M610.65 54.2V54.8M610.74 45.9V51.8M610.84 49.3V59.5M610.89 48.4V62.6M611.00 43.9V50.7M611.08 45.7V46.4M611.14 45.1V67.2M611.25 48.3V55.2M611.32 44.9V48.9M611.43 46.2V67.9M611.49 45.7V62.2M611.57 46.6V51.7M611.63 41.5V46.9M611.70 49.5V56.1M611.82 45.5V51.9M611.88 45.4V55.2M612.01 43.5V47.9M612.07 44.7V45.8M612.12 47.6V63.6M612.26 45.7V48.0M612.33 41.7V48.6M612.40 43.0V45.2M612.52 47.3V60.5M612.53 45.6V66.8M612.65 46.5V50.0M612.69 42.3V46.6M612.79 47.3V54.1M612.89 42.3V44.5M613.00 41.3V44.4M613.07 46.4V51.2M613.17 39.5V41.0M613.20 46.7V52.5M613.29 46.6V53.3M613.37 43.9V47.6M613.49 47.5V52.0M613.56 45.7V48.0M613.64 49.4V62.1M613.71 47.2V50.4M613.79 45.8V52.4M613.88 49.9V55.8M613.98 43.9V49.7M614.06 43.8V44.0M614.11 46.3V48.5M614.24 44.1V48.5M614.27 44.1V49.2M614.37 48.3V53.3M614.49 44.4V51.9M614.57 45.4V61.1M614.62 47.9V50.9M614.72 44.9V47.7M614.82 49.1V51.3M614.92 54.2V58.6M614.98 44.7V57.9M615.08 45.3V50.8M615.15 40.8V46.1M615.23 46.9V51.1M615.28 43.4V45.0M615.42 48.5V60.6M615.49 49.2V55.5M615.57 46.8V51.2M615.64 45.3V47.7M615.70 46.0V52.2M615.82 42.7V46.3M615.86 42.4V53.9M615.98 49.5V63.6M616.06 47.3V60.2M616.10 40.5V49.1M616.26 41.8V49.5M616.31 49.0V53.1M616.37 47.8V67.9M616.49 39.9V40.3M616.53 48.4V58.0M616.60 42.0V48.5M616.69 51.3V52.8M616.82 46.1V46.5M616.86 48.5V50.5M616.94 44.5V62.2M617.04 41.8V45.5M617.16 44.1V46.3M617.22 42.5V49.2M617.32 42.1V49.2M617.37 40.6V53.7M617.50 44.5V60.6M617.54 51.1V52.8M617.62 50.1V53.6M617.68 42.9V43.3M617.81 43.7V54.5M617.88 42.4V45.5M617.98 46.5V49.1M618.02 47.0V53.8M618.10 51.1V58.7M618.24 49.0V65.6M618.33 46.2V47.4M618.35 47.8V61.5M618.44 50.6V58.5M618.51 41.7V42.4M618.64 45.9V48.9M618.72 45.2V49.9M618.83 45.6V51.2M618.87 46.0V57.1M618.98 49.0V53.5M619.08 43.5V55.2M619.15 47.6V49.8M619.19 48.9V55.5M619.34 42.4V47.3M619.34 45.7V46.0M619.45 44.2V63.2M619.52 51.5V52.8M619.64 40.9V43.2M619.75 48.4V53.9M619.82 49.3V54.2M619.91 47.2V47.2M619.96 48.8V51.1M620.03 48.6V50.5M620.11 44.6V47.5M620.22 41.7V53.0M620.31 46.7V47.3M620.34 45.9V52.7M620.47 45.8V62.3M620.52 45.4V59.4M620.65 49.6V51.5M620.72 41.0V43.3M620.81 50.1V51.5M620.87 47.8V59.7M620.95 40.0V42.4M621.08 46.3V47.8M621.15 48.9V62.9M621.24 45.6V63.7M621.32 39.1V49.9M621.39 45.7V55.6M621.44 49.2V49.3M621.58 45.2V49.6M621.59 45.0V52.5M621.73 48.3V60.0M621.80 45.2V58.8M621.91 52.4V59.2M621.95 44.5V49.3M622.08 45.2V53.9M622.09 45.6V50.9M622.24 47.7V51.6M622.33 41.8V49.8M622.36 43.8V53.2M622.45 41.9V42.0M622.56 47.6V54.7M622.62 43.6V65.0M622.69 40.7V43.4M622.76 41.6V45.9M622.90 48.5V48.9M622.96 45.9V53.1M623.02 47.7V56.7M623.17 46.7V47.2M623.17 45.8V51.5M623.33 40.7V47.4M623.34 41.4V49.7M623.44 46.2V51.9M623.56 43.2V56.7M623.61 47.6V50.6M623.67 49.5V50.3M623.82 51.4V56.0M623.88 48.4V56.0M623.93 40.0V48.2M624.02 45.3V49.4M624.11 44.3V46.8M624.21 42.8V43.2M624.30 51.6V67.8M624.37 46.6V54.3M624.45 45.8V51.4M624.57 42.2V51.3M624.62 44.7V47.2M624.74 50.8V55.1M624.77 50.9V66.7M624.85 45.0V53.9M624.99 45.3V54.0M625.01 50.0V57.1M625.16 50.0V53.0M625.18 45.7V54.6M625.26 49.8V55.4M625.37 44.9V46.2M625.48 46.7V52.8M625.54 46.8V67.9M625.65 40.2V41.8M625.69 48.4V57.0M625.81 49.3V65.5M625.88 47.5V55.2M625.92 53.0V53.1M626.04 43.7V51.8M626.15 44.1V45.2M626.19 45.7V50.0M626.28 46.1V56.2M626.38 46.2V48.4M626.42 50.6V56.6M626.50 46.5V48.3M626.63 46.2V50.1M626.74 43.6V51.2M626.76 45.2V53.5M626.88 43.1V43.7M626.92 44.1V45.7M627.05 51.9V58.4M627.12 48.3V52.3M627.21 44.2V48.3M627.29 47.3V53.4M627.36 46.1V46.3M627.46 43.6V62.6M627.57 48.9V59.0M627.60 45.5V49.3M627.71 41.3V49.5M627.80 45.9V56.2M627.84 48.1V65.3M627.98 46.0V53.9M628.01 47.1V50.4M628.12 49.6V60.5M628.20 44.1V55.9M628.29 45.9V55.5M628.33 51.5V57.9M628.49 42.5V47.0M628.54 48.7V51.9M628.65 45.8V52.0M628.71 44.7V52.7M628.79 46.4V54.5M628.87 49.7V61.0M628.99 52.8V63.0M629.01 47.6V55.5M629.15 45.3V47.8M629.23 49.6V50.2M629.27 47.2V51.3M629.34 42.2V55.3M629.44 48.9V49.3M629.50 36.3V43.9M629.60 44.9V50.1M629.70 49.5V52.6M629.78 44.7V51.2M629.88 46.7V48.8M629.98 42.1V44.8M630.04 49.7V50.4M630.09 44.0V63.4M630.20 49.2V53.1M630.26 45.0V57.8M630.35 41.5V47.5M630.48 45.5V52.4M630.57 42.0V46.6M630.61 46.8V47.6M630.69 43.2V52.0M630.77 47.9V64.8M630.89 46.7V59.4M630.96 45.9V63.3M631.02 50.3V57.3M631.14 48.7V51.0M631.18 47.7V65.9M631.25 40.9V56.3M631.36 45.5V52.6M631.47 49.4V55.8M631.54 49.6V57.9M631.62 46.3V56.5M631.69 49.4V51.8M631.74 45.4V48.4M631.87 49.2V58.0M631.97 49.1V58.3M632.05 43.6V47.2M632.12 51.5V52.1M632.17 39.3V46.5M632.24 48.2V52.4M632.33 50.4V57.3M632.44 44.2V47.9M632.52 42.8V50.0M632.63 42.1V45.5M632.70 44.4V48.2M632.79 48.0V58.4M632.90 46.5V62.2M632.98 45.6V50.1M633.00 43.4V45.4M633.09 43.1V49.5M633.23 43.9V57.2M633.28 43.4V46.3M633.34 52.5V64.0M633.43 47.6V58.9M633.50 42.5V57.0M633.58 47.3V52.7M633.68 46.2V58.3M633.79 48.1V60.3M633.86 46.3V47.4M633.91 47.9V50.0M634.06 52.0V56.9M634.11 44.8V45.9M634.21 44.7V51.0M634.24 48.6V51.4M634.38 52.1V54.3M634.42 47.0V57.9M634.51 49.7V52.9M634.64 43.1V49.7M634.67 46.8V52.3M634.77 50.8V59.7M634.87 48.2V51.3M634.96 40.7V59.1M635.02 46.7V47.7M635.14 48.6V55.2M635.22 47.0V49.9M635.30 49.7V59.9M635.32 43.7V45.2M635.42 50.4V59.8M635.50 44.5V53.1M635.65 43.1V49.2M635.72 43.4V44.6M635.79 46.5V53.2M635.84 47.4V54.7M635.92 46.0V47.7M636.02 45.4V46.1M636.08 44.4V51.1M636.19 46.1V53.8M636.30 45.3V50.2M636.38 47.4V56.2M636.47 48.4V51.6M636.53 42.7V45.1M636.58 44.8V52.1M636.69 43.9V47.1M636.78 41.1V46.5M636.85 48.1V59.5M636.92 47.8V57.9M637.00 47.1V52.2M637.13 43.4V54.9M637.22 50.2V61.3M637.29 48.0V50.8M637.35 43.6V48.7M637.47 50.6V52.9M637.54 43.9V47.1M637.62 41.3V49.1M637.71 44.7V46.0M637.80 48.5V53.8M637.87 47.3V54.2M637.94 48.9V50.0M637.99 46.2V47.6M638.13 43.2V52.2M638.18 43.0V47.2M638.27 52.6V56.9M638.39 48.2V49.4M638.42 45.0V50.0M638.50 47.0V52.5M638.62 53.2V65.1M638.71 45.3V62.6M638.77 44.4V52.3M638.85 46.0V51.3M638.97 46.2V53.5M639.03 43.2V51.0M639.11 50.2V60.8M639.18 46.8V54.5M639.31 44.8V48.8M639.35 36.3V49.2M639.43 48.1V53.5M639.53 43.6V43.7M639.61 40.8V56.0M639.70 43.7V44.5M639.76 43.4V45.8M639.83 42.2V50.7M639.96 51.2V57.4M640.04 44.4V47.2M640.08 47.3V58.2M640.17 41.4V62.9M640.28 44.6V48.7M640.36 45.1V45.9M640.42 45.4V46.8M640.51 49.6V52.2M640.60 43.2V50.0M640.71 50.7V63.1M640.79 46.5V59.2M640.81 47.0V53.6M640.92 43.0V46.5M641.02 45.9V49.5M641.08 48.4V54.6M641.21 43.9V45.5M641.27 40.8V46.5M641.35 48.9V50.1M641.46 41.8V42.0M641.51 47.9V53.2M641.60 46.6V51.7M641.65 46.5V53.4M641.73 49.0V51.8M641.83 41.1V42.3M641.97 43.5V58.8M642.00 44.1V63.6M642.13 49.9V58.7M642.16 43.9V50.4M642.25 48.5V48.8M642.32 41.8V58.0M642.42 51.2V56.1M642.55 43.7V55.1M642.57 50.5V56.8M642.70 50.3V54.2M642.76 45.2V54.4M642.83 43.3V58.4M642.97 42.5V44.3M642.99 47.1V47.1M643.06 47.5V50.1M643.20 43.1V50.9M643.27 49.3V64.0M643.32 49.2V52.0M643.44 44.3V47.7M643.54 44.5V47.1M643.56 45.6V51.1M643.71 42.2V62.0M643.76 50.8V59.5M643.82 44.5V45.3M643.90 39.3V42.0M644.04 47.1V51.7M644.06 49.6V54.2M644.19 42.1V59.9M644.25 44.2V51.0M644.37 42.2V49.7M644.45 43.7V46.3M644.49 47.2V53.5M644.61 46.5V53.5M644.71 49.3V56.3M644.75 38.0V40.1M644.83 48.6V56.0M644.90 46.8V54.7M645.02 47.8V59.4M645.10 44.5V48.6M645.17 41.5V48.0M645.24 47.3V56.4M645.31 44.5V60.7M645.40 43.6V47.2M645.54 39.2V50.4M645.61 46.5V52.3M645.67 45.0V48.0M645.76 40.9V45.8M645.83 50.1V51.1M645.95 45.8V48.5M645.99 45.5V48.9M646.11 49.1V55.7M646.20 46.4V53.6M646.30 45.2V46.4M646.36 42.4V57.1M646.39 43.1V62.1M646.54 47.4V60.7M646.58 48.6V52.6M646.70 43.0V49.4M646.78 50.3V53.6M646.82 47.4V52.0M646.90 49.2V50.6M647.04 50.5V52.9M647.09 45.1V49.1M647.19 50.1V57.0M647.28 47.7V54.0M647.30 42.1V44.1M647.46 41.2V41.4M647.51 49.9V55.0M647.61 48.6V55.6M647.68 48.5V57.9M647.77 49.9V53.6M647.87 42.0V48.2M647.89 43.3V48.2M648.00 44.4V53.3M648.13 48.8V49.1M648.16 43.7V51.5M648.28 45.3V51.9M648.33 46.0V53.3M648.41 44.2V49.6M648.50 41.9V52.0M648.56 46.1V49.4M648.69 47.1V60.6M648.72 48.9V52.7M648.85 41.7V49.2M648.95 44.5V45.8M648.97 53.0V55.6M649.09 45.5V46.6M649.14 43.5V43.9M649.26 50.6V58.1M649.30 50.3V52.9M649.44 42.8V47.8M649.53 46.8V55.4M649.58 50.3V67.9M649.68 45.8V54.6M649.78 44.9V53.9M649.85 48.8V61.5M649.91 48.3V53.3M650.00 45.8V50.2M650.11 46.1V46.3M650.21 40.7V43.6M650.28 42.0V53.8M650.32 44.4V58.9M650.45 47.9V55.7M650.49 47.8V51.4M650.55 52.6V59.8M650.66 46.2V52.6M650.74 47.2V53.8M650.85 47.9V57.4M650.89 43.8V57.8M650.99 42.3V43.7M651.12 51.4V60.4M651.19 44.8V48.3M651.24 44.7V53.3M651.34 47.8V50.1M651.42 48.1V57.9M651.52 40.9V55.3M651.57 43.8V55.9M651.66 39.7V40.7M651.74 48.2V49.3M651.82 49.1V54.2M651.89 46.8V51.8M651.96 43.4V58.2M652.08 42.1V44.3M652.20 40.2V49.5M652.24 47.9V63.6" fill="none" stroke="#111" stroke-width="0.16"/>
<line x1="392.3" y1="17.9" x2="395.8" y2="17.9" stroke="#4a4a4a" stroke-width="1"/>
<line x1="652.5" y1="17.9" x2="649" y2="17.9" stroke="#4a4a4a" stroke-width="1"/>
<line x1="392.3" y1="37.65" x2="395.8" y2="37.65" stroke="#4a4a4a" stroke-width="1"/>
<line x1="652.5" y1="37.65" x2="649" y2="37.65" stroke="#4a4a4a" stroke-width="1"/>
<line x1="392.3" y1="57.4" x2="395.8" y2="57.4" stroke="#4a4a4a" stroke-width="1"/>
<line x1="652.5" y1="57.4" x2="649" y2="57.4" stroke="#4a4a4a" stroke-width="1"/>
<line x1="392.3" y1="27.78" x2="394.3" y2="27.78" stroke="#4a4a4a" stroke-width="1"/>
<line x1="652.5" y1="27.78" x2="650.5" y2="27.78" stroke="#4a4a4a" stroke-width="1"/>
<line x1="392.3" y1="47.53" x2="394.3" y2="47.53" stroke="#4a4a4a" stroke-width="1"/>
<line x1="652.5" y1="47.53" x2="650.5" y2="47.53" stroke="#4a4a4a" stroke-width="1"/>
<line x1="392.3" y1="67.28" x2="394.3" y2="67.28" stroke="#4a4a4a" stroke-width="1"/>
<line x1="652.5" y1="67.28" x2="650.5" y2="67.28" stroke="#4a4a4a" stroke-width="1"/>
<line x1="392.5" y1="70.4" x2="392.5" y2="66.9" stroke="#4a4a4a" stroke-width="1"/>
<line x1="392.5" y1="11.3" x2="392.5" y2="14.8" stroke="#4a4a4a" stroke-width="1"/>
<line x1="434.1" y1="70.4" x2="434.1" y2="66.9" stroke="#4a4a4a" stroke-width="1"/>
<line x1="434.1" y1="11.3" x2="434.1" y2="14.8" stroke="#4a4a4a" stroke-width="1"/>
<line x1="475.7" y1="70.4" x2="475.7" y2="66.9" stroke="#4a4a4a" stroke-width="1"/>
<line x1="475.7" y1="11.3" x2="475.7" y2="14.8" stroke="#4a4a4a" stroke-width="1"/>
<line x1="517.3" y1="70.4" x2="517.3" y2="66.9" stroke="#4a4a4a" stroke-width="1"/>
<line x1="517.3" y1="11.3" x2="517.3" y2="14.8" stroke="#4a4a4a" stroke-width="1"/>
<line x1="558.9" y1="70.4" x2="558.9" y2="66.9" stroke="#4a4a4a" stroke-width="1"/>
<line x1="558.9" y1="11.3" x2="558.9" y2="14.8" stroke="#4a4a4a" stroke-width="1"/>
<line x1="600.5" y1="70.4" x2="600.5" y2="66.9" stroke="#4a4a4a" stroke-width="1"/>
<line x1="600.5" y1="11.3" x2="600.5" y2="14.8" stroke="#4a4a4a" stroke-width="1"/>
<line x1="642.1" y1="70.4" x2="642.1" y2="66.9" stroke="#4a4a4a" stroke-width="1"/>
<line x1="642.1" y1="11.3" x2="642.1" y2="14.8" stroke="#4a4a4a" stroke-width="1"/>
<line x1="413.3" y1="70.4" x2="413.3" y2="68.4" stroke="#4a4a4a" stroke-width="1"/>
<line x1="413.3" y1="11.3" x2="413.3" y2="13.3" stroke="#4a4a4a" stroke-width="1"/>
<line x1="454.9" y1="70.4" x2="454.9" y2="68.4" stroke="#4a4a4a" stroke-width="1"/>
<line x1="454.9" y1="11.3" x2="454.9" y2="13.3" stroke="#4a4a4a" stroke-width="1"/>
<line x1="496.5" y1="70.4" x2="496.5" y2="68.4" stroke="#4a4a4a" stroke-width="1"/>
<line x1="496.5" y1="11.3" x2="496.5" y2="13.3" stroke="#4a4a4a" stroke-width="1"/>
<line x1="538.1" y1="70.4" x2="538.1" y2="68.4" stroke="#4a4a4a" stroke-width="1"/>
<line x1="538.1" y1="11.3" x2="538.1" y2="13.3" stroke="#4a4a4a" stroke-width="1"/>
<line x1="579.7" y1="70.4" x2="579.7" y2="68.4" stroke="#4a4a4a" stroke-width="1"/>
<line x1="579.7" y1="11.3" x2="579.7" y2="13.3" stroke="#4a4a4a" stroke-width="1"/>
<line x1="621.3" y1="70.4" x2="621.3" y2="68.4" stroke="#4a4a4a" stroke-width="1"/>
<line x1="621.3" y1="11.3" x2="621.3" y2="13.3" stroke="#4a4a4a" stroke-width="1"/>
<rect x="392.3" y="11.3" width="260.2" height="59.1" fill="none" stroke="#666" stroke-width="1.3"/>
<rect x="392.3" y="11.3" width="5.9" height="58.8" fill="none" stroke="#e8323c" stroke-width="1.1" stroke-dasharray="3 1.6"/>
<rect x="646.6" y="11.3" width="5.9" height="58.8" fill="none" stroke="#e8323c" stroke-width="1.1" stroke-dasharray="3 1.6"/>
<text x="388" y="21.7" font-size="10" text-anchor="end" font-weight="bold" fill="#231f20" stroke="#231f20" stroke-width="0.28">−45</text>
<text x="388" y="39.9" font-size="10" text-anchor="end" font-weight="bold" fill="#231f20" stroke="#231f20" stroke-width="0.28">−60</text>
<text x="388" y="61.5" font-size="10" text-anchor="end" font-weight="bold" fill="#231f20" stroke="#231f20" stroke-width="0.28">−75</text>
<text x="392.5" y="82.4" font-size="10" text-anchor="middle" font-weight="bold" fill="#231f20" stroke="#231f20" stroke-width="0.28">0</text>
<text x="434.1" y="82.4" font-size="10" text-anchor="middle" font-weight="bold" fill="#231f20" stroke="#231f20" stroke-width="0.28">500</text>
<text x="475.7" y="82.4" font-size="10" text-anchor="middle" font-weight="bold" fill="#231f20" stroke="#231f20" stroke-width="0.28">1000</text>
<text x="517.3" y="82.4" font-size="10" text-anchor="middle" font-weight="bold" fill="#231f20" stroke="#231f20" stroke-width="0.28">1500</text>
<text x="558.9" y="82.4" font-size="10" text-anchor="middle" font-weight="bold" fill="#231f20" stroke="#231f20" stroke-width="0.28">2000</text>
<text x="600.5" y="82.4" font-size="10" text-anchor="middle" font-weight="bold" fill="#231f20" stroke="#231f20" stroke-width="0.28">2500</text>
<text x="642.1" y="82.4" font-size="10" text-anchor="middle" font-weight="bold" fill="#231f20" stroke="#231f20" stroke-width="0.28">3000</text>
<text transform="translate(363.6,41.8) rotate(-90)" font-size="10" font-weight="bold" fill="#231f20" text-anchor="middle" stroke="#231f20" stroke-width="0.28">S<tspan font-size="7" dy="2.5">21</tspan><tspan dy="-2.5"> (dB)</tspan></text>
<line x1="392.5" y1="202.99" x2="652.5" y2="202.99" stroke="#cdcdcd" stroke-width="0.8" stroke-dasharray="1 1.1"/>
<line x1="392.5" y1="188.38" x2="652.5" y2="188.38" stroke="#dddddd" stroke-width="0.8" stroke-dasharray="1 1.1"/>
<line x1="392.5" y1="173.76" x2="652.5" y2="173.76" stroke="#cdcdcd" stroke-width="0.8" stroke-dasharray="1 1.1"/>
<line x1="392.5" y1="159.14" x2="652.5" y2="159.14" stroke="#dddddd" stroke-width="0.8" stroke-dasharray="1 1.1"/>
<line x1="392.5" y1="144.53" x2="652.5" y2="144.53" stroke="#cdcdcd" stroke-width="0.8" stroke-dasharray="1 1.1"/>
<line x1="392.5" y1="129.91" x2="652.5" y2="129.91" stroke="#dddddd" stroke-width="0.8" stroke-dasharray="1 1.1"/>
<line x1="392.5" y1="115.3" x2="652.5" y2="115.3" stroke="#cdcdcd" stroke-width="0.8" stroke-dasharray="1 1.1"/>
<line x1="392.5" y1="100.69" x2="652.5" y2="100.69" stroke="#dddddd" stroke-width="0.8" stroke-dasharray="1 1.1"/>
<clipPath id="cd"><rect x="393" y="85.4" width="259" height="132"/></clipPath>
<g clip-path="url(#cd)">
<polyline points="393.28,113.8 393.47,113.36 393.64,112.71 393.8,112.75 393.98,114.39 394.18,118.15 394.39,123.45 394.61,129.56 394.81,135.76 395,142.59 395.18,150.2 395.35,157.24 395.51,162.4 395.66,164.92 395.79,165.65 395.92,165.63 396.07,165.9 396.23,167.1 396.4,168.54 396.58,169.31 396.76,168.48 396.96,165.67 397.17,161.42 397.39,156.17 397.6,150.38 397.81,143.26 398.02,134.88 398.23,126.94 398.44,121.15 398.63,118.3 398.83,117.38 399.02,117.35 399.23,117.16 399.47,116.69 399.73,116.44 399.98,116.33 400.21,116.29 400.4,115.9 400.57,115.34 400.73,115.4 400.91,116.87 401.11,120.16 401.32,124.79 401.54,130.18 401.74,135.76 401.93,142.09 402.11,149.24 402.28,155.91 402.44,160.8 402.58,163.06 402.72,163.54 402.85,163.53 403,164.31 403.16,167 403.33,170.65 403.51,173.47 403.69,173.65 403.89,170.26 404.1,164.42 404.32,157.38 404.53,150.38 404.74,142.85 404.94,134.45 405.15,126.7 405.37,121.15 405.59,118.65 405.83,118.25 406.07,118.73 406.31,118.9 406.55,118.55 406.81,118.28 407.06,118.11 407.28,118.02 407.47,117.68 407.64,117.19 407.8,117.26 407.98,118.61 408.18,121.54 408.4,125.65 408.61,130.52 408.82,135.76 409,142 409.18,149.21 409.35,155.98 409.51,160.94 409.66,163.4 409.79,164.19 409.92,164.24 410.07,164.45 410.23,165.33 410.4,166.3 410.58,166.68 410.77,165.78 410.97,163.43 411.18,159.99 411.39,155.59 411.6,150.38 411.81,143.46 412.02,135.08 412.22,127.04 412.44,121.15 412.67,118.2 412.9,117.13 413.13,116.94 413.37,116.65 413.62,116.14 413.87,115.89 414.12,115.8 414.35,115.77 414.54,115.37 414.7,114.8 414.87,114.85 415.04,116.36 415.25,119.79 415.46,124.64 415.68,130.2 415.88,135.76 416.07,141.76 416.25,148.37 416.42,154.47 416.58,158.98 416.72,160.89 416.86,161.02 416.99,161.01 417.14,162.49 417.3,167.24 417.47,173.95 417.64,179.59 417.83,181.14 418.03,176.88 418.24,168.75 418.46,159.12 418.67,150.38 418.87,142.38 419.08,134.11 419.29,126.67 419.5,121.15 419.73,118.22 419.97,117.17 420.21,117.01 420.46,116.74 420.7,116.23 420.96,115.98 421.21,115.89 421.43,115.86 421.62,115.46 421.79,114.89 421.95,114.95 422.13,116.44 422.33,119.88 422.55,124.74 422.76,130.27 422.97,135.76 423.15,141.6 423.33,147.97 423.5,153.85 423.66,158.2 423.81,160.08 423.94,160.26 424.07,160.28 424.22,161.71 424.38,166.22 424.55,172.56 424.73,177.89 424.92,179.35 425.12,175.39 425.33,167.79 425.54,158.73 425.75,150.38 425.97,142.46 426.18,134.12 426.39,126.59 426.59,121.15 426.77,118.57 426.94,118.03 427.11,118.38 427.3,118.46 427.54,118.08 427.79,117.82 428.05,117.66 428.28,117.58 428.47,117.23 428.64,116.72 428.8,116.79 428.98,118.17 429.18,121.15 429.4,125.3 429.61,130.29 429.81,135.76 430,142.44 430.18,150.24 430.35,157.6 430.51,162.96 430.66,165.38 430.79,165.88 430.92,165.79 431.07,166.47 431.23,169.03 431.4,172.51 431.58,175.1 431.77,175.03 431.96,171.31 432.18,165.06 432.39,157.64 432.6,150.38 432.82,142.79 433.04,134.45 433.25,126.76 433.44,121.15 433.59,118.38 433.71,117.57 433.84,117.65 434.01,117.54 434.23,117.09 434.49,116.84 434.75,116.72 434.98,116.66 435.17,116.29 435.34,115.74 435.5,115.81 435.68,117.25 435.88,120.37 436.1,124.73 436.31,129.97 436.52,135.76 436.7,142.88 436.88,151.21 437.05,159.08 437.21,164.79 437.36,167.23 437.49,167.51 437.63,167.32 437.77,168.3 437.93,172.03 438.1,177.25 438.28,181.38 438.47,181.83 438.67,177.08 438.88,168.78 439.09,159.14 439.3,150.38 439.52,142.34 439.74,134.09 439.95,126.68 440.14,121.15 440.3,118.15 440.45,117.01 440.59,116.76 440.77,116.42 441,115.9 441.25,115.65 441.51,115.57 441.74,115.54 441.94,115.14 442.1,114.55 442.26,114.61 442.44,116.13 442.64,119.56 442.86,124.38 443.08,129.98 443.28,135.76 443.47,142.27 443.64,149.6 443.81,156.42 443.98,161.42 444.12,163.8 444.25,164.4 444.39,164.39 444.53,164.93 444.69,166.91 444.86,169.51 445.04,171.35 445.23,171.06 445.43,167.98 445.64,162.93 445.85,156.78 446.07,150.38 446.28,143.11 446.49,134.79 446.7,126.96 446.9,121.15 447.09,118.06 447.26,116.78 447.44,116.39 447.64,115.96 447.87,115.41 448.13,115.16 448.38,115.1 448.61,115.09 448.8,114.67 448.97,114.07 449.13,114.12 449.31,115.67 449.51,119.19 449.73,124.13 449.94,129.87 450.14,135.76 450.33,142.35 450.51,149.75 450.68,156.62 450.84,161.66 450.99,164.02 451.12,164.57 451.25,164.55 451.4,165.17 451.56,167.42 451.73,170.43 451.91,172.63 452.1,172.48 452.3,169.19 452.51,163.71 452.72,157.09 452.93,150.38 453.14,143.03 453.35,134.76 453.55,126.99 453.77,121.15 453.99,117.88 454.22,116.35 454.45,115.7 454.68,115.1 454.93,114.48 455.18,114.24 455.43,114.22 455.66,114.22 455.85,113.79 456.01,113.15 456.18,113.19 456.35,114.81 456.56,118.45 456.77,123.59 456.99,129.57 457.19,135.76 457.38,142.78 457.56,150.7 457.73,158.08 457.89,163.46 458.03,165.82 458.17,166.14 458.3,166 458.45,166.97 458.61,170.51 458.78,175.43 458.95,179.33 459.14,179.78 459.34,175.39 459.55,167.7 459.77,158.7 459.98,150.38 460.19,142.49 460.39,134.24 460.6,126.75 460.82,121.15 461.03,118.1 461.25,116.87 461.47,116.54 461.7,116.14 461.94,115.6 462.2,115.36 462.45,115.29 462.68,115.27 462.87,114.86 463.03,114.26 463.2,114.31 463.37,115.85 463.58,119.25 463.79,124.01 464.01,129.67 464.21,135.76 464.4,143.04 464.58,151.46 464.74,159.37 464.91,165.11 465.05,167.87 465.18,168.65 465.32,168.54 465.46,168.62 465.62,169.49 465.79,170.46 465.97,170.72 466.16,169.47 466.36,166.34 466.57,161.8 466.78,156.33 467,150.38 467.21,143.18 467.42,134.79 467.63,126.89 467.83,121.15 468.02,118.39 468.2,117.59 468.38,117.67 468.58,117.57 468.81,117.13 469.07,116.87 469.32,116.75 469.55,116.69 469.74,116.32 469.91,115.78 470.07,115.84 470.25,117.28 470.45,120.5 470.67,125.03 470.88,130.3 471.09,135.76 471.27,141.93 471.45,148.9 471.62,155.39 471.78,160.16 471.93,161.93 472.06,161.68 472.2,161.55 472.34,163.67 472.5,170.61 472.67,180.56 472.85,189.11 473.04,191.83 473.24,186.07 473.45,174.69 473.66,161.51 473.87,150.38 474.08,141.61 474.29,133.4 474.5,126.37 474.71,121.15 474.93,118.36 475.16,117.52 475.39,117.57 475.62,117.44 475.87,116.99 476.12,116.73 476.37,116.61 476.6,116.56 476.79,116.18 476.95,115.64 477.12,115.7 477.29,117.15 477.5,120.46 477.71,125.12 477.93,130.45 478.13,135.76 478.32,141.45 478.5,147.69 478.67,153.45 478.83,157.72 478.97,159.84 479.11,160.48 479.24,160.61 479.39,161.23 479.55,163.09 479.72,165.49 479.89,167.26 480.08,167.21 480.28,164.9 480.49,160.99 480.71,155.99 480.92,150.38 481.13,143.38 481.33,135.03 481.54,127.05 481.75,121.15 481.98,118.05 482.21,116.77 482.44,116.37 482.68,115.94 482.93,115.38 483.18,115.14 483.43,115.08 483.65,115.06 483.85,114.65 484.01,114.04 484.17,114.1 484.35,115.65 484.55,119.08 484.77,123.9 484.99,129.61 485.19,135.76 485.38,143.09 485.55,151.56 485.72,159.51 485.88,165.28 486.03,168.02 486.16,168.76 486.3,168.64 486.44,168.79 486.6,169.88 486.77,171.18 486.95,171.74 487.14,170.6 487.34,167.31 487.55,162.43 487.76,156.58 487.98,150.38 488.18,143.14 488.39,134.84 488.6,126.99 488.81,121.15 489.04,118 489.26,116.64 489.5,116.16 489.73,115.68 489.98,115.1 490.24,114.86 490.48,114.81 490.71,114.8 490.9,114.38 491.07,113.76 491.23,113.81 491.41,115.38 491.61,119.01 491.83,124.13 492.04,129.97 492.24,135.76 492.43,141.91 492.61,148.63 492.78,154.82 492.94,159.39 493.09,161.08 493.22,160.79 493.35,160.69 493.5,162.9 493.66,170.05 493.83,180.32 494.01,189.18 494.2,192.1 494.39,186.36 494.6,174.89 494.82,161.59 495.03,150.38 495.24,141.64 495.45,133.51 495.66,126.51 495.87,121.15 496.07,117.95 496.26,116.52 496.46,115.98 496.67,115.44 496.91,114.85 497.16,114.61 497.42,114.57 497.65,114.56 497.84,114.14 498,113.51 498.16,113.56 498.34,115.15 498.54,118.79 498.76,123.93 498.98,129.84 499.18,135.76 499.37,142.19 499.54,149.28 499.71,155.85 499.88,160.67 500.02,162.73 500.15,162.89 500.29,162.82 500.43,164.18 500.59,168.7 500.76,175.07 500.94,180.35 501.13,181.61 501.33,177.18 501.54,168.91 501.75,159.18 501.97,150.38 502.17,142.33 502.38,134.03 502.59,126.6 502.8,121.15 503.02,118.4 503.24,117.61 503.46,117.71 503.69,117.62 503.93,117.18 504.19,116.93 504.44,116.8 504.66,116.74 504.85,116.37 505.02,115.83 505.18,115.89 505.36,117.33 505.56,120.52 505.78,125.01 505.99,130.26 506.2,135.76 506.38,142.1 506.56,149.3 506.73,156.04 506.89,160.97 507.04,163.25 507.17,163.75 507.31,163.73 507.45,164.48 507.61,167.08 507.78,170.61 507.96,173.31 508.15,173.42 508.35,170.05 508.56,164.28 508.77,157.32 508.98,150.38 509.19,142.91 509.4,134.57 509.61,126.82 509.82,121.15 510.04,118.3 510.26,117.38 510.49,117.34 510.73,117.16 510.97,116.68 511.23,116.43 511.48,116.32 511.7,116.28 511.89,115.89 512.06,115.34 512.22,115.4 512.4,116.86 512.6,120.21 512.82,124.93 513.03,130.34 513.24,135.76 513.42,141.62 513.6,148.08 513.77,154.06 513.93,158.48 514.08,160.62 514.21,161.18 514.34,161.28 514.49,161.99 514.65,164.23 514.82,167.2 515,169.46 515.19,169.57 515.39,166.89 515.6,162.27 515.81,156.51 516.02,150.38 516.23,143.22 516.44,134.91 516.65,127.02 516.86,121.15 517.06,117.99 517.26,116.62 517.46,116.13 517.67,115.64 517.91,115.06 518.17,114.82 518.42,114.77 518.65,114.76 518.84,114.34 519,113.72 519.17,113.77 519.34,115.35 519.55,119.1 519.76,124.43 519.98,130.32 520.18,135.76 520.37,140.88 520.55,146.1 520.72,150.79 520.88,154.32 521.02,156.1 521.16,156.59 521.29,156.82 521.43,157.83" fill="none" stroke="#e8343c" stroke-width="0.9" stroke-linejoin="round"/>
<polyline points="527.63,118.58 527.84,123.92 528.06,129.95 528.26,135.76 528.45,141.68 528.63,148 528.8,153.78 528.96,158.07 529.1,160.1 529.24,160.55 529.37,160.63 529.52,161.57 529.68,164.51 529.85,168.52 530.03,171.74 530.21,172.29 530.41,169.28 530.62,163.83 530.84,157.13 531.05,150.38 531.25,142.97 531.45,134.58 531.66,126.79 531.89,121.15 532.14,118.48 532.41,117.83 532.68,118.06 532.95,118.05 533.2,117.65 533.46,117.39 533.7,117.24 533.92,117.18 534.11,116.81 534.28,116.29 534.44,116.36 534.62,117.76 534.82,120.77 535.04,124.96 535.25,130.05 535.46,135.76 535.64,142.93 535.82,151.41 535.99,159.43 536.15,165.24 536.3,167.69 536.43,167.94 536.57,167.72 536.71,168.75 536.87,172.67 537.04,178.18 537.22,182.56 537.41,183.09 537.61,178.14 537.82,169.46 538.03,159.41 538.24,150.38 538.45,142.28 538.66,134.09 538.87,126.74 539.08,121.15 539.28,117.89 539.48,116.38 539.69,115.75 539.9,115.16 540.14,114.54 540.4,114.31 540.65,114.28 540.88,114.28 541.07,113.85 541.24,113.21 541.4,113.25 541.58,114.86 541.78,118.61 541.99,123.9 542.21,129.91 542.41,135.76 542.6,141.84 542.78,148.4 542.95,154.42 543.11,158.87 543.25,160.83 543.39,161.07 543.52,161.08 543.67,162.37 543.83,166.51 544,172.31 544.18,177.13 544.36,178.32 544.56,174.45 544.77,167.17 544.99,158.48 545.2,150.38 545.41,142.59 545.63,134.32 545.85,126.77 546.04,121.15 546.19,118.12 546.31,116.94 546.44,116.64 546.61,116.28 546.83,115.74 547.09,115.5 547.35,115.42 547.58,115.4 547.77,114.99 547.94,114.4 548.1,114.45 548.28,115.98 548.48,119.61 548.7,124.75 548.91,130.45 549.12,135.76 549.3,140.85 549.48,146.09 549.65,150.81 549.81,154.38 549.96,155.76 550.09,155.58 550.22,155.68 550.37,157.89 550.53,164.52 550.7,174 550.88,182.27 551.07,185.3 551.27,180.82 551.48,171.38 551.69,160.17 551.9,150.38 552.11,142.12 552.31,133.95 552.52,126.68 552.74,121.15 552.97,117.91 553.21,116.41 553.46,115.8 553.7,115.22 553.95,114.61 554.2,114.38 554.45,114.34 554.68,114.34 554.87,113.91 555.03,113.28 555.19,113.32 555.37,114.93 555.58,118.67 555.79,123.96 556.01,129.95 556.21,135.76 556.4,141.75 556.57,148.19 556.74,154.09 556.91,158.46 557.05,160.38 557.18,160.59 557.32,160.61 557.46,161.96 557.62,166.25 557.79,172.27 557.97,177.29 558.16,178.6 558.36,174.72 558.57,167.36 558.78,158.55 559,150.38 559.2,142.55 559.41,134.26 559.62,126.72 559.83,121.15 560.06,118.25 560.29,117.26 560.52,117.16 560.76,116.92 561.01,116.43 561.26,116.18 561.51,116.08 561.74,116.05 561.93,115.65 562.09,115.09 562.26,115.15 562.43,116.63 562.64,119.97 562.85,124.65 563.07,130.11 563.27,135.76 563.46,142.15 563.64,149.36 563.81,156.08 563.97,161.01 564.11,163.09 564.25,163.24 564.38,163.16 564.53,164.52 564.69,169.07 564.86,175.49 565.03,180.82 565.22,182.07 565.42,177.55 565.63,169.15 565.85,159.28 566.06,150.38 566.27,142.3 566.48,134.02 566.69,126.61 566.89,121.15 567.08,118.32 567.26,117.43 567.45,117.42 567.65,117.25 567.88,116.79 568.14,116.53 568.39,116.42 568.62,116.37 568.81,115.99 568.98,115.44 569.14,115.5 569.32,116.96 569.52,120.18 569.74,124.68 569.95,130.03 570.16,135.76 570.34,142.57 570.52,150.42 570.69,157.79 570.85,163.16 571,165.48 571.13,165.77 571.26,165.63 571.41,166.67 571.57,170.4 571.74,175.62 571.92,179.79 572.11,180.38 572.31,175.94 572.52,168.06 572.73,158.85 572.94,150.38 573.15,142.39 573.36,134.05 573.56,126.56 573.78,121.15 574.01,118.59 574.24,118.09 574.48,118.47 574.72,118.57 574.97,118.2 575.23,117.93 575.47,117.77 575.7,117.69 575.89,117.34 576.06,116.84 576.22,116.91 576.4,118.28 576.6,121.24 576.81,125.37 577.03,130.32 577.23,135.76 577.42,142.4 577.6,150.15 577.77,157.47 577.93,162.8 578.08,165.29 578.21,165.91 578.34,165.85 578.49,166.31 578.65,168.14 578.82,170.53 579,172.14 579.18,171.64 579.38,168.38 579.59,163.17 579.81,156.88 580.02,150.38 580.23,143.01 580.44,134.61 580.65,126.79 580.86,121.15 581.05,118.52 581.23,117.92 581.41,118.21 581.62,118.25 581.85,117.85 582.11,117.59 582.36,117.44 582.59,117.37 582.78,117.01 582.95,116.49 583.11,116.56 583.29,117.95 583.49,121.01 583.71,125.29 583.92,130.35 584.13,135.76 584.31,142.15 584.49,149.51 584.66,156.42 584.82,161.48 584.97,163.66 585.1,163.94 585.24,163.87 585.38,164.98 585.54,168.81 585.71,174.16 585.89,178.49 586.08,179.28 586.28,175.1 586.49,167.55 586.7,158.64 586.91,150.38 587.12,142.5 587.33,134.2 587.54,126.69 587.75,121.15 587.96,118.3 588.17,117.39 588.39,117.36 588.61,117.17 588.86,116.7 589.11,116.45 589.36,116.34 589.59,116.29 589.78,115.91 589.95,115.35 590.11,115.41 590.29,116.88 590.49,120.32 590.71,125.2 590.92,130.64 591.12,135.76 591.31,140.76 591.49,145.95 591.66,150.67 591.82,154.22 591.97,155.77 592.1,155.9 592.23,156.07 592.38,157.73 592.54,162.61 592.71,169.48 592.89,175.39 593.08,177.4 593.27,173.98 593.48,166.95 593.7,158.38 593.91,150.38 594.12,142.63 594.33,134.32 594.53,126.73 594.75,121.15 594.97,118.31 595.19,117.41 595.41,117.4 595.64,117.22 595.89,116.76 596.14,116.5 596.39,116.39 596.62,116.35 596.81,115.96 596.97,115.41 597.14,115.47 597.31,116.93 597.52,120.2 597.73,124.8 597.95,130.17 598.15,135.76 598.34,142.14 598.52,149.37 598.69,156.11 598.85,161.06 598.99,163.41 599.13,164.01 599.26,164.02 599.41,164.57 599.57,166.52 599.74,169.08 599.91,170.9 600.1,170.62 600.3,167.62 600.51,162.7 600.73,156.69 600.94,150.38 601.15,143.14 601.35,134.84 601.56,126.99 601.77,121.15 602,118 602.23,116.63 602.46,116.15 602.69,115.66 602.94,115.09 603.2,114.85 603.44,114.79 603.67,114.79 603.86,114.37 604.03,113.75 604.19,113.8 604.37,115.37 604.57,118.81 604.79,123.63 605,129.41 605.2,135.76 605.39,143.53 605.57,152.62 605.74,161.19 605.9,167.38 606.05,170.07 606.18,170.46 606.31,170.19 606.46,170.88 606.62,173.96 606.79,178.21 606.97,181.38 607.15,181.23 607.35,176.38 607.56,168.28 607.78,158.94 607.99,150.38 608.2,142.4 608.41,134.17 608.62,126.74 608.83,121.15 609.02,118.01 609.21,116.67 609.41,116.22 609.62,115.74 609.85,115.17 610.11,114.93 610.36,114.88 610.59,114.87 610.78,114.45 610.95,113.84 611.11,113.88 611.29,115.45 611.49,119.07 611.71,124.19 611.92,130.01 612.12,135.76 612.31,141.84 612.49,148.46 612.66,154.56 612.82,159.07 612.97,160.98 613.1,161.12 613.23,161.1 613.38,162.57 613.54,167.31 613.71,174 613.89,179.62 614.08,181.14 614.28,176.89 614.49,168.75 614.7,159.12 614.91,150.38 615.12,142.37 615.32,134.09 615.53,126.64 615.75,121.15 615.98,118.31 616.23,117.39 616.48,117.37 616.72,117.18 616.97,116.71 617.23,116.46 617.47,116.35 617.7,116.31 617.89,115.92 618.06,115.37 618.22,115.43 618.4,116.89 618.6,120.32 618.81,125.17 619.03,130.6 619.23,135.76 619.42,140.9 619.6,146.3 619.77,151.22 619.93,154.92 620.07,156.74 620.21,157.24 620.34,157.46 620.49,158.43 620.65,161.13 620.82,164.77 621,167.75 621.18,168.43 621.38,166.15 621.59,161.85 621.81,156.33 622.02,150.38 622.23,143.32 622.43,135.02 622.64,127.1 622.86,121.15 623.09,117.85 623.34,116.27 623.59,115.57 623.84,114.94 624.09,114.31 624.35,114.07 624.59,114.05 624.82,114.06 625.01,113.62 625.18,112.98 625.34,113.02 625.52,114.64 625.72,118.58 625.93,124.18 626.15,130.29 626.35,135.76 626.54,140.6 626.72,145.33 626.89,149.51 627.05,152.7 627.19,154.29 627.33,154.68 627.46,154.96 627.61,156.21 627.77,159.6 627.94,164.26 628.12,168.22 628.3,169.49 628.5,167.23 628.71,162.59 628.93,156.62 629.14,150.38 629.35,143.2 629.56,134.86 629.77,126.96 629.98,121.15 630.19,118.16 630.4,117.03 630.61,116.79 630.84,116.47 631.08,115.95 631.34,115.7 631.59,115.62 631.81,115.59 632,115.19 632.17,114.6 632.33,114.66 632.51,116.17 632.71,119.54 632.93,124.25 633.15,129.83 633.35,135.76 633.54,142.75 633.71,150.78 633.88,158.31 634.04,163.79 634.19,166.33 634.32,166.92 634.46,166.82 634.6,167.3 634.76,169.32 634.93,172 635.11,173.85 635.3,173.38 635.5,169.82 635.71,164.09 635.92,157.25 636.14,150.38 636.35,142.9 636.57,134.54 636.78,126.79 636.97,121.15 637.13,118.4 637.27,117.62 637.42,117.72 637.59,117.63 637.82,117.19 638.08,116.93 638.34,116.81 638.57,116.75 638.76,116.38 638.93,115.84 639.09,115.9 639.26,117.34 639.47,120.58 639.68,125.14 639.9,130.4 640.1,135.76 640.29,141.68 640.47,148.29 640.64,154.42 640.8,158.95 640.94,160.99 641.08,161.35 641.21,161.39 641.36,162.45 641.52,165.87 641.69,170.6 641.87,174.44 642.05,175.2 642.25,171.74 642.46,165.41 642.68,157.77 642.89,150.38 643.1,142.74 643.32,134.35 643.53,126.66 643.73,121.15 643.89,118.66 644.03,118.27 644.17,118.77 644.35,118.95 644.57,118.6 644.83,118.33 645.09,118.16 645.32,118.07 645.51,117.73 645.68,117.24 645.84,117.31 646.02,118.65 646.22,121.57 646.44,125.65 646.65,130.51 646.86,135.76 647.04,142.06 647.22,149.36 647.39,156.24 647.55,161.27 647.7,163.4 647.83,163.62 647.97,163.54 648.11,164.77 648.27,168.95 648.44,174.82 648.62,179.63 648.81,180.64 649.01,176.29 649.22,168.33 649.43,158.95 649.65,150.38 649.85,142.44 650.06,134.22 650.27,126.76 650.48,121.15 650.69,117.98 650.89,116.59 651.09,116.09 651.31,115.59" fill="none" stroke="#e8343c" stroke-width="0.9" stroke-linejoin="round"/>
</g>
<line x1="392.5" y1="85.4" x2="521" y2="85.4" stroke="#666" stroke-width="1.3"/>
<line x1="527" y1="85.4" x2="652.5" y2="85.4" stroke="#666" stroke-width="1.3"/>
<line x1="392.5" y1="218.2" x2="521" y2="218.2" stroke="#666" stroke-width="1.3"/>
<line x1="527" y1="218.2" x2="652.5" y2="218.2" stroke="#666" stroke-width="1.3"/>
<line x1="392.5" y1="85.4" x2="392.5" y2="218.2" stroke="#666" stroke-width="1.3"/>
<line x1="652.5" y1="85.4" x2="652.5" y2="218.2" stroke="#666" stroke-width="1.3"/>
<line x1="519.2" y1="88" x2="524" y2="82.8" stroke="#666" stroke-width="0.9"/>
<line x1="519.2" y1="220.8" x2="524" y2="215.6" stroke="#666" stroke-width="0.9"/>
<line x1="523.9" y1="88" x2="528.7" y2="82.8" stroke="#666" stroke-width="0.9"/>
<line x1="523.9" y1="220.8" x2="528.7" y2="215.6" stroke="#666" stroke-width="0.9"/>
<line x1="392.5" y1="202.99" x2="396" y2="202.99" stroke="#4a4a4a" stroke-width="1"/>
<line x1="652.5" y1="202.99" x2="649" y2="202.99" stroke="#4a4a4a" stroke-width="1"/>
<line x1="392.5" y1="173.76" x2="396" y2="173.76" stroke="#4a4a4a" stroke-width="1"/>
<line x1="652.5" y1="173.76" x2="649" y2="173.76" stroke="#4a4a4a" stroke-width="1"/>
<line x1="392.5" y1="144.53" x2="396" y2="144.53" stroke="#4a4a4a" stroke-width="1"/>
<line x1="652.5" y1="144.53" x2="649" y2="144.53" stroke="#4a4a4a" stroke-width="1"/>
<line x1="392.5" y1="115.3" x2="396" y2="115.3" stroke="#4a4a4a" stroke-width="1"/>
<line x1="652.5" y1="115.3" x2="649" y2="115.3" stroke="#4a4a4a" stroke-width="1"/>
<line x1="392.5" y1="86.07" x2="396" y2="86.07" stroke="#4a4a4a" stroke-width="1"/>
<line x1="652.5" y1="86.07" x2="649" y2="86.07" stroke="#4a4a4a" stroke-width="1"/>
<line x1="392.5" y1="217.61" x2="394.5" y2="217.61" stroke="#4a4a4a" stroke-width="1"/>
<line x1="652.5" y1="217.61" x2="650.5" y2="217.61" stroke="#4a4a4a" stroke-width="1"/>
<line x1="392.5" y1="188.38" x2="394.5" y2="188.38" stroke="#4a4a4a" stroke-width="1"/>
<line x1="652.5" y1="188.38" x2="650.5" y2="188.38" stroke="#4a4a4a" stroke-width="1"/>
<line x1="392.5" y1="159.14" x2="394.5" y2="159.14" stroke="#4a4a4a" stroke-width="1"/>
<line x1="652.5" y1="159.14" x2="650.5" y2="159.14" stroke="#4a4a4a" stroke-width="1"/>
<line x1="392.5" y1="129.91" x2="394.5" y2="129.91" stroke="#4a4a4a" stroke-width="1"/>
<line x1="652.5" y1="129.91" x2="650.5" y2="129.91" stroke="#4a4a4a" stroke-width="1"/>
<line x1="392.5" y1="100.69" x2="394.5" y2="100.69" stroke="#4a4a4a" stroke-width="1"/>
<line x1="652.5" y1="100.69" x2="650.5" y2="100.69" stroke="#4a4a4a" stroke-width="1"/>
<line x1="392.5" y1="218.2" x2="392.5" y2="214.7" stroke="#4a4a4a" stroke-width="1"/>
<line x1="392.5" y1="85.4" x2="392.5" y2="88.9" stroke="#4a4a4a" stroke-width="1"/>
<line x1="492.25" y1="218.2" x2="492.25" y2="214.7" stroke="#4a4a4a" stroke-width="1"/>
<line x1="492.25" y1="85.4" x2="492.25" y2="88.9" stroke="#4a4a4a" stroke-width="1"/>
<line x1="539.2" y1="218.2" x2="539.2" y2="214.7" stroke="#4a4a4a" stroke-width="1"/>
<line x1="539.2" y1="85.4" x2="539.2" y2="88.9" stroke="#4a4a4a" stroke-width="1"/>
<line x1="638.95" y1="218.2" x2="638.95" y2="214.7" stroke="#4a4a4a" stroke-width="1"/>
<line x1="638.95" y1="85.4" x2="638.95" y2="88.9" stroke="#4a4a4a" stroke-width="1"/>
<line x1="442.38" y1="218.2" x2="442.38" y2="216.2" stroke="#4a4a4a" stroke-width="1"/>
<line x1="442.38" y1="85.4" x2="442.38" y2="87.4" stroke="#4a4a4a" stroke-width="1"/>
<line x1="589.08" y1="218.2" x2="589.08" y2="216.2" stroke="#4a4a4a" stroke-width="1"/>
<line x1="589.08" y1="85.4" x2="589.08" y2="87.4" stroke="#4a4a4a" stroke-width="1"/>
<text x="388" y="206.39" font-size="10" text-anchor="end" font-weight="bold" fill="#231f20" stroke="#231f20" stroke-width="0.28">−80</text>
<text x="388" y="177.16" font-size="10" text-anchor="end" font-weight="bold" fill="#231f20" stroke="#231f20" stroke-width="0.28">−70</text>
<text x="388" y="147.93" font-size="10" text-anchor="end" font-weight="bold" fill="#231f20" stroke="#231f20" stroke-width="0.28">−60</text>
<text x="388" y="118.7" font-size="10" text-anchor="end" font-weight="bold" fill="#231f20" stroke="#231f20" stroke-width="0.28">−50</text>
<text x="388" y="89.47" font-size="10" text-anchor="end" font-weight="bold" fill="#231f20" stroke="#231f20" stroke-width="0.28">−40</text>
<text x="392.5" y="230.4" font-size="10" text-anchor="middle" font-weight="bold" fill="#231f20" stroke="#231f20" stroke-width="0.28">0</text>
<text x="492.25" y="230.4" font-size="10" text-anchor="middle" font-weight="bold" fill="#231f20" stroke="#231f20" stroke-width="0.28">15</text>
<text x="539.2" y="230.4" font-size="10" text-anchor="middle" font-weight="bold" fill="#231f20" stroke="#231f20" stroke-width="0.28">3105</text>
<text x="638.95" y="230.4" font-size="10" text-anchor="middle" font-weight="bold" fill="#231f20" stroke="#231f20" stroke-width="0.28">3120</text>
<text x="509.7" y="243" font-size="10" text-anchor="start" font-weight="bold" fill="#231f20" stroke="#231f20" stroke-width="0.28">Cycle</text>
<text x="656" y="147.7" font-size="10" text-anchor="start" font-weight="bold" fill="#231f20" stroke="#231f20" stroke-width="0.28">ON</text>
<text x="656" y="177.1" font-size="10" text-anchor="start" font-weight="bold" fill="#231f20" stroke="#231f20" stroke-width="0.28">OFF</text>
<text transform="translate(363.6,144.2) rotate(-90)" font-size="10" font-weight="bold" fill="#231f20" text-anchor="middle" stroke="#231f20" stroke-width="0.28">S<tspan font-size="7" dy="2.5">21</tspan><tspan dy="-2.5"> (dB)</tspan></text>
<path d="M393.6,101.4 H521.9 V203 H393.6 Z" fill="none" stroke="#1d4fae" stroke-width="2.5" stroke-dasharray="2.4 2.3"/>
<path d="M527,101.4 H651.7 V203 H527 Z" fill="none" stroke="#1d4fae" stroke-width="2.5" stroke-dasharray="2.4 2.3"/>
<line x1="395.7" y1="70.8" x2="454" y2="103.7" stroke="#1d4fae" stroke-width="1.8" stroke-dasharray="1.8 1.7"/>
<path d="M446.43,102.87 L454,103.7 L449.38,97.65" fill="none" stroke="#1d4fae" stroke-width="1.3"/>
<line x1="650.3" y1="71.4" x2="583.1" y2="103.5" stroke="#1d4fae" stroke-width="1.8" stroke-dasharray="1.8 1.7"/>
<path d="M588.12,97.78 L583.1,103.5 L590.71,103.19" fill="none" stroke="#1d4fae" stroke-width="1.3"/>
<line x1="392.5" y1="472.65" x2="652.5" y2="472.65" stroke="#dddddd" stroke-width="0.8" stroke-dasharray="1 1.1"/>
<line x1="392.5" y1="452.7" x2="652.5" y2="452.7" stroke="#cdcdcd" stroke-width="0.8" stroke-dasharray="1 1.1"/>
<line x1="392.5" y1="432.75" x2="652.5" y2="432.75" stroke="#dddddd" stroke-width="0.8" stroke-dasharray="1 1.1"/>
<line x1="392.5" y1="412.8" x2="652.5" y2="412.8" stroke="#cdcdcd" stroke-width="0.8" stroke-dasharray="1 1.1"/>
<line x1="392.5" y1="392.85" x2="652.5" y2="392.85" stroke="#dddddd" stroke-width="0.8" stroke-dasharray="1 1.1"/>
<line x1="392.5" y1="372.9" x2="652.5" y2="372.9" stroke="#cdcdcd" stroke-width="0.8" stroke-dasharray="1 1.1"/>
<line x1="392.5" y1="352.95" x2="652.5" y2="352.95" stroke="#dddddd" stroke-width="0.8" stroke-dasharray="1 1.1"/>
<line x1="392.5" y1="333" x2="652.5" y2="333" stroke="#cdcdcd" stroke-width="0.8" stroke-dasharray="1 1.1"/>
<line x1="392.5" y1="313.05" x2="652.5" y2="313.05" stroke="#dddddd" stroke-width="0.8" stroke-dasharray="1 1.1"/>
<line x1="392.5" y1="293.1" x2="652.5" y2="293.1" stroke="#cdcdcd" stroke-width="0.8" stroke-dasharray="1 1.1"/>
<line x1="394.69" y1="272.7" x2="394.69" y2="482.5" stroke="#dddddd" stroke-width="0.8" stroke-dasharray="1 1.1"/>
<line x1="412.18" y1="272.7" x2="412.18" y2="482.5" stroke="#dddddd" stroke-width="0.8" stroke-dasharray="1 1.1"/>
<line x1="424.58" y1="272.7" x2="424.58" y2="482.5" stroke="#dddddd" stroke-width="0.8" stroke-dasharray="1 1.1"/>
<line x1="434.21" y1="272.7" x2="434.21" y2="482.5" stroke="#dddddd" stroke-width="0.8" stroke-dasharray="1 1.1"/>
<line x1="442.07" y1="272.7" x2="442.07" y2="482.5" stroke="#dddddd" stroke-width="0.8" stroke-dasharray="1 1.1"/>
<line x1="448.72" y1="272.7" x2="448.72" y2="482.5" stroke="#dddddd" stroke-width="0.8" stroke-dasharray="1 1.1"/>
<line x1="454.48" y1="272.7" x2="454.48" y2="482.5" stroke="#dddddd" stroke-width="0.8" stroke-dasharray="1 1.1"/>
<line x1="459.56" y1="272.7" x2="459.56" y2="482.5" stroke="#dddddd" stroke-width="0.8" stroke-dasharray="1 1.1"/>
<line x1="464.1" y1="272.7" x2="464.1" y2="482.5" stroke="#cdcdcd" stroke-width="0.8" stroke-dasharray="1 1.1"/>
<line x1="493.99" y1="272.7" x2="493.99" y2="482.5" stroke="#dddddd" stroke-width="0.8" stroke-dasharray="1 1.1"/>
<line x1="511.48" y1="272.7" x2="511.48" y2="482.5" stroke="#dddddd" stroke-width="0.8" stroke-dasharray="1 1.1"/>
<line x1="523.88" y1="272.7" x2="523.88" y2="482.5" stroke="#dddddd" stroke-width="0.8" stroke-dasharray="1 1.1"/>
<line x1="533.51" y1="272.7" x2="533.51" y2="482.5" stroke="#dddddd" stroke-width="0.8" stroke-dasharray="1 1.1"/>
<line x1="541.37" y1="272.7" x2="541.37" y2="482.5" stroke="#dddddd" stroke-width="0.8" stroke-dasharray="1 1.1"/>
<line x1="548.02" y1="272.7" x2="548.02" y2="482.5" stroke="#dddddd" stroke-width="0.8" stroke-dasharray="1 1.1"/>
<line x1="553.78" y1="272.7" x2="553.78" y2="482.5" stroke="#dddddd" stroke-width="0.8" stroke-dasharray="1 1.1"/>
<line x1="558.86" y1="272.7" x2="558.86" y2="482.5" stroke="#dddddd" stroke-width="0.8" stroke-dasharray="1 1.1"/>
<line x1="563.4" y1="272.7" x2="563.4" y2="482.5" stroke="#cdcdcd" stroke-width="0.8" stroke-dasharray="1 1.1"/>
<line x1="593.29" y1="272.7" x2="593.29" y2="482.5" stroke="#dddddd" stroke-width="0.8" stroke-dasharray="1 1.1"/>
<line x1="610.78" y1="272.7" x2="610.78" y2="482.5" stroke="#dddddd" stroke-width="0.8" stroke-dasharray="1 1.1"/>
<line x1="623.18" y1="272.7" x2="623.18" y2="482.5" stroke="#dddddd" stroke-width="0.8" stroke-dasharray="1 1.1"/>
<line x1="632.81" y1="272.7" x2="632.81" y2="482.5" stroke="#dddddd" stroke-width="0.8" stroke-dasharray="1 1.1"/>
<line x1="640.67" y1="272.7" x2="640.67" y2="482.5" stroke="#dddddd" stroke-width="0.8" stroke-dasharray="1 1.1"/>
<line x1="647.32" y1="272.7" x2="647.32" y2="482.5" stroke="#dddddd" stroke-width="0.8" stroke-dasharray="1 1.1"/>
<line x1="392.5" y1="452.7" x2="396" y2="452.7" stroke="#4a4a4a" stroke-width="1"/>
<line x1="652.5" y1="452.7" x2="649" y2="452.7" stroke="#4a4a4a" stroke-width="1"/>
<line x1="392.5" y1="412.8" x2="396" y2="412.8" stroke="#4a4a4a" stroke-width="1"/>
<line x1="652.5" y1="412.8" x2="649" y2="412.8" stroke="#4a4a4a" stroke-width="1"/>
<line x1="392.5" y1="372.9" x2="396" y2="372.9" stroke="#4a4a4a" stroke-width="1"/>
<line x1="652.5" y1="372.9" x2="649" y2="372.9" stroke="#4a4a4a" stroke-width="1"/>
<line x1="392.5" y1="333" x2="396" y2="333" stroke="#4a4a4a" stroke-width="1"/>
<line x1="652.5" y1="333" x2="649" y2="333" stroke="#4a4a4a" stroke-width="1"/>
<line x1="392.5" y1="293.1" x2="396" y2="293.1" stroke="#4a4a4a" stroke-width="1"/>
<line x1="652.5" y1="293.1" x2="649" y2="293.1" stroke="#4a4a4a" stroke-width="1"/>
<line x1="392.5" y1="472.65" x2="394.5" y2="472.65" stroke="#4a4a4a" stroke-width="1"/>
<line x1="652.5" y1="472.65" x2="650.5" y2="472.65" stroke="#4a4a4a" stroke-width="1"/>
<line x1="392.5" y1="432.75" x2="394.5" y2="432.75" stroke="#4a4a4a" stroke-width="1"/>
<line x1="652.5" y1="432.75" x2="650.5" y2="432.75" stroke="#4a4a4a" stroke-width="1"/>
<line x1="392.5" y1="392.85" x2="394.5" y2="392.85" stroke="#4a4a4a" stroke-width="1"/>
<line x1="652.5" y1="392.85" x2="650.5" y2="392.85" stroke="#4a4a4a" stroke-width="1"/>
<line x1="392.5" y1="352.95" x2="394.5" y2="352.95" stroke="#4a4a4a" stroke-width="1"/>
<line x1="652.5" y1="352.95" x2="650.5" y2="352.95" stroke="#4a4a4a" stroke-width="1"/>
<line x1="392.5" y1="313.05" x2="394.5" y2="313.05" stroke="#4a4a4a" stroke-width="1"/>
<line x1="652.5" y1="313.05" x2="650.5" y2="313.05" stroke="#4a4a4a" stroke-width="1"/>
<line x1="464.1" y1="482.5" x2="464.1" y2="479" stroke="#4a4a4a" stroke-width="1"/>
<line x1="464.1" y1="272.7" x2="464.1" y2="276.2" stroke="#4a4a4a" stroke-width="1"/>
<line x1="563.4" y1="482.5" x2="563.4" y2="479" stroke="#4a4a4a" stroke-width="1"/>
<line x1="563.4" y1="272.7" x2="563.4" y2="276.2" stroke="#4a4a4a" stroke-width="1"/>
<line x1="394.69" y1="482.5" x2="394.69" y2="480.5" stroke="#4a4a4a" stroke-width="1"/>
<line x1="394.69" y1="272.7" x2="394.69" y2="274.7" stroke="#4a4a4a" stroke-width="1"/>
<line x1="412.18" y1="482.5" x2="412.18" y2="480.5" stroke="#4a4a4a" stroke-width="1"/>
<line x1="412.18" y1="272.7" x2="412.18" y2="274.7" stroke="#4a4a4a" stroke-width="1"/>
<line x1="424.58" y1="482.5" x2="424.58" y2="480.5" stroke="#4a4a4a" stroke-width="1"/>
<line x1="424.58" y1="272.7" x2="424.58" y2="274.7" stroke="#4a4a4a" stroke-width="1"/>
<line x1="434.21" y1="482.5" x2="434.21" y2="480.5" stroke="#4a4a4a" stroke-width="1"/>
<line x1="434.21" y1="272.7" x2="434.21" y2="274.7" stroke="#4a4a4a" stroke-width="1"/>
<line x1="442.07" y1="482.5" x2="442.07" y2="480.5" stroke="#4a4a4a" stroke-width="1"/>
<line x1="442.07" y1="272.7" x2="442.07" y2="274.7" stroke="#4a4a4a" stroke-width="1"/>
<line x1="448.72" y1="482.5" x2="448.72" y2="480.5" stroke="#4a4a4a" stroke-width="1"/>
<line x1="448.72" y1="272.7" x2="448.72" y2="274.7" stroke="#4a4a4a" stroke-width="1"/>
<line x1="454.48" y1="482.5" x2="454.48" y2="480.5" stroke="#4a4a4a" stroke-width="1"/>
<line x1="454.48" y1="272.7" x2="454.48" y2="274.7" stroke="#4a4a4a" stroke-width="1"/>
<line x1="459.56" y1="482.5" x2="459.56" y2="480.5" stroke="#4a4a4a" stroke-width="1"/>
<line x1="459.56" y1="272.7" x2="459.56" y2="274.7" stroke="#4a4a4a" stroke-width="1"/>
<line x1="493.99" y1="482.5" x2="493.99" y2="480.5" stroke="#4a4a4a" stroke-width="1"/>
<line x1="493.99" y1="272.7" x2="493.99" y2="274.7" stroke="#4a4a4a" stroke-width="1"/>
<line x1="511.48" y1="482.5" x2="511.48" y2="480.5" stroke="#4a4a4a" stroke-width="1"/>
<line x1="511.48" y1="272.7" x2="511.48" y2="274.7" stroke="#4a4a4a" stroke-width="1"/>
<line x1="523.88" y1="482.5" x2="523.88" y2="480.5" stroke="#4a4a4a" stroke-width="1"/>
<line x1="523.88" y1="272.7" x2="523.88" y2="274.7" stroke="#4a4a4a" stroke-width="1"/>
<line x1="533.51" y1="482.5" x2="533.51" y2="480.5" stroke="#4a4a4a" stroke-width="1"/>
<line x1="533.51" y1="272.7" x2="533.51" y2="274.7" stroke="#4a4a4a" stroke-width="1"/>
<line x1="541.37" y1="482.5" x2="541.37" y2="480.5" stroke="#4a4a4a" stroke-width="1"/>
<line x1="541.37" y1="272.7" x2="541.37" y2="274.7" stroke="#4a4a4a" stroke-width="1"/>
<line x1="548.02" y1="482.5" x2="548.02" y2="480.5" stroke="#4a4a4a" stroke-width="1"/>
<line x1="548.02" y1="272.7" x2="548.02" y2="274.7" stroke="#4a4a4a" stroke-width="1"/>
<line x1="553.78" y1="482.5" x2="553.78" y2="480.5" stroke="#4a4a4a" stroke-width="1"/>
<line x1="553.78" y1="272.7" x2="553.78" y2="274.7" stroke="#4a4a4a" stroke-width="1"/>
<line x1="558.86" y1="482.5" x2="558.86" y2="480.5" stroke="#4a4a4a" stroke-width="1"/>
<line x1="558.86" y1="272.7" x2="558.86" y2="274.7" stroke="#4a4a4a" stroke-width="1"/>
<line x1="593.29" y1="482.5" x2="593.29" y2="480.5" stroke="#4a4a4a" stroke-width="1"/>
<line x1="593.29" y1="272.7" x2="593.29" y2="274.7" stroke="#4a4a4a" stroke-width="1"/>
<line x1="610.78" y1="482.5" x2="610.78" y2="480.5" stroke="#4a4a4a" stroke-width="1"/>
<line x1="610.78" y1="272.7" x2="610.78" y2="274.7" stroke="#4a4a4a" stroke-width="1"/>
<line x1="623.18" y1="482.5" x2="623.18" y2="480.5" stroke="#4a4a4a" stroke-width="1"/>
<line x1="623.18" y1="272.7" x2="623.18" y2="274.7" stroke="#4a4a4a" stroke-width="1"/>
<line x1="632.81" y1="482.5" x2="632.81" y2="480.5" stroke="#4a4a4a" stroke-width="1"/>
<line x1="632.81" y1="272.7" x2="632.81" y2="274.7" stroke="#4a4a4a" stroke-width="1"/>
<line x1="640.67" y1="482.5" x2="640.67" y2="480.5" stroke="#4a4a4a" stroke-width="1"/>
<line x1="640.67" y1="272.7" x2="640.67" y2="274.7" stroke="#4a4a4a" stroke-width="1"/>
<line x1="647.32" y1="482.5" x2="647.32" y2="480.5" stroke="#4a4a4a" stroke-width="1"/>
<line x1="647.32" y1="272.7" x2="647.32" y2="274.7" stroke="#4a4a4a" stroke-width="1"/>
<polygon points="600.5,431.1 600.5,431.1 601.3,417.1 602.2,419 603.3,420.1 604,425 605,426.3 606.5,429 607,431.1 608,431.1 608.6,423.6 610.3,423 611.2,408.3 612.2,423 613,424.1 614.5,428 615.3,431.1 616.7,431.1 617.3,426.3 618.3,428 619.1,417.1 620,420 620.7,421.5 621.5,429 622.4,431.1 623.5,422.3 624.5,423 625.6,408.8 626.6,420 627.6,415.3 629.2,421.5 630.5,430 631.6,425.4 632.5,430 634,423.6 635,429 636.3,413.1 637.2,421 638.1,422.3 639.5,430.5 640.5,423.6 642.7,422.3 644,420.1 645.3,406.6 646.7,425 648.4,426.3 649.5,428 650.3,418.4 651.7,418.8 652.8,425 652.8,431.1" fill="#2450a8" opacity="0.85"/>
<clipPath id="ce"><rect x="392.5" y="272.7" width="260" height="210"/></clipPath>
<g clip-path="url(#ce)">
<polyline points="392.5,293.1 423.6,315.4 441.2,358.8 453.2,424 462.6,430.9 483.1,430.9 487.9,420.8 491.7,422.7 496.8,430.3 500.6,429.7 506.9,422.7 509.7,424.6 513.1,421.8 515.8,425.5 518.3,425 520.7,430.9 522.6,427.4 524.9,430.9 528.7,430.9 531,425.5 533.4,429 535.3,429.7 537.8,430.9 540.5,413.8 542.4,418 543.3,430.9 544.8,428.4 546.2,430.9 557.2,431.1 559,429 560.5,431.1 563.8,431.1 565,422.2 566.2,424.5 567.4,431.1 569.3,431.1 570,424.5 570.8,431.1 571.3,431 572,418.1 573.7,421 574.8,431.1 578.3,431.1 579,429.2 579.7,431.1 582.2,431.1 583.1,421.6 584,422.8 585,431.1 588,431.1 588.9,411.7 590,431.1 592,431.1 592.8,423.1 593.6,431.1 600.5,431.1 601.3,417.1 602.2,419 603.3,420.1 604,425 605,426.3 606.5,429 607,431.1 608,431.1 608.6,423.6 610.3,423 611.2,408.3 612.2,423 613,424.1 614.5,428 615.3,431.1 616.7,431.1 617.3,426.3 618.3,428 619.1,417.1 620,420 620.7,421.5 621.5,429 622.4,431.1 623.5,422.3 624.5,423 625.6,408.8 626.6,420 627.6,415.3 629.2,421.5 630.5,430 631.6,425.4 632.5,430 634,423.6 635,429 636.3,413.1 637.2,421 638.1,422.3 639.5,430.5 640.5,423.6 642.7,422.3 644,420.1 645.3,406.6 646.7,425 648.4,426.3 649.5,428 650.3,418.4 651.7,418.8 652.8,425" fill="none" stroke="#2450a8" stroke-width="1.7" stroke-linejoin="round"/>
</g>
<line x1="453.2" y1="424" x2="541" y2="424" stroke="#e8323c" stroke-width="2" stroke-dasharray="5 3"/>
<rect x="392.5" y="272.7" width="260" height="209.8" fill="none" stroke="#666" stroke-width="1.3"/>
<text x="388.3" y="455.4" font-size="10" text-anchor="end" font-weight="bold" fill="#231f20" stroke="#231f20" stroke-width="0.28">−140</text>
<text x="388.3" y="415.5" font-size="10" text-anchor="end" font-weight="bold" fill="#231f20" stroke="#231f20" stroke-width="0.28">−120</text>
<text x="388.3" y="375.6" font-size="10" text-anchor="end" font-weight="bold" fill="#231f20" stroke="#231f20" stroke-width="0.28">−100</text>
<text x="388.3" y="335.7" font-size="10" text-anchor="end" font-weight="bold" fill="#231f20" stroke="#231f20" stroke-width="0.28">−80</text>
<text x="388.3" y="295.8" font-size="10" text-anchor="end" font-weight="bold" fill="#231f20" stroke="#231f20" stroke-width="0.28">−60</text>
<text x="462.6" y="496.8" font-size="10" font-weight="bold" fill="#231f20" text-anchor="middle" stroke="#231f20" stroke-width="0.28">10<tspan font-size="7" dy="-4.2">1</tspan></text>
<text x="561.9" y="496.8" font-size="10" font-weight="bold" fill="#231f20" text-anchor="middle" stroke="#231f20" stroke-width="0.28">10<tspan font-size="7" dy="-4.2">2</tspan></text>
<text x="519.5" y="510.3" font-size="10" text-anchor="middle" font-weight="bold" fill="#231f20" stroke="#231f20" stroke-width="0.28">Frequency(Hz)</text>
<text x="460.1" y="448.9" font-size="10" text-anchor="start" font-weight="bold" fill="#231f20" stroke="#231f20" stroke-width="0.28">Noise floor = 0.562 µV/√Hz)</text>
<text transform="translate(361.5,373.2) rotate(-90)" font-size="10" font-weight="bold" fill="#231f20" text-anchor="middle" stroke="#231f20" stroke-width="0.28">Noise densitY(dBV/√Hz)</text>
<line x1="392.5" y1="736.7" x2="652.8" y2="736.7" stroke="#cdcdcd" stroke-width="0.8" stroke-dasharray="1 1.1"/>
<line x1="392.5" y1="720.57" x2="652.8" y2="720.57" stroke="#dddddd" stroke-width="0.8" stroke-dasharray="1 1.1"/>
<line x1="392.5" y1="704.44" x2="652.8" y2="704.44" stroke="#cdcdcd" stroke-width="0.8" stroke-dasharray="1 1.1"/>
<line x1="392.5" y1="688.3" x2="652.8" y2="688.3" stroke="#dddddd" stroke-width="0.8" stroke-dasharray="1 1.1"/>
<line x1="392.5" y1="672.17" x2="652.8" y2="672.17" stroke="#cdcdcd" stroke-width="0.8" stroke-dasharray="1 1.1"/>
<line x1="392.5" y1="656.04" x2="652.8" y2="656.04" stroke="#dddddd" stroke-width="0.8" stroke-dasharray="1 1.1"/>
<line x1="392.5" y1="639.91" x2="652.8" y2="639.91" stroke="#cdcdcd" stroke-width="0.8" stroke-dasharray="1 1.1"/>
<line x1="392.5" y1="623.77" x2="652.8" y2="623.77" stroke="#dddddd" stroke-width="0.8" stroke-dasharray="1 1.1"/>
<line x1="392.5" y1="607.64" x2="652.8" y2="607.64" stroke="#cdcdcd" stroke-width="0.8" stroke-dasharray="1 1.1"/>
<line x1="392.5" y1="591.51" x2="652.8" y2="591.51" stroke="#dddddd" stroke-width="0.8" stroke-dasharray="1 1.1"/>
<line x1="392.5" y1="575.38" x2="652.8" y2="575.38" stroke="#cdcdcd" stroke-width="0.8" stroke-dasharray="1 1.1"/>
<line x1="392.5" y1="559.24" x2="652.8" y2="559.24" stroke="#dddddd" stroke-width="0.8" stroke-dasharray="1 1.1"/>
<line x1="392.5" y1="543.11" x2="652.8" y2="543.11" stroke="#cdcdcd" stroke-width="0.8" stroke-dasharray="1 1.1"/>
<line x1="412.46" y1="536.3" x2="412.46" y2="746.4" stroke="#dddddd" stroke-width="0.8" stroke-dasharray="1 1.1"/>
<line x1="432.52" y1="536.3" x2="432.52" y2="746.4" stroke="#cdcdcd" stroke-width="0.8" stroke-dasharray="1 1.1"/>
<line x1="452.58" y1="536.3" x2="452.58" y2="746.4" stroke="#dddddd" stroke-width="0.8" stroke-dasharray="1 1.1"/>
<line x1="472.64" y1="536.3" x2="472.64" y2="746.4" stroke="#cdcdcd" stroke-width="0.8" stroke-dasharray="1 1.1"/>
<line x1="492.7" y1="536.3" x2="492.7" y2="746.4" stroke="#dddddd" stroke-width="0.8" stroke-dasharray="1 1.1"/>
<line x1="512.76" y1="536.3" x2="512.76" y2="746.4" stroke="#cdcdcd" stroke-width="0.8" stroke-dasharray="1 1.1"/>
<line x1="532.82" y1="536.3" x2="532.82" y2="746.4" stroke="#dddddd" stroke-width="0.8" stroke-dasharray="1 1.1"/>
<line x1="552.88" y1="536.3" x2="552.88" y2="746.4" stroke="#cdcdcd" stroke-width="0.8" stroke-dasharray="1 1.1"/>
<line x1="572.94" y1="536.3" x2="572.94" y2="746.4" stroke="#dddddd" stroke-width="0.8" stroke-dasharray="1 1.1"/>
<line x1="593" y1="536.3" x2="593" y2="746.4" stroke="#cdcdcd" stroke-width="0.8" stroke-dasharray="1 1.1"/>
<line x1="613.06" y1="536.3" x2="613.06" y2="746.4" stroke="#dddddd" stroke-width="0.8" stroke-dasharray="1 1.1"/>
<line x1="633.12" y1="536.3" x2="633.12" y2="746.4" stroke="#cdcdcd" stroke-width="0.8" stroke-dasharray="1 1.1"/>
<line x1="392.5" y1="736.7" x2="396" y2="736.7" stroke="#4a4a4a" stroke-width="1"/>
<line x1="392.5" y1="704.44" x2="396" y2="704.44" stroke="#4a4a4a" stroke-width="1"/>
<line x1="392.5" y1="672.17" x2="396" y2="672.17" stroke="#4a4a4a" stroke-width="1"/>
<line x1="392.5" y1="639.91" x2="396" y2="639.91" stroke="#4a4a4a" stroke-width="1"/>
<line x1="392.5" y1="607.64" x2="396" y2="607.64" stroke="#4a4a4a" stroke-width="1"/>
<line x1="392.5" y1="575.38" x2="396" y2="575.38" stroke="#4a4a4a" stroke-width="1"/>
<line x1="392.5" y1="543.11" x2="396" y2="543.11" stroke="#4a4a4a" stroke-width="1"/>
<line x1="392.5" y1="720.57" x2="394.5" y2="720.57" stroke="#4a4a4a" stroke-width="1"/>
<line x1="392.5" y1="688.3" x2="394.5" y2="688.3" stroke="#4a4a4a" stroke-width="1"/>
<line x1="392.5" y1="656.04" x2="394.5" y2="656.04" stroke="#4a4a4a" stroke-width="1"/>
<line x1="392.5" y1="623.77" x2="394.5" y2="623.77" stroke="#4a4a4a" stroke-width="1"/>
<line x1="392.5" y1="591.51" x2="394.5" y2="591.51" stroke="#4a4a4a" stroke-width="1"/>
<line x1="392.5" y1="559.24" x2="394.5" y2="559.24" stroke="#4a4a4a" stroke-width="1"/>
<line x1="392.4" y1="746.4" x2="392.4" y2="742.9" stroke="#4a4a4a" stroke-width="1"/>
<line x1="392.4" y1="536.3" x2="392.4" y2="539.8" stroke="#4a4a4a" stroke-width="1"/>
<line x1="432.52" y1="746.4" x2="432.52" y2="742.9" stroke="#4a4a4a" stroke-width="1"/>
<line x1="432.52" y1="536.3" x2="432.52" y2="539.8" stroke="#4a4a4a" stroke-width="1"/>
<line x1="472.64" y1="746.4" x2="472.64" y2="742.9" stroke="#4a4a4a" stroke-width="1"/>
<line x1="472.64" y1="536.3" x2="472.64" y2="539.8" stroke="#4a4a4a" stroke-width="1"/>
<line x1="512.76" y1="746.4" x2="512.76" y2="742.9" stroke="#4a4a4a" stroke-width="1"/>
<line x1="512.76" y1="536.3" x2="512.76" y2="539.8" stroke="#4a4a4a" stroke-width="1"/>
<line x1="552.88" y1="746.4" x2="552.88" y2="742.9" stroke="#4a4a4a" stroke-width="1"/>
<line x1="552.88" y1="536.3" x2="552.88" y2="539.8" stroke="#4a4a4a" stroke-width="1"/>
<line x1="593" y1="746.4" x2="593" y2="742.9" stroke="#4a4a4a" stroke-width="1"/>
<line x1="593" y1="536.3" x2="593" y2="539.8" stroke="#4a4a4a" stroke-width="1"/>
<line x1="633.12" y1="746.4" x2="633.12" y2="742.9" stroke="#4a4a4a" stroke-width="1"/>
<line x1="633.12" y1="536.3" x2="633.12" y2="539.8" stroke="#4a4a4a" stroke-width="1"/>
<line x1="412.46" y1="746.4" x2="412.46" y2="744.4" stroke="#4a4a4a" stroke-width="1"/>
<line x1="412.46" y1="536.3" x2="412.46" y2="538.3" stroke="#4a4a4a" stroke-width="1"/>
<line x1="452.58" y1="746.4" x2="452.58" y2="744.4" stroke="#4a4a4a" stroke-width="1"/>
<line x1="452.58" y1="536.3" x2="452.58" y2="538.3" stroke="#4a4a4a" stroke-width="1"/>
<line x1="492.7" y1="746.4" x2="492.7" y2="744.4" stroke="#4a4a4a" stroke-width="1"/>
<line x1="492.7" y1="536.3" x2="492.7" y2="538.3" stroke="#4a4a4a" stroke-width="1"/>
<line x1="532.82" y1="746.4" x2="532.82" y2="744.4" stroke="#4a4a4a" stroke-width="1"/>
<line x1="532.82" y1="536.3" x2="532.82" y2="538.3" stroke="#4a4a4a" stroke-width="1"/>
<line x1="572.94" y1="746.4" x2="572.94" y2="744.4" stroke="#4a4a4a" stroke-width="1"/>
<line x1="572.94" y1="536.3" x2="572.94" y2="538.3" stroke="#4a4a4a" stroke-width="1"/>
<line x1="613.06" y1="746.4" x2="613.06" y2="744.4" stroke="#4a4a4a" stroke-width="1"/>
<line x1="613.06" y1="536.3" x2="613.06" y2="538.3" stroke="#4a4a4a" stroke-width="1"/>
<line x1="652.8" y1="733.2" x2="649.3" y2="733.2" stroke="#e8323c" stroke-width="1"/>
<line x1="652.8" y1="706.94" x2="649.3" y2="706.94" stroke="#e8323c" stroke-width="1"/>
<line x1="652.8" y1="680.68" x2="649.3" y2="680.68" stroke="#e8323c" stroke-width="1"/>
<line x1="652.8" y1="654.42" x2="649.3" y2="654.42" stroke="#e8323c" stroke-width="1"/>
<line x1="652.8" y1="628.16" x2="649.3" y2="628.16" stroke="#e8323c" stroke-width="1"/>
<line x1="652.8" y1="601.9" x2="649.3" y2="601.9" stroke="#e8323c" stroke-width="1"/>
<line x1="652.8" y1="575.64" x2="649.3" y2="575.64" stroke="#e8323c" stroke-width="1"/>
<line x1="652.8" y1="549.38" x2="649.3" y2="549.38" stroke="#e8323c" stroke-width="1"/>
<line x1="652.8" y1="746.33" x2="650.8" y2="746.33" stroke="#e8323c" stroke-width="1"/>
<line x1="652.8" y1="720.07" x2="650.8" y2="720.07" stroke="#e8323c" stroke-width="1"/>
<line x1="652.8" y1="693.81" x2="650.8" y2="693.81" stroke="#e8323c" stroke-width="1"/>
<line x1="652.8" y1="667.55" x2="650.8" y2="667.55" stroke="#e8323c" stroke-width="1"/>
<line x1="652.8" y1="641.29" x2="650.8" y2="641.29" stroke="#e8323c" stroke-width="1"/>
<line x1="652.8" y1="615.03" x2="650.8" y2="615.03" stroke="#e8323c" stroke-width="1"/>
<line x1="652.8" y1="588.77" x2="650.8" y2="588.77" stroke="#e8323c" stroke-width="1"/>
<line x1="652.8" y1="562.51" x2="650.8" y2="562.51" stroke="#e8323c" stroke-width="1"/>
<line x1="652.8" y1="536.25" x2="650.8" y2="536.25" stroke="#e8323c" stroke-width="1"/>
<line x1="392.5" y1="536.3" x2="652.8" y2="536.3" stroke="#666" stroke-width="1.3"/>
<line x1="392.5" y1="746.4" x2="652.8" y2="746.4" stroke="#666" stroke-width="1.3"/>
<line x1="392.5" y1="536.3" x2="392.5" y2="746.4" stroke="#666" stroke-width="1.3"/>
<line x1="652.8" y1="536.3" x2="652.8" y2="746.4" stroke="#ef6a71" stroke-width="1.5"/>
<polyline points="412.46,558.9 432.52,619 452.58,657.1 472.64,680.7 492.7,689.9 512.76,698.9 532.82,706.2 552.88,714.4 572.94,718 593,722 613.06,725.4 633.12,728" fill="none" stroke="#444" stroke-width="0.9" stroke-linejoin="round"/>
<polyline points="412.46,732 432.52,714.9 452.58,658.9 472.64,624.3 492.7,604.6 512.76,583.6 532.82,571.2 552.88,562 572.94,557.3 593,554.7 613.06,556 633.12,554.2" fill="none" stroke="#e8323c" stroke-width="1" stroke-linejoin="round"/>
<rect x="410.66" y="557.1" width="3.6" height="3.6" fill="#111"/>
<rect x="430.72" y="617.2" width="3.6" height="3.6" fill="#111"/>
<rect x="450.78" y="655.3" width="3.6" height="3.6" fill="#111"/>
<rect x="470.84" y="678.9" width="3.6" height="3.6" fill="#111"/>
<rect x="490.9" y="688.1" width="3.6" height="3.6" fill="#111"/>
<rect x="510.96" y="697.1" width="3.6" height="3.6" fill="#111"/>
<rect x="531.02" y="704.4" width="3.6" height="3.6" fill="#111"/>
<rect x="551.08" y="712.6" width="3.6" height="3.6" fill="#111"/>
<rect x="571.14" y="716.2" width="3.6" height="3.6" fill="#111"/>
<rect x="591.2" y="720.2" width="3.6" height="3.6" fill="#111"/>
<rect x="611.26" y="723.6" width="3.6" height="3.6" fill="#111"/>
<rect x="631.32" y="726.2" width="3.6" height="3.6" fill="#111"/>
<rect x="410.66" y="730.2" width="3.6" height="3.6" fill="#e8323c"/>
<rect x="430.72" y="713.1" width="3.6" height="3.6" fill="#e8323c"/>
<rect x="450.78" y="657.1" width="3.6" height="3.6" fill="#e8323c"/>
<rect x="470.84" y="622.5" width="3.6" height="3.6" fill="#e8323c"/>
<rect x="490.9" y="602.8" width="3.6" height="3.6" fill="#e8323c"/>
<rect x="510.96" y="581.8" width="3.6" height="3.6" fill="#e8323c"/>
<rect x="531.02" y="569.4" width="3.6" height="3.6" fill="#e8323c"/>
<rect x="551.08" y="560.2" width="3.6" height="3.6" fill="#e8323c"/>
<rect x="571.14" y="555.5" width="3.6" height="3.6" fill="#e8323c"/>
<rect x="591.2" y="552.9" width="3.6" height="3.6" fill="#e8323c"/>
<rect x="611.26" y="554.2" width="3.6" height="3.6" fill="#e8323c"/>
<rect x="631.32" y="552.4" width="3.6" height="3.6" fill="#e8323c"/>
<ellipse cx="552.3" cy="711.5" rx="10.3" ry="15.6" fill="none" stroke="#111" stroke-width="1.3" stroke-dasharray="3.2 2"/>
<ellipse cx="537.1" cy="570.4" rx="10.1" ry="15.4" fill="none" stroke="#e8323c" stroke-width="1.3" stroke-dasharray="3.2 2"/>
<line x1="479" y1="716.2" x2="530" y2="716.2" stroke="#111" stroke-width="1"/>
<path d="M475.3,716.2 L481.5,714.2 L481.5,718.2Z" fill="#111"/>
<line x1="553.1" y1="581.7" x2="598.5" y2="581.7" stroke="#e8323c" stroke-width="1"/>
<path d="M602.2,581.7 L596,579.7 L596,583.7Z" fill="#e8323c"/>
<text x="388.3" y="740.1" font-size="10" text-anchor="end" font-weight="bold" fill="#231f20" stroke="#231f20" stroke-width="0.28">0</text>
<text x="388.3" y="707.84" font-size="10" text-anchor="end" font-weight="bold" fill="#231f20" stroke="#231f20" stroke-width="0.28">500</text>
<text x="388.3" y="675.57" font-size="10" text-anchor="end" font-weight="bold" fill="#231f20" stroke="#231f20" stroke-width="0.28">1000</text>
<text x="388.3" y="643.31" font-size="10" text-anchor="end" font-weight="bold" fill="#231f20" stroke="#231f20" stroke-width="0.28">1500</text>
<text x="388.3" y="611.04" font-size="10" text-anchor="end" font-weight="bold" fill="#231f20" stroke="#231f20" stroke-width="0.28">2000</text>
<text x="388.3" y="578.77" font-size="10" text-anchor="end" font-weight="bold" fill="#231f20" stroke="#231f20" stroke-width="0.28">2500</text>
<text x="388.3" y="546.51" font-size="10" text-anchor="end" font-weight="bold" fill="#231f20" stroke="#231f20" stroke-width="0.28">3000</text>
<text x="657.6" y="736.8" font-size="10.4" text-anchor="start" font-weight="normal" fill="#e8323c" stroke="#e8323c" stroke-width="0.25">15</text>
<text x="657.6" y="710.54" font-size="10.4" text-anchor="start" font-weight="normal" fill="#e8323c" stroke="#e8323c" stroke-width="0.25">16</text>
<text x="657.6" y="684.28" font-size="10.4" text-anchor="start" font-weight="normal" fill="#e8323c" stroke="#e8323c" stroke-width="0.25">17</text>
<text x="657.6" y="658.02" font-size="10.4" text-anchor="start" font-weight="normal" fill="#e8323c" stroke="#e8323c" stroke-width="0.25">18</text>
<text x="657.6" y="631.76" font-size="10.4" text-anchor="start" font-weight="normal" fill="#e8323c" stroke="#e8323c" stroke-width="0.25">19</text>
<text x="657.6" y="605.5" font-size="10.4" text-anchor="start" font-weight="normal" fill="#e8323c" stroke="#e8323c" stroke-width="0.25">20</text>
<text x="657.6" y="579.24" font-size="10.4" text-anchor="start" font-weight="normal" fill="#e8323c" stroke="#e8323c" stroke-width="0.25">21</text>
<text x="657.6" y="552.98" font-size="10.4" text-anchor="start" font-weight="normal" fill="#e8323c" stroke="#e8323c" stroke-width="0.25">22</text>
<text x="392.4" y="757.5" font-size="10" text-anchor="middle" font-weight="bold" fill="#231f20" stroke="#231f20" stroke-width="0.28">10</text>
<text x="432.52" y="757.5" font-size="10" text-anchor="middle" font-weight="bold" fill="#231f20" stroke="#231f20" stroke-width="0.28">20</text>
<text x="472.64" y="757.5" font-size="10" text-anchor="middle" font-weight="bold" fill="#231f20" stroke="#231f20" stroke-width="0.28">30</text>
<text x="512.76" y="757.5" font-size="10" text-anchor="middle" font-weight="bold" fill="#231f20" stroke="#231f20" stroke-width="0.28">40</text>
<text x="552.88" y="757.5" font-size="10" text-anchor="middle" font-weight="bold" fill="#231f20" stroke="#231f20" stroke-width="0.28">50</text>
<text x="593" y="757.5" font-size="10" text-anchor="middle" font-weight="bold" fill="#231f20" stroke="#231f20" stroke-width="0.28">60</text>
<text x="633.12" y="757.5" font-size="10" text-anchor="middle" font-weight="bold" fill="#231f20" stroke="#231f20" stroke-width="0.28">70</text>
<text x="519.6" y="771.8" font-size="10" text-anchor="middle" font-weight="bold" fill="#231f20" stroke="#231f20" stroke-width="0.28">Beam voltage (V)</text>
<text transform="translate(359,638.5) rotate(-90)" font-size="10" font-weight="bold" fill="#231f20" text-anchor="middle" stroke="#231f20" stroke-width="0.28">Quality factor</text>
<text transform="translate(683,643) rotate(-90)" font-size="10" font-weight="bold" fill="#e8323c" text-anchor="middle" stroke="#e8323c" stroke-width="0.28">Signal-to-roise ratio(dB)</text>
<text x="-1" y="10.6" font-size="14.6" font-weight="bold" fill="#231f20" stroke="none">a</text>
<text x="-0.5" y="276.2" font-size="14.6" font-weight="bold" fill="#231f20" stroke="none">b</text>
<text x="-0.5" y="540.4" font-size="14.6" font-weight="bold" fill="#231f20" stroke="none">c</text>
<text x="348.6" y="10.6" font-size="14.6" font-weight="bold" fill="#231f20" stroke="none">d</text>
<text x="348.6" y="276.2" font-size="14.6" font-weight="bold" fill="#231f20" stroke="none">e</text>
<text x="348.6" y="540.2" font-size="14.6" font-weight="bold" fill="#231f20" stroke="none">f</text>
</svg></body></html>
